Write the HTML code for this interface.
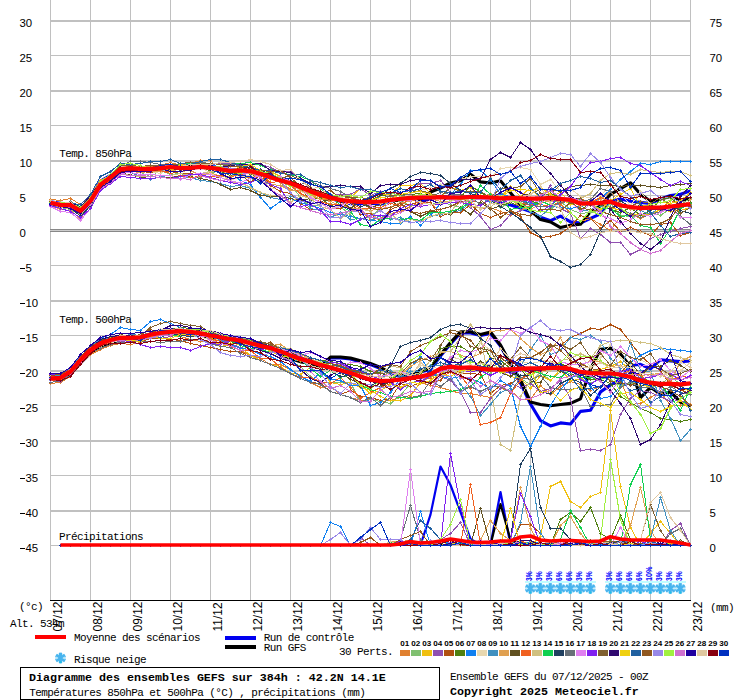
<!DOCTYPE html>
<html><head><meta charset="utf-8"><title>GEFS</title>
<style>
html,body{margin:0;padding:0;background:#fff;}
body{width:740px;height:700px;overflow:hidden;}
svg{display:block;}
.s{font-family:"Liberation Sans",sans-serif;font-size:11.4px;fill:#000;}
.d{font-family:"Liberation Sans",sans-serif;font-size:12px;fill:#000;}
.m{font-family:"Liberation Mono",monospace;font-size:11px;letter-spacing:-0.6px;fill:#000;}
.b{font-family:"Liberation Mono",monospace;font-weight:bold;font-size:11.67px;letter-spacing:0px;fill:#000;}
.t{font-family:"Liberation Sans",sans-serif;font-weight:bold;font-size:7.5px;fill:#000;}
.p{font-family:"Liberation Sans",sans-serif;font-weight:bold;font-size:8.6px;fill:#00f;}
.l{fill:none;stroke-linejoin:round;}
</style></head><body>
<svg width="740" height="700" viewBox="0 0 740 700">
<rect x="0" y="0" width="740" height="700" fill="#fff"/>
<g shape-rendering="crispEdges">
<rect x="50" y="0" width="1" height="600" fill="#c0c0c0"/>
<rect x="90" y="0" width="1" height="600" fill="#c0c0c0"/>
<rect x="130" y="0" width="1" height="600" fill="#c0c0c0"/>
<rect x="170" y="0" width="1" height="600" fill="#c0c0c0"/>
<rect x="210" y="0" width="1" height="600" fill="#c0c0c0"/>
<rect x="250" y="0" width="1" height="600" fill="#c0c0c0"/>
<rect x="290" y="0" width="1" height="600" fill="#c0c0c0"/>
<rect x="330" y="0" width="1" height="600" fill="#c0c0c0"/>
<rect x="370" y="0" width="1" height="600" fill="#c0c0c0"/>
<rect x="410" y="0" width="1" height="600" fill="#c0c0c0"/>
<rect x="450" y="0" width="1" height="600" fill="#c0c0c0"/>
<rect x="490" y="0" width="1" height="600" fill="#c0c0c0"/>
<rect x="530" y="0" width="1" height="600" fill="#c0c0c0"/>
<rect x="570" y="0" width="1" height="600" fill="#c0c0c0"/>
<rect x="610" y="0" width="1" height="600" fill="#c0c0c0"/>
<rect x="650" y="0" width="1" height="600" fill="#c0c0c0"/>
<rect x="690" y="0" width="1" height="600" fill="#c0c0c0"/>
<rect x="50" y="20" width="641" height="2" fill="#c0c0c0"/>
<rect x="50" y="55" width="641" height="1" fill="#c0c0c0"/>
<rect x="50" y="90" width="641" height="2" fill="#c0c0c0"/>
<rect x="50" y="125" width="641" height="1" fill="#c0c0c0"/>
<rect x="50" y="160" width="641" height="2" fill="#c0c0c0"/>
<rect x="50" y="195" width="641" height="1" fill="#c0c0c0"/>
<rect x="50" y="229" width="641" height="1" fill="#888"/>
<rect x="50" y="230" width="641" height="1" fill="#ccc"/>
<rect x="50" y="231" width="641" height="1" fill="#888"/>
<rect x="50" y="265" width="641" height="1" fill="#c0c0c0"/>
<rect x="50" y="300" width="641" height="2" fill="#c0c0c0"/>
<rect x="50" y="335" width="641" height="1" fill="#c0c0c0"/>
<rect x="50" y="370" width="641" height="2" fill="#c0c0c0"/>
<rect x="50" y="405" width="641" height="1" fill="#c0c0c0"/>
<rect x="50" y="440" width="641" height="2" fill="#c0c0c0"/>
<rect x="50" y="475" width="641" height="1" fill="#c0c0c0"/>
<rect x="50" y="510" width="641" height="2" fill="#c0c0c0"/>
<rect x="50" y="545" width="641" height="1" fill="#c0c0c0"/>
</g>
<text class="s" x="19.5" y="27">30</text>
<text class="s" x="709.5" y="27">75</text>
<text class="s" x="19.5" y="62">25</text>
<text class="s" x="709.5" y="62">70</text>
<text class="s" x="19.5" y="97">20</text>
<text class="s" x="709.5" y="97">65</text>
<text class="s" x="19.5" y="132">15</text>
<text class="s" x="709.5" y="132">60</text>
<text class="s" x="19.5" y="167">10</text>
<text class="s" x="709.5" y="167">55</text>
<text class="s" x="19.5" y="202">5</text>
<text class="s" x="709.5" y="202">50</text>
<text class="s" x="19.5" y="237">0</text>
<text class="s" x="709.5" y="237">45</text>
<rect x="20" y="268" width="5" height="1" fill="#000" shape-rendering="crispEdges"/>
<text class="s" x="25.5" y="272">5</text>
<text class="s" x="709.5" y="272">40</text>
<rect x="20" y="303" width="5" height="1" fill="#000" shape-rendering="crispEdges"/>
<text class="s" x="25.5" y="307">10</text>
<text class="s" x="709.5" y="307">35</text>
<rect x="20" y="338" width="5" height="1" fill="#000" shape-rendering="crispEdges"/>
<text class="s" x="25.5" y="342">15</text>
<text class="s" x="709.5" y="342">30</text>
<rect x="20" y="373" width="5" height="1" fill="#000" shape-rendering="crispEdges"/>
<text class="s" x="25.5" y="377">20</text>
<text class="s" x="709.5" y="377">25</text>
<rect x="20" y="408" width="5" height="1" fill="#000" shape-rendering="crispEdges"/>
<text class="s" x="25.5" y="412">25</text>
<text class="s" x="709.5" y="412">20</text>
<rect x="20" y="443" width="5" height="1" fill="#000" shape-rendering="crispEdges"/>
<text class="s" x="25.5" y="447">30</text>
<text class="s" x="709.5" y="447">15</text>
<rect x="20" y="478" width="5" height="1" fill="#000" shape-rendering="crispEdges"/>
<text class="s" x="25.5" y="482">35</text>
<text class="s" x="709.5" y="482">10</text>
<rect x="20" y="513" width="5" height="1" fill="#000" shape-rendering="crispEdges"/>
<text class="s" x="25.5" y="517">40</text>
<text class="s" x="709.5" y="517">5</text>
<rect x="20" y="548" width="5" height="1" fill="#000" shape-rendering="crispEdges"/>
<text class="s" x="25.5" y="552">45</text>
<text class="s" x="709.5" y="552">0</text>
<polyline class="l" points="50.5,201.8 60.5,203.2 70.5,204.4 80.5,208.3 90.5,198.7 100.5,181.1 110.5,175.4 120.5,167.8 130.5,168.1 140.5,168.5 150.5,169.2 160.5,167.9 170.5,166.2 180.5,167.6 190.5,166.4 200.5,165.4 210.5,167.2 220.5,168.8 230.5,170.4 240.5,171.6 250.5,172.1 260.5,174.2 270.5,177.7 280.5,180.4 290.5,182.8 300.5,186.7 310.5,192.6 320.5,195.8 330.5,198.5 340.5,201.3 350.5,203.7 360.5,203.8 370.5,203.2 380.5,204.3 390.5,201.0 400.5,199.4 410.5,198.9 420.5,200.3 430.5,198.8 440.5,196.3 450.5,197.3 460.5,197.1 470.5,196.2 480.5,196.8 490.5,199.0 500.5,203.0 510.5,205.0 520.5,208.0 530.5,211.6 540.5,217.3 550.5,220.7 560.5,216.1 570.5,221.9 580.5,223.0 590.5,218.4 600.5,213.9 610.5,201.2 620.5,198.9 630.5,201.2 640.5,202.4 650.5,203.5 660.5,198.9 670.5,195.5 680.5,194.3 690.5,190.9" stroke="#0000f0" stroke-width="3.1"/>
<polyline class="l" points="50.5,203.1 60.5,203.8 70.5,203.7 80.5,209.7 90.5,201.1 100.5,184.8 110.5,176.1 120.5,168.5 130.5,166.6 140.5,168.7 150.5,168.8 160.5,169.2 170.5,167.8 180.5,167.9 190.5,166.5 200.5,165.5 210.5,167.1 220.5,169.6 230.5,171.6 240.5,170.2 250.5,171.4 260.5,172.9 270.5,176.9 280.5,179.6 290.5,183.7 300.5,188.5 310.5,192.6 320.5,195.1 330.5,198.2 340.5,200.8 350.5,201.3 360.5,201.5 370.5,202.9 380.5,201.8 390.5,200.5 400.5,200.4 410.5,198.0 420.5,199.2 430.5,192.0 440.5,188.0 450.5,183.0 460.5,180.8 470.5,174.3 480.5,181.9 490.5,183.0 500.5,180.8 510.5,192.7 520.5,205.0 530.5,210.4 540.5,219.6 550.5,221.9 560.5,227.6 570.5,225.3 580.5,224.2 590.5,211.6 600.5,205.8 610.5,194.3 620.5,188.6 630.5,182.8 640.5,194.3 650.5,201.2 660.5,198.9 670.5,196.6 680.5,200.1 690.5,198.9" stroke="#000" stroke-width="3.1"/>
<polyline class="l" points="50.5,378.2 60.5,378.0 70.5,371.6 80.5,359.8 90.5,349.1 100.5,342.3 110.5,340.2 120.5,338.3 130.5,339.0 140.5,338.5 150.5,335.8 160.5,334.1 170.5,331.5 180.5,331.4 190.5,332.6 200.5,334.3 210.5,334.9 220.5,335.4 230.5,337.0 240.5,338.4 250.5,341.7 260.5,344.7 270.5,347.5 280.5,350.4 290.5,354.9 300.5,358.8 310.5,361.0 320.5,365.8 330.5,358.0 340.5,358.0 350.5,359.0 360.5,362.0 370.5,364.5 380.5,368.5 390.5,374.0 400.5,376.5 410.5,375.5 420.5,372.0 430.5,369.5 440.5,356.0 450.5,344.0 460.5,333.0 470.5,333.0 480.5,335.5 490.5,333.5 500.5,346.0 510.5,364.0 520.5,383.0 530.5,404.0 540.5,420.6 550.5,425.9 560.5,422.9 570.5,424.0 580.5,411.4 590.5,410.3 600.5,391.9 610.5,385.0 620.5,379.3 630.5,365.5 640.5,364.3 650.5,368.9 660.5,359.7 670.5,360.9 680.5,361.6 690.5,360.9" stroke="#0000f0" stroke-width="3.1"/>
<polyline class="l" points="50.5,378.7 60.5,380.1 70.5,374.3 80.5,363.0 90.5,353.0 100.5,345.9 110.5,342.7 120.5,339.9 130.5,339.0 140.5,337.5 150.5,333.9 160.5,332.7 170.5,332.2 180.5,332.7 190.5,333.7 200.5,335.2 210.5,337.5 220.5,339.0 230.5,339.1 240.5,341.4 250.5,343.6 260.5,346.5 270.5,348.5 280.5,354.2 290.5,358.6 300.5,361.9 310.5,363.2 320.5,367.0 330.5,357.0 340.5,357.0 350.5,358.1 360.5,360.8 370.5,363.5 380.5,367.4 390.5,373.1 400.5,375.4 410.5,374.3 420.5,371.0 430.5,368.5 440.5,354.7 450.5,342.6 460.5,331.7 470.5,331.7 480.5,334.5 490.5,332.0 500.5,345.0 510.5,363.6 520.5,380.0 530.5,402.0 540.5,404.5 550.5,405.7 560.5,404.5 570.5,403.4 580.5,398.8 590.5,368.9 600.5,349.4 610.5,348.2 620.5,354.0 630.5,366.6 640.5,397.6 650.5,387.3 660.5,394.2 670.5,391.9 680.5,402.2 690.5,405.7" stroke="#000" stroke-width="3.1"/>
<polyline class="l" points="60.5,545.0 70.5,545.0 80.5,545.0 90.5,545.0 100.5,545.0 110.5,545.0 120.5,545.0 130.5,545.0 140.5,545.0 150.5,545.0 160.5,545.0 170.5,545.0 180.5,545.0 190.5,545.0 200.5,545.0 210.5,545.0 220.5,545.0 230.5,545.0 240.5,545.0 250.5,545.0 260.5,545.0 270.5,545.0 280.5,545.0 290.5,545.0 300.5,545.0 310.5,545.0 320.5,545.0 330.5,545.0 340.5,545.0 350.5,545.0 360.5,545.0 370.5,545.0 380.5,545.0 390.5,545.0 400.5,545.0 410.5,545.0 420.5,545.0 430.5,514.6 440.5,466.5 450.5,485.0 460.5,512.0 470.5,539.0 480.5,545.0 490.5,545.0 500.5,492.0 510.5,545.0 520.5,545.0 530.5,545.0 540.5,545.0 550.5,545.0 560.5,545.0 570.5,545.0 580.5,545.0 590.5,545.0 600.5,545.0 610.5,545.0 620.5,545.0 630.5,545.0 640.5,545.0 650.5,545.0 660.5,545.0 670.5,545.0 680.5,545.0 690.5,545.0" stroke="#0000f0" stroke-width="2.2"/>
<polyline class="l" points="60.5,545.0 70.5,545.0 80.5,545.0 90.5,545.0 100.5,545.0 110.5,545.0 120.5,545.0 130.5,545.0 140.5,545.0 150.5,545.0 160.5,545.0 170.5,545.0 180.5,545.0 190.5,545.0 200.5,545.0 210.5,545.0 220.5,545.0 230.5,545.0 240.5,545.0 250.5,545.0 260.5,545.0 270.5,545.0 280.5,545.0 290.5,545.0 300.5,545.0 310.5,545.0 320.5,545.0 330.5,545.0 340.5,545.0 350.5,545.0 360.5,545.0 370.5,545.0 380.5,545.0 390.5,545.0 400.5,545.0 410.5,545.0 420.5,545.0 430.5,545.0 440.5,545.0 450.5,545.0 460.5,545.0 470.5,545.0 480.5,545.0 490.5,545.0 500.5,504.0 510.5,539.7 520.5,545.0 530.5,545.0 540.5,545.0 550.5,545.0 560.5,545.0 570.5,545.0 580.5,545.0 590.5,545.0 600.5,545.0 610.5,545.0 620.5,545.0 630.5,545.0 640.5,545.0 650.5,545.0 660.5,545.0 670.5,545.0 680.5,545.0 690.5,545.0" stroke="#000" stroke-width="2.2"/>
<g id="t850" shape-rendering="crispEdges">
<polyline class="l" points="50.5,199.5 60.5,200.5 70.5,198.5 80.5,204.5 90.5,194.5 100.5,180.5 110.5,175.5 120.5,168.5 130.5,165.5 140.5,166.5 150.5,166.5 160.5,165.5 170.5,162.5 180.5,165.5 190.5,163.5 200.5,160.5 210.5,160.5 220.5,170.5 230.5,170.5 240.5,168.5 250.5,173.5 260.5,172.5 270.5,173.5 280.5,182.5 290.5,189.5 300.5,187.5 310.5,196.5 320.5,198.5 330.5,200.5 340.5,200.5 350.5,210.5 360.5,210.5 370.5,219.5 380.5,218.5 390.5,213.5 400.5,211.5 410.5,206.5 420.5,202.5 430.5,202.5 440.5,212.5 450.5,211.5 460.5,201.5 470.5,205.5 480.5,208.5 490.5,207.5 500.5,211.5 510.5,215.5 520.5,210.5 530.5,205.5 540.5,197.5 550.5,197.5 560.5,204.5 570.5,212.5 580.5,221.5 590.5,218.5 600.5,224.5 610.5,230.5 620.5,216.5 630.5,214.5 640.5,218.5 650.5,213.5 660.5,212.5 670.5,206.5 680.5,205.5 690.5,204.5" stroke="#e08030" stroke-width="1"/><path d="M49 199h3v1h-3zM50 198h1v3h-1zM59 200h3v1h-3zM60 199h1v3h-1zM69 198h3v1h-3zM70 197h1v3h-1zM79 204h3v1h-3zM80 203h1v3h-1zM89 194h3v1h-3zM90 193h1v3h-1zM99 180h3v1h-3zM100 179h1v3h-1zM109 175h3v1h-3zM110 174h1v3h-1zM119 168h3v1h-3zM120 167h1v3h-1zM129 165h3v1h-3zM130 164h1v3h-1zM139 166h3v1h-3zM140 165h1v3h-1zM149 166h3v1h-3zM150 165h1v3h-1zM159 165h3v1h-3zM160 164h1v3h-1zM169 162h3v1h-3zM170 161h1v3h-1zM179 165h3v1h-3zM180 164h1v3h-1zM189 163h3v1h-3zM190 162h1v3h-1zM199 160h3v1h-3zM200 159h1v3h-1zM209 160h3v1h-3zM210 159h1v3h-1zM219 170h3v1h-3zM220 169h1v3h-1zM229 170h3v1h-3zM230 169h1v3h-1zM239 168h3v1h-3zM240 167h1v3h-1zM249 173h3v1h-3zM250 172h1v3h-1zM259 172h3v1h-3zM260 171h1v3h-1zM269 173h3v1h-3zM270 172h1v3h-1zM279 182h3v1h-3zM280 181h1v3h-1zM289 189h3v1h-3zM290 188h1v3h-1zM299 187h3v1h-3zM300 186h1v3h-1zM309 196h3v1h-3zM310 195h1v3h-1zM319 198h3v1h-3zM320 197h1v3h-1zM329 200h3v1h-3zM330 199h1v3h-1zM339 200h3v1h-3zM340 199h1v3h-1zM349 210h3v1h-3zM350 209h1v3h-1zM359 210h3v1h-3zM360 209h1v3h-1zM369 219h3v1h-3zM370 218h1v3h-1zM379 218h3v1h-3zM380 217h1v3h-1zM389 213h3v1h-3zM390 212h1v3h-1zM399 211h3v1h-3zM400 210h1v3h-1zM409 206h3v1h-3zM410 205h1v3h-1zM419 202h3v1h-3zM420 201h1v3h-1zM429 202h3v1h-3zM430 201h1v3h-1zM439 212h3v1h-3zM440 211h1v3h-1zM449 211h3v1h-3zM450 210h1v3h-1zM459 201h3v1h-3zM460 200h1v3h-1zM469 205h3v1h-3zM470 204h1v3h-1zM479 208h3v1h-3zM480 207h1v3h-1zM489 207h3v1h-3zM490 206h1v3h-1zM499 211h3v1h-3zM500 210h1v3h-1zM509 215h3v1h-3zM510 214h1v3h-1zM519 210h3v1h-3zM520 209h1v3h-1zM529 205h3v1h-3zM530 204h1v3h-1zM539 197h3v1h-3zM540 196h1v3h-1zM549 197h3v1h-3zM550 196h1v3h-1zM559 204h3v1h-3zM560 203h1v3h-1zM569 212h3v1h-3zM570 211h1v3h-1zM579 221h3v1h-3zM580 220h1v3h-1zM589 218h3v1h-3zM590 217h1v3h-1zM599 224h3v1h-3zM600 223h1v3h-1zM609 230h3v1h-3zM610 229h1v3h-1zM619 216h3v1h-3zM620 215h1v3h-1zM629 214h3v1h-3zM630 213h1v3h-1zM639 218h3v1h-3zM640 217h1v3h-1zM649 213h3v1h-3zM650 212h1v3h-1zM659 212h3v1h-3zM660 211h1v3h-1zM669 206h3v1h-3zM670 205h1v3h-1zM679 205h3v1h-3zM680 204h1v3h-1zM689 204h3v1h-3zM690 203h1v3h-1z" fill="#e08030" stroke="none"/>
<polyline class="l" points="50.5,204.5 60.5,207.5 70.5,209.5 80.5,215.5 90.5,206.5 100.5,188.5 110.5,181.5 120.5,174.5 130.5,170.5 140.5,172.5 150.5,176.5 160.5,170.5 170.5,174.5 180.5,173.5 190.5,177.5 200.5,177.5 210.5,172.5 220.5,171.5 230.5,172.5 240.5,176.5 250.5,178.5 260.5,181.5 270.5,184.5 280.5,185.5 290.5,184.5 300.5,197.5 310.5,206.5 320.5,204.5 330.5,203.5 340.5,206.5 350.5,215.5 360.5,219.5 370.5,216.5 380.5,208.5 390.5,199.5 400.5,201.5 410.5,205.5 420.5,206.5 430.5,204.5 440.5,202.5 450.5,204.5 460.5,207.5 470.5,197.5 480.5,199.5 490.5,198.5 500.5,207.5 510.5,202.5 520.5,196.5 530.5,202.5 540.5,203.5 550.5,209.5 560.5,201.5 570.5,209.5 580.5,213.5 590.5,212.5 600.5,210.5 610.5,203.5 620.5,215.5 630.5,216.5 640.5,215.5 650.5,212.5 660.5,215.5 670.5,208.5 680.5,204.5 690.5,198.5" stroke="#80c070" stroke-width="1"/><path d="M49 204h3v1h-3zM50 203h1v3h-1zM59 207h3v1h-3zM60 206h1v3h-1zM69 209h3v1h-3zM70 208h1v3h-1zM79 215h3v1h-3zM80 214h1v3h-1zM89 206h3v1h-3zM90 205h1v3h-1zM99 188h3v1h-3zM100 187h1v3h-1zM109 181h3v1h-3zM110 180h1v3h-1zM119 174h3v1h-3zM120 173h1v3h-1zM129 170h3v1h-3zM130 169h1v3h-1zM139 172h3v1h-3zM140 171h1v3h-1zM149 176h3v1h-3zM150 175h1v3h-1zM159 170h3v1h-3zM160 169h1v3h-1zM169 174h3v1h-3zM170 173h1v3h-1zM179 173h3v1h-3zM180 172h1v3h-1zM189 177h3v1h-3zM190 176h1v3h-1zM199 177h3v1h-3zM200 176h1v3h-1zM209 172h3v1h-3zM210 171h1v3h-1zM219 171h3v1h-3zM220 170h1v3h-1zM229 172h3v1h-3zM230 171h1v3h-1zM239 176h3v1h-3zM240 175h1v3h-1zM249 178h3v1h-3zM250 177h1v3h-1zM259 181h3v1h-3zM260 180h1v3h-1zM269 184h3v1h-3zM270 183h1v3h-1zM279 185h3v1h-3zM280 184h1v3h-1zM289 184h3v1h-3zM290 183h1v3h-1zM299 197h3v1h-3zM300 196h1v3h-1zM309 206h3v1h-3zM310 205h1v3h-1zM319 204h3v1h-3zM320 203h1v3h-1zM329 203h3v1h-3zM330 202h1v3h-1zM339 206h3v1h-3zM340 205h1v3h-1zM349 215h3v1h-3zM350 214h1v3h-1zM359 219h3v1h-3zM360 218h1v3h-1zM369 216h3v1h-3zM370 215h1v3h-1zM379 208h3v1h-3zM380 207h1v3h-1zM389 199h3v1h-3zM390 198h1v3h-1zM399 201h3v1h-3zM400 200h1v3h-1zM409 205h3v1h-3zM410 204h1v3h-1zM419 206h3v1h-3zM420 205h1v3h-1zM429 204h3v1h-3zM430 203h1v3h-1zM439 202h3v1h-3zM440 201h1v3h-1zM449 204h3v1h-3zM450 203h1v3h-1zM459 207h3v1h-3zM460 206h1v3h-1zM469 197h3v1h-3zM470 196h1v3h-1zM479 199h3v1h-3zM480 198h1v3h-1zM489 198h3v1h-3zM490 197h1v3h-1zM499 207h3v1h-3zM500 206h1v3h-1zM509 202h3v1h-3zM510 201h1v3h-1zM519 196h3v1h-3zM520 195h1v3h-1zM529 202h3v1h-3zM530 201h1v3h-1zM539 203h3v1h-3zM540 202h1v3h-1zM549 209h3v1h-3zM550 208h1v3h-1zM559 201h3v1h-3zM560 200h1v3h-1zM569 209h3v1h-3zM570 208h1v3h-1zM579 213h3v1h-3zM580 212h1v3h-1zM589 212h3v1h-3zM590 211h1v3h-1zM599 210h3v1h-3zM600 209h1v3h-1zM609 203h3v1h-3zM610 202h1v3h-1zM619 215h3v1h-3zM620 214h1v3h-1zM629 216h3v1h-3zM630 215h1v3h-1zM639 215h3v1h-3zM640 214h1v3h-1zM649 212h3v1h-3zM650 211h1v3h-1zM659 215h3v1h-3zM660 214h1v3h-1zM669 208h3v1h-3zM670 207h1v3h-1zM679 204h3v1h-3zM680 203h1v3h-1zM689 198h3v1h-3zM690 197h1v3h-1z" fill="#80c070" stroke="none"/>
<polyline class="l" points="50.5,204.5 60.5,205.5 70.5,207.5 80.5,213.5 90.5,203.5 100.5,187.5 110.5,180.5 120.5,172.5 130.5,171.5 140.5,169.5 150.5,172.5 160.5,167.5 170.5,167.5 180.5,164.5 190.5,166.5 200.5,168.5 210.5,167.5 220.5,172.5 230.5,171.5 240.5,169.5 250.5,170.5 260.5,170.5 270.5,171.5 280.5,176.5 290.5,182.5 300.5,190.5 310.5,193.5 320.5,197.5 330.5,199.5 340.5,201.5 350.5,197.5 360.5,188.5 370.5,195.5 380.5,194.5 390.5,194.5 400.5,185.5 410.5,185.5 420.5,183.5 430.5,193.5 440.5,197.5 450.5,187.5 460.5,190.5 470.5,187.5 480.5,198.5 490.5,195.5 500.5,197.5 510.5,186.5 520.5,196.5 530.5,187.5 540.5,198.5 550.5,196.5 560.5,192.5 570.5,202.5 580.5,203.5 590.5,200.5 600.5,202.5 610.5,207.5 620.5,210.5 630.5,213.5 640.5,215.5 650.5,214.5 660.5,209.5 670.5,211.5 680.5,210.5 690.5,207.5" stroke="#f0c010" stroke-width="1"/><path d="M49 204h3v1h-3zM50 203h1v3h-1zM59 205h3v1h-3zM60 204h1v3h-1zM69 207h3v1h-3zM70 206h1v3h-1zM79 213h3v1h-3zM80 212h1v3h-1zM89 203h3v1h-3zM90 202h1v3h-1zM99 187h3v1h-3zM100 186h1v3h-1zM109 180h3v1h-3zM110 179h1v3h-1zM119 172h3v1h-3zM120 171h1v3h-1zM129 171h3v1h-3zM130 170h1v3h-1zM139 169h3v1h-3zM140 168h1v3h-1zM149 172h3v1h-3zM150 171h1v3h-1zM159 167h3v1h-3zM160 166h1v3h-1zM169 167h3v1h-3zM170 166h1v3h-1zM179 164h3v1h-3zM180 163h1v3h-1zM189 166h3v1h-3zM190 165h1v3h-1zM199 168h3v1h-3zM200 167h1v3h-1zM209 167h3v1h-3zM210 166h1v3h-1zM219 172h3v1h-3zM220 171h1v3h-1zM229 171h3v1h-3zM230 170h1v3h-1zM239 169h3v1h-3zM240 168h1v3h-1zM249 170h3v1h-3zM250 169h1v3h-1zM259 170h3v1h-3zM260 169h1v3h-1zM269 171h3v1h-3zM270 170h1v3h-1zM279 176h3v1h-3zM280 175h1v3h-1zM289 182h3v1h-3zM290 181h1v3h-1zM299 190h3v1h-3zM300 189h1v3h-1zM309 193h3v1h-3zM310 192h1v3h-1zM319 197h3v1h-3zM320 196h1v3h-1zM329 199h3v1h-3zM330 198h1v3h-1zM339 201h3v1h-3zM340 200h1v3h-1zM349 197h3v1h-3zM350 196h1v3h-1zM359 188h3v1h-3zM360 187h1v3h-1zM369 195h3v1h-3zM370 194h1v3h-1zM379 194h3v1h-3zM380 193h1v3h-1zM389 194h3v1h-3zM390 193h1v3h-1zM399 185h3v1h-3zM400 184h1v3h-1zM409 185h3v1h-3zM410 184h1v3h-1zM419 183h3v1h-3zM420 182h1v3h-1zM429 193h3v1h-3zM430 192h1v3h-1zM439 197h3v1h-3zM440 196h1v3h-1zM449 187h3v1h-3zM450 186h1v3h-1zM459 190h3v1h-3zM460 189h1v3h-1zM469 187h3v1h-3zM470 186h1v3h-1zM479 198h3v1h-3zM480 197h1v3h-1zM489 195h3v1h-3zM490 194h1v3h-1zM499 197h3v1h-3zM500 196h1v3h-1zM509 186h3v1h-3zM510 185h1v3h-1zM519 196h3v1h-3zM520 195h1v3h-1zM529 187h3v1h-3zM530 186h1v3h-1zM539 198h3v1h-3zM540 197h1v3h-1zM549 196h3v1h-3zM550 195h1v3h-1zM559 192h3v1h-3zM560 191h1v3h-1zM569 202h3v1h-3zM570 201h1v3h-1zM579 203h3v1h-3zM580 202h1v3h-1zM589 200h3v1h-3zM590 199h1v3h-1zM599 202h3v1h-3zM600 201h1v3h-1zM609 207h3v1h-3zM610 206h1v3h-1zM619 210h3v1h-3zM620 209h1v3h-1zM629 213h3v1h-3zM630 212h1v3h-1zM639 215h3v1h-3zM640 214h1v3h-1zM649 214h3v1h-3zM650 213h1v3h-1zM659 209h3v1h-3zM660 208h1v3h-1zM669 211h3v1h-3zM670 210h1v3h-1zM679 210h3v1h-3zM680 209h1v3h-1zM689 207h3v1h-3zM690 206h1v3h-1z" fill="#f0c010" stroke="none"/>
<polyline class="l" points="50.5,203.5 60.5,204.5 70.5,203.5 80.5,209.5 90.5,197.5 100.5,182.5 110.5,177.5 120.5,173.5 130.5,170.5 140.5,172.5 150.5,171.5 160.5,168.5 170.5,166.5 180.5,167.5 190.5,167.5 200.5,161.5 210.5,164.5 220.5,163.5 230.5,163.5 240.5,163.5 250.5,164.5 260.5,164.5 270.5,167.5 280.5,172.5 290.5,171.5 300.5,178.5 310.5,190.5 320.5,191.5 330.5,195.5 340.5,194.5 350.5,194.5 360.5,188.5 370.5,195.5 380.5,191.5 390.5,193.5 400.5,192.5 410.5,190.5 420.5,183.5 430.5,183.5 440.5,180.5 450.5,192.5 460.5,201.5 470.5,207.5 480.5,216.5 490.5,229.5 500.5,225.5 510.5,214.5 520.5,210.5 530.5,200.5 540.5,199.5 550.5,185.5 560.5,208.5 570.5,213.5 580.5,238.5 590.5,228.5 600.5,234.5 610.5,242.5 620.5,242.5 630.5,254.5 640.5,249.5 650.5,238.5 660.5,234.5 670.5,231.5 680.5,228.5 690.5,226.5" stroke="#9050b0" stroke-width="1"/><path d="M49 203h3v1h-3zM50 202h1v3h-1zM59 204h3v1h-3zM60 203h1v3h-1zM69 203h3v1h-3zM70 202h1v3h-1zM79 209h3v1h-3zM80 208h1v3h-1zM89 197h3v1h-3zM90 196h1v3h-1zM99 182h3v1h-3zM100 181h1v3h-1zM109 177h3v1h-3zM110 176h1v3h-1zM119 173h3v1h-3zM120 172h1v3h-1zM129 170h3v1h-3zM130 169h1v3h-1zM139 172h3v1h-3zM140 171h1v3h-1zM149 171h3v1h-3zM150 170h1v3h-1zM159 168h3v1h-3zM160 167h1v3h-1zM169 166h3v1h-3zM170 165h1v3h-1zM179 167h3v1h-3zM180 166h1v3h-1zM189 167h3v1h-3zM190 166h1v3h-1zM199 161h3v1h-3zM200 160h1v3h-1zM209 164h3v1h-3zM210 163h1v3h-1zM219 163h3v1h-3zM220 162h1v3h-1zM229 163h3v1h-3zM230 162h1v3h-1zM239 163h3v1h-3zM240 162h1v3h-1zM249 164h3v1h-3zM250 163h1v3h-1zM259 164h3v1h-3zM260 163h1v3h-1zM269 167h3v1h-3zM270 166h1v3h-1zM279 172h3v1h-3zM280 171h1v3h-1zM289 171h3v1h-3zM290 170h1v3h-1zM299 178h3v1h-3zM300 177h1v3h-1zM309 190h3v1h-3zM310 189h1v3h-1zM319 191h3v1h-3zM320 190h1v3h-1zM329 195h3v1h-3zM330 194h1v3h-1zM339 194h3v1h-3zM340 193h1v3h-1zM349 194h3v1h-3zM350 193h1v3h-1zM359 188h3v1h-3zM360 187h1v3h-1zM369 195h3v1h-3zM370 194h1v3h-1zM379 191h3v1h-3zM380 190h1v3h-1zM389 193h3v1h-3zM390 192h1v3h-1zM399 192h3v1h-3zM400 191h1v3h-1zM409 190h3v1h-3zM410 189h1v3h-1zM419 183h3v1h-3zM420 182h1v3h-1zM429 183h3v1h-3zM430 182h1v3h-1zM439 180h3v1h-3zM440 179h1v3h-1zM449 192h3v1h-3zM450 191h1v3h-1zM459 201h3v1h-3zM460 200h1v3h-1zM469 207h3v1h-3zM470 206h1v3h-1zM479 216h3v1h-3zM480 215h1v3h-1zM489 229h3v1h-3zM490 228h1v3h-1zM499 225h3v1h-3zM500 224h1v3h-1zM509 214h3v1h-3zM510 213h1v3h-1zM519 210h3v1h-3zM520 209h1v3h-1zM529 200h3v1h-3zM530 199h1v3h-1zM539 199h3v1h-3zM540 198h1v3h-1zM549 185h3v1h-3zM550 184h1v3h-1zM559 208h3v1h-3zM560 207h1v3h-1zM569 213h3v1h-3zM570 212h1v3h-1zM579 238h3v1h-3zM580 237h1v3h-1zM589 228h3v1h-3zM590 227h1v3h-1zM599 234h3v1h-3zM600 233h1v3h-1zM609 242h3v1h-3zM610 241h1v3h-1zM619 242h3v1h-3zM620 241h1v3h-1zM629 254h3v1h-3zM630 253h1v3h-1zM639 249h3v1h-3zM640 248h1v3h-1zM649 238h3v1h-3zM650 237h1v3h-1zM659 234h3v1h-3zM660 233h1v3h-1zM669 231h3v1h-3zM670 230h1v3h-1zM679 228h3v1h-3zM680 227h1v3h-1zM689 226h3v1h-3zM690 225h1v3h-1z" fill="#9050b0" stroke="none"/>
<polyline class="l" points="50.5,202.5 60.5,205.5 70.5,205.5 80.5,209.5 90.5,198.5 100.5,186.5 110.5,178.5 120.5,170.5 130.5,169.5 140.5,171.5 150.5,172.5 160.5,171.5 170.5,171.5 180.5,173.5 190.5,173.5 200.5,175.5 210.5,176.5 220.5,177.5 230.5,171.5 240.5,174.5 250.5,182.5 260.5,174.5 270.5,185.5 280.5,191.5 290.5,193.5 300.5,203.5 310.5,209.5 320.5,209.5 330.5,208.5 340.5,208.5 350.5,201.5 360.5,214.5 370.5,213.5 380.5,221.5 390.5,209.5 400.5,205.5 410.5,204.5 420.5,201.5 430.5,202.5 440.5,216.5 450.5,212.5 460.5,212.5 470.5,204.5 480.5,213.5 490.5,217.5 500.5,213.5 510.5,211.5 520.5,216.5 530.5,232.5 540.5,237.5 550.5,236.5 560.5,233.5 570.5,226.5 580.5,215.5 590.5,218.5 600.5,228.5 610.5,220.5 620.5,231.5 630.5,227.5 640.5,231.5 650.5,235.5 660.5,224.5 670.5,222.5 680.5,235.5 690.5,232.5" stroke="#b05010" stroke-width="1"/><path d="M49 202h3v1h-3zM50 201h1v3h-1zM59 205h3v1h-3zM60 204h1v3h-1zM69 205h3v1h-3zM70 204h1v3h-1zM79 209h3v1h-3zM80 208h1v3h-1zM89 198h3v1h-3zM90 197h1v3h-1zM99 186h3v1h-3zM100 185h1v3h-1zM109 178h3v1h-3zM110 177h1v3h-1zM119 170h3v1h-3zM120 169h1v3h-1zM129 169h3v1h-3zM130 168h1v3h-1zM139 171h3v1h-3zM140 170h1v3h-1zM149 172h3v1h-3zM150 171h1v3h-1zM159 171h3v1h-3zM160 170h1v3h-1zM169 171h3v1h-3zM170 170h1v3h-1zM179 173h3v1h-3zM180 172h1v3h-1zM189 173h3v1h-3zM190 172h1v3h-1zM199 175h3v1h-3zM200 174h1v3h-1zM209 176h3v1h-3zM210 175h1v3h-1zM219 177h3v1h-3zM220 176h1v3h-1zM229 171h3v1h-3zM230 170h1v3h-1zM239 174h3v1h-3zM240 173h1v3h-1zM249 182h3v1h-3zM250 181h1v3h-1zM259 174h3v1h-3zM260 173h1v3h-1zM269 185h3v1h-3zM270 184h1v3h-1zM279 191h3v1h-3zM280 190h1v3h-1zM289 193h3v1h-3zM290 192h1v3h-1zM299 203h3v1h-3zM300 202h1v3h-1zM309 209h3v1h-3zM310 208h1v3h-1zM319 209h3v1h-3zM320 208h1v3h-1zM329 208h3v1h-3zM330 207h1v3h-1zM339 208h3v1h-3zM340 207h1v3h-1zM349 201h3v1h-3zM350 200h1v3h-1zM359 214h3v1h-3zM360 213h1v3h-1zM369 213h3v1h-3zM370 212h1v3h-1zM379 221h3v1h-3zM380 220h1v3h-1zM389 209h3v1h-3zM390 208h1v3h-1zM399 205h3v1h-3zM400 204h1v3h-1zM409 204h3v1h-3zM410 203h1v3h-1zM419 201h3v1h-3zM420 200h1v3h-1zM429 202h3v1h-3zM430 201h1v3h-1zM439 216h3v1h-3zM440 215h1v3h-1zM449 212h3v1h-3zM450 211h1v3h-1zM459 212h3v1h-3zM460 211h1v3h-1zM469 204h3v1h-3zM470 203h1v3h-1zM479 213h3v1h-3zM480 212h1v3h-1zM489 217h3v1h-3zM490 216h1v3h-1zM499 213h3v1h-3zM500 212h1v3h-1zM509 211h3v1h-3zM510 210h1v3h-1zM519 216h3v1h-3zM520 215h1v3h-1zM529 232h3v1h-3zM530 231h1v3h-1zM539 237h3v1h-3zM540 236h1v3h-1zM549 236h3v1h-3zM550 235h1v3h-1zM559 233h3v1h-3zM560 232h1v3h-1zM569 226h3v1h-3zM570 225h1v3h-1zM579 215h3v1h-3zM580 214h1v3h-1zM589 218h3v1h-3zM590 217h1v3h-1zM599 228h3v1h-3zM600 227h1v3h-1zM609 220h3v1h-3zM610 219h1v3h-1zM619 231h3v1h-3zM620 230h1v3h-1zM629 227h3v1h-3zM630 226h1v3h-1zM639 231h3v1h-3zM640 230h1v3h-1zM649 235h3v1h-3zM650 234h1v3h-1zM659 224h3v1h-3zM660 223h1v3h-1zM669 222h3v1h-3zM670 221h1v3h-1zM679 235h3v1h-3zM680 234h1v3h-1zM689 232h3v1h-3zM690 231h1v3h-1z" fill="#b05010" stroke="none"/>
<polyline class="l" points="50.5,200.5 60.5,203.5 70.5,203.5 80.5,208.5 90.5,196.5 100.5,181.5 110.5,175.5 120.5,167.5 130.5,167.5 140.5,169.5 150.5,171.5 160.5,169.5 170.5,167.5 180.5,170.5 190.5,167.5 200.5,165.5 210.5,171.5 220.5,171.5 230.5,175.5 240.5,171.5 250.5,174.5 260.5,176.5 270.5,175.5 280.5,180.5 290.5,177.5 300.5,188.5 310.5,200.5 320.5,197.5 330.5,206.5 340.5,200.5 350.5,200.5 360.5,202.5 370.5,200.5 380.5,195.5 390.5,196.5 400.5,194.5 410.5,194.5 420.5,193.5 430.5,197.5 440.5,196.5 450.5,196.5 460.5,197.5 470.5,185.5 480.5,192.5 490.5,197.5 500.5,205.5 510.5,202.5 520.5,206.5 530.5,200.5 540.5,204.5 550.5,193.5 560.5,197.5 570.5,201.5 580.5,209.5 590.5,203.5 600.5,204.5 610.5,209.5 620.5,212.5 630.5,207.5 640.5,215.5 650.5,210.5 660.5,199.5 670.5,197.5 680.5,206.5 690.5,202.5" stroke="#508010" stroke-width="1"/><path d="M49 200h3v1h-3zM50 199h1v3h-1zM59 203h3v1h-3zM60 202h1v3h-1zM69 203h3v1h-3zM70 202h1v3h-1zM79 208h3v1h-3zM80 207h1v3h-1zM89 196h3v1h-3zM90 195h1v3h-1zM99 181h3v1h-3zM100 180h1v3h-1zM109 175h3v1h-3zM110 174h1v3h-1zM119 167h3v1h-3zM120 166h1v3h-1zM129 167h3v1h-3zM130 166h1v3h-1zM139 169h3v1h-3zM140 168h1v3h-1zM149 171h3v1h-3zM150 170h1v3h-1zM159 169h3v1h-3zM160 168h1v3h-1zM169 167h3v1h-3zM170 166h1v3h-1zM179 170h3v1h-3zM180 169h1v3h-1zM189 167h3v1h-3zM190 166h1v3h-1zM199 165h3v1h-3zM200 164h1v3h-1zM209 171h3v1h-3zM210 170h1v3h-1zM219 171h3v1h-3zM220 170h1v3h-1zM229 175h3v1h-3zM230 174h1v3h-1zM239 171h3v1h-3zM240 170h1v3h-1zM249 174h3v1h-3zM250 173h1v3h-1zM259 176h3v1h-3zM260 175h1v3h-1zM269 175h3v1h-3zM270 174h1v3h-1zM279 180h3v1h-3zM280 179h1v3h-1zM289 177h3v1h-3zM290 176h1v3h-1zM299 188h3v1h-3zM300 187h1v3h-1zM309 200h3v1h-3zM310 199h1v3h-1zM319 197h3v1h-3zM320 196h1v3h-1zM329 206h3v1h-3zM330 205h1v3h-1zM339 200h3v1h-3zM340 199h1v3h-1zM349 200h3v1h-3zM350 199h1v3h-1zM359 202h3v1h-3zM360 201h1v3h-1zM369 200h3v1h-3zM370 199h1v3h-1zM379 195h3v1h-3zM380 194h1v3h-1zM389 196h3v1h-3zM390 195h1v3h-1zM399 194h3v1h-3zM400 193h1v3h-1zM409 194h3v1h-3zM410 193h1v3h-1zM419 193h3v1h-3zM420 192h1v3h-1zM429 197h3v1h-3zM430 196h1v3h-1zM439 196h3v1h-3zM440 195h1v3h-1zM449 196h3v1h-3zM450 195h1v3h-1zM459 197h3v1h-3zM460 196h1v3h-1zM469 185h3v1h-3zM470 184h1v3h-1zM479 192h3v1h-3zM480 191h1v3h-1zM489 197h3v1h-3zM490 196h1v3h-1zM499 205h3v1h-3zM500 204h1v3h-1zM509 202h3v1h-3zM510 201h1v3h-1zM519 206h3v1h-3zM520 205h1v3h-1zM529 200h3v1h-3zM530 199h1v3h-1zM539 204h3v1h-3zM540 203h1v3h-1zM549 193h3v1h-3zM550 192h1v3h-1zM559 197h3v1h-3zM560 196h1v3h-1zM569 201h3v1h-3zM570 200h1v3h-1zM579 209h3v1h-3zM580 208h1v3h-1zM589 203h3v1h-3zM590 202h1v3h-1zM599 204h3v1h-3zM600 203h1v3h-1zM609 209h3v1h-3zM610 208h1v3h-1zM619 212h3v1h-3zM620 211h1v3h-1zM629 207h3v1h-3zM630 206h1v3h-1zM639 215h3v1h-3zM640 214h1v3h-1zM649 210h3v1h-3zM650 209h1v3h-1zM659 199h3v1h-3zM660 198h1v3h-1zM669 197h3v1h-3zM670 196h1v3h-1zM679 206h3v1h-3zM680 205h1v3h-1zM689 202h3v1h-3zM690 201h1v3h-1z" fill="#508010" stroke="none"/>
<polyline class="l" points="50.5,202.5 60.5,204.5 70.5,203.5 80.5,209.5 90.5,197.5 100.5,182.5 110.5,175.5 120.5,168.5 130.5,168.5 140.5,168.5 150.5,169.5 160.5,169.5 170.5,165.5 180.5,166.5 190.5,169.5 200.5,164.5 210.5,165.5 220.5,166.5 230.5,172.5 240.5,180.5 250.5,184.5 260.5,197.5 270.5,208.5 280.5,201.5 290.5,198.5 300.5,202.5 310.5,205.5 320.5,208.5 330.5,212.5 340.5,214.5 350.5,216.5 360.5,218.5 370.5,220.5 380.5,221.5 390.5,223.5 400.5,223.5 410.5,216.5 420.5,225.5 430.5,215.5 440.5,203.5 450.5,194.5 460.5,184.5 470.5,170.5 480.5,170.5 490.5,179.5 500.5,194.5 510.5,196.5 520.5,199.5 530.5,203.5 540.5,204.5 550.5,206.5 560.5,207.5 570.5,208.5 580.5,206.5 590.5,204.5 600.5,198.5 610.5,189.5 620.5,179.5 630.5,171.5 640.5,163.5 650.5,164.5 660.5,161.5 670.5,161.5 680.5,161.5 690.5,161.5" stroke="#1080f0" stroke-width="1"/><path d="M49 202h3v1h-3zM50 201h1v3h-1zM59 204h3v1h-3zM60 203h1v3h-1zM69 203h3v1h-3zM70 202h1v3h-1zM79 209h3v1h-3zM80 208h1v3h-1zM89 197h3v1h-3zM90 196h1v3h-1zM99 182h3v1h-3zM100 181h1v3h-1zM109 175h3v1h-3zM110 174h1v3h-1zM119 168h3v1h-3zM120 167h1v3h-1zM129 168h3v1h-3zM130 167h1v3h-1zM139 168h3v1h-3zM140 167h1v3h-1zM149 169h3v1h-3zM150 168h1v3h-1zM159 169h3v1h-3zM160 168h1v3h-1zM169 165h3v1h-3zM170 164h1v3h-1zM179 166h3v1h-3zM180 165h1v3h-1zM189 169h3v1h-3zM190 168h1v3h-1zM199 164h3v1h-3zM200 163h1v3h-1zM209 165h3v1h-3zM210 164h1v3h-1zM219 166h3v1h-3zM220 165h1v3h-1zM229 172h3v1h-3zM230 171h1v3h-1zM239 180h3v1h-3zM240 179h1v3h-1zM249 184h3v1h-3zM250 183h1v3h-1zM259 197h3v1h-3zM260 196h1v3h-1zM269 208h3v1h-3zM270 207h1v3h-1zM279 201h3v1h-3zM280 200h1v3h-1zM289 198h3v1h-3zM290 197h1v3h-1zM299 202h3v1h-3zM300 201h1v3h-1zM309 205h3v1h-3zM310 204h1v3h-1zM319 208h3v1h-3zM320 207h1v3h-1zM329 212h3v1h-3zM330 211h1v3h-1zM339 214h3v1h-3zM340 213h1v3h-1zM349 216h3v1h-3zM350 215h1v3h-1zM359 218h3v1h-3zM360 217h1v3h-1zM369 220h3v1h-3zM370 219h1v3h-1zM379 221h3v1h-3zM380 220h1v3h-1zM389 223h3v1h-3zM390 222h1v3h-1zM399 223h3v1h-3zM400 222h1v3h-1zM409 216h3v1h-3zM410 215h1v3h-1zM419 225h3v1h-3zM420 224h1v3h-1zM429 215h3v1h-3zM430 214h1v3h-1zM439 203h3v1h-3zM440 202h1v3h-1zM449 194h3v1h-3zM450 193h1v3h-1zM459 184h3v1h-3zM460 183h1v3h-1zM469 170h3v1h-3zM470 169h1v3h-1zM479 170h3v1h-3zM480 169h1v3h-1zM489 179h3v1h-3zM490 178h1v3h-1zM499 194h3v1h-3zM500 193h1v3h-1zM509 196h3v1h-3zM510 195h1v3h-1zM519 199h3v1h-3zM520 198h1v3h-1zM529 203h3v1h-3zM530 202h1v3h-1zM539 204h3v1h-3zM540 203h1v3h-1zM549 206h3v1h-3zM550 205h1v3h-1zM559 207h3v1h-3zM560 206h1v3h-1zM569 208h3v1h-3zM570 207h1v3h-1zM579 206h3v1h-3zM580 205h1v3h-1zM589 204h3v1h-3zM590 203h1v3h-1zM599 198h3v1h-3zM600 197h1v3h-1zM609 189h3v1h-3zM610 188h1v3h-1zM619 179h3v1h-3zM620 178h1v3h-1zM629 171h3v1h-3zM630 170h1v3h-1zM639 163h3v1h-3zM640 162h1v3h-1zM649 164h3v1h-3zM650 163h1v3h-1zM659 161h3v1h-3zM660 160h1v3h-1zM669 161h3v1h-3zM670 160h1v3h-1zM679 161h3v1h-3zM680 160h1v3h-1zM689 161h3v1h-3zM690 160h1v3h-1z" fill="#1080f0" stroke="none"/>
<polyline class="l" points="50.5,200.5 60.5,203.5 70.5,204.5 80.5,206.5 90.5,201.5 100.5,183.5 110.5,177.5 120.5,166.5 130.5,167.5 140.5,167.5 150.5,171.5 160.5,173.5 170.5,167.5 180.5,166.5 190.5,167.5 200.5,166.5 210.5,173.5 220.5,177.5 230.5,180.5 240.5,176.5 250.5,175.5 260.5,180.5 270.5,188.5 280.5,187.5 290.5,183.5 300.5,191.5 310.5,195.5 320.5,203.5 330.5,208.5 340.5,205.5 350.5,203.5 360.5,201.5 370.5,201.5 380.5,199.5 390.5,199.5 400.5,198.5 410.5,193.5 420.5,190.5 430.5,187.5 440.5,184.5 450.5,188.5 460.5,179.5 470.5,176.5 480.5,176.5 490.5,177.5 500.5,168.5 510.5,167.5 520.5,167.5 530.5,169.5 540.5,184.5 550.5,179.5 560.5,191.5 570.5,188.5 580.5,196.5 590.5,197.5 600.5,196.5 610.5,183.5 620.5,193.5 630.5,205.5 640.5,191.5 650.5,204.5 660.5,207.5 670.5,205.5 680.5,205.5 690.5,203.5" stroke="#e8d8b0" stroke-width="1"/><path d="M49 200h3v1h-3zM50 199h1v3h-1zM59 203h3v1h-3zM60 202h1v3h-1zM69 204h3v1h-3zM70 203h1v3h-1zM79 206h3v1h-3zM80 205h1v3h-1zM89 201h3v1h-3zM90 200h1v3h-1zM99 183h3v1h-3zM100 182h1v3h-1zM109 177h3v1h-3zM110 176h1v3h-1zM119 166h3v1h-3zM120 165h1v3h-1zM129 167h3v1h-3zM130 166h1v3h-1zM139 167h3v1h-3zM140 166h1v3h-1zM149 171h3v1h-3zM150 170h1v3h-1zM159 173h3v1h-3zM160 172h1v3h-1zM169 167h3v1h-3zM170 166h1v3h-1zM179 166h3v1h-3zM180 165h1v3h-1zM189 167h3v1h-3zM190 166h1v3h-1zM199 166h3v1h-3zM200 165h1v3h-1zM209 173h3v1h-3zM210 172h1v3h-1zM219 177h3v1h-3zM220 176h1v3h-1zM229 180h3v1h-3zM230 179h1v3h-1zM239 176h3v1h-3zM240 175h1v3h-1zM249 175h3v1h-3zM250 174h1v3h-1zM259 180h3v1h-3zM260 179h1v3h-1zM269 188h3v1h-3zM270 187h1v3h-1zM279 187h3v1h-3zM280 186h1v3h-1zM289 183h3v1h-3zM290 182h1v3h-1zM299 191h3v1h-3zM300 190h1v3h-1zM309 195h3v1h-3zM310 194h1v3h-1zM319 203h3v1h-3zM320 202h1v3h-1zM329 208h3v1h-3zM330 207h1v3h-1zM339 205h3v1h-3zM340 204h1v3h-1zM349 203h3v1h-3zM350 202h1v3h-1zM359 201h3v1h-3zM360 200h1v3h-1zM369 201h3v1h-3zM370 200h1v3h-1zM379 199h3v1h-3zM380 198h1v3h-1zM389 199h3v1h-3zM390 198h1v3h-1zM399 198h3v1h-3zM400 197h1v3h-1zM409 193h3v1h-3zM410 192h1v3h-1zM419 190h3v1h-3zM420 189h1v3h-1zM429 187h3v1h-3zM430 186h1v3h-1zM439 184h3v1h-3zM440 183h1v3h-1zM449 188h3v1h-3zM450 187h1v3h-1zM459 179h3v1h-3zM460 178h1v3h-1zM469 176h3v1h-3zM470 175h1v3h-1zM479 176h3v1h-3zM480 175h1v3h-1zM489 177h3v1h-3zM490 176h1v3h-1zM499 168h3v1h-3zM500 167h1v3h-1zM509 167h3v1h-3zM510 166h1v3h-1zM519 167h3v1h-3zM520 166h1v3h-1zM529 169h3v1h-3zM530 168h1v3h-1zM539 184h3v1h-3zM540 183h1v3h-1zM549 179h3v1h-3zM550 178h1v3h-1zM559 191h3v1h-3zM560 190h1v3h-1zM569 188h3v1h-3zM570 187h1v3h-1zM579 196h3v1h-3zM580 195h1v3h-1zM589 197h3v1h-3zM590 196h1v3h-1zM599 196h3v1h-3zM600 195h1v3h-1zM609 183h3v1h-3zM610 182h1v3h-1zM619 193h3v1h-3zM620 192h1v3h-1zM629 205h3v1h-3zM630 204h1v3h-1zM639 191h3v1h-3zM640 190h1v3h-1zM649 204h3v1h-3zM650 203h1v3h-1zM659 207h3v1h-3zM660 206h1v3h-1zM669 205h3v1h-3zM670 204h1v3h-1zM679 205h3v1h-3zM680 204h1v3h-1zM689 203h3v1h-3zM690 202h1v3h-1z" fill="#e8d8b0" stroke="none"/>
<polyline class="l" points="50.5,203.5 60.5,206.5 70.5,208.5 80.5,210.5 90.5,203.5 100.5,186.5 110.5,182.5 120.5,173.5 130.5,172.5 140.5,176.5 150.5,179.5 160.5,176.5 170.5,175.5 180.5,178.5 190.5,177.5 200.5,180.5 210.5,181.5 220.5,183.5 230.5,186.5 240.5,185.5 250.5,188.5 260.5,192.5 270.5,197.5 280.5,199.5 290.5,196.5 300.5,198.5 310.5,208.5 320.5,210.5 330.5,217.5 340.5,212.5 350.5,219.5 360.5,218.5 370.5,220.5 380.5,215.5 390.5,219.5 400.5,217.5 410.5,222.5 420.5,221.5 430.5,216.5 440.5,214.5 450.5,212.5 460.5,210.5 470.5,202.5 480.5,197.5 490.5,202.5 500.5,192.5 510.5,198.5 520.5,207.5 530.5,211.5 540.5,216.5 550.5,207.5 560.5,202.5 570.5,201.5 580.5,211.5 590.5,209.5 600.5,206.5 610.5,204.5 620.5,205.5 630.5,206.5 640.5,210.5 650.5,214.5 660.5,206.5 670.5,206.5 680.5,206.5 690.5,205.5" stroke="#4090c0" stroke-width="1"/><path d="M49 203h3v1h-3zM50 202h1v3h-1zM59 206h3v1h-3zM60 205h1v3h-1zM69 208h3v1h-3zM70 207h1v3h-1zM79 210h3v1h-3zM80 209h1v3h-1zM89 203h3v1h-3zM90 202h1v3h-1zM99 186h3v1h-3zM100 185h1v3h-1zM109 182h3v1h-3zM110 181h1v3h-1zM119 173h3v1h-3zM120 172h1v3h-1zM129 172h3v1h-3zM130 171h1v3h-1zM139 176h3v1h-3zM140 175h1v3h-1zM149 179h3v1h-3zM150 178h1v3h-1zM159 176h3v1h-3zM160 175h1v3h-1zM169 175h3v1h-3zM170 174h1v3h-1zM179 178h3v1h-3zM180 177h1v3h-1zM189 177h3v1h-3zM190 176h1v3h-1zM199 180h3v1h-3zM200 179h1v3h-1zM209 181h3v1h-3zM210 180h1v3h-1zM219 183h3v1h-3zM220 182h1v3h-1zM229 186h3v1h-3zM230 185h1v3h-1zM239 185h3v1h-3zM240 184h1v3h-1zM249 188h3v1h-3zM250 187h1v3h-1zM259 192h3v1h-3zM260 191h1v3h-1zM269 197h3v1h-3zM270 196h1v3h-1zM279 199h3v1h-3zM280 198h1v3h-1zM289 196h3v1h-3zM290 195h1v3h-1zM299 198h3v1h-3zM300 197h1v3h-1zM309 208h3v1h-3zM310 207h1v3h-1zM319 210h3v1h-3zM320 209h1v3h-1zM329 217h3v1h-3zM330 216h1v3h-1zM339 212h3v1h-3zM340 211h1v3h-1zM349 219h3v1h-3zM350 218h1v3h-1zM359 218h3v1h-3zM360 217h1v3h-1zM369 220h3v1h-3zM370 219h1v3h-1zM379 215h3v1h-3zM380 214h1v3h-1zM389 219h3v1h-3zM390 218h1v3h-1zM399 217h3v1h-3zM400 216h1v3h-1zM409 222h3v1h-3zM410 221h1v3h-1zM419 221h3v1h-3zM420 220h1v3h-1zM429 216h3v1h-3zM430 215h1v3h-1zM439 214h3v1h-3zM440 213h1v3h-1zM449 212h3v1h-3zM450 211h1v3h-1zM459 210h3v1h-3zM460 209h1v3h-1zM469 202h3v1h-3zM470 201h1v3h-1zM479 197h3v1h-3zM480 196h1v3h-1zM489 202h3v1h-3zM490 201h1v3h-1zM499 192h3v1h-3zM500 191h1v3h-1zM509 198h3v1h-3zM510 197h1v3h-1zM519 207h3v1h-3zM520 206h1v3h-1zM529 211h3v1h-3zM530 210h1v3h-1zM539 216h3v1h-3zM540 215h1v3h-1zM549 207h3v1h-3zM550 206h1v3h-1zM559 202h3v1h-3zM560 201h1v3h-1zM569 201h3v1h-3zM570 200h1v3h-1zM579 211h3v1h-3zM580 210h1v3h-1zM589 209h3v1h-3zM590 208h1v3h-1zM599 206h3v1h-3zM600 205h1v3h-1zM609 204h3v1h-3zM610 203h1v3h-1zM619 205h3v1h-3zM620 204h1v3h-1zM629 206h3v1h-3zM630 205h1v3h-1zM639 210h3v1h-3zM640 209h1v3h-1zM649 214h3v1h-3zM650 213h1v3h-1zM659 206h3v1h-3zM660 205h1v3h-1zM669 206h3v1h-3zM670 205h1v3h-1zM679 206h3v1h-3zM680 205h1v3h-1zM689 205h3v1h-3zM690 204h1v3h-1z" fill="#4090c0" stroke="none"/>
<polyline class="l" points="50.5,205.5 60.5,209.5 70.5,210.5 80.5,218.5 90.5,205.5 100.5,189.5 110.5,182.5 120.5,174.5 130.5,171.5 140.5,172.5 150.5,171.5 160.5,171.5 170.5,170.5 180.5,171.5 190.5,170.5 200.5,175.5 210.5,172.5 220.5,176.5 230.5,176.5 240.5,172.5 250.5,173.5 260.5,177.5 270.5,184.5 280.5,185.5 290.5,190.5 300.5,190.5 310.5,194.5 320.5,199.5 330.5,201.5 340.5,205.5 350.5,208.5 360.5,208.5 370.5,210.5 380.5,208.5 390.5,207.5 400.5,202.5 410.5,201.5 420.5,197.5 430.5,198.5 440.5,201.5 450.5,201.5 460.5,197.5 470.5,196.5 480.5,197.5 490.5,193.5 500.5,196.5 510.5,198.5 520.5,207.5 530.5,209.5 540.5,203.5 550.5,200.5 560.5,201.5 570.5,200.5 580.5,206.5 590.5,203.5 600.5,199.5 610.5,191.5 620.5,203.5 630.5,209.5 640.5,208.5 650.5,206.5 660.5,208.5 670.5,206.5 680.5,208.5 690.5,199.5" stroke="#e0a050" stroke-width="1"/><path d="M49 205h3v1h-3zM50 204h1v3h-1zM59 209h3v1h-3zM60 208h1v3h-1zM69 210h3v1h-3zM70 209h1v3h-1zM79 218h3v1h-3zM80 217h1v3h-1zM89 205h3v1h-3zM90 204h1v3h-1zM99 189h3v1h-3zM100 188h1v3h-1zM109 182h3v1h-3zM110 181h1v3h-1zM119 174h3v1h-3zM120 173h1v3h-1zM129 171h3v1h-3zM130 170h1v3h-1zM139 172h3v1h-3zM140 171h1v3h-1zM149 171h3v1h-3zM150 170h1v3h-1zM159 171h3v1h-3zM160 170h1v3h-1zM169 170h3v1h-3zM170 169h1v3h-1zM179 171h3v1h-3zM180 170h1v3h-1zM189 170h3v1h-3zM190 169h1v3h-1zM199 175h3v1h-3zM200 174h1v3h-1zM209 172h3v1h-3zM210 171h1v3h-1zM219 176h3v1h-3zM220 175h1v3h-1zM229 176h3v1h-3zM230 175h1v3h-1zM239 172h3v1h-3zM240 171h1v3h-1zM249 173h3v1h-3zM250 172h1v3h-1zM259 177h3v1h-3zM260 176h1v3h-1zM269 184h3v1h-3zM270 183h1v3h-1zM279 185h3v1h-3zM280 184h1v3h-1zM289 190h3v1h-3zM290 189h1v3h-1zM299 190h3v1h-3zM300 189h1v3h-1zM309 194h3v1h-3zM310 193h1v3h-1zM319 199h3v1h-3zM320 198h1v3h-1zM329 201h3v1h-3zM330 200h1v3h-1zM339 205h3v1h-3zM340 204h1v3h-1zM349 208h3v1h-3zM350 207h1v3h-1zM359 208h3v1h-3zM360 207h1v3h-1zM369 210h3v1h-3zM370 209h1v3h-1zM379 208h3v1h-3zM380 207h1v3h-1zM389 207h3v1h-3zM390 206h1v3h-1zM399 202h3v1h-3zM400 201h1v3h-1zM409 201h3v1h-3zM410 200h1v3h-1zM419 197h3v1h-3zM420 196h1v3h-1zM429 198h3v1h-3zM430 197h1v3h-1zM439 201h3v1h-3zM440 200h1v3h-1zM449 201h3v1h-3zM450 200h1v3h-1zM459 197h3v1h-3zM460 196h1v3h-1zM469 196h3v1h-3zM470 195h1v3h-1zM479 197h3v1h-3zM480 196h1v3h-1zM489 193h3v1h-3zM490 192h1v3h-1zM499 196h3v1h-3zM500 195h1v3h-1zM509 198h3v1h-3zM510 197h1v3h-1zM519 207h3v1h-3zM520 206h1v3h-1zM529 209h3v1h-3zM530 208h1v3h-1zM539 203h3v1h-3zM540 202h1v3h-1zM549 200h3v1h-3zM550 199h1v3h-1zM559 201h3v1h-3zM560 200h1v3h-1zM569 200h3v1h-3zM570 199h1v3h-1zM579 206h3v1h-3zM580 205h1v3h-1zM589 203h3v1h-3zM590 202h1v3h-1zM599 199h3v1h-3zM600 198h1v3h-1zM609 191h3v1h-3zM610 190h1v3h-1zM619 203h3v1h-3zM620 202h1v3h-1zM629 209h3v1h-3zM630 208h1v3h-1zM639 208h3v1h-3zM640 207h1v3h-1zM649 206h3v1h-3zM650 205h1v3h-1zM659 208h3v1h-3zM660 207h1v3h-1zM669 206h3v1h-3zM670 205h1v3h-1zM679 208h3v1h-3zM680 207h1v3h-1zM689 199h3v1h-3zM690 198h1v3h-1z" fill="#e0a050" stroke="none"/>
<polyline class="l" points="50.5,204.5 60.5,206.5 70.5,208.5 80.5,212.5 90.5,204.5 100.5,187.5 110.5,179.5 120.5,173.5 130.5,174.5 140.5,177.5 150.5,178.5 160.5,177.5 170.5,177.5 180.5,175.5 190.5,176.5 200.5,178.5 210.5,180.5 220.5,184.5 230.5,189.5 240.5,187.5 250.5,190.5 260.5,195.5 270.5,196.5 280.5,196.5 290.5,198.5 300.5,200.5 310.5,198.5 320.5,201.5 330.5,199.5 340.5,200.5 350.5,208.5 360.5,200.5 370.5,207.5 380.5,204.5 390.5,199.5 400.5,208.5 410.5,211.5 420.5,216.5 430.5,211.5 440.5,212.5 450.5,214.5 460.5,207.5 470.5,214.5 480.5,202.5 490.5,209.5 500.5,205.5 510.5,198.5 520.5,196.5 530.5,193.5 540.5,189.5 550.5,189.5 560.5,191.5 570.5,186.5 580.5,185.5 590.5,184.5 600.5,185.5 610.5,185.5 620.5,186.5 630.5,185.5 640.5,185.5 650.5,186.5 660.5,187.5 670.5,185.5 680.5,184.5 690.5,183.5" stroke="#605020" stroke-width="1"/><path d="M49 204h3v1h-3zM50 203h1v3h-1zM59 206h3v1h-3zM60 205h1v3h-1zM69 208h3v1h-3zM70 207h1v3h-1zM79 212h3v1h-3zM80 211h1v3h-1zM89 204h3v1h-3zM90 203h1v3h-1zM99 187h3v1h-3zM100 186h1v3h-1zM109 179h3v1h-3zM110 178h1v3h-1zM119 173h3v1h-3zM120 172h1v3h-1zM129 174h3v1h-3zM130 173h1v3h-1zM139 177h3v1h-3zM140 176h1v3h-1zM149 178h3v1h-3zM150 177h1v3h-1zM159 177h3v1h-3zM160 176h1v3h-1zM169 177h3v1h-3zM170 176h1v3h-1zM179 175h3v1h-3zM180 174h1v3h-1zM189 176h3v1h-3zM190 175h1v3h-1zM199 178h3v1h-3zM200 177h1v3h-1zM209 180h3v1h-3zM210 179h1v3h-1zM219 184h3v1h-3zM220 183h1v3h-1zM229 189h3v1h-3zM230 188h1v3h-1zM239 187h3v1h-3zM240 186h1v3h-1zM249 190h3v1h-3zM250 189h1v3h-1zM259 195h3v1h-3zM260 194h1v3h-1zM269 196h3v1h-3zM270 195h1v3h-1zM279 196h3v1h-3zM280 195h1v3h-1zM289 198h3v1h-3zM290 197h1v3h-1zM299 200h3v1h-3zM300 199h1v3h-1zM309 198h3v1h-3zM310 197h1v3h-1zM319 201h3v1h-3zM320 200h1v3h-1zM329 199h3v1h-3zM330 198h1v3h-1zM339 200h3v1h-3zM340 199h1v3h-1zM349 208h3v1h-3zM350 207h1v3h-1zM359 200h3v1h-3zM360 199h1v3h-1zM369 207h3v1h-3zM370 206h1v3h-1zM379 204h3v1h-3zM380 203h1v3h-1zM389 199h3v1h-3zM390 198h1v3h-1zM399 208h3v1h-3zM400 207h1v3h-1zM409 211h3v1h-3zM410 210h1v3h-1zM419 216h3v1h-3zM420 215h1v3h-1zM429 211h3v1h-3zM430 210h1v3h-1zM439 212h3v1h-3zM440 211h1v3h-1zM449 214h3v1h-3zM450 213h1v3h-1zM459 207h3v1h-3zM460 206h1v3h-1zM469 214h3v1h-3zM470 213h1v3h-1zM479 202h3v1h-3zM480 201h1v3h-1zM489 209h3v1h-3zM490 208h1v3h-1zM499 205h3v1h-3zM500 204h1v3h-1zM509 198h3v1h-3zM510 197h1v3h-1zM519 196h3v1h-3zM520 195h1v3h-1zM529 193h3v1h-3zM530 192h1v3h-1zM539 189h3v1h-3zM540 188h1v3h-1zM549 189h3v1h-3zM550 188h1v3h-1zM559 191h3v1h-3zM560 190h1v3h-1zM569 186h3v1h-3zM570 185h1v3h-1zM579 185h3v1h-3zM580 184h1v3h-1zM589 184h3v1h-3zM590 183h1v3h-1zM599 185h3v1h-3zM600 184h1v3h-1zM609 185h3v1h-3zM610 184h1v3h-1zM619 186h3v1h-3zM620 185h1v3h-1zM629 185h3v1h-3zM630 184h1v3h-1zM639 185h3v1h-3zM640 184h1v3h-1zM649 186h3v1h-3zM650 185h1v3h-1zM659 187h3v1h-3zM660 186h1v3h-1zM669 185h3v1h-3zM670 184h1v3h-1zM679 184h3v1h-3zM680 183h1v3h-1zM689 183h3v1h-3zM690 182h1v3h-1z" fill="#605020" stroke="none"/>
<polyline class="l" points="50.5,203.5 60.5,205.5 70.5,205.5 80.5,211.5 90.5,203.5 100.5,186.5 110.5,180.5 120.5,168.5 130.5,169.5 140.5,168.5 150.5,168.5 160.5,170.5 170.5,173.5 180.5,175.5 190.5,177.5 200.5,176.5 210.5,176.5 220.5,175.5 230.5,177.5 240.5,173.5 250.5,178.5 260.5,174.5 270.5,182.5 280.5,181.5 290.5,185.5 300.5,193.5 310.5,198.5 320.5,201.5 330.5,204.5 340.5,204.5 350.5,202.5 360.5,208.5 370.5,208.5 380.5,207.5 390.5,203.5 400.5,205.5 410.5,198.5 420.5,204.5 430.5,199.5 440.5,196.5 450.5,200.5 460.5,196.5 470.5,203.5 480.5,197.5 490.5,198.5 500.5,198.5 510.5,199.5 520.5,202.5 530.5,205.5 540.5,206.5 550.5,204.5 560.5,203.5 570.5,199.5 580.5,198.5 590.5,202.5 600.5,197.5 610.5,201.5 620.5,206.5 630.5,207.5 640.5,209.5 650.5,207.5 660.5,209.5 670.5,200.5 680.5,204.5 690.5,203.5" stroke="#f06020" stroke-width="1"/><path d="M49 203h3v1h-3zM50 202h1v3h-1zM59 205h3v1h-3zM60 204h1v3h-1zM69 205h3v1h-3zM70 204h1v3h-1zM79 211h3v1h-3zM80 210h1v3h-1zM89 203h3v1h-3zM90 202h1v3h-1zM99 186h3v1h-3zM100 185h1v3h-1zM109 180h3v1h-3zM110 179h1v3h-1zM119 168h3v1h-3zM120 167h1v3h-1zM129 169h3v1h-3zM130 168h1v3h-1zM139 168h3v1h-3zM140 167h1v3h-1zM149 168h3v1h-3zM150 167h1v3h-1zM159 170h3v1h-3zM160 169h1v3h-1zM169 173h3v1h-3zM170 172h1v3h-1zM179 175h3v1h-3zM180 174h1v3h-1zM189 177h3v1h-3zM190 176h1v3h-1zM199 176h3v1h-3zM200 175h1v3h-1zM209 176h3v1h-3zM210 175h1v3h-1zM219 175h3v1h-3zM220 174h1v3h-1zM229 177h3v1h-3zM230 176h1v3h-1zM239 173h3v1h-3zM240 172h1v3h-1zM249 178h3v1h-3zM250 177h1v3h-1zM259 174h3v1h-3zM260 173h1v3h-1zM269 182h3v1h-3zM270 181h1v3h-1zM279 181h3v1h-3zM280 180h1v3h-1zM289 185h3v1h-3zM290 184h1v3h-1zM299 193h3v1h-3zM300 192h1v3h-1zM309 198h3v1h-3zM310 197h1v3h-1zM319 201h3v1h-3zM320 200h1v3h-1zM329 204h3v1h-3zM330 203h1v3h-1zM339 204h3v1h-3zM340 203h1v3h-1zM349 202h3v1h-3zM350 201h1v3h-1zM359 208h3v1h-3zM360 207h1v3h-1zM369 208h3v1h-3zM370 207h1v3h-1zM379 207h3v1h-3zM380 206h1v3h-1zM389 203h3v1h-3zM390 202h1v3h-1zM399 205h3v1h-3zM400 204h1v3h-1zM409 198h3v1h-3zM410 197h1v3h-1zM419 204h3v1h-3zM420 203h1v3h-1zM429 199h3v1h-3zM430 198h1v3h-1zM439 196h3v1h-3zM440 195h1v3h-1zM449 200h3v1h-3zM450 199h1v3h-1zM459 196h3v1h-3zM460 195h1v3h-1zM469 203h3v1h-3zM470 202h1v3h-1zM479 197h3v1h-3zM480 196h1v3h-1zM489 198h3v1h-3zM490 197h1v3h-1zM499 198h3v1h-3zM500 197h1v3h-1zM509 199h3v1h-3zM510 198h1v3h-1zM519 202h3v1h-3zM520 201h1v3h-1zM529 205h3v1h-3zM530 204h1v3h-1zM539 206h3v1h-3zM540 205h1v3h-1zM549 204h3v1h-3zM550 203h1v3h-1zM559 203h3v1h-3zM560 202h1v3h-1zM569 199h3v1h-3zM570 198h1v3h-1zM579 198h3v1h-3zM580 197h1v3h-1zM589 202h3v1h-3zM590 201h1v3h-1zM599 197h3v1h-3zM600 196h1v3h-1zM609 201h3v1h-3zM610 200h1v3h-1zM619 206h3v1h-3zM620 205h1v3h-1zM629 207h3v1h-3zM630 206h1v3h-1zM639 209h3v1h-3zM640 208h1v3h-1zM649 207h3v1h-3zM650 206h1v3h-1zM659 209h3v1h-3zM660 208h1v3h-1zM669 200h3v1h-3zM670 199h1v3h-1zM679 204h3v1h-3zM680 203h1v3h-1zM689 203h3v1h-3zM690 202h1v3h-1z" fill="#f06020" stroke="none"/>
<polyline class="l" points="50.5,203.5 60.5,207.5 70.5,208.5 80.5,214.5 90.5,205.5 100.5,189.5 110.5,181.5 120.5,173.5 130.5,175.5 140.5,176.5 150.5,176.5 160.5,175.5 170.5,175.5 180.5,173.5 190.5,175.5 200.5,173.5 210.5,171.5 220.5,171.5 230.5,182.5 240.5,182.5 250.5,187.5 260.5,192.5 270.5,195.5 280.5,195.5 290.5,202.5 300.5,195.5 310.5,198.5 320.5,206.5 330.5,209.5 340.5,218.5 350.5,212.5 360.5,208.5 370.5,211.5 380.5,222.5 390.5,213.5 400.5,222.5 410.5,219.5 420.5,221.5 430.5,216.5 440.5,213.5 450.5,213.5 460.5,196.5 470.5,206.5 480.5,207.5 490.5,207.5 500.5,198.5 510.5,199.5 520.5,202.5 530.5,198.5 540.5,198.5 550.5,201.5 560.5,199.5 570.5,202.5 580.5,198.5 590.5,193.5 600.5,180.5 610.5,173.5 620.5,172.5 630.5,174.5 640.5,169.5 650.5,171.5 660.5,172.5 670.5,171.5 680.5,171.5 690.5,175.5" stroke="#d0c080" stroke-width="1"/><path d="M49 203h3v1h-3zM50 202h1v3h-1zM59 207h3v1h-3zM60 206h1v3h-1zM69 208h3v1h-3zM70 207h1v3h-1zM79 214h3v1h-3zM80 213h1v3h-1zM89 205h3v1h-3zM90 204h1v3h-1zM99 189h3v1h-3zM100 188h1v3h-1zM109 181h3v1h-3zM110 180h1v3h-1zM119 173h3v1h-3zM120 172h1v3h-1zM129 175h3v1h-3zM130 174h1v3h-1zM139 176h3v1h-3zM140 175h1v3h-1zM149 176h3v1h-3zM150 175h1v3h-1zM159 175h3v1h-3zM160 174h1v3h-1zM169 175h3v1h-3zM170 174h1v3h-1zM179 173h3v1h-3zM180 172h1v3h-1zM189 175h3v1h-3zM190 174h1v3h-1zM199 173h3v1h-3zM200 172h1v3h-1zM209 171h3v1h-3zM210 170h1v3h-1zM219 171h3v1h-3zM220 170h1v3h-1zM229 182h3v1h-3zM230 181h1v3h-1zM239 182h3v1h-3zM240 181h1v3h-1zM249 187h3v1h-3zM250 186h1v3h-1zM259 192h3v1h-3zM260 191h1v3h-1zM269 195h3v1h-3zM270 194h1v3h-1zM279 195h3v1h-3zM280 194h1v3h-1zM289 202h3v1h-3zM290 201h1v3h-1zM299 195h3v1h-3zM300 194h1v3h-1zM309 198h3v1h-3zM310 197h1v3h-1zM319 206h3v1h-3zM320 205h1v3h-1zM329 209h3v1h-3zM330 208h1v3h-1zM339 218h3v1h-3zM340 217h1v3h-1zM349 212h3v1h-3zM350 211h1v3h-1zM359 208h3v1h-3zM360 207h1v3h-1zM369 211h3v1h-3zM370 210h1v3h-1zM379 222h3v1h-3zM380 221h1v3h-1zM389 213h3v1h-3zM390 212h1v3h-1zM399 222h3v1h-3zM400 221h1v3h-1zM409 219h3v1h-3zM410 218h1v3h-1zM419 221h3v1h-3zM420 220h1v3h-1zM429 216h3v1h-3zM430 215h1v3h-1zM439 213h3v1h-3zM440 212h1v3h-1zM449 213h3v1h-3zM450 212h1v3h-1zM459 196h3v1h-3zM460 195h1v3h-1zM469 206h3v1h-3zM470 205h1v3h-1zM479 207h3v1h-3zM480 206h1v3h-1zM489 207h3v1h-3zM490 206h1v3h-1zM499 198h3v1h-3zM500 197h1v3h-1zM509 199h3v1h-3zM510 198h1v3h-1zM519 202h3v1h-3zM520 201h1v3h-1zM529 198h3v1h-3zM530 197h1v3h-1zM539 198h3v1h-3zM540 197h1v3h-1zM549 201h3v1h-3zM550 200h1v3h-1zM559 199h3v1h-3zM560 198h1v3h-1zM569 202h3v1h-3zM570 201h1v3h-1zM579 198h3v1h-3zM580 197h1v3h-1zM589 193h3v1h-3zM590 192h1v3h-1zM599 180h3v1h-3zM600 179h1v3h-1zM609 173h3v1h-3zM610 172h1v3h-1zM619 172h3v1h-3zM620 171h1v3h-1zM629 174h3v1h-3zM630 173h1v3h-1zM639 169h3v1h-3zM640 168h1v3h-1zM649 171h3v1h-3zM650 170h1v3h-1zM659 172h3v1h-3zM660 171h1v3h-1zM669 171h3v1h-3zM670 170h1v3h-1zM679 171h3v1h-3zM680 170h1v3h-1zM689 175h3v1h-3zM690 174h1v3h-1z" fill="#d0c080" stroke="none"/>
<polyline class="l" points="50.5,201.5 60.5,202.5 70.5,203.5 80.5,206.5 90.5,198.5 100.5,183.5 110.5,176.5 120.5,169.5 130.5,167.5 140.5,169.5 150.5,171.5 160.5,168.5 170.5,166.5 180.5,163.5 190.5,163.5 200.5,163.5 210.5,165.5 220.5,167.5 230.5,164.5 240.5,163.5 250.5,162.5 260.5,165.5 270.5,169.5 280.5,171.5 290.5,175.5 300.5,176.5 310.5,180.5 320.5,188.5 330.5,195.5 340.5,205.5 350.5,211.5 360.5,224.5 370.5,226.5 380.5,219.5 390.5,218.5 400.5,219.5 410.5,218.5 420.5,220.5 430.5,212.5 440.5,212.5 450.5,211.5 460.5,208.5 470.5,201.5 480.5,185.5 490.5,194.5 500.5,197.5 510.5,209.5 520.5,207.5 530.5,207.5 540.5,200.5 550.5,205.5 560.5,197.5 570.5,203.5 580.5,198.5 590.5,204.5 600.5,208.5 610.5,208.5 620.5,216.5 630.5,215.5 640.5,225.5 650.5,227.5 660.5,243.5 670.5,228.5 680.5,208.5 690.5,203.5" stroke="#10d050" stroke-width="1"/><path d="M49 201h3v1h-3zM50 200h1v3h-1zM59 202h3v1h-3zM60 201h1v3h-1zM69 203h3v1h-3zM70 202h1v3h-1zM79 206h3v1h-3zM80 205h1v3h-1zM89 198h3v1h-3zM90 197h1v3h-1zM99 183h3v1h-3zM100 182h1v3h-1zM109 176h3v1h-3zM110 175h1v3h-1zM119 169h3v1h-3zM120 168h1v3h-1zM129 167h3v1h-3zM130 166h1v3h-1zM139 169h3v1h-3zM140 168h1v3h-1zM149 171h3v1h-3zM150 170h1v3h-1zM159 168h3v1h-3zM160 167h1v3h-1zM169 166h3v1h-3zM170 165h1v3h-1zM179 163h3v1h-3zM180 162h1v3h-1zM189 163h3v1h-3zM190 162h1v3h-1zM199 163h3v1h-3zM200 162h1v3h-1zM209 165h3v1h-3zM210 164h1v3h-1zM219 167h3v1h-3zM220 166h1v3h-1zM229 164h3v1h-3zM230 163h1v3h-1zM239 163h3v1h-3zM240 162h1v3h-1zM249 162h3v1h-3zM250 161h1v3h-1zM259 165h3v1h-3zM260 164h1v3h-1zM269 169h3v1h-3zM270 168h1v3h-1zM279 171h3v1h-3zM280 170h1v3h-1zM289 175h3v1h-3zM290 174h1v3h-1zM299 176h3v1h-3zM300 175h1v3h-1zM309 180h3v1h-3zM310 179h1v3h-1zM319 188h3v1h-3zM320 187h1v3h-1zM329 195h3v1h-3zM330 194h1v3h-1zM339 205h3v1h-3zM340 204h1v3h-1zM349 211h3v1h-3zM350 210h1v3h-1zM359 224h3v1h-3zM360 223h1v3h-1zM369 226h3v1h-3zM370 225h1v3h-1zM379 219h3v1h-3zM380 218h1v3h-1zM389 218h3v1h-3zM390 217h1v3h-1zM399 219h3v1h-3zM400 218h1v3h-1zM409 218h3v1h-3zM410 217h1v3h-1zM419 220h3v1h-3zM420 219h1v3h-1zM429 212h3v1h-3zM430 211h1v3h-1zM439 212h3v1h-3zM440 211h1v3h-1zM449 211h3v1h-3zM450 210h1v3h-1zM459 208h3v1h-3zM460 207h1v3h-1zM469 201h3v1h-3zM470 200h1v3h-1zM479 185h3v1h-3zM480 184h1v3h-1zM489 194h3v1h-3zM490 193h1v3h-1zM499 197h3v1h-3zM500 196h1v3h-1zM509 209h3v1h-3zM510 208h1v3h-1zM519 207h3v1h-3zM520 206h1v3h-1zM529 207h3v1h-3zM530 206h1v3h-1zM539 200h3v1h-3zM540 199h1v3h-1zM549 205h3v1h-3zM550 204h1v3h-1zM559 197h3v1h-3zM560 196h1v3h-1zM569 203h3v1h-3zM570 202h1v3h-1zM579 198h3v1h-3zM580 197h1v3h-1zM589 204h3v1h-3zM590 203h1v3h-1zM599 208h3v1h-3zM600 207h1v3h-1zM609 208h3v1h-3zM610 207h1v3h-1zM619 216h3v1h-3zM620 215h1v3h-1zM629 215h3v1h-3zM630 214h1v3h-1zM639 225h3v1h-3zM640 224h1v3h-1zM649 227h3v1h-3zM650 226h1v3h-1zM659 243h3v1h-3zM660 242h1v3h-1zM669 228h3v1h-3zM670 227h1v3h-1zM679 208h3v1h-3zM680 207h1v3h-1zM689 203h3v1h-3zM690 202h1v3h-1z" fill="#10d050" stroke="none"/>
<polyline class="l" points="50.5,202.5 60.5,203.5 70.5,207.5 80.5,216.5 90.5,205.5 100.5,186.5 110.5,179.5 120.5,172.5 130.5,171.5 140.5,169.5 150.5,168.5 160.5,168.5 170.5,169.5 180.5,169.5 190.5,167.5 200.5,166.5 210.5,169.5 220.5,167.5 230.5,173.5 240.5,166.5 250.5,168.5 260.5,169.5 270.5,175.5 280.5,177.5 290.5,180.5 300.5,186.5 310.5,192.5 320.5,192.5 330.5,195.5 340.5,201.5 350.5,202.5 360.5,206.5 370.5,204.5 380.5,195.5 390.5,188.5 400.5,183.5 410.5,176.5 420.5,172.5 430.5,173.5 440.5,175.5 450.5,183.5 460.5,190.5 470.5,193.5 480.5,196.5 490.5,200.5 500.5,206.5 510.5,212.5 520.5,219.5 530.5,227.5 540.5,236.5 550.5,256.5 560.5,261.5 570.5,267.5 580.5,264.5 590.5,254.5 600.5,231.5 610.5,209.5 620.5,200.5 630.5,207.5 640.5,205.5 650.5,205.5 660.5,207.5 670.5,205.5 680.5,210.5 690.5,213.5" stroke="#204060" stroke-width="1"/><path d="M49 202h3v1h-3zM50 201h1v3h-1zM59 203h3v1h-3zM60 202h1v3h-1zM69 207h3v1h-3zM70 206h1v3h-1zM79 216h3v1h-3zM80 215h1v3h-1zM89 205h3v1h-3zM90 204h1v3h-1zM99 186h3v1h-3zM100 185h1v3h-1zM109 179h3v1h-3zM110 178h1v3h-1zM119 172h3v1h-3zM120 171h1v3h-1zM129 171h3v1h-3zM130 170h1v3h-1zM139 169h3v1h-3zM140 168h1v3h-1zM149 168h3v1h-3zM150 167h1v3h-1zM159 168h3v1h-3zM160 167h1v3h-1zM169 169h3v1h-3zM170 168h1v3h-1zM179 169h3v1h-3zM180 168h1v3h-1zM189 167h3v1h-3zM190 166h1v3h-1zM199 166h3v1h-3zM200 165h1v3h-1zM209 169h3v1h-3zM210 168h1v3h-1zM219 167h3v1h-3zM220 166h1v3h-1zM229 173h3v1h-3zM230 172h1v3h-1zM239 166h3v1h-3zM240 165h1v3h-1zM249 168h3v1h-3zM250 167h1v3h-1zM259 169h3v1h-3zM260 168h1v3h-1zM269 175h3v1h-3zM270 174h1v3h-1zM279 177h3v1h-3zM280 176h1v3h-1zM289 180h3v1h-3zM290 179h1v3h-1zM299 186h3v1h-3zM300 185h1v3h-1zM309 192h3v1h-3zM310 191h1v3h-1zM319 192h3v1h-3zM320 191h1v3h-1zM329 195h3v1h-3zM330 194h1v3h-1zM339 201h3v1h-3zM340 200h1v3h-1zM349 202h3v1h-3zM350 201h1v3h-1zM359 206h3v1h-3zM360 205h1v3h-1zM369 204h3v1h-3zM370 203h1v3h-1zM379 195h3v1h-3zM380 194h1v3h-1zM389 188h3v1h-3zM390 187h1v3h-1zM399 183h3v1h-3zM400 182h1v3h-1zM409 176h3v1h-3zM410 175h1v3h-1zM419 172h3v1h-3zM420 171h1v3h-1zM429 173h3v1h-3zM430 172h1v3h-1zM439 175h3v1h-3zM440 174h1v3h-1zM449 183h3v1h-3zM450 182h1v3h-1zM459 190h3v1h-3zM460 189h1v3h-1zM469 193h3v1h-3zM470 192h1v3h-1zM479 196h3v1h-3zM480 195h1v3h-1zM489 200h3v1h-3zM490 199h1v3h-1zM499 206h3v1h-3zM500 205h1v3h-1zM509 212h3v1h-3zM510 211h1v3h-1zM519 219h3v1h-3zM520 218h1v3h-1zM529 227h3v1h-3zM530 226h1v3h-1zM539 236h3v1h-3zM540 235h1v3h-1zM549 256h3v1h-3zM550 255h1v3h-1zM559 261h3v1h-3zM560 260h1v3h-1zM569 267h3v1h-3zM570 266h1v3h-1zM579 264h3v1h-3zM580 263h1v3h-1zM589 254h3v1h-3zM590 253h1v3h-1zM599 231h3v1h-3zM600 230h1v3h-1zM609 209h3v1h-3zM610 208h1v3h-1zM619 200h3v1h-3zM620 199h1v3h-1zM629 207h3v1h-3zM630 206h1v3h-1zM639 205h3v1h-3zM640 204h1v3h-1zM649 205h3v1h-3zM650 204h1v3h-1zM659 207h3v1h-3zM660 206h1v3h-1zM669 205h3v1h-3zM670 204h1v3h-1zM679 210h3v1h-3zM680 209h1v3h-1zM689 213h3v1h-3zM690 212h1v3h-1z" fill="#204060" stroke="none"/>
<polyline class="l" points="50.5,201.5 60.5,205.5 70.5,201.5 80.5,207.5 90.5,194.5 100.5,182.5 110.5,174.5 120.5,165.5 130.5,161.5 140.5,161.5 150.5,162.5 160.5,164.5 170.5,164.5 180.5,166.5 190.5,166.5 200.5,162.5 210.5,163.5 220.5,164.5 230.5,164.5 240.5,165.5 250.5,165.5 260.5,172.5 270.5,172.5 280.5,180.5 290.5,183.5 300.5,184.5 310.5,181.5 320.5,185.5 330.5,188.5 340.5,191.5 350.5,197.5 360.5,200.5 370.5,196.5 380.5,197.5 390.5,196.5 400.5,195.5 410.5,194.5 420.5,197.5 430.5,196.5 440.5,192.5 450.5,194.5 460.5,194.5 470.5,197.5 480.5,204.5 490.5,199.5 500.5,201.5 510.5,198.5 520.5,200.5 530.5,205.5 540.5,206.5 550.5,206.5 560.5,202.5 570.5,200.5 580.5,201.5 590.5,199.5 600.5,188.5 610.5,191.5 620.5,209.5 630.5,213.5 640.5,217.5 650.5,214.5 660.5,211.5 670.5,206.5 680.5,216.5 690.5,224.5" stroke="#687078" stroke-width="1"/><path d="M49 201h3v1h-3zM50 200h1v3h-1zM59 205h3v1h-3zM60 204h1v3h-1zM69 201h3v1h-3zM70 200h1v3h-1zM79 207h3v1h-3zM80 206h1v3h-1zM89 194h3v1h-3zM90 193h1v3h-1zM99 182h3v1h-3zM100 181h1v3h-1zM109 174h3v1h-3zM110 173h1v3h-1zM119 165h3v1h-3zM120 164h1v3h-1zM129 161h3v1h-3zM130 160h1v3h-1zM139 161h3v1h-3zM140 160h1v3h-1zM149 162h3v1h-3zM150 161h1v3h-1zM159 164h3v1h-3zM160 163h1v3h-1zM169 164h3v1h-3zM170 163h1v3h-1zM179 166h3v1h-3zM180 165h1v3h-1zM189 166h3v1h-3zM190 165h1v3h-1zM199 162h3v1h-3zM200 161h1v3h-1zM209 163h3v1h-3zM210 162h1v3h-1zM219 164h3v1h-3zM220 163h1v3h-1zM229 164h3v1h-3zM230 163h1v3h-1zM239 165h3v1h-3zM240 164h1v3h-1zM249 165h3v1h-3zM250 164h1v3h-1zM259 172h3v1h-3zM260 171h1v3h-1zM269 172h3v1h-3zM270 171h1v3h-1zM279 180h3v1h-3zM280 179h1v3h-1zM289 183h3v1h-3zM290 182h1v3h-1zM299 184h3v1h-3zM300 183h1v3h-1zM309 181h3v1h-3zM310 180h1v3h-1zM319 185h3v1h-3zM320 184h1v3h-1zM329 188h3v1h-3zM330 187h1v3h-1zM339 191h3v1h-3zM340 190h1v3h-1zM349 197h3v1h-3zM350 196h1v3h-1zM359 200h3v1h-3zM360 199h1v3h-1zM369 196h3v1h-3zM370 195h1v3h-1zM379 197h3v1h-3zM380 196h1v3h-1zM389 196h3v1h-3zM390 195h1v3h-1zM399 195h3v1h-3zM400 194h1v3h-1zM409 194h3v1h-3zM410 193h1v3h-1zM419 197h3v1h-3zM420 196h1v3h-1zM429 196h3v1h-3zM430 195h1v3h-1zM439 192h3v1h-3zM440 191h1v3h-1zM449 194h3v1h-3zM450 193h1v3h-1zM459 194h3v1h-3zM460 193h1v3h-1zM469 197h3v1h-3zM470 196h1v3h-1zM479 204h3v1h-3zM480 203h1v3h-1zM489 199h3v1h-3zM490 198h1v3h-1zM499 201h3v1h-3zM500 200h1v3h-1zM509 198h3v1h-3zM510 197h1v3h-1zM519 200h3v1h-3zM520 199h1v3h-1zM529 205h3v1h-3zM530 204h1v3h-1zM539 206h3v1h-3zM540 205h1v3h-1zM549 206h3v1h-3zM550 205h1v3h-1zM559 202h3v1h-3zM560 201h1v3h-1zM569 200h3v1h-3zM570 199h1v3h-1zM579 201h3v1h-3zM580 200h1v3h-1zM589 199h3v1h-3zM590 198h1v3h-1zM599 188h3v1h-3zM600 187h1v3h-1zM609 191h3v1h-3zM610 190h1v3h-1zM619 209h3v1h-3zM620 208h1v3h-1zM629 213h3v1h-3zM630 212h1v3h-1zM639 217h3v1h-3zM640 216h1v3h-1zM649 214h3v1h-3zM650 213h1v3h-1zM659 211h3v1h-3zM660 210h1v3h-1zM669 206h3v1h-3zM670 205h1v3h-1zM679 216h3v1h-3zM680 215h1v3h-1zM689 224h3v1h-3zM690 223h1v3h-1z" fill="#687078" stroke="none"/>
<polyline class="l" points="50.5,206.5 60.5,211.5 70.5,212.5 80.5,220.5 90.5,208.5 100.5,189.5 110.5,181.5 120.5,173.5 130.5,172.5 140.5,174.5 150.5,174.5 160.5,175.5 170.5,175.5 180.5,179.5 190.5,174.5 200.5,173.5 210.5,174.5 220.5,177.5 230.5,181.5 240.5,182.5 250.5,178.5 260.5,175.5 270.5,178.5 280.5,176.5 290.5,181.5 300.5,187.5 310.5,197.5 320.5,202.5 330.5,209.5 340.5,206.5 350.5,199.5 360.5,200.5 370.5,205.5 380.5,211.5 390.5,201.5 400.5,200.5 410.5,200.5 420.5,196.5 430.5,194.5 440.5,196.5 450.5,199.5 460.5,200.5 470.5,196.5 480.5,197.5 490.5,199.5 500.5,198.5 510.5,200.5 520.5,200.5 530.5,199.5 540.5,202.5 550.5,198.5 560.5,200.5 570.5,201.5 580.5,211.5 590.5,204.5 600.5,215.5 610.5,218.5 620.5,223.5 630.5,219.5 640.5,213.5 650.5,216.5 660.5,212.5 670.5,207.5 680.5,217.5 690.5,217.5" stroke="#e080f0" stroke-width="1"/><path d="M49 206h3v1h-3zM50 205h1v3h-1zM59 211h3v1h-3zM60 210h1v3h-1zM69 212h3v1h-3zM70 211h1v3h-1zM79 220h3v1h-3zM80 219h1v3h-1zM89 208h3v1h-3zM90 207h1v3h-1zM99 189h3v1h-3zM100 188h1v3h-1zM109 181h3v1h-3zM110 180h1v3h-1zM119 173h3v1h-3zM120 172h1v3h-1zM129 172h3v1h-3zM130 171h1v3h-1zM139 174h3v1h-3zM140 173h1v3h-1zM149 174h3v1h-3zM150 173h1v3h-1zM159 175h3v1h-3zM160 174h1v3h-1zM169 175h3v1h-3zM170 174h1v3h-1zM179 179h3v1h-3zM180 178h1v3h-1zM189 174h3v1h-3zM190 173h1v3h-1zM199 173h3v1h-3zM200 172h1v3h-1zM209 174h3v1h-3zM210 173h1v3h-1zM219 177h3v1h-3zM220 176h1v3h-1zM229 181h3v1h-3zM230 180h1v3h-1zM239 182h3v1h-3zM240 181h1v3h-1zM249 178h3v1h-3zM250 177h1v3h-1zM259 175h3v1h-3zM260 174h1v3h-1zM269 178h3v1h-3zM270 177h1v3h-1zM279 176h3v1h-3zM280 175h1v3h-1zM289 181h3v1h-3zM290 180h1v3h-1zM299 187h3v1h-3zM300 186h1v3h-1zM309 197h3v1h-3zM310 196h1v3h-1zM319 202h3v1h-3zM320 201h1v3h-1zM329 209h3v1h-3zM330 208h1v3h-1zM339 206h3v1h-3zM340 205h1v3h-1zM349 199h3v1h-3zM350 198h1v3h-1zM359 200h3v1h-3zM360 199h1v3h-1zM369 205h3v1h-3zM370 204h1v3h-1zM379 211h3v1h-3zM380 210h1v3h-1zM389 201h3v1h-3zM390 200h1v3h-1zM399 200h3v1h-3zM400 199h1v3h-1zM409 200h3v1h-3zM410 199h1v3h-1zM419 196h3v1h-3zM420 195h1v3h-1zM429 194h3v1h-3zM430 193h1v3h-1zM439 196h3v1h-3zM440 195h1v3h-1zM449 199h3v1h-3zM450 198h1v3h-1zM459 200h3v1h-3zM460 199h1v3h-1zM469 196h3v1h-3zM470 195h1v3h-1zM479 197h3v1h-3zM480 196h1v3h-1zM489 199h3v1h-3zM490 198h1v3h-1zM499 198h3v1h-3zM500 197h1v3h-1zM509 200h3v1h-3zM510 199h1v3h-1zM519 200h3v1h-3zM520 199h1v3h-1zM529 199h3v1h-3zM530 198h1v3h-1zM539 202h3v1h-3zM540 201h1v3h-1zM549 198h3v1h-3zM550 197h1v3h-1zM559 200h3v1h-3zM560 199h1v3h-1zM569 201h3v1h-3zM570 200h1v3h-1zM579 211h3v1h-3zM580 210h1v3h-1zM589 204h3v1h-3zM590 203h1v3h-1zM599 215h3v1h-3zM600 214h1v3h-1zM609 218h3v1h-3zM610 217h1v3h-1zM619 223h3v1h-3zM620 222h1v3h-1zM629 219h3v1h-3zM630 218h1v3h-1zM639 213h3v1h-3zM640 212h1v3h-1zM649 216h3v1h-3zM650 215h1v3h-1zM659 212h3v1h-3zM660 211h1v3h-1zM669 207h3v1h-3zM670 206h1v3h-1zM679 217h3v1h-3zM680 216h1v3h-1zM689 217h3v1h-3zM690 216h1v3h-1z" fill="#e080f0" stroke="none"/>
<polyline class="l" points="50.5,205.5 60.5,208.5 70.5,211.5 80.5,217.5 90.5,208.5 100.5,190.5 110.5,183.5 120.5,176.5 130.5,177.5 140.5,178.5 150.5,178.5 160.5,177.5 170.5,178.5 180.5,176.5 190.5,174.5 200.5,174.5 210.5,177.5 220.5,180.5 230.5,182.5 240.5,184.5 250.5,182.5 260.5,178.5 270.5,184.5 280.5,188.5 290.5,205.5 300.5,206.5 310.5,204.5 320.5,210.5 330.5,221.5 340.5,221.5 350.5,224.5 360.5,219.5 370.5,215.5 380.5,215.5 390.5,216.5 400.5,208.5 410.5,204.5 420.5,206.5 430.5,204.5 440.5,204.5 450.5,202.5 460.5,202.5 470.5,204.5 480.5,205.5 490.5,199.5 500.5,203.5 510.5,199.5 520.5,199.5 530.5,201.5 540.5,211.5 550.5,205.5 560.5,194.5 570.5,186.5 580.5,172.5 590.5,162.5 600.5,161.5 610.5,158.5 620.5,157.5 630.5,163.5 640.5,165.5 650.5,172.5 660.5,179.5 670.5,185.5 680.5,181.5 690.5,185.5" stroke="#8020f0" stroke-width="1"/><path d="M49 205h3v1h-3zM50 204h1v3h-1zM59 208h3v1h-3zM60 207h1v3h-1zM69 211h3v1h-3zM70 210h1v3h-1zM79 217h3v1h-3zM80 216h1v3h-1zM89 208h3v1h-3zM90 207h1v3h-1zM99 190h3v1h-3zM100 189h1v3h-1zM109 183h3v1h-3zM110 182h1v3h-1zM119 176h3v1h-3zM120 175h1v3h-1zM129 177h3v1h-3zM130 176h1v3h-1zM139 178h3v1h-3zM140 177h1v3h-1zM149 178h3v1h-3zM150 177h1v3h-1zM159 177h3v1h-3zM160 176h1v3h-1zM169 178h3v1h-3zM170 177h1v3h-1zM179 176h3v1h-3zM180 175h1v3h-1zM189 174h3v1h-3zM190 173h1v3h-1zM199 174h3v1h-3zM200 173h1v3h-1zM209 177h3v1h-3zM210 176h1v3h-1zM219 180h3v1h-3zM220 179h1v3h-1zM229 182h3v1h-3zM230 181h1v3h-1zM239 184h3v1h-3zM240 183h1v3h-1zM249 182h3v1h-3zM250 181h1v3h-1zM259 178h3v1h-3zM260 177h1v3h-1zM269 184h3v1h-3zM270 183h1v3h-1zM279 188h3v1h-3zM280 187h1v3h-1zM289 205h3v1h-3zM290 204h1v3h-1zM299 206h3v1h-3zM300 205h1v3h-1zM309 204h3v1h-3zM310 203h1v3h-1zM319 210h3v1h-3zM320 209h1v3h-1zM329 221h3v1h-3zM330 220h1v3h-1zM339 221h3v1h-3zM340 220h1v3h-1zM349 224h3v1h-3zM350 223h1v3h-1zM359 219h3v1h-3zM360 218h1v3h-1zM369 215h3v1h-3zM370 214h1v3h-1zM379 215h3v1h-3zM380 214h1v3h-1zM389 216h3v1h-3zM390 215h1v3h-1zM399 208h3v1h-3zM400 207h1v3h-1zM409 204h3v1h-3zM410 203h1v3h-1zM419 206h3v1h-3zM420 205h1v3h-1zM429 204h3v1h-3zM430 203h1v3h-1zM439 204h3v1h-3zM440 203h1v3h-1zM449 202h3v1h-3zM450 201h1v3h-1zM459 202h3v1h-3zM460 201h1v3h-1zM469 204h3v1h-3zM470 203h1v3h-1zM479 205h3v1h-3zM480 204h1v3h-1zM489 199h3v1h-3zM490 198h1v3h-1zM499 203h3v1h-3zM500 202h1v3h-1zM509 199h3v1h-3zM510 198h1v3h-1zM519 199h3v1h-3zM520 198h1v3h-1zM529 201h3v1h-3zM530 200h1v3h-1zM539 211h3v1h-3zM540 210h1v3h-1zM549 205h3v1h-3zM550 204h1v3h-1zM559 194h3v1h-3zM560 193h1v3h-1zM569 186h3v1h-3zM570 185h1v3h-1zM579 172h3v1h-3zM580 171h1v3h-1zM589 162h3v1h-3zM590 161h1v3h-1zM599 161h3v1h-3zM600 160h1v3h-1zM609 158h3v1h-3zM610 157h1v3h-1zM619 157h3v1h-3zM620 156h1v3h-1zM629 163h3v1h-3zM630 162h1v3h-1zM639 165h3v1h-3zM640 164h1v3h-1zM649 172h3v1h-3zM650 171h1v3h-1zM659 179h3v1h-3zM660 178h1v3h-1zM669 185h3v1h-3zM670 184h1v3h-1zM679 181h3v1h-3zM680 180h1v3h-1zM689 185h3v1h-3zM690 184h1v3h-1z" fill="#8020f0" stroke="none"/>
<polyline class="l" points="50.5,202.5 60.5,203.5 70.5,204.5 80.5,212.5 90.5,200.5 100.5,183.5 110.5,174.5 120.5,165.5 130.5,165.5 140.5,166.5 150.5,165.5 160.5,165.5 170.5,165.5 180.5,163.5 190.5,162.5 200.5,163.5 210.5,163.5 220.5,164.5 230.5,166.5 240.5,166.5 250.5,170.5 260.5,173.5 270.5,174.5 280.5,178.5 290.5,175.5 300.5,179.5 310.5,187.5 320.5,193.5 330.5,198.5 340.5,195.5 350.5,197.5 360.5,197.5 370.5,199.5 380.5,202.5 390.5,195.5 400.5,194.5 410.5,192.5 420.5,190.5 430.5,193.5 440.5,196.5 450.5,187.5 460.5,191.5 470.5,191.5 480.5,191.5 490.5,197.5 500.5,188.5 510.5,188.5 520.5,186.5 530.5,178.5 540.5,193.5 550.5,194.5 560.5,184.5 570.5,199.5 580.5,198.5 590.5,205.5 600.5,204.5 610.5,207.5 620.5,206.5 630.5,206.5 640.5,201.5 650.5,203.5 660.5,197.5 670.5,205.5 680.5,213.5 690.5,207.5" stroke="#806030" stroke-width="1"/><path d="M49 202h3v1h-3zM50 201h1v3h-1zM59 203h3v1h-3zM60 202h1v3h-1zM69 204h3v1h-3zM70 203h1v3h-1zM79 212h3v1h-3zM80 211h1v3h-1zM89 200h3v1h-3zM90 199h1v3h-1zM99 183h3v1h-3zM100 182h1v3h-1zM109 174h3v1h-3zM110 173h1v3h-1zM119 165h3v1h-3zM120 164h1v3h-1zM129 165h3v1h-3zM130 164h1v3h-1zM139 166h3v1h-3zM140 165h1v3h-1zM149 165h3v1h-3zM150 164h1v3h-1zM159 165h3v1h-3zM160 164h1v3h-1zM169 165h3v1h-3zM170 164h1v3h-1zM179 163h3v1h-3zM180 162h1v3h-1zM189 162h3v1h-3zM190 161h1v3h-1zM199 163h3v1h-3zM200 162h1v3h-1zM209 163h3v1h-3zM210 162h1v3h-1zM219 164h3v1h-3zM220 163h1v3h-1zM229 166h3v1h-3zM230 165h1v3h-1zM239 166h3v1h-3zM240 165h1v3h-1zM249 170h3v1h-3zM250 169h1v3h-1zM259 173h3v1h-3zM260 172h1v3h-1zM269 174h3v1h-3zM270 173h1v3h-1zM279 178h3v1h-3zM280 177h1v3h-1zM289 175h3v1h-3zM290 174h1v3h-1zM299 179h3v1h-3zM300 178h1v3h-1zM309 187h3v1h-3zM310 186h1v3h-1zM319 193h3v1h-3zM320 192h1v3h-1zM329 198h3v1h-3zM330 197h1v3h-1zM339 195h3v1h-3zM340 194h1v3h-1zM349 197h3v1h-3zM350 196h1v3h-1zM359 197h3v1h-3zM360 196h1v3h-1zM369 199h3v1h-3zM370 198h1v3h-1zM379 202h3v1h-3zM380 201h1v3h-1zM389 195h3v1h-3zM390 194h1v3h-1zM399 194h3v1h-3zM400 193h1v3h-1zM409 192h3v1h-3zM410 191h1v3h-1zM419 190h3v1h-3zM420 189h1v3h-1zM429 193h3v1h-3zM430 192h1v3h-1zM439 196h3v1h-3zM440 195h1v3h-1zM449 187h3v1h-3zM450 186h1v3h-1zM459 191h3v1h-3zM460 190h1v3h-1zM469 191h3v1h-3zM470 190h1v3h-1zM479 191h3v1h-3zM480 190h1v3h-1zM489 197h3v1h-3zM490 196h1v3h-1zM499 188h3v1h-3zM500 187h1v3h-1zM509 188h3v1h-3zM510 187h1v3h-1zM519 186h3v1h-3zM520 185h1v3h-1zM529 178h3v1h-3zM530 177h1v3h-1zM539 193h3v1h-3zM540 192h1v3h-1zM549 194h3v1h-3zM550 193h1v3h-1zM559 184h3v1h-3zM560 183h1v3h-1zM569 199h3v1h-3zM570 198h1v3h-1zM579 198h3v1h-3zM580 197h1v3h-1zM589 205h3v1h-3zM590 204h1v3h-1zM599 204h3v1h-3zM600 203h1v3h-1zM609 207h3v1h-3zM610 206h1v3h-1zM619 206h3v1h-3zM620 205h1v3h-1zM629 206h3v1h-3zM630 205h1v3h-1zM639 201h3v1h-3zM640 200h1v3h-1zM649 203h3v1h-3zM650 202h1v3h-1zM659 197h3v1h-3zM660 196h1v3h-1zM669 205h3v1h-3zM670 204h1v3h-1zM679 213h3v1h-3zM680 212h1v3h-1zM689 207h3v1h-3zM690 206h1v3h-1z" fill="#806030" stroke="none"/>
<polyline class="l" points="50.5,201.5 60.5,204.5 70.5,202.5 80.5,207.5 90.5,195.5 100.5,182.5 110.5,175.5 120.5,167.5 130.5,167.5 140.5,167.5 150.5,169.5 160.5,166.5 170.5,167.5 180.5,168.5 190.5,170.5 200.5,165.5 210.5,165.5 220.5,167.5 230.5,165.5 240.5,164.5 250.5,164.5 260.5,163.5 270.5,170.5 280.5,171.5 290.5,172.5 300.5,178.5 310.5,183.5 320.5,187.5 330.5,186.5 340.5,185.5 350.5,186.5 360.5,186.5 370.5,193.5 380.5,185.5 390.5,184.5 400.5,184.5 410.5,180.5 420.5,179.5 430.5,180.5 440.5,187.5 450.5,186.5 460.5,179.5 470.5,179.5 480.5,178.5 490.5,159.5 500.5,152.5 510.5,157.5 520.5,142.5 530.5,149.5 540.5,163.5 550.5,173.5 560.5,185.5 570.5,196.5 580.5,200.5 590.5,204.5 600.5,203.5 610.5,209.5 620.5,221.5 630.5,233.5 640.5,243.5 650.5,249.5 660.5,241.5 670.5,217.5 680.5,196.5 690.5,185.5" stroke="#300870" stroke-width="1"/><path d="M49 201h3v1h-3zM50 200h1v3h-1zM59 204h3v1h-3zM60 203h1v3h-1zM69 202h3v1h-3zM70 201h1v3h-1zM79 207h3v1h-3zM80 206h1v3h-1zM89 195h3v1h-3zM90 194h1v3h-1zM99 182h3v1h-3zM100 181h1v3h-1zM109 175h3v1h-3zM110 174h1v3h-1zM119 167h3v1h-3zM120 166h1v3h-1zM129 167h3v1h-3zM130 166h1v3h-1zM139 167h3v1h-3zM140 166h1v3h-1zM149 169h3v1h-3zM150 168h1v3h-1zM159 166h3v1h-3zM160 165h1v3h-1zM169 167h3v1h-3zM170 166h1v3h-1zM179 168h3v1h-3zM180 167h1v3h-1zM189 170h3v1h-3zM190 169h1v3h-1zM199 165h3v1h-3zM200 164h1v3h-1zM209 165h3v1h-3zM210 164h1v3h-1zM219 167h3v1h-3zM220 166h1v3h-1zM229 165h3v1h-3zM230 164h1v3h-1zM239 164h3v1h-3zM240 163h1v3h-1zM249 164h3v1h-3zM250 163h1v3h-1zM259 163h3v1h-3zM260 162h1v3h-1zM269 170h3v1h-3zM270 169h1v3h-1zM279 171h3v1h-3zM280 170h1v3h-1zM289 172h3v1h-3zM290 171h1v3h-1zM299 178h3v1h-3zM300 177h1v3h-1zM309 183h3v1h-3zM310 182h1v3h-1zM319 187h3v1h-3zM320 186h1v3h-1zM329 186h3v1h-3zM330 185h1v3h-1zM339 185h3v1h-3zM340 184h1v3h-1zM349 186h3v1h-3zM350 185h1v3h-1zM359 186h3v1h-3zM360 185h1v3h-1zM369 193h3v1h-3zM370 192h1v3h-1zM379 185h3v1h-3zM380 184h1v3h-1zM389 184h3v1h-3zM390 183h1v3h-1zM399 184h3v1h-3zM400 183h1v3h-1zM409 180h3v1h-3zM410 179h1v3h-1zM419 179h3v1h-3zM420 178h1v3h-1zM429 180h3v1h-3zM430 179h1v3h-1zM439 187h3v1h-3zM440 186h1v3h-1zM449 186h3v1h-3zM450 185h1v3h-1zM459 179h3v1h-3zM460 178h1v3h-1zM469 179h3v1h-3zM470 178h1v3h-1zM479 178h3v1h-3zM480 177h1v3h-1zM489 159h3v1h-3zM490 158h1v3h-1zM499 152h3v1h-3zM500 151h1v3h-1zM509 157h3v1h-3zM510 156h1v3h-1zM519 142h3v1h-3zM520 141h1v3h-1zM529 149h3v1h-3zM530 148h1v3h-1zM539 163h3v1h-3zM540 162h1v3h-1zM549 173h3v1h-3zM550 172h1v3h-1zM559 185h3v1h-3zM560 184h1v3h-1zM569 196h3v1h-3zM570 195h1v3h-1zM579 200h3v1h-3zM580 199h1v3h-1zM589 204h3v1h-3zM590 203h1v3h-1zM599 203h3v1h-3zM600 202h1v3h-1zM609 209h3v1h-3zM610 208h1v3h-1zM619 221h3v1h-3zM620 220h1v3h-1zM629 233h3v1h-3zM630 232h1v3h-1zM639 243h3v1h-3zM640 242h1v3h-1zM649 249h3v1h-3zM650 248h1v3h-1zM659 241h3v1h-3zM660 240h1v3h-1zM669 217h3v1h-3zM670 216h1v3h-1zM679 196h3v1h-3zM680 195h1v3h-1zM689 185h3v1h-3zM690 184h1v3h-1z" fill="#300870" stroke="none"/>
<polyline class="l" points="50.5,201.5 60.5,205.5 70.5,205.5 80.5,213.5 90.5,202.5 100.5,183.5 110.5,178.5 120.5,170.5 130.5,168.5 140.5,165.5 150.5,168.5 160.5,168.5 170.5,170.5 180.5,165.5 190.5,164.5 200.5,164.5 210.5,166.5 220.5,166.5 230.5,170.5 240.5,166.5 250.5,164.5 260.5,170.5 270.5,179.5 280.5,179.5 290.5,182.5 300.5,186.5 310.5,191.5 320.5,191.5 330.5,196.5 340.5,201.5 350.5,200.5 360.5,200.5 370.5,200.5 380.5,197.5 390.5,198.5 400.5,194.5 410.5,192.5 420.5,191.5 430.5,194.5 440.5,197.5 450.5,196.5 460.5,199.5 470.5,196.5 480.5,195.5 490.5,200.5 500.5,197.5 510.5,190.5 520.5,189.5 530.5,190.5 540.5,187.5 550.5,194.5 560.5,198.5 570.5,204.5 580.5,203.5 590.5,203.5 600.5,209.5 610.5,200.5 620.5,194.5 630.5,188.5 640.5,206.5 650.5,204.5 660.5,202.5 670.5,203.5 680.5,200.5 690.5,192.5" stroke="#f0d010" stroke-width="1"/><path d="M49 201h3v1h-3zM50 200h1v3h-1zM59 205h3v1h-3zM60 204h1v3h-1zM69 205h3v1h-3zM70 204h1v3h-1zM79 213h3v1h-3zM80 212h1v3h-1zM89 202h3v1h-3zM90 201h1v3h-1zM99 183h3v1h-3zM100 182h1v3h-1zM109 178h3v1h-3zM110 177h1v3h-1zM119 170h3v1h-3zM120 169h1v3h-1zM129 168h3v1h-3zM130 167h1v3h-1zM139 165h3v1h-3zM140 164h1v3h-1zM149 168h3v1h-3zM150 167h1v3h-1zM159 168h3v1h-3zM160 167h1v3h-1zM169 170h3v1h-3zM170 169h1v3h-1zM179 165h3v1h-3zM180 164h1v3h-1zM189 164h3v1h-3zM190 163h1v3h-1zM199 164h3v1h-3zM200 163h1v3h-1zM209 166h3v1h-3zM210 165h1v3h-1zM219 166h3v1h-3zM220 165h1v3h-1zM229 170h3v1h-3zM230 169h1v3h-1zM239 166h3v1h-3zM240 165h1v3h-1zM249 164h3v1h-3zM250 163h1v3h-1zM259 170h3v1h-3zM260 169h1v3h-1zM269 179h3v1h-3zM270 178h1v3h-1zM279 179h3v1h-3zM280 178h1v3h-1zM289 182h3v1h-3zM290 181h1v3h-1zM299 186h3v1h-3zM300 185h1v3h-1zM309 191h3v1h-3zM310 190h1v3h-1zM319 191h3v1h-3zM320 190h1v3h-1zM329 196h3v1h-3zM330 195h1v3h-1zM339 201h3v1h-3zM340 200h1v3h-1zM349 200h3v1h-3zM350 199h1v3h-1zM359 200h3v1h-3zM360 199h1v3h-1zM369 200h3v1h-3zM370 199h1v3h-1zM379 197h3v1h-3zM380 196h1v3h-1zM389 198h3v1h-3zM390 197h1v3h-1zM399 194h3v1h-3zM400 193h1v3h-1zM409 192h3v1h-3zM410 191h1v3h-1zM419 191h3v1h-3zM420 190h1v3h-1zM429 194h3v1h-3zM430 193h1v3h-1zM439 197h3v1h-3zM440 196h1v3h-1zM449 196h3v1h-3zM450 195h1v3h-1zM459 199h3v1h-3zM460 198h1v3h-1zM469 196h3v1h-3zM470 195h1v3h-1zM479 195h3v1h-3zM480 194h1v3h-1zM489 200h3v1h-3zM490 199h1v3h-1zM499 197h3v1h-3zM500 196h1v3h-1zM509 190h3v1h-3zM510 189h1v3h-1zM519 189h3v1h-3zM520 188h1v3h-1zM529 190h3v1h-3zM530 189h1v3h-1zM539 187h3v1h-3zM540 186h1v3h-1zM549 194h3v1h-3zM550 193h1v3h-1zM559 198h3v1h-3zM560 197h1v3h-1zM569 204h3v1h-3zM570 203h1v3h-1zM579 203h3v1h-3zM580 202h1v3h-1zM589 203h3v1h-3zM590 202h1v3h-1zM599 209h3v1h-3zM600 208h1v3h-1zM609 200h3v1h-3zM610 199h1v3h-1zM619 194h3v1h-3zM620 193h1v3h-1zM629 188h3v1h-3zM630 187h1v3h-1zM639 206h3v1h-3zM640 205h1v3h-1zM649 204h3v1h-3zM650 203h1v3h-1zM659 202h3v1h-3zM660 201h1v3h-1zM669 203h3v1h-3zM670 202h1v3h-1zM679 200h3v1h-3zM680 199h1v3h-1zM689 192h3v1h-3zM690 191h1v3h-1z" fill="#f0d010" stroke="none"/>
<polyline class="l" points="50.5,201.5 60.5,204.5 70.5,203.5 80.5,204.5 90.5,194.5 100.5,176.5 110.5,171.5 120.5,163.5 130.5,164.5 140.5,163.5 150.5,161.5 160.5,161.5 170.5,159.5 180.5,163.5 190.5,164.5 200.5,161.5 210.5,159.5 220.5,159.5 230.5,162.5 240.5,165.5 250.5,167.5 260.5,170.5 270.5,170.5 280.5,173.5 290.5,174.5 300.5,174.5 310.5,180.5 320.5,182.5 330.5,185.5 340.5,187.5 350.5,186.5 360.5,189.5 370.5,189.5 380.5,192.5 390.5,193.5 400.5,188.5 410.5,191.5 420.5,188.5 430.5,184.5 440.5,191.5 450.5,192.5 460.5,191.5 470.5,192.5 480.5,192.5 490.5,178.5 500.5,189.5 510.5,180.5 520.5,175.5 530.5,188.5 540.5,196.5 550.5,190.5 560.5,183.5 570.5,180.5 580.5,176.5 590.5,178.5 600.5,182.5 610.5,180.5 620.5,188.5 630.5,196.5 640.5,204.5 650.5,212.5 660.5,225.5 670.5,236.5 680.5,233.5 690.5,232.5" stroke="#2060a0" stroke-width="1"/><path d="M49 201h3v1h-3zM50 200h1v3h-1zM59 204h3v1h-3zM60 203h1v3h-1zM69 203h3v1h-3zM70 202h1v3h-1zM79 204h3v1h-3zM80 203h1v3h-1zM89 194h3v1h-3zM90 193h1v3h-1zM99 176h3v1h-3zM100 175h1v3h-1zM109 171h3v1h-3zM110 170h1v3h-1zM119 163h3v1h-3zM120 162h1v3h-1zM129 164h3v1h-3zM130 163h1v3h-1zM139 163h3v1h-3zM140 162h1v3h-1zM149 161h3v1h-3zM150 160h1v3h-1zM159 161h3v1h-3zM160 160h1v3h-1zM169 159h3v1h-3zM170 158h1v3h-1zM179 163h3v1h-3zM180 162h1v3h-1zM189 164h3v1h-3zM190 163h1v3h-1zM199 161h3v1h-3zM200 160h1v3h-1zM209 159h3v1h-3zM210 158h1v3h-1zM219 159h3v1h-3zM220 158h1v3h-1zM229 162h3v1h-3zM230 161h1v3h-1zM239 165h3v1h-3zM240 164h1v3h-1zM249 167h3v1h-3zM250 166h1v3h-1zM259 170h3v1h-3zM260 169h1v3h-1zM269 170h3v1h-3zM270 169h1v3h-1zM279 173h3v1h-3zM280 172h1v3h-1zM289 174h3v1h-3zM290 173h1v3h-1zM299 174h3v1h-3zM300 173h1v3h-1zM309 180h3v1h-3zM310 179h1v3h-1zM319 182h3v1h-3zM320 181h1v3h-1zM329 185h3v1h-3zM330 184h1v3h-1zM339 187h3v1h-3zM340 186h1v3h-1zM349 186h3v1h-3zM350 185h1v3h-1zM359 189h3v1h-3zM360 188h1v3h-1zM369 189h3v1h-3zM370 188h1v3h-1zM379 192h3v1h-3zM380 191h1v3h-1zM389 193h3v1h-3zM390 192h1v3h-1zM399 188h3v1h-3zM400 187h1v3h-1zM409 191h3v1h-3zM410 190h1v3h-1zM419 188h3v1h-3zM420 187h1v3h-1zM429 184h3v1h-3zM430 183h1v3h-1zM439 191h3v1h-3zM440 190h1v3h-1zM449 192h3v1h-3zM450 191h1v3h-1zM459 191h3v1h-3zM460 190h1v3h-1zM469 192h3v1h-3zM470 191h1v3h-1zM479 192h3v1h-3zM480 191h1v3h-1zM489 178h3v1h-3zM490 177h1v3h-1zM499 189h3v1h-3zM500 188h1v3h-1zM509 180h3v1h-3zM510 179h1v3h-1zM519 175h3v1h-3zM520 174h1v3h-1zM529 188h3v1h-3zM530 187h1v3h-1zM539 196h3v1h-3zM540 195h1v3h-1zM549 190h3v1h-3zM550 189h1v3h-1zM559 183h3v1h-3zM560 182h1v3h-1zM569 180h3v1h-3zM570 179h1v3h-1zM579 176h3v1h-3zM580 175h1v3h-1zM589 178h3v1h-3zM590 177h1v3h-1zM599 182h3v1h-3zM600 181h1v3h-1zM609 180h3v1h-3zM610 179h1v3h-1zM619 188h3v1h-3zM620 187h1v3h-1zM629 196h3v1h-3zM630 195h1v3h-1zM639 204h3v1h-3zM640 203h1v3h-1zM649 212h3v1h-3zM650 211h1v3h-1zM659 225h3v1h-3zM660 224h1v3h-1zM669 236h3v1h-3zM670 235h1v3h-1zM679 233h3v1h-3zM680 232h1v3h-1zM689 232h3v1h-3zM690 231h1v3h-1z" fill="#2060a0" stroke="none"/>
<polyline class="l" points="50.5,201.5 60.5,203.5 70.5,206.5 80.5,212.5 90.5,204.5 100.5,186.5 110.5,175.5 120.5,168.5 130.5,168.5 140.5,167.5 150.5,167.5 160.5,165.5 170.5,167.5 180.5,167.5 190.5,164.5 200.5,165.5 210.5,169.5 220.5,170.5 230.5,166.5 240.5,166.5 250.5,171.5 260.5,170.5 270.5,171.5 280.5,170.5 290.5,177.5 300.5,186.5 310.5,189.5 320.5,192.5 330.5,190.5 340.5,198.5 350.5,197.5 360.5,202.5 370.5,208.5 380.5,209.5 390.5,207.5 400.5,203.5 410.5,211.5 420.5,213.5 430.5,210.5 440.5,209.5 450.5,206.5 460.5,201.5 470.5,200.5 480.5,199.5 490.5,208.5 500.5,217.5 510.5,210.5 520.5,214.5 530.5,215.5 540.5,209.5 550.5,209.5 560.5,210.5 570.5,202.5 580.5,208.5 590.5,209.5 600.5,211.5 610.5,214.5 620.5,217.5 630.5,221.5 640.5,224.5 650.5,224.5 660.5,223.5 670.5,218.5 680.5,205.5 690.5,206.5" stroke="#905820" stroke-width="1"/><path d="M49 201h3v1h-3zM50 200h1v3h-1zM59 203h3v1h-3zM60 202h1v3h-1zM69 206h3v1h-3zM70 205h1v3h-1zM79 212h3v1h-3zM80 211h1v3h-1zM89 204h3v1h-3zM90 203h1v3h-1zM99 186h3v1h-3zM100 185h1v3h-1zM109 175h3v1h-3zM110 174h1v3h-1zM119 168h3v1h-3zM120 167h1v3h-1zM129 168h3v1h-3zM130 167h1v3h-1zM139 167h3v1h-3zM140 166h1v3h-1zM149 167h3v1h-3zM150 166h1v3h-1zM159 165h3v1h-3zM160 164h1v3h-1zM169 167h3v1h-3zM170 166h1v3h-1zM179 167h3v1h-3zM180 166h1v3h-1zM189 164h3v1h-3zM190 163h1v3h-1zM199 165h3v1h-3zM200 164h1v3h-1zM209 169h3v1h-3zM210 168h1v3h-1zM219 170h3v1h-3zM220 169h1v3h-1zM229 166h3v1h-3zM230 165h1v3h-1zM239 166h3v1h-3zM240 165h1v3h-1zM249 171h3v1h-3zM250 170h1v3h-1zM259 170h3v1h-3zM260 169h1v3h-1zM269 171h3v1h-3zM270 170h1v3h-1zM279 170h3v1h-3zM280 169h1v3h-1zM289 177h3v1h-3zM290 176h1v3h-1zM299 186h3v1h-3zM300 185h1v3h-1zM309 189h3v1h-3zM310 188h1v3h-1zM319 192h3v1h-3zM320 191h1v3h-1zM329 190h3v1h-3zM330 189h1v3h-1zM339 198h3v1h-3zM340 197h1v3h-1zM349 197h3v1h-3zM350 196h1v3h-1zM359 202h3v1h-3zM360 201h1v3h-1zM369 208h3v1h-3zM370 207h1v3h-1zM379 209h3v1h-3zM380 208h1v3h-1zM389 207h3v1h-3zM390 206h1v3h-1zM399 203h3v1h-3zM400 202h1v3h-1zM409 211h3v1h-3zM410 210h1v3h-1zM419 213h3v1h-3zM420 212h1v3h-1zM429 210h3v1h-3zM430 209h1v3h-1zM439 209h3v1h-3zM440 208h1v3h-1zM449 206h3v1h-3zM450 205h1v3h-1zM459 201h3v1h-3zM460 200h1v3h-1zM469 200h3v1h-3zM470 199h1v3h-1zM479 199h3v1h-3zM480 198h1v3h-1zM489 208h3v1h-3zM490 207h1v3h-1zM499 217h3v1h-3zM500 216h1v3h-1zM509 210h3v1h-3zM510 209h1v3h-1zM519 214h3v1h-3zM520 213h1v3h-1zM529 215h3v1h-3zM530 214h1v3h-1zM539 209h3v1h-3zM540 208h1v3h-1zM549 209h3v1h-3zM550 208h1v3h-1zM559 210h3v1h-3zM560 209h1v3h-1zM569 202h3v1h-3zM570 201h1v3h-1zM579 208h3v1h-3zM580 207h1v3h-1zM589 209h3v1h-3zM590 208h1v3h-1zM599 211h3v1h-3zM600 210h1v3h-1zM609 214h3v1h-3zM610 213h1v3h-1zM619 217h3v1h-3zM620 216h1v3h-1zM629 221h3v1h-3zM630 220h1v3h-1zM639 224h3v1h-3zM640 223h1v3h-1zM649 224h3v1h-3zM650 223h1v3h-1zM659 223h3v1h-3zM660 222h1v3h-1zM669 218h3v1h-3zM670 217h1v3h-1zM679 205h3v1h-3zM680 204h1v3h-1zM689 206h3v1h-3zM690 205h1v3h-1z" fill="#905820" stroke="none"/>
<polyline class="l" points="50.5,203.5 60.5,204.5 70.5,205.5 80.5,213.5 90.5,201.5 100.5,185.5 110.5,175.5 120.5,170.5 130.5,170.5 140.5,169.5 150.5,169.5 160.5,166.5 170.5,164.5 180.5,166.5 190.5,166.5 200.5,164.5 210.5,168.5 220.5,166.5 230.5,168.5 240.5,169.5 250.5,169.5 260.5,172.5 270.5,178.5 280.5,181.5 290.5,192.5 300.5,201.5 310.5,201.5 320.5,205.5 330.5,217.5 340.5,217.5 350.5,210.5 360.5,212.5 370.5,216.5 380.5,210.5 390.5,217.5 400.5,220.5 410.5,222.5 420.5,221.5 430.5,221.5 440.5,220.5 450.5,222.5 460.5,223.5 470.5,223.5 480.5,213.5 490.5,203.5 500.5,178.5 510.5,170.5 520.5,166.5 530.5,163.5 540.5,161.5 550.5,157.5 560.5,153.5 570.5,154.5 580.5,166.5 590.5,153.5 600.5,162.5 610.5,177.5 620.5,189.5 630.5,196.5 640.5,193.5 650.5,190.5 660.5,198.5 670.5,196.5 680.5,202.5 690.5,208.5" stroke="#9888e8" stroke-width="1"/><path d="M49 203h3v1h-3zM50 202h1v3h-1zM59 204h3v1h-3zM60 203h1v3h-1zM69 205h3v1h-3zM70 204h1v3h-1zM79 213h3v1h-3zM80 212h1v3h-1zM89 201h3v1h-3zM90 200h1v3h-1zM99 185h3v1h-3zM100 184h1v3h-1zM109 175h3v1h-3zM110 174h1v3h-1zM119 170h3v1h-3zM120 169h1v3h-1zM129 170h3v1h-3zM130 169h1v3h-1zM139 169h3v1h-3zM140 168h1v3h-1zM149 169h3v1h-3zM150 168h1v3h-1zM159 166h3v1h-3zM160 165h1v3h-1zM169 164h3v1h-3zM170 163h1v3h-1zM179 166h3v1h-3zM180 165h1v3h-1zM189 166h3v1h-3zM190 165h1v3h-1zM199 164h3v1h-3zM200 163h1v3h-1zM209 168h3v1h-3zM210 167h1v3h-1zM219 166h3v1h-3zM220 165h1v3h-1zM229 168h3v1h-3zM230 167h1v3h-1zM239 169h3v1h-3zM240 168h1v3h-1zM249 169h3v1h-3zM250 168h1v3h-1zM259 172h3v1h-3zM260 171h1v3h-1zM269 178h3v1h-3zM270 177h1v3h-1zM279 181h3v1h-3zM280 180h1v3h-1zM289 192h3v1h-3zM290 191h1v3h-1zM299 201h3v1h-3zM300 200h1v3h-1zM309 201h3v1h-3zM310 200h1v3h-1zM319 205h3v1h-3zM320 204h1v3h-1zM329 217h3v1h-3zM330 216h1v3h-1zM339 217h3v1h-3zM340 216h1v3h-1zM349 210h3v1h-3zM350 209h1v3h-1zM359 212h3v1h-3zM360 211h1v3h-1zM369 216h3v1h-3zM370 215h1v3h-1zM379 210h3v1h-3zM380 209h1v3h-1zM389 217h3v1h-3zM390 216h1v3h-1zM399 220h3v1h-3zM400 219h1v3h-1zM409 222h3v1h-3zM410 221h1v3h-1zM419 221h3v1h-3zM420 220h1v3h-1zM429 221h3v1h-3zM430 220h1v3h-1zM439 220h3v1h-3zM440 219h1v3h-1zM449 222h3v1h-3zM450 221h1v3h-1zM459 223h3v1h-3zM460 222h1v3h-1zM469 223h3v1h-3zM470 222h1v3h-1zM479 213h3v1h-3zM480 212h1v3h-1zM489 203h3v1h-3zM490 202h1v3h-1zM499 178h3v1h-3zM500 177h1v3h-1zM509 170h3v1h-3zM510 169h1v3h-1zM519 166h3v1h-3zM520 165h1v3h-1zM529 163h3v1h-3zM530 162h1v3h-1zM539 161h3v1h-3zM540 160h1v3h-1zM549 157h3v1h-3zM550 156h1v3h-1zM559 153h3v1h-3zM560 152h1v3h-1zM569 154h3v1h-3zM570 153h1v3h-1zM579 166h3v1h-3zM580 165h1v3h-1zM589 153h3v1h-3zM590 152h1v3h-1zM599 162h3v1h-3zM600 161h1v3h-1zM609 177h3v1h-3zM610 176h1v3h-1zM619 189h3v1h-3zM620 188h1v3h-1zM629 196h3v1h-3zM630 195h1v3h-1zM639 193h3v1h-3zM640 192h1v3h-1zM649 190h3v1h-3zM650 189h1v3h-1zM659 198h3v1h-3zM660 197h1v3h-1zM669 196h3v1h-3zM670 195h1v3h-1zM679 202h3v1h-3zM680 201h1v3h-1zM689 208h3v1h-3zM690 207h1v3h-1z" fill="#9888e8" stroke="none"/>
<polyline class="l" points="50.5,202.5 60.5,202.5 70.5,203.5 80.5,207.5 90.5,197.5 100.5,181.5 110.5,174.5 120.5,164.5 130.5,163.5 140.5,165.5 150.5,169.5 160.5,168.5 170.5,165.5 180.5,169.5 190.5,168.5 200.5,164.5 210.5,166.5 220.5,166.5 230.5,171.5 240.5,173.5 250.5,169.5 260.5,171.5 270.5,173.5 280.5,178.5 290.5,186.5 300.5,186.5 310.5,194.5 320.5,193.5 330.5,194.5 340.5,196.5 350.5,195.5 360.5,197.5 370.5,191.5 380.5,192.5 390.5,192.5 400.5,196.5 410.5,196.5 420.5,194.5 430.5,195.5 440.5,196.5 450.5,200.5 460.5,199.5 470.5,200.5 480.5,198.5 490.5,198.5 500.5,196.5 510.5,200.5 520.5,203.5 530.5,210.5 540.5,211.5 550.5,212.5 560.5,222.5 570.5,212.5 580.5,221.5 590.5,210.5 600.5,215.5 610.5,203.5 620.5,207.5 630.5,216.5 640.5,207.5 650.5,204.5 660.5,202.5 670.5,200.5 680.5,189.5 690.5,188.5" stroke="#a0f040" stroke-width="1"/><path d="M49 202h3v1h-3zM50 201h1v3h-1zM59 202h3v1h-3zM60 201h1v3h-1zM69 203h3v1h-3zM70 202h1v3h-1zM79 207h3v1h-3zM80 206h1v3h-1zM89 197h3v1h-3zM90 196h1v3h-1zM99 181h3v1h-3zM100 180h1v3h-1zM109 174h3v1h-3zM110 173h1v3h-1zM119 164h3v1h-3zM120 163h1v3h-1zM129 163h3v1h-3zM130 162h1v3h-1zM139 165h3v1h-3zM140 164h1v3h-1zM149 169h3v1h-3zM150 168h1v3h-1zM159 168h3v1h-3zM160 167h1v3h-1zM169 165h3v1h-3zM170 164h1v3h-1zM179 169h3v1h-3zM180 168h1v3h-1zM189 168h3v1h-3zM190 167h1v3h-1zM199 164h3v1h-3zM200 163h1v3h-1zM209 166h3v1h-3zM210 165h1v3h-1zM219 166h3v1h-3zM220 165h1v3h-1zM229 171h3v1h-3zM230 170h1v3h-1zM239 173h3v1h-3zM240 172h1v3h-1zM249 169h3v1h-3zM250 168h1v3h-1zM259 171h3v1h-3zM260 170h1v3h-1zM269 173h3v1h-3zM270 172h1v3h-1zM279 178h3v1h-3zM280 177h1v3h-1zM289 186h3v1h-3zM290 185h1v3h-1zM299 186h3v1h-3zM300 185h1v3h-1zM309 194h3v1h-3zM310 193h1v3h-1zM319 193h3v1h-3zM320 192h1v3h-1zM329 194h3v1h-3zM330 193h1v3h-1zM339 196h3v1h-3zM340 195h1v3h-1zM349 195h3v1h-3zM350 194h1v3h-1zM359 197h3v1h-3zM360 196h1v3h-1zM369 191h3v1h-3zM370 190h1v3h-1zM379 192h3v1h-3zM380 191h1v3h-1zM389 192h3v1h-3zM390 191h1v3h-1zM399 196h3v1h-3zM400 195h1v3h-1zM409 196h3v1h-3zM410 195h1v3h-1zM419 194h3v1h-3zM420 193h1v3h-1zM429 195h3v1h-3zM430 194h1v3h-1zM439 196h3v1h-3zM440 195h1v3h-1zM449 200h3v1h-3zM450 199h1v3h-1zM459 199h3v1h-3zM460 198h1v3h-1zM469 200h3v1h-3zM470 199h1v3h-1zM479 198h3v1h-3zM480 197h1v3h-1zM489 198h3v1h-3zM490 197h1v3h-1zM499 196h3v1h-3zM500 195h1v3h-1zM509 200h3v1h-3zM510 199h1v3h-1zM519 203h3v1h-3zM520 202h1v3h-1zM529 210h3v1h-3zM530 209h1v3h-1zM539 211h3v1h-3zM540 210h1v3h-1zM549 212h3v1h-3zM550 211h1v3h-1zM559 222h3v1h-3zM560 221h1v3h-1zM569 212h3v1h-3zM570 211h1v3h-1zM579 221h3v1h-3zM580 220h1v3h-1zM589 210h3v1h-3zM590 209h1v3h-1zM599 215h3v1h-3zM600 214h1v3h-1zM609 203h3v1h-3zM610 202h1v3h-1zM619 207h3v1h-3zM620 206h1v3h-1zM629 216h3v1h-3zM630 215h1v3h-1zM639 207h3v1h-3zM640 206h1v3h-1zM649 204h3v1h-3zM650 203h1v3h-1zM659 202h3v1h-3zM660 201h1v3h-1zM669 200h3v1h-3zM670 199h1v3h-1zM679 189h3v1h-3zM680 188h1v3h-1zM689 188h3v1h-3zM690 187h1v3h-1z" fill="#a0f040" stroke="none"/>
<polyline class="l" points="50.5,203.5 60.5,205.5 70.5,207.5 80.5,213.5 90.5,204.5 100.5,188.5 110.5,182.5 120.5,174.5 130.5,175.5 140.5,175.5 150.5,176.5 160.5,177.5 170.5,178.5 180.5,178.5 190.5,179.5 200.5,175.5 210.5,178.5 220.5,180.5 230.5,179.5 240.5,176.5 250.5,171.5 260.5,177.5 270.5,189.5 280.5,195.5 290.5,203.5 300.5,207.5 310.5,210.5 320.5,213.5 330.5,214.5 340.5,213.5 350.5,210.5 360.5,209.5 370.5,217.5 380.5,218.5 390.5,216.5 400.5,212.5 410.5,208.5 420.5,205.5 430.5,199.5 440.5,198.5 450.5,199.5 460.5,202.5 470.5,200.5 480.5,199.5 490.5,199.5 500.5,199.5 510.5,200.5 520.5,197.5 530.5,198.5 540.5,195.5 550.5,190.5 560.5,197.5 570.5,197.5 580.5,200.5 590.5,203.5 600.5,211.5 610.5,226.5 620.5,233.5 630.5,242.5 640.5,249.5 650.5,253.5 660.5,250.5 670.5,241.5 680.5,233.5 690.5,230.5" stroke="#d070d0" stroke-width="1"/><path d="M49 203h3v1h-3zM50 202h1v3h-1zM59 205h3v1h-3zM60 204h1v3h-1zM69 207h3v1h-3zM70 206h1v3h-1zM79 213h3v1h-3zM80 212h1v3h-1zM89 204h3v1h-3zM90 203h1v3h-1zM99 188h3v1h-3zM100 187h1v3h-1zM109 182h3v1h-3zM110 181h1v3h-1zM119 174h3v1h-3zM120 173h1v3h-1zM129 175h3v1h-3zM130 174h1v3h-1zM139 175h3v1h-3zM140 174h1v3h-1zM149 176h3v1h-3zM150 175h1v3h-1zM159 177h3v1h-3zM160 176h1v3h-1zM169 178h3v1h-3zM170 177h1v3h-1zM179 178h3v1h-3zM180 177h1v3h-1zM189 179h3v1h-3zM190 178h1v3h-1zM199 175h3v1h-3zM200 174h1v3h-1zM209 178h3v1h-3zM210 177h1v3h-1zM219 180h3v1h-3zM220 179h1v3h-1zM229 179h3v1h-3zM230 178h1v3h-1zM239 176h3v1h-3zM240 175h1v3h-1zM249 171h3v1h-3zM250 170h1v3h-1zM259 177h3v1h-3zM260 176h1v3h-1zM269 189h3v1h-3zM270 188h1v3h-1zM279 195h3v1h-3zM280 194h1v3h-1zM289 203h3v1h-3zM290 202h1v3h-1zM299 207h3v1h-3zM300 206h1v3h-1zM309 210h3v1h-3zM310 209h1v3h-1zM319 213h3v1h-3zM320 212h1v3h-1zM329 214h3v1h-3zM330 213h1v3h-1zM339 213h3v1h-3zM340 212h1v3h-1zM349 210h3v1h-3zM350 209h1v3h-1zM359 209h3v1h-3zM360 208h1v3h-1zM369 217h3v1h-3zM370 216h1v3h-1zM379 218h3v1h-3zM380 217h1v3h-1zM389 216h3v1h-3zM390 215h1v3h-1zM399 212h3v1h-3zM400 211h1v3h-1zM409 208h3v1h-3zM410 207h1v3h-1zM419 205h3v1h-3zM420 204h1v3h-1zM429 199h3v1h-3zM430 198h1v3h-1zM439 198h3v1h-3zM440 197h1v3h-1zM449 199h3v1h-3zM450 198h1v3h-1zM459 202h3v1h-3zM460 201h1v3h-1zM469 200h3v1h-3zM470 199h1v3h-1zM479 199h3v1h-3zM480 198h1v3h-1zM489 199h3v1h-3zM490 198h1v3h-1zM499 199h3v1h-3zM500 198h1v3h-1zM509 200h3v1h-3zM510 199h1v3h-1zM519 197h3v1h-3zM520 196h1v3h-1zM529 198h3v1h-3zM530 197h1v3h-1zM539 195h3v1h-3zM540 194h1v3h-1zM549 190h3v1h-3zM550 189h1v3h-1zM559 197h3v1h-3zM560 196h1v3h-1zM569 197h3v1h-3zM570 196h1v3h-1zM579 200h3v1h-3zM580 199h1v3h-1zM589 203h3v1h-3zM590 202h1v3h-1zM599 211h3v1h-3zM600 210h1v3h-1zM609 226h3v1h-3zM610 225h1v3h-1zM619 233h3v1h-3zM620 232h1v3h-1zM629 242h3v1h-3zM630 241h1v3h-1zM639 249h3v1h-3zM640 248h1v3h-1zM649 253h3v1h-3zM650 252h1v3h-1zM659 250h3v1h-3zM660 249h1v3h-1zM669 241h3v1h-3zM670 240h1v3h-1zM679 233h3v1h-3zM680 232h1v3h-1zM689 230h3v1h-3zM690 229h1v3h-1z" fill="#d070d0" stroke="none"/>
<polyline class="l" points="50.5,204.5 60.5,206.5 70.5,208.5 80.5,213.5 90.5,202.5 100.5,187.5 110.5,181.5 120.5,172.5 130.5,171.5 140.5,171.5 150.5,171.5 160.5,168.5 170.5,171.5 180.5,171.5 190.5,169.5 200.5,168.5 210.5,165.5 220.5,173.5 230.5,178.5 240.5,177.5 250.5,176.5 260.5,180.5 270.5,189.5 280.5,198.5 290.5,206.5 300.5,198.5 310.5,203.5 320.5,202.5 330.5,206.5 340.5,205.5 350.5,209.5 360.5,210.5 370.5,226.5 380.5,222.5 390.5,211.5 400.5,209.5 410.5,210.5 420.5,202.5 430.5,199.5 440.5,204.5 450.5,193.5 460.5,192.5 470.5,185.5 480.5,197.5 490.5,198.5 500.5,192.5 510.5,187.5 520.5,192.5 530.5,198.5 540.5,198.5 550.5,199.5 560.5,200.5 570.5,198.5 580.5,204.5 590.5,201.5 600.5,193.5 610.5,201.5 620.5,210.5 630.5,216.5 640.5,206.5 650.5,209.5 660.5,209.5 670.5,210.5 680.5,202.5 690.5,193.5" stroke="#2000a0" stroke-width="1"/><path d="M49 204h3v1h-3zM50 203h1v3h-1zM59 206h3v1h-3zM60 205h1v3h-1zM69 208h3v1h-3zM70 207h1v3h-1zM79 213h3v1h-3zM80 212h1v3h-1zM89 202h3v1h-3zM90 201h1v3h-1zM99 187h3v1h-3zM100 186h1v3h-1zM109 181h3v1h-3zM110 180h1v3h-1zM119 172h3v1h-3zM120 171h1v3h-1zM129 171h3v1h-3zM130 170h1v3h-1zM139 171h3v1h-3zM140 170h1v3h-1zM149 171h3v1h-3zM150 170h1v3h-1zM159 168h3v1h-3zM160 167h1v3h-1zM169 171h3v1h-3zM170 170h1v3h-1zM179 171h3v1h-3zM180 170h1v3h-1zM189 169h3v1h-3zM190 168h1v3h-1zM199 168h3v1h-3zM200 167h1v3h-1zM209 165h3v1h-3zM210 164h1v3h-1zM219 173h3v1h-3zM220 172h1v3h-1zM229 178h3v1h-3zM230 177h1v3h-1zM239 177h3v1h-3zM240 176h1v3h-1zM249 176h3v1h-3zM250 175h1v3h-1zM259 180h3v1h-3zM260 179h1v3h-1zM269 189h3v1h-3zM270 188h1v3h-1zM279 198h3v1h-3zM280 197h1v3h-1zM289 206h3v1h-3zM290 205h1v3h-1zM299 198h3v1h-3zM300 197h1v3h-1zM309 203h3v1h-3zM310 202h1v3h-1zM319 202h3v1h-3zM320 201h1v3h-1zM329 206h3v1h-3zM330 205h1v3h-1zM339 205h3v1h-3zM340 204h1v3h-1zM349 209h3v1h-3zM350 208h1v3h-1zM359 210h3v1h-3zM360 209h1v3h-1zM369 226h3v1h-3zM370 225h1v3h-1zM379 222h3v1h-3zM380 221h1v3h-1zM389 211h3v1h-3zM390 210h1v3h-1zM399 209h3v1h-3zM400 208h1v3h-1zM409 210h3v1h-3zM410 209h1v3h-1zM419 202h3v1h-3zM420 201h1v3h-1zM429 199h3v1h-3zM430 198h1v3h-1zM439 204h3v1h-3zM440 203h1v3h-1zM449 193h3v1h-3zM450 192h1v3h-1zM459 192h3v1h-3zM460 191h1v3h-1zM469 185h3v1h-3zM470 184h1v3h-1zM479 197h3v1h-3zM480 196h1v3h-1zM489 198h3v1h-3zM490 197h1v3h-1zM499 192h3v1h-3zM500 191h1v3h-1zM509 187h3v1h-3zM510 186h1v3h-1zM519 192h3v1h-3zM520 191h1v3h-1zM529 198h3v1h-3zM530 197h1v3h-1zM539 198h3v1h-3zM540 197h1v3h-1zM549 199h3v1h-3zM550 198h1v3h-1zM559 200h3v1h-3zM560 199h1v3h-1zM569 198h3v1h-3zM570 197h1v3h-1zM579 204h3v1h-3zM580 203h1v3h-1zM589 201h3v1h-3zM590 200h1v3h-1zM599 193h3v1h-3zM600 192h1v3h-1zM609 201h3v1h-3zM610 200h1v3h-1zM619 210h3v1h-3zM620 209h1v3h-1zM629 216h3v1h-3zM630 215h1v3h-1zM639 206h3v1h-3zM640 205h1v3h-1zM649 209h3v1h-3zM650 208h1v3h-1zM659 209h3v1h-3zM660 208h1v3h-1zM669 210h3v1h-3zM670 209h1v3h-1zM679 202h3v1h-3zM680 201h1v3h-1zM689 193h3v1h-3zM690 192h1v3h-1z" fill="#2000a0" stroke="none"/>
<polyline class="l" points="50.5,200.5 60.5,203.5 70.5,202.5 80.5,210.5 90.5,200.5 100.5,185.5 110.5,178.5 120.5,169.5 130.5,166.5 140.5,167.5 150.5,169.5 160.5,166.5 170.5,165.5 180.5,166.5 190.5,164.5 200.5,164.5 210.5,164.5 220.5,162.5 230.5,162.5 240.5,161.5 250.5,159.5 260.5,161.5 270.5,164.5 280.5,170.5 290.5,169.5 300.5,179.5 310.5,188.5 320.5,187.5 330.5,198.5 340.5,197.5 350.5,199.5 360.5,202.5 370.5,203.5 380.5,203.5 390.5,201.5 400.5,197.5 410.5,196.5 420.5,202.5 430.5,204.5 440.5,203.5 450.5,201.5 460.5,197.5 470.5,200.5 480.5,209.5 490.5,203.5 500.5,204.5 510.5,201.5 520.5,196.5 530.5,194.5 540.5,186.5 550.5,203.5 560.5,208.5 570.5,232.5 580.5,238.5 590.5,236.5 600.5,232.5 610.5,231.5 620.5,230.5 630.5,231.5 640.5,232.5 650.5,233.5 660.5,238.5 670.5,241.5 680.5,243.5 690.5,243.5" stroke="#e0c8a0" stroke-width="1"/><path d="M49 200h3v1h-3zM50 199h1v3h-1zM59 203h3v1h-3zM60 202h1v3h-1zM69 202h3v1h-3zM70 201h1v3h-1zM79 210h3v1h-3zM80 209h1v3h-1zM89 200h3v1h-3zM90 199h1v3h-1zM99 185h3v1h-3zM100 184h1v3h-1zM109 178h3v1h-3zM110 177h1v3h-1zM119 169h3v1h-3zM120 168h1v3h-1zM129 166h3v1h-3zM130 165h1v3h-1zM139 167h3v1h-3zM140 166h1v3h-1zM149 169h3v1h-3zM150 168h1v3h-1zM159 166h3v1h-3zM160 165h1v3h-1zM169 165h3v1h-3zM170 164h1v3h-1zM179 166h3v1h-3zM180 165h1v3h-1zM189 164h3v1h-3zM190 163h1v3h-1zM199 164h3v1h-3zM200 163h1v3h-1zM209 164h3v1h-3zM210 163h1v3h-1zM219 162h3v1h-3zM220 161h1v3h-1zM229 162h3v1h-3zM230 161h1v3h-1zM239 161h3v1h-3zM240 160h1v3h-1zM249 159h3v1h-3zM250 158h1v3h-1zM259 161h3v1h-3zM260 160h1v3h-1zM269 164h3v1h-3zM270 163h1v3h-1zM279 170h3v1h-3zM280 169h1v3h-1zM289 169h3v1h-3zM290 168h1v3h-1zM299 179h3v1h-3zM300 178h1v3h-1zM309 188h3v1h-3zM310 187h1v3h-1zM319 187h3v1h-3zM320 186h1v3h-1zM329 198h3v1h-3zM330 197h1v3h-1zM339 197h3v1h-3zM340 196h1v3h-1zM349 199h3v1h-3zM350 198h1v3h-1zM359 202h3v1h-3zM360 201h1v3h-1zM369 203h3v1h-3zM370 202h1v3h-1zM379 203h3v1h-3zM380 202h1v3h-1zM389 201h3v1h-3zM390 200h1v3h-1zM399 197h3v1h-3zM400 196h1v3h-1zM409 196h3v1h-3zM410 195h1v3h-1zM419 202h3v1h-3zM420 201h1v3h-1zM429 204h3v1h-3zM430 203h1v3h-1zM439 203h3v1h-3zM440 202h1v3h-1zM449 201h3v1h-3zM450 200h1v3h-1zM459 197h3v1h-3zM460 196h1v3h-1zM469 200h3v1h-3zM470 199h1v3h-1zM479 209h3v1h-3zM480 208h1v3h-1zM489 203h3v1h-3zM490 202h1v3h-1zM499 204h3v1h-3zM500 203h1v3h-1zM509 201h3v1h-3zM510 200h1v3h-1zM519 196h3v1h-3zM520 195h1v3h-1zM529 194h3v1h-3zM530 193h1v3h-1zM539 186h3v1h-3zM540 185h1v3h-1zM549 203h3v1h-3zM550 202h1v3h-1zM559 208h3v1h-3zM560 207h1v3h-1zM569 232h3v1h-3zM570 231h1v3h-1zM579 238h3v1h-3zM580 237h1v3h-1zM589 236h3v1h-3zM590 235h1v3h-1zM599 232h3v1h-3zM600 231h1v3h-1zM609 231h3v1h-3zM610 230h1v3h-1zM619 230h3v1h-3zM620 229h1v3h-1zM629 231h3v1h-3zM630 230h1v3h-1zM639 232h3v1h-3zM640 231h1v3h-1zM649 233h3v1h-3zM650 232h1v3h-1zM659 238h3v1h-3zM660 237h1v3h-1zM669 241h3v1h-3zM670 240h1v3h-1zM679 243h3v1h-3zM680 242h1v3h-1zM689 243h3v1h-3zM690 242h1v3h-1z" fill="#e0c8a0" stroke="none"/>
<polyline class="l" points="50.5,203.5 60.5,205.5 70.5,203.5 80.5,210.5 90.5,200.5 100.5,186.5 110.5,176.5 120.5,171.5 130.5,170.5 140.5,169.5 150.5,169.5 160.5,167.5 170.5,166.5 180.5,167.5 190.5,167.5 200.5,165.5 210.5,167.5 220.5,170.5 230.5,172.5 240.5,170.5 250.5,166.5 260.5,174.5 270.5,173.5 280.5,180.5 290.5,181.5 300.5,184.5 310.5,188.5 320.5,191.5 330.5,195.5 340.5,201.5 350.5,201.5 360.5,200.5 370.5,198.5 380.5,193.5 390.5,192.5 400.5,193.5 410.5,187.5 420.5,186.5 430.5,189.5 440.5,186.5 450.5,187.5 460.5,185.5 470.5,181.5 480.5,178.5 490.5,175.5 500.5,174.5 510.5,171.5 520.5,162.5 530.5,160.5 540.5,154.5 550.5,158.5 560.5,159.5 570.5,159.5 580.5,172.5 590.5,171.5 600.5,172.5 610.5,184.5 620.5,196.5 630.5,198.5 640.5,196.5 650.5,199.5 660.5,197.5 670.5,196.5 680.5,198.5 690.5,197.5" stroke="#880010" stroke-width="1"/><path d="M49 203h3v1h-3zM50 202h1v3h-1zM59 205h3v1h-3zM60 204h1v3h-1zM69 203h3v1h-3zM70 202h1v3h-1zM79 210h3v1h-3zM80 209h1v3h-1zM89 200h3v1h-3zM90 199h1v3h-1zM99 186h3v1h-3zM100 185h1v3h-1zM109 176h3v1h-3zM110 175h1v3h-1zM119 171h3v1h-3zM120 170h1v3h-1zM129 170h3v1h-3zM130 169h1v3h-1zM139 169h3v1h-3zM140 168h1v3h-1zM149 169h3v1h-3zM150 168h1v3h-1zM159 167h3v1h-3zM160 166h1v3h-1zM169 166h3v1h-3zM170 165h1v3h-1zM179 167h3v1h-3zM180 166h1v3h-1zM189 167h3v1h-3zM190 166h1v3h-1zM199 165h3v1h-3zM200 164h1v3h-1zM209 167h3v1h-3zM210 166h1v3h-1zM219 170h3v1h-3zM220 169h1v3h-1zM229 172h3v1h-3zM230 171h1v3h-1zM239 170h3v1h-3zM240 169h1v3h-1zM249 166h3v1h-3zM250 165h1v3h-1zM259 174h3v1h-3zM260 173h1v3h-1zM269 173h3v1h-3zM270 172h1v3h-1zM279 180h3v1h-3zM280 179h1v3h-1zM289 181h3v1h-3zM290 180h1v3h-1zM299 184h3v1h-3zM300 183h1v3h-1zM309 188h3v1h-3zM310 187h1v3h-1zM319 191h3v1h-3zM320 190h1v3h-1zM329 195h3v1h-3zM330 194h1v3h-1zM339 201h3v1h-3zM340 200h1v3h-1zM349 201h3v1h-3zM350 200h1v3h-1zM359 200h3v1h-3zM360 199h1v3h-1zM369 198h3v1h-3zM370 197h1v3h-1zM379 193h3v1h-3zM380 192h1v3h-1zM389 192h3v1h-3zM390 191h1v3h-1zM399 193h3v1h-3zM400 192h1v3h-1zM409 187h3v1h-3zM410 186h1v3h-1zM419 186h3v1h-3zM420 185h1v3h-1zM429 189h3v1h-3zM430 188h1v3h-1zM439 186h3v1h-3zM440 185h1v3h-1zM449 187h3v1h-3zM450 186h1v3h-1zM459 185h3v1h-3zM460 184h1v3h-1zM469 181h3v1h-3zM470 180h1v3h-1zM479 178h3v1h-3zM480 177h1v3h-1zM489 175h3v1h-3zM490 174h1v3h-1zM499 174h3v1h-3zM500 173h1v3h-1zM509 171h3v1h-3zM510 170h1v3h-1zM519 162h3v1h-3zM520 161h1v3h-1zM529 160h3v1h-3zM530 159h1v3h-1zM539 154h3v1h-3zM540 153h1v3h-1zM549 158h3v1h-3zM550 157h1v3h-1zM559 159h3v1h-3zM560 158h1v3h-1zM569 159h3v1h-3zM570 158h1v3h-1zM579 172h3v1h-3zM580 171h1v3h-1zM589 171h3v1h-3zM590 170h1v3h-1zM599 172h3v1h-3zM600 171h1v3h-1zM609 184h3v1h-3zM610 183h1v3h-1zM619 196h3v1h-3zM620 195h1v3h-1zM629 198h3v1h-3zM630 197h1v3h-1zM639 196h3v1h-3zM640 195h1v3h-1zM649 199h3v1h-3zM650 198h1v3h-1zM659 197h3v1h-3zM660 196h1v3h-1zM669 196h3v1h-3zM670 195h1v3h-1zM679 198h3v1h-3zM680 197h1v3h-1zM689 197h3v1h-3zM690 196h1v3h-1z" fill="#880010" stroke="none"/>
<polyline class="l" points="50.5,203.5 60.5,204.5 70.5,204.5 80.5,209.5 90.5,201.5 100.5,184.5 110.5,175.5 120.5,168.5 130.5,166.5 140.5,168.5 150.5,168.5 160.5,165.5 170.5,164.5 180.5,166.5 190.5,168.5 200.5,166.5 210.5,169.5 220.5,173.5 230.5,173.5 240.5,175.5 250.5,176.5 260.5,183.5 270.5,174.5 280.5,179.5 290.5,178.5 300.5,179.5 310.5,184.5 320.5,186.5 330.5,194.5 340.5,200.5 350.5,201.5 360.5,201.5 370.5,197.5 380.5,192.5 390.5,188.5 400.5,192.5 410.5,189.5 420.5,180.5 430.5,180.5 440.5,186.5 450.5,185.5 460.5,177.5 470.5,171.5 480.5,169.5 490.5,168.5 500.5,174.5 510.5,171.5 520.5,183.5 530.5,176.5 540.5,189.5 550.5,189.5 560.5,190.5 570.5,190.5 580.5,187.5 590.5,174.5 600.5,168.5 610.5,167.5 620.5,170.5 630.5,187.5 640.5,173.5 650.5,173.5 660.5,173.5 670.5,172.5 680.5,171.5 690.5,181.5" stroke="#0030c0" stroke-width="1"/><path d="M49 203h3v1h-3zM50 202h1v3h-1zM59 204h3v1h-3zM60 203h1v3h-1zM69 204h3v1h-3zM70 203h1v3h-1zM79 209h3v1h-3zM80 208h1v3h-1zM89 201h3v1h-3zM90 200h1v3h-1zM99 184h3v1h-3zM100 183h1v3h-1zM109 175h3v1h-3zM110 174h1v3h-1zM119 168h3v1h-3zM120 167h1v3h-1zM129 166h3v1h-3zM130 165h1v3h-1zM139 168h3v1h-3zM140 167h1v3h-1zM149 168h3v1h-3zM150 167h1v3h-1zM159 165h3v1h-3zM160 164h1v3h-1zM169 164h3v1h-3zM170 163h1v3h-1zM179 166h3v1h-3zM180 165h1v3h-1zM189 168h3v1h-3zM190 167h1v3h-1zM199 166h3v1h-3zM200 165h1v3h-1zM209 169h3v1h-3zM210 168h1v3h-1zM219 173h3v1h-3zM220 172h1v3h-1zM229 173h3v1h-3zM230 172h1v3h-1zM239 175h3v1h-3zM240 174h1v3h-1zM249 176h3v1h-3zM250 175h1v3h-1zM259 183h3v1h-3zM260 182h1v3h-1zM269 174h3v1h-3zM270 173h1v3h-1zM279 179h3v1h-3zM280 178h1v3h-1zM289 178h3v1h-3zM290 177h1v3h-1zM299 179h3v1h-3zM300 178h1v3h-1zM309 184h3v1h-3zM310 183h1v3h-1zM319 186h3v1h-3zM320 185h1v3h-1zM329 194h3v1h-3zM330 193h1v3h-1zM339 200h3v1h-3zM340 199h1v3h-1zM349 201h3v1h-3zM350 200h1v3h-1zM359 201h3v1h-3zM360 200h1v3h-1zM369 197h3v1h-3zM370 196h1v3h-1zM379 192h3v1h-3zM380 191h1v3h-1zM389 188h3v1h-3zM390 187h1v3h-1zM399 192h3v1h-3zM400 191h1v3h-1zM409 189h3v1h-3zM410 188h1v3h-1zM419 180h3v1h-3zM420 179h1v3h-1zM429 180h3v1h-3zM430 179h1v3h-1zM439 186h3v1h-3zM440 185h1v3h-1zM449 185h3v1h-3zM450 184h1v3h-1zM459 177h3v1h-3zM460 176h1v3h-1zM469 171h3v1h-3zM470 170h1v3h-1zM479 169h3v1h-3zM480 168h1v3h-1zM489 168h3v1h-3zM490 167h1v3h-1zM499 174h3v1h-3zM500 173h1v3h-1zM509 171h3v1h-3zM510 170h1v3h-1zM519 183h3v1h-3zM520 182h1v3h-1zM529 176h3v1h-3zM530 175h1v3h-1zM539 189h3v1h-3zM540 188h1v3h-1zM549 189h3v1h-3zM550 188h1v3h-1zM559 190h3v1h-3zM560 189h1v3h-1zM569 190h3v1h-3zM570 189h1v3h-1zM579 187h3v1h-3zM580 186h1v3h-1zM589 174h3v1h-3zM590 173h1v3h-1zM599 168h3v1h-3zM600 167h1v3h-1zM609 167h3v1h-3zM610 166h1v3h-1zM619 170h3v1h-3zM620 169h1v3h-1zM629 187h3v1h-3zM630 186h1v3h-1zM639 173h3v1h-3zM640 172h1v3h-1zM649 173h3v1h-3zM650 172h1v3h-1zM659 173h3v1h-3zM660 172h1v3h-1zM669 172h3v1h-3zM670 171h1v3h-1zM679 171h3v1h-3zM680 170h1v3h-1zM689 181h3v1h-3zM690 180h1v3h-1z" fill="#0030c0" stroke="none"/>
</g>
<g id="t500" shape-rendering="crispEdges">
<polyline class="l" points="50.5,383.5 60.5,382.5 70.5,376.5 80.5,364.5 90.5,354.5 100.5,349.5 110.5,345.5 120.5,343.5 130.5,344.5 140.5,342.5 150.5,337.5 160.5,334.5 170.5,335.5 180.5,336.5 190.5,339.5 200.5,341.5 210.5,339.5 220.5,343.5 230.5,345.5 240.5,350.5 250.5,355.5 260.5,358.5 270.5,364.5 280.5,364.5 290.5,369.5 300.5,375.5 310.5,382.5 320.5,387.5 330.5,386.5 340.5,394.5 350.5,397.5 360.5,400.5 370.5,399.5 380.5,401.5 390.5,400.5 400.5,397.5 410.5,395.5 420.5,382.5 430.5,385.5 440.5,387.5 450.5,390.5 460.5,393.5 470.5,393.5 480.5,395.5 490.5,397.5 500.5,388.5 510.5,390.5 520.5,399.5 530.5,399.5 540.5,385.5 550.5,394.5 560.5,386.5 570.5,381.5 580.5,384.5 590.5,390.5 600.5,386.5 610.5,376.5 620.5,380.5 630.5,404.5 640.5,403.5 650.5,397.5 660.5,391.5 670.5,405.5 680.5,405.5 690.5,404.5" stroke="#e08030" stroke-width="1"/><path d="M49 383h3v1h-3zM50 382h1v3h-1zM59 382h3v1h-3zM60 381h1v3h-1zM69 376h3v1h-3zM70 375h1v3h-1zM79 364h3v1h-3zM80 363h1v3h-1zM89 354h3v1h-3zM90 353h1v3h-1zM99 349h3v1h-3zM100 348h1v3h-1zM109 345h3v1h-3zM110 344h1v3h-1zM119 343h3v1h-3zM120 342h1v3h-1zM129 344h3v1h-3zM130 343h1v3h-1zM139 342h3v1h-3zM140 341h1v3h-1zM149 337h3v1h-3zM150 336h1v3h-1zM159 334h3v1h-3zM160 333h1v3h-1zM169 335h3v1h-3zM170 334h1v3h-1zM179 336h3v1h-3zM180 335h1v3h-1zM189 339h3v1h-3zM190 338h1v3h-1zM199 341h3v1h-3zM200 340h1v3h-1zM209 339h3v1h-3zM210 338h1v3h-1zM219 343h3v1h-3zM220 342h1v3h-1zM229 345h3v1h-3zM230 344h1v3h-1zM239 350h3v1h-3zM240 349h1v3h-1zM249 355h3v1h-3zM250 354h1v3h-1zM259 358h3v1h-3zM260 357h1v3h-1zM269 364h3v1h-3zM270 363h1v3h-1zM279 364h3v1h-3zM280 363h1v3h-1zM289 369h3v1h-3zM290 368h1v3h-1zM299 375h3v1h-3zM300 374h1v3h-1zM309 382h3v1h-3zM310 381h1v3h-1zM319 387h3v1h-3zM320 386h1v3h-1zM329 386h3v1h-3zM330 385h1v3h-1zM339 394h3v1h-3zM340 393h1v3h-1zM349 397h3v1h-3zM350 396h1v3h-1zM359 400h3v1h-3zM360 399h1v3h-1zM369 399h3v1h-3zM370 398h1v3h-1zM379 401h3v1h-3zM380 400h1v3h-1zM389 400h3v1h-3zM390 399h1v3h-1zM399 397h3v1h-3zM400 396h1v3h-1zM409 395h3v1h-3zM410 394h1v3h-1zM419 382h3v1h-3zM420 381h1v3h-1zM429 385h3v1h-3zM430 384h1v3h-1zM439 387h3v1h-3zM440 386h1v3h-1zM449 390h3v1h-3zM450 389h1v3h-1zM459 393h3v1h-3zM460 392h1v3h-1zM469 393h3v1h-3zM470 392h1v3h-1zM479 395h3v1h-3zM480 394h1v3h-1zM489 397h3v1h-3zM490 396h1v3h-1zM499 388h3v1h-3zM500 387h1v3h-1zM509 390h3v1h-3zM510 389h1v3h-1zM519 399h3v1h-3zM520 398h1v3h-1zM529 399h3v1h-3zM530 398h1v3h-1zM539 385h3v1h-3zM540 384h1v3h-1zM549 394h3v1h-3zM550 393h1v3h-1zM559 386h3v1h-3zM560 385h1v3h-1zM569 381h3v1h-3zM570 380h1v3h-1zM579 384h3v1h-3zM580 383h1v3h-1zM589 390h3v1h-3zM590 389h1v3h-1zM599 386h3v1h-3zM600 385h1v3h-1zM609 376h3v1h-3zM610 375h1v3h-1zM619 380h3v1h-3zM620 379h1v3h-1zM629 404h3v1h-3zM630 403h1v3h-1zM639 403h3v1h-3zM640 402h1v3h-1zM649 397h3v1h-3zM650 396h1v3h-1zM659 391h3v1h-3zM660 390h1v3h-1zM669 405h3v1h-3zM670 404h1v3h-1zM679 405h3v1h-3zM680 404h1v3h-1zM689 404h3v1h-3zM690 403h1v3h-1z" fill="#e08030" stroke="none"/>
<polyline class="l" points="50.5,379.5 60.5,378.5 70.5,370.5 80.5,358.5 90.5,347.5 100.5,342.5 110.5,341.5 120.5,338.5 130.5,337.5 140.5,336.5 150.5,335.5 160.5,335.5 170.5,333.5 180.5,331.5 190.5,329.5 200.5,331.5 210.5,334.5 220.5,338.5 230.5,338.5 240.5,338.5 250.5,339.5 260.5,342.5 270.5,344.5 280.5,350.5 290.5,360.5 300.5,366.5 310.5,376.5 320.5,383.5 330.5,382.5 340.5,382.5 350.5,382.5 360.5,402.5 370.5,399.5 380.5,401.5 390.5,403.5 400.5,395.5 410.5,383.5 420.5,379.5 430.5,376.5 440.5,373.5 450.5,371.5 460.5,373.5 470.5,367.5 480.5,369.5 490.5,373.5 500.5,364.5 510.5,372.5 520.5,378.5 530.5,384.5 540.5,372.5 550.5,380.5 560.5,371.5 570.5,373.5 580.5,378.5 590.5,383.5 600.5,378.5 610.5,379.5 620.5,385.5 630.5,383.5 640.5,381.5 650.5,387.5 660.5,384.5 670.5,376.5 680.5,384.5 690.5,384.5" stroke="#80c070" stroke-width="1"/><path d="M49 379h3v1h-3zM50 378h1v3h-1zM59 378h3v1h-3zM60 377h1v3h-1zM69 370h3v1h-3zM70 369h1v3h-1zM79 358h3v1h-3zM80 357h1v3h-1zM89 347h3v1h-3zM90 346h1v3h-1zM99 342h3v1h-3zM100 341h1v3h-1zM109 341h3v1h-3zM110 340h1v3h-1zM119 338h3v1h-3zM120 337h1v3h-1zM129 337h3v1h-3zM130 336h1v3h-1zM139 336h3v1h-3zM140 335h1v3h-1zM149 335h3v1h-3zM150 334h1v3h-1zM159 335h3v1h-3zM160 334h1v3h-1zM169 333h3v1h-3zM170 332h1v3h-1zM179 331h3v1h-3zM180 330h1v3h-1zM189 329h3v1h-3zM190 328h1v3h-1zM199 331h3v1h-3zM200 330h1v3h-1zM209 334h3v1h-3zM210 333h1v3h-1zM219 338h3v1h-3zM220 337h1v3h-1zM229 338h3v1h-3zM230 337h1v3h-1zM239 338h3v1h-3zM240 337h1v3h-1zM249 339h3v1h-3zM250 338h1v3h-1zM259 342h3v1h-3zM260 341h1v3h-1zM269 344h3v1h-3zM270 343h1v3h-1zM279 350h3v1h-3zM280 349h1v3h-1zM289 360h3v1h-3zM290 359h1v3h-1zM299 366h3v1h-3zM300 365h1v3h-1zM309 376h3v1h-3zM310 375h1v3h-1zM319 383h3v1h-3zM320 382h1v3h-1zM329 382h3v1h-3zM330 381h1v3h-1zM339 382h3v1h-3zM340 381h1v3h-1zM349 382h3v1h-3zM350 381h1v3h-1zM359 402h3v1h-3zM360 401h1v3h-1zM369 399h3v1h-3zM370 398h1v3h-1zM379 401h3v1h-3zM380 400h1v3h-1zM389 403h3v1h-3zM390 402h1v3h-1zM399 395h3v1h-3zM400 394h1v3h-1zM409 383h3v1h-3zM410 382h1v3h-1zM419 379h3v1h-3zM420 378h1v3h-1zM429 376h3v1h-3zM430 375h1v3h-1zM439 373h3v1h-3zM440 372h1v3h-1zM449 371h3v1h-3zM450 370h1v3h-1zM459 373h3v1h-3zM460 372h1v3h-1zM469 367h3v1h-3zM470 366h1v3h-1zM479 369h3v1h-3zM480 368h1v3h-1zM489 373h3v1h-3zM490 372h1v3h-1zM499 364h3v1h-3zM500 363h1v3h-1zM509 372h3v1h-3zM510 371h1v3h-1zM519 378h3v1h-3zM520 377h1v3h-1zM529 384h3v1h-3zM530 383h1v3h-1zM539 372h3v1h-3zM540 371h1v3h-1zM549 380h3v1h-3zM550 379h1v3h-1zM559 371h3v1h-3zM560 370h1v3h-1zM569 373h3v1h-3zM570 372h1v3h-1zM579 378h3v1h-3zM580 377h1v3h-1zM589 383h3v1h-3zM590 382h1v3h-1zM599 378h3v1h-3zM600 377h1v3h-1zM609 379h3v1h-3zM610 378h1v3h-1zM619 385h3v1h-3zM620 384h1v3h-1zM629 383h3v1h-3zM630 382h1v3h-1zM639 381h3v1h-3zM640 380h1v3h-1zM649 387h3v1h-3zM650 386h1v3h-1zM659 384h3v1h-3zM660 383h1v3h-1zM669 376h3v1h-3zM670 375h1v3h-1zM679 384h3v1h-3zM680 383h1v3h-1zM689 384h3v1h-3zM690 383h1v3h-1z" fill="#80c070" stroke="none"/>
<polyline class="l" points="50.5,379.5 60.5,376.5 70.5,372.5 80.5,360.5 90.5,350.5 100.5,346.5 110.5,341.5 120.5,339.5 130.5,339.5 140.5,339.5 150.5,334.5 160.5,331.5 170.5,331.5 180.5,333.5 190.5,334.5 200.5,334.5 210.5,336.5 220.5,346.5 230.5,344.5 240.5,347.5 250.5,355.5 260.5,360.5 270.5,364.5 280.5,366.5 290.5,373.5 300.5,374.5 310.5,367.5 320.5,368.5 330.5,382.5 340.5,384.5 350.5,382.5 360.5,387.5 370.5,390.5 380.5,396.5 390.5,400.5 400.5,400.5 410.5,396.5 420.5,381.5 430.5,377.5 440.5,373.5 450.5,366.5 460.5,370.5 470.5,369.5 480.5,368.5 490.5,369.5 500.5,370.5 510.5,376.5 520.5,378.5 530.5,388.5 540.5,375.5 550.5,380.5 560.5,369.5 570.5,380.5 580.5,379.5 590.5,371.5 600.5,369.5 610.5,366.5 620.5,361.5 630.5,370.5 640.5,385.5 650.5,386.5 660.5,382.5 670.5,385.5 680.5,385.5 690.5,392.5" stroke="#f0c010" stroke-width="1"/><path d="M49 379h3v1h-3zM50 378h1v3h-1zM59 376h3v1h-3zM60 375h1v3h-1zM69 372h3v1h-3zM70 371h1v3h-1zM79 360h3v1h-3zM80 359h1v3h-1zM89 350h3v1h-3zM90 349h1v3h-1zM99 346h3v1h-3zM100 345h1v3h-1zM109 341h3v1h-3zM110 340h1v3h-1zM119 339h3v1h-3zM120 338h1v3h-1zM129 339h3v1h-3zM130 338h1v3h-1zM139 339h3v1h-3zM140 338h1v3h-1zM149 334h3v1h-3zM150 333h1v3h-1zM159 331h3v1h-3zM160 330h1v3h-1zM169 331h3v1h-3zM170 330h1v3h-1zM179 333h3v1h-3zM180 332h1v3h-1zM189 334h3v1h-3zM190 333h1v3h-1zM199 334h3v1h-3zM200 333h1v3h-1zM209 336h3v1h-3zM210 335h1v3h-1zM219 346h3v1h-3zM220 345h1v3h-1zM229 344h3v1h-3zM230 343h1v3h-1zM239 347h3v1h-3zM240 346h1v3h-1zM249 355h3v1h-3zM250 354h1v3h-1zM259 360h3v1h-3zM260 359h1v3h-1zM269 364h3v1h-3zM270 363h1v3h-1zM279 366h3v1h-3zM280 365h1v3h-1zM289 373h3v1h-3zM290 372h1v3h-1zM299 374h3v1h-3zM300 373h1v3h-1zM309 367h3v1h-3zM310 366h1v3h-1zM319 368h3v1h-3zM320 367h1v3h-1zM329 382h3v1h-3zM330 381h1v3h-1zM339 384h3v1h-3zM340 383h1v3h-1zM349 382h3v1h-3zM350 381h1v3h-1zM359 387h3v1h-3zM360 386h1v3h-1zM369 390h3v1h-3zM370 389h1v3h-1zM379 396h3v1h-3zM380 395h1v3h-1zM389 400h3v1h-3zM390 399h1v3h-1zM399 400h3v1h-3zM400 399h1v3h-1zM409 396h3v1h-3zM410 395h1v3h-1zM419 381h3v1h-3zM420 380h1v3h-1zM429 377h3v1h-3zM430 376h1v3h-1zM439 373h3v1h-3zM440 372h1v3h-1zM449 366h3v1h-3zM450 365h1v3h-1zM459 370h3v1h-3zM460 369h1v3h-1zM469 369h3v1h-3zM470 368h1v3h-1zM479 368h3v1h-3zM480 367h1v3h-1zM489 369h3v1h-3zM490 368h1v3h-1zM499 370h3v1h-3zM500 369h1v3h-1zM509 376h3v1h-3zM510 375h1v3h-1zM519 378h3v1h-3zM520 377h1v3h-1zM529 388h3v1h-3zM530 387h1v3h-1zM539 375h3v1h-3zM540 374h1v3h-1zM549 380h3v1h-3zM550 379h1v3h-1zM559 369h3v1h-3zM560 368h1v3h-1zM569 380h3v1h-3zM570 379h1v3h-1zM579 379h3v1h-3zM580 378h1v3h-1zM589 371h3v1h-3zM590 370h1v3h-1zM599 369h3v1h-3zM600 368h1v3h-1zM609 366h3v1h-3zM610 365h1v3h-1zM619 361h3v1h-3zM620 360h1v3h-1zM629 370h3v1h-3zM630 369h1v3h-1zM639 385h3v1h-3zM640 384h1v3h-1zM649 386h3v1h-3zM650 385h1v3h-1zM659 382h3v1h-3zM660 381h1v3h-1zM669 385h3v1h-3zM670 384h1v3h-1zM679 385h3v1h-3zM680 384h1v3h-1zM689 392h3v1h-3zM690 391h1v3h-1z" fill="#f0c010" stroke="none"/>
<polyline class="l" points="50.5,379.5 60.5,381.5 70.5,372.5 80.5,361.5 90.5,352.5 100.5,344.5 110.5,341.5 120.5,341.5 130.5,340.5 140.5,339.5 150.5,337.5 160.5,338.5 170.5,336.5 180.5,334.5 190.5,335.5 200.5,334.5 210.5,333.5 220.5,339.5 230.5,343.5 240.5,347.5 250.5,345.5 260.5,344.5 270.5,343.5 280.5,348.5 290.5,351.5 300.5,356.5 310.5,361.5 320.5,365.5 330.5,366.5 340.5,370.5 350.5,369.5 360.5,376.5 370.5,378.5 380.5,382.5 390.5,382.5 400.5,387.5 410.5,382.5 420.5,383.5 430.5,375.5 440.5,376.5 450.5,380.5 460.5,391.5 470.5,412.5 480.5,412.5 490.5,398.5 500.5,388.5 510.5,383.5 520.5,387.5 530.5,383.5 540.5,391.5 550.5,388.5 560.5,380.5 570.5,398.5 580.5,450.5 590.5,449.5 600.5,450.5 610.5,444.5 620.5,414.5 630.5,398.5 640.5,390.5 650.5,392.5 660.5,396.5 670.5,401.5 680.5,400.5 690.5,405.5" stroke="#9050b0" stroke-width="1"/><path d="M49 379h3v1h-3zM50 378h1v3h-1zM59 381h3v1h-3zM60 380h1v3h-1zM69 372h3v1h-3zM70 371h1v3h-1zM79 361h3v1h-3zM80 360h1v3h-1zM89 352h3v1h-3zM90 351h1v3h-1zM99 344h3v1h-3zM100 343h1v3h-1zM109 341h3v1h-3zM110 340h1v3h-1zM119 341h3v1h-3zM120 340h1v3h-1zM129 340h3v1h-3zM130 339h1v3h-1zM139 339h3v1h-3zM140 338h1v3h-1zM149 337h3v1h-3zM150 336h1v3h-1zM159 338h3v1h-3zM160 337h1v3h-1zM169 336h3v1h-3zM170 335h1v3h-1zM179 334h3v1h-3zM180 333h1v3h-1zM189 335h3v1h-3zM190 334h1v3h-1zM199 334h3v1h-3zM200 333h1v3h-1zM209 333h3v1h-3zM210 332h1v3h-1zM219 339h3v1h-3zM220 338h1v3h-1zM229 343h3v1h-3zM230 342h1v3h-1zM239 347h3v1h-3zM240 346h1v3h-1zM249 345h3v1h-3zM250 344h1v3h-1zM259 344h3v1h-3zM260 343h1v3h-1zM269 343h3v1h-3zM270 342h1v3h-1zM279 348h3v1h-3zM280 347h1v3h-1zM289 351h3v1h-3zM290 350h1v3h-1zM299 356h3v1h-3zM300 355h1v3h-1zM309 361h3v1h-3zM310 360h1v3h-1zM319 365h3v1h-3zM320 364h1v3h-1zM329 366h3v1h-3zM330 365h1v3h-1zM339 370h3v1h-3zM340 369h1v3h-1zM349 369h3v1h-3zM350 368h1v3h-1zM359 376h3v1h-3zM360 375h1v3h-1zM369 378h3v1h-3zM370 377h1v3h-1zM379 382h3v1h-3zM380 381h1v3h-1zM389 382h3v1h-3zM390 381h1v3h-1zM399 387h3v1h-3zM400 386h1v3h-1zM409 382h3v1h-3zM410 381h1v3h-1zM419 383h3v1h-3zM420 382h1v3h-1zM429 375h3v1h-3zM430 374h1v3h-1zM439 376h3v1h-3zM440 375h1v3h-1zM449 380h3v1h-3zM450 379h1v3h-1zM459 391h3v1h-3zM460 390h1v3h-1zM469 412h3v1h-3zM470 411h1v3h-1zM479 412h3v1h-3zM480 411h1v3h-1zM489 398h3v1h-3zM490 397h1v3h-1zM499 388h3v1h-3zM500 387h1v3h-1zM509 383h3v1h-3zM510 382h1v3h-1zM519 387h3v1h-3zM520 386h1v3h-1zM529 383h3v1h-3zM530 382h1v3h-1zM539 391h3v1h-3zM540 390h1v3h-1zM549 388h3v1h-3zM550 387h1v3h-1zM559 380h3v1h-3zM560 379h1v3h-1zM569 398h3v1h-3zM570 397h1v3h-1zM579 450h3v1h-3zM580 449h1v3h-1zM589 449h3v1h-3zM590 448h1v3h-1zM599 450h3v1h-3zM600 449h1v3h-1zM609 444h3v1h-3zM610 443h1v3h-1zM619 414h3v1h-3zM620 413h1v3h-1zM629 398h3v1h-3zM630 397h1v3h-1zM639 390h3v1h-3zM640 389h1v3h-1zM649 392h3v1h-3zM650 391h1v3h-1zM659 396h3v1h-3zM660 395h1v3h-1zM669 401h3v1h-3zM670 400h1v3h-1zM679 400h3v1h-3zM680 399h1v3h-1zM689 405h3v1h-3zM690 404h1v3h-1z" fill="#9050b0" stroke="none"/>
<polyline class="l" points="50.5,380.5 60.5,379.5 70.5,371.5 80.5,361.5 90.5,350.5 100.5,345.5 110.5,342.5 120.5,338.5 130.5,341.5 140.5,341.5 150.5,338.5 160.5,338.5 170.5,339.5 180.5,340.5 190.5,343.5 200.5,345.5 210.5,347.5 220.5,349.5 230.5,351.5 240.5,351.5 250.5,357.5 260.5,360.5 270.5,364.5 280.5,368.5 290.5,373.5 300.5,378.5 310.5,382.5 320.5,383.5 330.5,391.5 340.5,394.5 350.5,390.5 360.5,396.5 370.5,397.5 380.5,400.5 390.5,398.5 400.5,383.5 410.5,386.5 420.5,382.5 430.5,382.5 440.5,380.5 450.5,367.5 460.5,373.5 470.5,373.5 480.5,374.5 490.5,393.5 500.5,385.5 510.5,383.5 520.5,377.5 530.5,375.5 540.5,368.5 550.5,366.5 560.5,345.5 570.5,337.5 580.5,333.5 590.5,328.5 600.5,329.5 610.5,324.5 620.5,329.5 630.5,342.5 640.5,355.5 650.5,364.5 660.5,370.5 670.5,385.5 680.5,389.5 690.5,394.5" stroke="#b05010" stroke-width="1"/><path d="M49 380h3v1h-3zM50 379h1v3h-1zM59 379h3v1h-3zM60 378h1v3h-1zM69 371h3v1h-3zM70 370h1v3h-1zM79 361h3v1h-3zM80 360h1v3h-1zM89 350h3v1h-3zM90 349h1v3h-1zM99 345h3v1h-3zM100 344h1v3h-1zM109 342h3v1h-3zM110 341h1v3h-1zM119 338h3v1h-3zM120 337h1v3h-1zM129 341h3v1h-3zM130 340h1v3h-1zM139 341h3v1h-3zM140 340h1v3h-1zM149 338h3v1h-3zM150 337h1v3h-1zM159 338h3v1h-3zM160 337h1v3h-1zM169 339h3v1h-3zM170 338h1v3h-1zM179 340h3v1h-3zM180 339h1v3h-1zM189 343h3v1h-3zM190 342h1v3h-1zM199 345h3v1h-3zM200 344h1v3h-1zM209 347h3v1h-3zM210 346h1v3h-1zM219 349h3v1h-3zM220 348h1v3h-1zM229 351h3v1h-3zM230 350h1v3h-1zM239 351h3v1h-3zM240 350h1v3h-1zM249 357h3v1h-3zM250 356h1v3h-1zM259 360h3v1h-3zM260 359h1v3h-1zM269 364h3v1h-3zM270 363h1v3h-1zM279 368h3v1h-3zM280 367h1v3h-1zM289 373h3v1h-3zM290 372h1v3h-1zM299 378h3v1h-3zM300 377h1v3h-1zM309 382h3v1h-3zM310 381h1v3h-1zM319 383h3v1h-3zM320 382h1v3h-1zM329 391h3v1h-3zM330 390h1v3h-1zM339 394h3v1h-3zM340 393h1v3h-1zM349 390h3v1h-3zM350 389h1v3h-1zM359 396h3v1h-3zM360 395h1v3h-1zM369 397h3v1h-3zM370 396h1v3h-1zM379 400h3v1h-3zM380 399h1v3h-1zM389 398h3v1h-3zM390 397h1v3h-1zM399 383h3v1h-3zM400 382h1v3h-1zM409 386h3v1h-3zM410 385h1v3h-1zM419 382h3v1h-3zM420 381h1v3h-1zM429 382h3v1h-3zM430 381h1v3h-1zM439 380h3v1h-3zM440 379h1v3h-1zM449 367h3v1h-3zM450 366h1v3h-1zM459 373h3v1h-3zM460 372h1v3h-1zM469 373h3v1h-3zM470 372h1v3h-1zM479 374h3v1h-3zM480 373h1v3h-1zM489 393h3v1h-3zM490 392h1v3h-1zM499 385h3v1h-3zM500 384h1v3h-1zM509 383h3v1h-3zM510 382h1v3h-1zM519 377h3v1h-3zM520 376h1v3h-1zM529 375h3v1h-3zM530 374h1v3h-1zM539 368h3v1h-3zM540 367h1v3h-1zM549 366h3v1h-3zM550 365h1v3h-1zM559 345h3v1h-3zM560 344h1v3h-1zM569 337h3v1h-3zM570 336h1v3h-1zM579 333h3v1h-3zM580 332h1v3h-1zM589 328h3v1h-3zM590 327h1v3h-1zM599 329h3v1h-3zM600 328h1v3h-1zM609 324h3v1h-3zM610 323h1v3h-1zM619 329h3v1h-3zM620 328h1v3h-1zM629 342h3v1h-3zM630 341h1v3h-1zM639 355h3v1h-3zM640 354h1v3h-1zM649 364h3v1h-3zM650 363h1v3h-1zM659 370h3v1h-3zM660 369h1v3h-1zM669 385h3v1h-3zM670 384h1v3h-1zM679 389h3v1h-3zM680 388h1v3h-1zM689 394h3v1h-3zM690 393h1v3h-1z" fill="#b05010" stroke="none"/>
<polyline class="l" points="50.5,380.5 60.5,377.5 70.5,369.5 80.5,357.5 90.5,346.5 100.5,340.5 110.5,337.5 120.5,334.5 130.5,336.5 140.5,336.5 150.5,332.5 160.5,329.5 170.5,329.5 180.5,327.5 190.5,328.5 200.5,331.5 210.5,336.5 220.5,336.5 230.5,341.5 240.5,344.5 250.5,345.5 260.5,345.5 270.5,348.5 280.5,350.5 290.5,355.5 300.5,359.5 310.5,360.5 320.5,360.5 330.5,361.5 340.5,363.5 350.5,364.5 360.5,366.5 370.5,371.5 380.5,372.5 390.5,377.5 400.5,378.5 410.5,377.5 420.5,373.5 430.5,366.5 440.5,348.5 450.5,346.5 460.5,346.5 470.5,352.5 480.5,341.5 490.5,357.5 500.5,360.5 510.5,368.5 520.5,368.5 530.5,369.5 540.5,366.5 550.5,369.5 560.5,363.5 570.5,368.5 580.5,374.5 590.5,379.5 600.5,379.5 610.5,383.5 620.5,396.5 630.5,402.5 640.5,408.5 650.5,412.5 660.5,418.5 670.5,419.5 680.5,421.5 690.5,419.5" stroke="#508010" stroke-width="1"/><path d="M49 380h3v1h-3zM50 379h1v3h-1zM59 377h3v1h-3zM60 376h1v3h-1zM69 369h3v1h-3zM70 368h1v3h-1zM79 357h3v1h-3zM80 356h1v3h-1zM89 346h3v1h-3zM90 345h1v3h-1zM99 340h3v1h-3zM100 339h1v3h-1zM109 337h3v1h-3zM110 336h1v3h-1zM119 334h3v1h-3zM120 333h1v3h-1zM129 336h3v1h-3zM130 335h1v3h-1zM139 336h3v1h-3zM140 335h1v3h-1zM149 332h3v1h-3zM150 331h1v3h-1zM159 329h3v1h-3zM160 328h1v3h-1zM169 329h3v1h-3zM170 328h1v3h-1zM179 327h3v1h-3zM180 326h1v3h-1zM189 328h3v1h-3zM190 327h1v3h-1zM199 331h3v1h-3zM200 330h1v3h-1zM209 336h3v1h-3zM210 335h1v3h-1zM219 336h3v1h-3zM220 335h1v3h-1zM229 341h3v1h-3zM230 340h1v3h-1zM239 344h3v1h-3zM240 343h1v3h-1zM249 345h3v1h-3zM250 344h1v3h-1zM259 345h3v1h-3zM260 344h1v3h-1zM269 348h3v1h-3zM270 347h1v3h-1zM279 350h3v1h-3zM280 349h1v3h-1zM289 355h3v1h-3zM290 354h1v3h-1zM299 359h3v1h-3zM300 358h1v3h-1zM309 360h3v1h-3zM310 359h1v3h-1zM319 360h3v1h-3zM320 359h1v3h-1zM329 361h3v1h-3zM330 360h1v3h-1zM339 363h3v1h-3zM340 362h1v3h-1zM349 364h3v1h-3zM350 363h1v3h-1zM359 366h3v1h-3zM360 365h1v3h-1zM369 371h3v1h-3zM370 370h1v3h-1zM379 372h3v1h-3zM380 371h1v3h-1zM389 377h3v1h-3zM390 376h1v3h-1zM399 378h3v1h-3zM400 377h1v3h-1zM409 377h3v1h-3zM410 376h1v3h-1zM419 373h3v1h-3zM420 372h1v3h-1zM429 366h3v1h-3zM430 365h1v3h-1zM439 348h3v1h-3zM440 347h1v3h-1zM449 346h3v1h-3zM450 345h1v3h-1zM459 346h3v1h-3zM460 345h1v3h-1zM469 352h3v1h-3zM470 351h1v3h-1zM479 341h3v1h-3zM480 340h1v3h-1zM489 357h3v1h-3zM490 356h1v3h-1zM499 360h3v1h-3zM500 359h1v3h-1zM509 368h3v1h-3zM510 367h1v3h-1zM519 368h3v1h-3zM520 367h1v3h-1zM529 369h3v1h-3zM530 368h1v3h-1zM539 366h3v1h-3zM540 365h1v3h-1zM549 369h3v1h-3zM550 368h1v3h-1zM559 363h3v1h-3zM560 362h1v3h-1zM569 368h3v1h-3zM570 367h1v3h-1zM579 374h3v1h-3zM580 373h1v3h-1zM589 379h3v1h-3zM590 378h1v3h-1zM599 379h3v1h-3zM600 378h1v3h-1zM609 383h3v1h-3zM610 382h1v3h-1zM619 396h3v1h-3zM620 395h1v3h-1zM629 402h3v1h-3zM630 401h1v3h-1zM639 408h3v1h-3zM640 407h1v3h-1zM649 412h3v1h-3zM650 411h1v3h-1zM659 418h3v1h-3zM660 417h1v3h-1zM669 419h3v1h-3zM670 418h1v3h-1zM679 421h3v1h-3zM680 420h1v3h-1zM689 419h3v1h-3zM690 418h1v3h-1z" fill="#508010" stroke="none"/>
<polyline class="l" points="50.5,378.5 60.5,377.5 70.5,371.5 80.5,359.5 90.5,346.5 100.5,338.5 110.5,334.5 120.5,327.5 130.5,329.5 140.5,330.5 150.5,321.5 160.5,319.5 170.5,323.5 180.5,327.5 190.5,331.5 200.5,333.5 210.5,336.5 220.5,340.5 230.5,344.5 240.5,348.5 250.5,349.5 260.5,354.5 270.5,356.5 280.5,361.5 290.5,369.5 300.5,376.5 310.5,381.5 320.5,372.5 330.5,379.5 340.5,380.5 350.5,385.5 360.5,385.5 370.5,405.5 380.5,402.5 390.5,392.5 400.5,378.5 410.5,367.5 420.5,356.5 430.5,373.5 440.5,376.5 450.5,378.5 460.5,376.5 470.5,378.5 480.5,382.5 490.5,389.5 500.5,380.5 510.5,386.5 520.5,426.5 530.5,446.5 540.5,426.5 550.5,405.5 560.5,389.5 570.5,378.5 580.5,372.5 590.5,386.5 600.5,398.5 610.5,396.5 620.5,386.5 630.5,362.5 640.5,355.5 650.5,350.5 660.5,348.5 670.5,349.5 680.5,350.5 690.5,351.5" stroke="#1080f0" stroke-width="1"/><path d="M49 378h3v1h-3zM50 377h1v3h-1zM59 377h3v1h-3zM60 376h1v3h-1zM69 371h3v1h-3zM70 370h1v3h-1zM79 359h3v1h-3zM80 358h1v3h-1zM89 346h3v1h-3zM90 345h1v3h-1zM99 338h3v1h-3zM100 337h1v3h-1zM109 334h3v1h-3zM110 333h1v3h-1zM119 327h3v1h-3zM120 326h1v3h-1zM129 329h3v1h-3zM130 328h1v3h-1zM139 330h3v1h-3zM140 329h1v3h-1zM149 321h3v1h-3zM150 320h1v3h-1zM159 319h3v1h-3zM160 318h1v3h-1zM169 323h3v1h-3zM170 322h1v3h-1zM179 327h3v1h-3zM180 326h1v3h-1zM189 331h3v1h-3zM190 330h1v3h-1zM199 333h3v1h-3zM200 332h1v3h-1zM209 336h3v1h-3zM210 335h1v3h-1zM219 340h3v1h-3zM220 339h1v3h-1zM229 344h3v1h-3zM230 343h1v3h-1zM239 348h3v1h-3zM240 347h1v3h-1zM249 349h3v1h-3zM250 348h1v3h-1zM259 354h3v1h-3zM260 353h1v3h-1zM269 356h3v1h-3zM270 355h1v3h-1zM279 361h3v1h-3zM280 360h1v3h-1zM289 369h3v1h-3zM290 368h1v3h-1zM299 376h3v1h-3zM300 375h1v3h-1zM309 381h3v1h-3zM310 380h1v3h-1zM319 372h3v1h-3zM320 371h1v3h-1zM329 379h3v1h-3zM330 378h1v3h-1zM339 380h3v1h-3zM340 379h1v3h-1zM349 385h3v1h-3zM350 384h1v3h-1zM359 385h3v1h-3zM360 384h1v3h-1zM369 405h3v1h-3zM370 404h1v3h-1zM379 402h3v1h-3zM380 401h1v3h-1zM389 392h3v1h-3zM390 391h1v3h-1zM399 378h3v1h-3zM400 377h1v3h-1zM409 367h3v1h-3zM410 366h1v3h-1zM419 356h3v1h-3zM420 355h1v3h-1zM429 373h3v1h-3zM430 372h1v3h-1zM439 376h3v1h-3zM440 375h1v3h-1zM449 378h3v1h-3zM450 377h1v3h-1zM459 376h3v1h-3zM460 375h1v3h-1zM469 378h3v1h-3zM470 377h1v3h-1zM479 382h3v1h-3zM480 381h1v3h-1zM489 389h3v1h-3zM490 388h1v3h-1zM499 380h3v1h-3zM500 379h1v3h-1zM509 386h3v1h-3zM510 385h1v3h-1zM519 426h3v1h-3zM520 425h1v3h-1zM529 446h3v1h-3zM530 445h1v3h-1zM539 426h3v1h-3zM540 425h1v3h-1zM549 405h3v1h-3zM550 404h1v3h-1zM559 389h3v1h-3zM560 388h1v3h-1zM569 378h3v1h-3zM570 377h1v3h-1zM579 372h3v1h-3zM580 371h1v3h-1zM589 386h3v1h-3zM590 385h1v3h-1zM599 398h3v1h-3zM600 397h1v3h-1zM609 396h3v1h-3zM610 395h1v3h-1zM619 386h3v1h-3zM620 385h1v3h-1zM629 362h3v1h-3zM630 361h1v3h-1zM639 355h3v1h-3zM640 354h1v3h-1zM649 350h3v1h-3zM650 349h1v3h-1zM659 348h3v1h-3zM660 347h1v3h-1zM669 349h3v1h-3zM670 348h1v3h-1zM679 350h3v1h-3zM680 349h1v3h-1zM689 351h3v1h-3zM690 350h1v3h-1z" fill="#1080f0" stroke="none"/>
<polyline class="l" points="50.5,379.5 60.5,378.5 70.5,373.5 80.5,361.5 90.5,349.5 100.5,345.5 110.5,343.5 120.5,339.5 130.5,339.5 140.5,337.5 150.5,333.5 160.5,332.5 170.5,330.5 180.5,333.5 190.5,334.5 200.5,336.5 210.5,340.5 220.5,338.5 230.5,340.5 240.5,341.5 250.5,341.5 260.5,342.5 270.5,343.5 280.5,349.5 290.5,356.5 300.5,359.5 310.5,359.5 320.5,361.5 330.5,367.5 340.5,368.5 350.5,369.5 360.5,374.5 370.5,379.5 380.5,378.5 390.5,370.5 400.5,371.5 410.5,373.5 420.5,365.5 430.5,367.5 440.5,368.5 450.5,356.5 460.5,359.5 470.5,364.5 480.5,342.5 490.5,350.5 500.5,365.5 510.5,369.5 520.5,361.5 530.5,363.5 540.5,361.5 550.5,361.5 560.5,366.5 570.5,365.5 580.5,356.5 590.5,366.5 600.5,357.5 610.5,344.5 620.5,357.5 630.5,365.5 640.5,359.5 650.5,365.5 660.5,369.5 670.5,378.5 680.5,370.5 690.5,362.5" stroke="#e8d8b0" stroke-width="1"/><path d="M49 379h3v1h-3zM50 378h1v3h-1zM59 378h3v1h-3zM60 377h1v3h-1zM69 373h3v1h-3zM70 372h1v3h-1zM79 361h3v1h-3zM80 360h1v3h-1zM89 349h3v1h-3zM90 348h1v3h-1zM99 345h3v1h-3zM100 344h1v3h-1zM109 343h3v1h-3zM110 342h1v3h-1zM119 339h3v1h-3zM120 338h1v3h-1zM129 339h3v1h-3zM130 338h1v3h-1zM139 337h3v1h-3zM140 336h1v3h-1zM149 333h3v1h-3zM150 332h1v3h-1zM159 332h3v1h-3zM160 331h1v3h-1zM169 330h3v1h-3zM170 329h1v3h-1zM179 333h3v1h-3zM180 332h1v3h-1zM189 334h3v1h-3zM190 333h1v3h-1zM199 336h3v1h-3zM200 335h1v3h-1zM209 340h3v1h-3zM210 339h1v3h-1zM219 338h3v1h-3zM220 337h1v3h-1zM229 340h3v1h-3zM230 339h1v3h-1zM239 341h3v1h-3zM240 340h1v3h-1zM249 341h3v1h-3zM250 340h1v3h-1zM259 342h3v1h-3zM260 341h1v3h-1zM269 343h3v1h-3zM270 342h1v3h-1zM279 349h3v1h-3zM280 348h1v3h-1zM289 356h3v1h-3zM290 355h1v3h-1zM299 359h3v1h-3zM300 358h1v3h-1zM309 359h3v1h-3zM310 358h1v3h-1zM319 361h3v1h-3zM320 360h1v3h-1zM329 367h3v1h-3zM330 366h1v3h-1zM339 368h3v1h-3zM340 367h1v3h-1zM349 369h3v1h-3zM350 368h1v3h-1zM359 374h3v1h-3zM360 373h1v3h-1zM369 379h3v1h-3zM370 378h1v3h-1zM379 378h3v1h-3zM380 377h1v3h-1zM389 370h3v1h-3zM390 369h1v3h-1zM399 371h3v1h-3zM400 370h1v3h-1zM409 373h3v1h-3zM410 372h1v3h-1zM419 365h3v1h-3zM420 364h1v3h-1zM429 367h3v1h-3zM430 366h1v3h-1zM439 368h3v1h-3zM440 367h1v3h-1zM449 356h3v1h-3zM450 355h1v3h-1zM459 359h3v1h-3zM460 358h1v3h-1zM469 364h3v1h-3zM470 363h1v3h-1zM479 342h3v1h-3zM480 341h1v3h-1zM489 350h3v1h-3zM490 349h1v3h-1zM499 365h3v1h-3zM500 364h1v3h-1zM509 369h3v1h-3zM510 368h1v3h-1zM519 361h3v1h-3zM520 360h1v3h-1zM529 363h3v1h-3zM530 362h1v3h-1zM539 361h3v1h-3zM540 360h1v3h-1zM549 361h3v1h-3zM550 360h1v3h-1zM559 366h3v1h-3zM560 365h1v3h-1zM569 365h3v1h-3zM570 364h1v3h-1zM579 356h3v1h-3zM580 355h1v3h-1zM589 366h3v1h-3zM590 365h1v3h-1zM599 357h3v1h-3zM600 356h1v3h-1zM609 344h3v1h-3zM610 343h1v3h-1zM619 357h3v1h-3zM620 356h1v3h-1zM629 365h3v1h-3zM630 364h1v3h-1zM639 359h3v1h-3zM640 358h1v3h-1zM649 365h3v1h-3zM650 364h1v3h-1zM659 369h3v1h-3zM660 368h1v3h-1zM669 378h3v1h-3zM670 377h1v3h-1zM679 370h3v1h-3zM680 369h1v3h-1zM689 362h3v1h-3zM690 361h1v3h-1z" fill="#e8d8b0" stroke="none"/>
<polyline class="l" points="50.5,376.5 60.5,375.5 70.5,368.5 80.5,356.5 90.5,347.5 100.5,338.5 110.5,338.5 120.5,336.5 130.5,334.5 140.5,335.5 150.5,332.5 160.5,333.5 170.5,329.5 180.5,328.5 190.5,331.5 200.5,333.5 210.5,335.5 220.5,338.5 230.5,336.5 240.5,339.5 250.5,342.5 260.5,347.5 270.5,350.5 280.5,356.5 290.5,361.5 300.5,360.5 310.5,362.5 320.5,363.5 330.5,368.5 340.5,371.5 350.5,373.5 360.5,375.5 370.5,378.5 380.5,379.5 390.5,370.5 400.5,376.5 410.5,371.5 420.5,371.5 430.5,365.5 440.5,365.5 450.5,368.5 460.5,384.5 470.5,396.5 480.5,415.5 490.5,404.5 500.5,392.5 510.5,388.5 520.5,366.5 530.5,349.5 540.5,335.5 550.5,354.5 560.5,350.5 570.5,337.5 580.5,339.5 590.5,335.5 600.5,341.5 610.5,358.5 620.5,368.5 630.5,343.5 640.5,370.5 650.5,371.5 660.5,400.5 670.5,418.5 680.5,440.5 690.5,429.5" stroke="#4090c0" stroke-width="1"/><path d="M49 376h3v1h-3zM50 375h1v3h-1zM59 375h3v1h-3zM60 374h1v3h-1zM69 368h3v1h-3zM70 367h1v3h-1zM79 356h3v1h-3zM80 355h1v3h-1zM89 347h3v1h-3zM90 346h1v3h-1zM99 338h3v1h-3zM100 337h1v3h-1zM109 338h3v1h-3zM110 337h1v3h-1zM119 336h3v1h-3zM120 335h1v3h-1zM129 334h3v1h-3zM130 333h1v3h-1zM139 335h3v1h-3zM140 334h1v3h-1zM149 332h3v1h-3zM150 331h1v3h-1zM159 333h3v1h-3zM160 332h1v3h-1zM169 329h3v1h-3zM170 328h1v3h-1zM179 328h3v1h-3zM180 327h1v3h-1zM189 331h3v1h-3zM190 330h1v3h-1zM199 333h3v1h-3zM200 332h1v3h-1zM209 335h3v1h-3zM210 334h1v3h-1zM219 338h3v1h-3zM220 337h1v3h-1zM229 336h3v1h-3zM230 335h1v3h-1zM239 339h3v1h-3zM240 338h1v3h-1zM249 342h3v1h-3zM250 341h1v3h-1zM259 347h3v1h-3zM260 346h1v3h-1zM269 350h3v1h-3zM270 349h1v3h-1zM279 356h3v1h-3zM280 355h1v3h-1zM289 361h3v1h-3zM290 360h1v3h-1zM299 360h3v1h-3zM300 359h1v3h-1zM309 362h3v1h-3zM310 361h1v3h-1zM319 363h3v1h-3zM320 362h1v3h-1zM329 368h3v1h-3zM330 367h1v3h-1zM339 371h3v1h-3zM340 370h1v3h-1zM349 373h3v1h-3zM350 372h1v3h-1zM359 375h3v1h-3zM360 374h1v3h-1zM369 378h3v1h-3zM370 377h1v3h-1zM379 379h3v1h-3zM380 378h1v3h-1zM389 370h3v1h-3zM390 369h1v3h-1zM399 376h3v1h-3zM400 375h1v3h-1zM409 371h3v1h-3zM410 370h1v3h-1zM419 371h3v1h-3zM420 370h1v3h-1zM429 365h3v1h-3zM430 364h1v3h-1zM439 365h3v1h-3zM440 364h1v3h-1zM449 368h3v1h-3zM450 367h1v3h-1zM459 384h3v1h-3zM460 383h1v3h-1zM469 396h3v1h-3zM470 395h1v3h-1zM479 415h3v1h-3zM480 414h1v3h-1zM489 404h3v1h-3zM490 403h1v3h-1zM499 392h3v1h-3zM500 391h1v3h-1zM509 388h3v1h-3zM510 387h1v3h-1zM519 366h3v1h-3zM520 365h1v3h-1zM529 349h3v1h-3zM530 348h1v3h-1zM539 335h3v1h-3zM540 334h1v3h-1zM549 354h3v1h-3zM550 353h1v3h-1zM559 350h3v1h-3zM560 349h1v3h-1zM569 337h3v1h-3zM570 336h1v3h-1zM579 339h3v1h-3zM580 338h1v3h-1zM589 335h3v1h-3zM590 334h1v3h-1zM599 341h3v1h-3zM600 340h1v3h-1zM609 358h3v1h-3zM610 357h1v3h-1zM619 368h3v1h-3zM620 367h1v3h-1zM629 343h3v1h-3zM630 342h1v3h-1zM639 370h3v1h-3zM640 369h1v3h-1zM649 371h3v1h-3zM650 370h1v3h-1zM659 400h3v1h-3zM660 399h1v3h-1zM669 418h3v1h-3zM670 417h1v3h-1zM679 440h3v1h-3zM680 439h1v3h-1zM689 429h3v1h-3zM690 428h1v3h-1z" fill="#4090c0" stroke="none"/>
<polyline class="l" points="50.5,378.5 60.5,379.5 70.5,373.5 80.5,361.5 90.5,352.5 100.5,346.5 110.5,342.5 120.5,338.5 130.5,339.5 140.5,339.5 150.5,337.5 160.5,335.5 170.5,333.5 180.5,333.5 190.5,333.5 200.5,331.5 210.5,331.5 220.5,335.5 230.5,337.5 240.5,340.5 250.5,343.5 260.5,344.5 270.5,345.5 280.5,344.5 290.5,350.5 300.5,354.5 310.5,358.5 320.5,363.5 330.5,368.5 340.5,369.5 350.5,372.5 360.5,372.5 370.5,376.5 380.5,376.5 390.5,372.5 400.5,374.5 410.5,366.5 420.5,360.5 430.5,356.5 440.5,352.5 450.5,351.5 460.5,355.5 470.5,357.5 480.5,353.5 490.5,331.5 500.5,330.5 510.5,329.5 520.5,338.5 530.5,347.5 540.5,354.5 550.5,350.5 560.5,337.5 570.5,360.5 580.5,366.5 590.5,360.5 600.5,361.5 610.5,366.5 620.5,365.5 630.5,374.5 640.5,375.5 650.5,374.5 660.5,373.5 670.5,381.5 680.5,361.5 690.5,356.5" stroke="#e0a050" stroke-width="1"/><path d="M49 378h3v1h-3zM50 377h1v3h-1zM59 379h3v1h-3zM60 378h1v3h-1zM69 373h3v1h-3zM70 372h1v3h-1zM79 361h3v1h-3zM80 360h1v3h-1zM89 352h3v1h-3zM90 351h1v3h-1zM99 346h3v1h-3zM100 345h1v3h-1zM109 342h3v1h-3zM110 341h1v3h-1zM119 338h3v1h-3zM120 337h1v3h-1zM129 339h3v1h-3zM130 338h1v3h-1zM139 339h3v1h-3zM140 338h1v3h-1zM149 337h3v1h-3zM150 336h1v3h-1zM159 335h3v1h-3zM160 334h1v3h-1zM169 333h3v1h-3zM170 332h1v3h-1zM179 333h3v1h-3zM180 332h1v3h-1zM189 333h3v1h-3zM190 332h1v3h-1zM199 331h3v1h-3zM200 330h1v3h-1zM209 331h3v1h-3zM210 330h1v3h-1zM219 335h3v1h-3zM220 334h1v3h-1zM229 337h3v1h-3zM230 336h1v3h-1zM239 340h3v1h-3zM240 339h1v3h-1zM249 343h3v1h-3zM250 342h1v3h-1zM259 344h3v1h-3zM260 343h1v3h-1zM269 345h3v1h-3zM270 344h1v3h-1zM279 344h3v1h-3zM280 343h1v3h-1zM289 350h3v1h-3zM290 349h1v3h-1zM299 354h3v1h-3zM300 353h1v3h-1zM309 358h3v1h-3zM310 357h1v3h-1zM319 363h3v1h-3zM320 362h1v3h-1zM329 368h3v1h-3zM330 367h1v3h-1zM339 369h3v1h-3zM340 368h1v3h-1zM349 372h3v1h-3zM350 371h1v3h-1zM359 372h3v1h-3zM360 371h1v3h-1zM369 376h3v1h-3zM370 375h1v3h-1zM379 376h3v1h-3zM380 375h1v3h-1zM389 372h3v1h-3zM390 371h1v3h-1zM399 374h3v1h-3zM400 373h1v3h-1zM409 366h3v1h-3zM410 365h1v3h-1zM419 360h3v1h-3zM420 359h1v3h-1zM429 356h3v1h-3zM430 355h1v3h-1zM439 352h3v1h-3zM440 351h1v3h-1zM449 351h3v1h-3zM450 350h1v3h-1zM459 355h3v1h-3zM460 354h1v3h-1zM469 357h3v1h-3zM470 356h1v3h-1zM479 353h3v1h-3zM480 352h1v3h-1zM489 331h3v1h-3zM490 330h1v3h-1zM499 330h3v1h-3zM500 329h1v3h-1zM509 329h3v1h-3zM510 328h1v3h-1zM519 338h3v1h-3zM520 337h1v3h-1zM529 347h3v1h-3zM530 346h1v3h-1zM539 354h3v1h-3zM540 353h1v3h-1zM549 350h3v1h-3zM550 349h1v3h-1zM559 337h3v1h-3zM560 336h1v3h-1zM569 360h3v1h-3zM570 359h1v3h-1zM579 366h3v1h-3zM580 365h1v3h-1zM589 360h3v1h-3zM590 359h1v3h-1zM599 361h3v1h-3zM600 360h1v3h-1zM609 366h3v1h-3zM610 365h1v3h-1zM619 365h3v1h-3zM620 364h1v3h-1zM629 374h3v1h-3zM630 373h1v3h-1zM639 375h3v1h-3zM640 374h1v3h-1zM649 374h3v1h-3zM650 373h1v3h-1zM659 373h3v1h-3zM660 372h1v3h-1zM669 381h3v1h-3zM670 380h1v3h-1zM679 361h3v1h-3zM680 360h1v3h-1zM689 356h3v1h-3zM690 355h1v3h-1z" fill="#e0a050" stroke="none"/>
<polyline class="l" points="50.5,377.5 60.5,377.5 70.5,370.5 80.5,357.5 90.5,346.5 100.5,340.5 110.5,338.5 120.5,334.5 130.5,336.5 140.5,335.5 150.5,333.5 160.5,333.5 170.5,332.5 180.5,332.5 190.5,329.5 200.5,330.5 210.5,334.5 220.5,336.5 230.5,338.5 240.5,340.5 250.5,341.5 260.5,342.5 270.5,344.5 280.5,353.5 290.5,351.5 300.5,358.5 310.5,360.5 320.5,362.5 330.5,367.5 340.5,372.5 350.5,379.5 360.5,383.5 370.5,384.5 380.5,386.5 390.5,381.5 400.5,377.5 410.5,378.5 420.5,377.5 430.5,372.5 440.5,367.5 450.5,358.5 460.5,365.5 470.5,368.5 480.5,361.5 490.5,366.5 500.5,372.5 510.5,376.5 520.5,368.5 530.5,381.5 540.5,382.5 550.5,367.5 560.5,371.5 570.5,375.5 580.5,371.5 590.5,371.5 600.5,371.5 610.5,374.5 620.5,373.5 630.5,361.5 640.5,375.5 650.5,366.5 660.5,366.5 670.5,360.5 680.5,365.5 690.5,371.5" stroke="#605020" stroke-width="1"/><path d="M49 377h3v1h-3zM50 376h1v3h-1zM59 377h3v1h-3zM60 376h1v3h-1zM69 370h3v1h-3zM70 369h1v3h-1zM79 357h3v1h-3zM80 356h1v3h-1zM89 346h3v1h-3zM90 345h1v3h-1zM99 340h3v1h-3zM100 339h1v3h-1zM109 338h3v1h-3zM110 337h1v3h-1zM119 334h3v1h-3zM120 333h1v3h-1zM129 336h3v1h-3zM130 335h1v3h-1zM139 335h3v1h-3zM140 334h1v3h-1zM149 333h3v1h-3zM150 332h1v3h-1zM159 333h3v1h-3zM160 332h1v3h-1zM169 332h3v1h-3zM170 331h1v3h-1zM179 332h3v1h-3zM180 331h1v3h-1zM189 329h3v1h-3zM190 328h1v3h-1zM199 330h3v1h-3zM200 329h1v3h-1zM209 334h3v1h-3zM210 333h1v3h-1zM219 336h3v1h-3zM220 335h1v3h-1zM229 338h3v1h-3zM230 337h1v3h-1zM239 340h3v1h-3zM240 339h1v3h-1zM249 341h3v1h-3zM250 340h1v3h-1zM259 342h3v1h-3zM260 341h1v3h-1zM269 344h3v1h-3zM270 343h1v3h-1zM279 353h3v1h-3zM280 352h1v3h-1zM289 351h3v1h-3zM290 350h1v3h-1zM299 358h3v1h-3zM300 357h1v3h-1zM309 360h3v1h-3zM310 359h1v3h-1zM319 362h3v1h-3zM320 361h1v3h-1zM329 367h3v1h-3zM330 366h1v3h-1zM339 372h3v1h-3zM340 371h1v3h-1zM349 379h3v1h-3zM350 378h1v3h-1zM359 383h3v1h-3zM360 382h1v3h-1zM369 384h3v1h-3zM370 383h1v3h-1zM379 386h3v1h-3zM380 385h1v3h-1zM389 381h3v1h-3zM390 380h1v3h-1zM399 377h3v1h-3zM400 376h1v3h-1zM409 378h3v1h-3zM410 377h1v3h-1zM419 377h3v1h-3zM420 376h1v3h-1zM429 372h3v1h-3zM430 371h1v3h-1zM439 367h3v1h-3zM440 366h1v3h-1zM449 358h3v1h-3zM450 357h1v3h-1zM459 365h3v1h-3zM460 364h1v3h-1zM469 368h3v1h-3zM470 367h1v3h-1zM479 361h3v1h-3zM480 360h1v3h-1zM489 366h3v1h-3zM490 365h1v3h-1zM499 372h3v1h-3zM500 371h1v3h-1zM509 376h3v1h-3zM510 375h1v3h-1zM519 368h3v1h-3zM520 367h1v3h-1zM529 381h3v1h-3zM530 380h1v3h-1zM539 382h3v1h-3zM540 381h1v3h-1zM549 367h3v1h-3zM550 366h1v3h-1zM559 371h3v1h-3zM560 370h1v3h-1zM569 375h3v1h-3zM570 374h1v3h-1zM579 371h3v1h-3zM580 370h1v3h-1zM589 371h3v1h-3zM590 370h1v3h-1zM599 371h3v1h-3zM600 370h1v3h-1zM609 374h3v1h-3zM610 373h1v3h-1zM619 373h3v1h-3zM620 372h1v3h-1zM629 361h3v1h-3zM630 360h1v3h-1zM639 375h3v1h-3zM640 374h1v3h-1zM649 366h3v1h-3zM650 365h1v3h-1zM659 366h3v1h-3zM660 365h1v3h-1zM669 360h3v1h-3zM670 359h1v3h-1zM679 365h3v1h-3zM680 364h1v3h-1zM689 371h3v1h-3zM690 370h1v3h-1z" fill="#605020" stroke="none"/>
<polyline class="l" points="50.5,380.5 60.5,379.5 70.5,373.5 80.5,360.5 90.5,350.5 100.5,342.5 110.5,339.5 120.5,337.5 130.5,338.5 140.5,338.5 150.5,334.5 160.5,334.5 170.5,334.5 180.5,334.5 190.5,335.5 200.5,332.5 210.5,338.5 220.5,341.5 230.5,346.5 240.5,350.5 250.5,350.5 260.5,358.5 270.5,358.5 280.5,367.5 290.5,373.5 300.5,377.5 310.5,377.5 320.5,381.5 330.5,383.5 340.5,377.5 350.5,387.5 360.5,398.5 370.5,392.5 380.5,387.5 390.5,383.5 400.5,379.5 410.5,379.5 420.5,376.5 430.5,378.5 440.5,376.5 450.5,372.5 460.5,375.5 470.5,388.5 480.5,424.5 490.5,422.5 500.5,417.5 510.5,393.5 520.5,380.5 530.5,372.5 540.5,371.5 550.5,368.5 560.5,365.5 570.5,367.5 580.5,372.5 590.5,373.5 600.5,377.5 610.5,372.5 620.5,374.5 630.5,370.5 640.5,375.5 650.5,382.5 660.5,387.5 670.5,380.5 680.5,376.5 690.5,377.5" stroke="#f06020" stroke-width="1"/><path d="M49 380h3v1h-3zM50 379h1v3h-1zM59 379h3v1h-3zM60 378h1v3h-1zM69 373h3v1h-3zM70 372h1v3h-1zM79 360h3v1h-3zM80 359h1v3h-1zM89 350h3v1h-3zM90 349h1v3h-1zM99 342h3v1h-3zM100 341h1v3h-1zM109 339h3v1h-3zM110 338h1v3h-1zM119 337h3v1h-3zM120 336h1v3h-1zM129 338h3v1h-3zM130 337h1v3h-1zM139 338h3v1h-3zM140 337h1v3h-1zM149 334h3v1h-3zM150 333h1v3h-1zM159 334h3v1h-3zM160 333h1v3h-1zM169 334h3v1h-3zM170 333h1v3h-1zM179 334h3v1h-3zM180 333h1v3h-1zM189 335h3v1h-3zM190 334h1v3h-1zM199 332h3v1h-3zM200 331h1v3h-1zM209 338h3v1h-3zM210 337h1v3h-1zM219 341h3v1h-3zM220 340h1v3h-1zM229 346h3v1h-3zM230 345h1v3h-1zM239 350h3v1h-3zM240 349h1v3h-1zM249 350h3v1h-3zM250 349h1v3h-1zM259 358h3v1h-3zM260 357h1v3h-1zM269 358h3v1h-3zM270 357h1v3h-1zM279 367h3v1h-3zM280 366h1v3h-1zM289 373h3v1h-3zM290 372h1v3h-1zM299 377h3v1h-3zM300 376h1v3h-1zM309 377h3v1h-3zM310 376h1v3h-1zM319 381h3v1h-3zM320 380h1v3h-1zM329 383h3v1h-3zM330 382h1v3h-1zM339 377h3v1h-3zM340 376h1v3h-1zM349 387h3v1h-3zM350 386h1v3h-1zM359 398h3v1h-3zM360 397h1v3h-1zM369 392h3v1h-3zM370 391h1v3h-1zM379 387h3v1h-3zM380 386h1v3h-1zM389 383h3v1h-3zM390 382h1v3h-1zM399 379h3v1h-3zM400 378h1v3h-1zM409 379h3v1h-3zM410 378h1v3h-1zM419 376h3v1h-3zM420 375h1v3h-1zM429 378h3v1h-3zM430 377h1v3h-1zM439 376h3v1h-3zM440 375h1v3h-1zM449 372h3v1h-3zM450 371h1v3h-1zM459 375h3v1h-3zM460 374h1v3h-1zM469 388h3v1h-3zM470 387h1v3h-1zM479 424h3v1h-3zM480 423h1v3h-1zM489 422h3v1h-3zM490 421h1v3h-1zM499 417h3v1h-3zM500 416h1v3h-1zM509 393h3v1h-3zM510 392h1v3h-1zM519 380h3v1h-3zM520 379h1v3h-1zM529 372h3v1h-3zM530 371h1v3h-1zM539 371h3v1h-3zM540 370h1v3h-1zM549 368h3v1h-3zM550 367h1v3h-1zM559 365h3v1h-3zM560 364h1v3h-1zM569 367h3v1h-3zM570 366h1v3h-1zM579 372h3v1h-3zM580 371h1v3h-1zM589 373h3v1h-3zM590 372h1v3h-1zM599 377h3v1h-3zM600 376h1v3h-1zM609 372h3v1h-3zM610 371h1v3h-1zM619 374h3v1h-3zM620 373h1v3h-1zM629 370h3v1h-3zM630 369h1v3h-1zM639 375h3v1h-3zM640 374h1v3h-1zM649 382h3v1h-3zM650 381h1v3h-1zM659 387h3v1h-3zM660 386h1v3h-1zM669 380h3v1h-3zM670 379h1v3h-1zM679 376h3v1h-3zM680 375h1v3h-1zM689 377h3v1h-3zM690 376h1v3h-1z" fill="#f06020" stroke="none"/>
<polyline class="l" points="50.5,379.5 60.5,378.5 70.5,370.5 80.5,360.5 90.5,349.5 100.5,342.5 110.5,340.5 120.5,337.5 130.5,337.5 140.5,337.5 150.5,334.5 160.5,335.5 170.5,333.5 180.5,331.5 190.5,335.5 200.5,336.5 210.5,334.5 220.5,334.5 230.5,335.5 240.5,339.5 250.5,341.5 260.5,343.5 270.5,343.5 280.5,347.5 290.5,348.5 300.5,356.5 310.5,358.5 320.5,363.5 330.5,366.5 340.5,364.5 350.5,368.5 360.5,373.5 370.5,373.5 380.5,373.5 390.5,366.5 400.5,367.5 410.5,375.5 420.5,372.5 430.5,360.5 440.5,351.5 450.5,351.5 460.5,337.5 470.5,324.5 480.5,337.5 490.5,386.5 500.5,444.5 510.5,450.5 520.5,396.5 530.5,380.5 540.5,372.5 550.5,370.5 560.5,360.5 570.5,358.5 580.5,353.5 590.5,358.5 600.5,345.5 610.5,341.5 620.5,340.5 630.5,340.5 640.5,342.5 650.5,343.5 660.5,347.5 670.5,354.5 680.5,357.5 690.5,360.5" stroke="#d0c080" stroke-width="1"/><path d="M49 379h3v1h-3zM50 378h1v3h-1zM59 378h3v1h-3zM60 377h1v3h-1zM69 370h3v1h-3zM70 369h1v3h-1zM79 360h3v1h-3zM80 359h1v3h-1zM89 349h3v1h-3zM90 348h1v3h-1zM99 342h3v1h-3zM100 341h1v3h-1zM109 340h3v1h-3zM110 339h1v3h-1zM119 337h3v1h-3zM120 336h1v3h-1zM129 337h3v1h-3zM130 336h1v3h-1zM139 337h3v1h-3zM140 336h1v3h-1zM149 334h3v1h-3zM150 333h1v3h-1zM159 335h3v1h-3zM160 334h1v3h-1zM169 333h3v1h-3zM170 332h1v3h-1zM179 331h3v1h-3zM180 330h1v3h-1zM189 335h3v1h-3zM190 334h1v3h-1zM199 336h3v1h-3zM200 335h1v3h-1zM209 334h3v1h-3zM210 333h1v3h-1zM219 334h3v1h-3zM220 333h1v3h-1zM229 335h3v1h-3zM230 334h1v3h-1zM239 339h3v1h-3zM240 338h1v3h-1zM249 341h3v1h-3zM250 340h1v3h-1zM259 343h3v1h-3zM260 342h1v3h-1zM269 343h3v1h-3zM270 342h1v3h-1zM279 347h3v1h-3zM280 346h1v3h-1zM289 348h3v1h-3zM290 347h1v3h-1zM299 356h3v1h-3zM300 355h1v3h-1zM309 358h3v1h-3zM310 357h1v3h-1zM319 363h3v1h-3zM320 362h1v3h-1zM329 366h3v1h-3zM330 365h1v3h-1zM339 364h3v1h-3zM340 363h1v3h-1zM349 368h3v1h-3zM350 367h1v3h-1zM359 373h3v1h-3zM360 372h1v3h-1zM369 373h3v1h-3zM370 372h1v3h-1zM379 373h3v1h-3zM380 372h1v3h-1zM389 366h3v1h-3zM390 365h1v3h-1zM399 367h3v1h-3zM400 366h1v3h-1zM409 375h3v1h-3zM410 374h1v3h-1zM419 372h3v1h-3zM420 371h1v3h-1zM429 360h3v1h-3zM430 359h1v3h-1zM439 351h3v1h-3zM440 350h1v3h-1zM449 351h3v1h-3zM450 350h1v3h-1zM459 337h3v1h-3zM460 336h1v3h-1zM469 324h3v1h-3zM470 323h1v3h-1zM479 337h3v1h-3zM480 336h1v3h-1zM489 386h3v1h-3zM490 385h1v3h-1zM499 444h3v1h-3zM500 443h1v3h-1zM509 450h3v1h-3zM510 449h1v3h-1zM519 396h3v1h-3zM520 395h1v3h-1zM529 380h3v1h-3zM530 379h1v3h-1zM539 372h3v1h-3zM540 371h1v3h-1zM549 370h3v1h-3zM550 369h1v3h-1zM559 360h3v1h-3zM560 359h1v3h-1zM569 358h3v1h-3zM570 357h1v3h-1zM579 353h3v1h-3zM580 352h1v3h-1zM589 358h3v1h-3zM590 357h1v3h-1zM599 345h3v1h-3zM600 344h1v3h-1zM609 341h3v1h-3zM610 340h1v3h-1zM619 340h3v1h-3zM620 339h1v3h-1zM629 340h3v1h-3zM630 339h1v3h-1zM639 342h3v1h-3zM640 341h1v3h-1zM649 343h3v1h-3zM650 342h1v3h-1zM659 347h3v1h-3zM660 346h1v3h-1zM669 354h3v1h-3zM670 353h1v3h-1zM679 357h3v1h-3zM680 356h1v3h-1zM689 360h3v1h-3zM690 359h1v3h-1z" fill="#d0c080" stroke="none"/>
<polyline class="l" points="50.5,378.5 60.5,378.5 70.5,371.5 80.5,361.5 90.5,351.5 100.5,342.5 110.5,341.5 120.5,338.5 130.5,337.5 140.5,337.5 150.5,333.5 160.5,334.5 170.5,334.5 180.5,336.5 190.5,333.5 200.5,336.5 210.5,336.5 220.5,336.5 230.5,340.5 240.5,345.5 250.5,348.5 260.5,349.5 270.5,352.5 280.5,353.5 290.5,357.5 300.5,359.5 310.5,368.5 320.5,376.5 330.5,370.5 340.5,377.5 350.5,374.5 360.5,385.5 370.5,389.5 380.5,392.5 390.5,396.5 400.5,397.5 410.5,398.5 420.5,396.5 430.5,393.5 440.5,392.5 450.5,391.5 460.5,389.5 470.5,386.5 480.5,377.5 490.5,370.5 500.5,367.5 510.5,371.5 520.5,370.5 530.5,370.5 540.5,373.5 550.5,376.5 560.5,377.5 570.5,369.5 580.5,377.5 590.5,377.5 600.5,379.5 610.5,375.5 620.5,378.5 630.5,376.5 640.5,377.5 650.5,381.5 660.5,385.5 670.5,396.5 680.5,410.5 690.5,387.5" stroke="#10d050" stroke-width="1"/><path d="M49 378h3v1h-3zM50 377h1v3h-1zM59 378h3v1h-3zM60 377h1v3h-1zM69 371h3v1h-3zM70 370h1v3h-1zM79 361h3v1h-3zM80 360h1v3h-1zM89 351h3v1h-3zM90 350h1v3h-1zM99 342h3v1h-3zM100 341h1v3h-1zM109 341h3v1h-3zM110 340h1v3h-1zM119 338h3v1h-3zM120 337h1v3h-1zM129 337h3v1h-3zM130 336h1v3h-1zM139 337h3v1h-3zM140 336h1v3h-1zM149 333h3v1h-3zM150 332h1v3h-1zM159 334h3v1h-3zM160 333h1v3h-1zM169 334h3v1h-3zM170 333h1v3h-1zM179 336h3v1h-3zM180 335h1v3h-1zM189 333h3v1h-3zM190 332h1v3h-1zM199 336h3v1h-3zM200 335h1v3h-1zM209 336h3v1h-3zM210 335h1v3h-1zM219 336h3v1h-3zM220 335h1v3h-1zM229 340h3v1h-3zM230 339h1v3h-1zM239 345h3v1h-3zM240 344h1v3h-1zM249 348h3v1h-3zM250 347h1v3h-1zM259 349h3v1h-3zM260 348h1v3h-1zM269 352h3v1h-3zM270 351h1v3h-1zM279 353h3v1h-3zM280 352h1v3h-1zM289 357h3v1h-3zM290 356h1v3h-1zM299 359h3v1h-3zM300 358h1v3h-1zM309 368h3v1h-3zM310 367h1v3h-1zM319 376h3v1h-3zM320 375h1v3h-1zM329 370h3v1h-3zM330 369h1v3h-1zM339 377h3v1h-3zM340 376h1v3h-1zM349 374h3v1h-3zM350 373h1v3h-1zM359 385h3v1h-3zM360 384h1v3h-1zM369 389h3v1h-3zM370 388h1v3h-1zM379 392h3v1h-3zM380 391h1v3h-1zM389 396h3v1h-3zM390 395h1v3h-1zM399 397h3v1h-3zM400 396h1v3h-1zM409 398h3v1h-3zM410 397h1v3h-1zM419 396h3v1h-3zM420 395h1v3h-1zM429 393h3v1h-3zM430 392h1v3h-1zM439 392h3v1h-3zM440 391h1v3h-1zM449 391h3v1h-3zM450 390h1v3h-1zM459 389h3v1h-3zM460 388h1v3h-1zM469 386h3v1h-3zM470 385h1v3h-1zM479 377h3v1h-3zM480 376h1v3h-1zM489 370h3v1h-3zM490 369h1v3h-1zM499 367h3v1h-3zM500 366h1v3h-1zM509 371h3v1h-3zM510 370h1v3h-1zM519 370h3v1h-3zM520 369h1v3h-1zM529 370h3v1h-3zM530 369h1v3h-1zM539 373h3v1h-3zM540 372h1v3h-1zM549 376h3v1h-3zM550 375h1v3h-1zM559 377h3v1h-3zM560 376h1v3h-1zM569 369h3v1h-3zM570 368h1v3h-1zM579 377h3v1h-3zM580 376h1v3h-1zM589 377h3v1h-3zM590 376h1v3h-1zM599 379h3v1h-3zM600 378h1v3h-1zM609 375h3v1h-3zM610 374h1v3h-1zM619 378h3v1h-3zM620 377h1v3h-1zM629 376h3v1h-3zM630 375h1v3h-1zM639 377h3v1h-3zM640 376h1v3h-1zM649 381h3v1h-3zM650 380h1v3h-1zM659 385h3v1h-3zM660 384h1v3h-1zM669 396h3v1h-3zM670 395h1v3h-1zM679 410h3v1h-3zM680 409h1v3h-1zM689 387h3v1h-3zM690 386h1v3h-1z" fill="#10d050" stroke="none"/>
<polyline class="l" points="50.5,377.5 60.5,377.5 70.5,371.5 80.5,359.5 90.5,348.5 100.5,343.5 110.5,341.5 120.5,337.5 130.5,338.5 140.5,337.5 150.5,333.5 160.5,330.5 170.5,333.5 180.5,335.5 190.5,336.5 200.5,336.5 210.5,334.5 220.5,338.5 230.5,340.5 240.5,341.5 250.5,341.5 260.5,342.5 270.5,346.5 280.5,353.5 290.5,354.5 300.5,360.5 310.5,358.5 320.5,368.5 330.5,370.5 340.5,376.5 350.5,375.5 360.5,386.5 370.5,386.5 380.5,379.5 390.5,365.5 400.5,346.5 410.5,342.5 420.5,340.5 430.5,337.5 440.5,329.5 450.5,325.5 460.5,324.5 470.5,328.5 480.5,338.5 490.5,345.5 500.5,363.5 510.5,373.5 520.5,375.5 530.5,375.5 540.5,392.5 550.5,393.5 560.5,383.5 570.5,378.5 580.5,382.5 590.5,395.5 600.5,386.5 610.5,384.5 620.5,383.5 630.5,384.5 640.5,386.5 650.5,382.5 660.5,382.5 670.5,383.5 680.5,386.5 690.5,390.5" stroke="#204060" stroke-width="1"/><path d="M49 377h3v1h-3zM50 376h1v3h-1zM59 377h3v1h-3zM60 376h1v3h-1zM69 371h3v1h-3zM70 370h1v3h-1zM79 359h3v1h-3zM80 358h1v3h-1zM89 348h3v1h-3zM90 347h1v3h-1zM99 343h3v1h-3zM100 342h1v3h-1zM109 341h3v1h-3zM110 340h1v3h-1zM119 337h3v1h-3zM120 336h1v3h-1zM129 338h3v1h-3zM130 337h1v3h-1zM139 337h3v1h-3zM140 336h1v3h-1zM149 333h3v1h-3zM150 332h1v3h-1zM159 330h3v1h-3zM160 329h1v3h-1zM169 333h3v1h-3zM170 332h1v3h-1zM179 335h3v1h-3zM180 334h1v3h-1zM189 336h3v1h-3zM190 335h1v3h-1zM199 336h3v1h-3zM200 335h1v3h-1zM209 334h3v1h-3zM210 333h1v3h-1zM219 338h3v1h-3zM220 337h1v3h-1zM229 340h3v1h-3zM230 339h1v3h-1zM239 341h3v1h-3zM240 340h1v3h-1zM249 341h3v1h-3zM250 340h1v3h-1zM259 342h3v1h-3zM260 341h1v3h-1zM269 346h3v1h-3zM270 345h1v3h-1zM279 353h3v1h-3zM280 352h1v3h-1zM289 354h3v1h-3zM290 353h1v3h-1zM299 360h3v1h-3zM300 359h1v3h-1zM309 358h3v1h-3zM310 357h1v3h-1zM319 368h3v1h-3zM320 367h1v3h-1zM329 370h3v1h-3zM330 369h1v3h-1zM339 376h3v1h-3zM340 375h1v3h-1zM349 375h3v1h-3zM350 374h1v3h-1zM359 386h3v1h-3zM360 385h1v3h-1zM369 386h3v1h-3zM370 385h1v3h-1zM379 379h3v1h-3zM380 378h1v3h-1zM389 365h3v1h-3zM390 364h1v3h-1zM399 346h3v1h-3zM400 345h1v3h-1zM409 342h3v1h-3zM410 341h1v3h-1zM419 340h3v1h-3zM420 339h1v3h-1zM429 337h3v1h-3zM430 336h1v3h-1zM439 329h3v1h-3zM440 328h1v3h-1zM449 325h3v1h-3zM450 324h1v3h-1zM459 324h3v1h-3zM460 323h1v3h-1zM469 328h3v1h-3zM470 327h1v3h-1zM479 338h3v1h-3zM480 337h1v3h-1zM489 345h3v1h-3zM490 344h1v3h-1zM499 363h3v1h-3zM500 362h1v3h-1zM509 373h3v1h-3zM510 372h1v3h-1zM519 375h3v1h-3zM520 374h1v3h-1zM529 375h3v1h-3zM530 374h1v3h-1zM539 392h3v1h-3zM540 391h1v3h-1zM549 393h3v1h-3zM550 392h1v3h-1zM559 383h3v1h-3zM560 382h1v3h-1zM569 378h3v1h-3zM570 377h1v3h-1zM579 382h3v1h-3zM580 381h1v3h-1zM589 395h3v1h-3zM590 394h1v3h-1zM599 386h3v1h-3zM600 385h1v3h-1zM609 384h3v1h-3zM610 383h1v3h-1zM619 383h3v1h-3zM620 382h1v3h-1zM629 384h3v1h-3zM630 383h1v3h-1zM639 386h3v1h-3zM640 385h1v3h-1zM649 382h3v1h-3zM650 381h1v3h-1zM659 382h3v1h-3zM660 381h1v3h-1zM669 383h3v1h-3zM670 382h1v3h-1zM679 386h3v1h-3zM680 385h1v3h-1zM689 390h3v1h-3zM690 389h1v3h-1z" fill="#204060" stroke="none"/>
<polyline class="l" points="50.5,382.5 60.5,380.5 70.5,375.5 80.5,362.5 90.5,352.5 100.5,348.5 110.5,344.5 120.5,342.5 130.5,342.5 140.5,341.5 150.5,341.5 160.5,342.5 170.5,341.5 180.5,341.5 190.5,339.5 200.5,339.5 210.5,343.5 220.5,346.5 230.5,347.5 240.5,353.5 250.5,357.5 260.5,360.5 270.5,364.5 280.5,368.5 290.5,373.5 300.5,378.5 310.5,382.5 320.5,384.5 330.5,391.5 340.5,394.5 350.5,397.5 360.5,402.5 370.5,397.5 380.5,405.5 390.5,397.5 400.5,395.5 410.5,397.5 420.5,395.5 430.5,380.5 440.5,386.5 450.5,378.5 460.5,391.5 470.5,386.5 480.5,391.5 490.5,386.5 500.5,386.5 510.5,392.5 520.5,377.5 530.5,379.5 540.5,375.5 550.5,387.5 560.5,389.5 570.5,389.5 580.5,387.5 590.5,406.5 600.5,405.5 610.5,404.5 620.5,387.5 630.5,381.5 640.5,387.5 650.5,387.5 660.5,392.5 670.5,386.5 680.5,392.5 690.5,394.5" stroke="#687078" stroke-width="1"/><path d="M49 382h3v1h-3zM50 381h1v3h-1zM59 380h3v1h-3zM60 379h1v3h-1zM69 375h3v1h-3zM70 374h1v3h-1zM79 362h3v1h-3zM80 361h1v3h-1zM89 352h3v1h-3zM90 351h1v3h-1zM99 348h3v1h-3zM100 347h1v3h-1zM109 344h3v1h-3zM110 343h1v3h-1zM119 342h3v1h-3zM120 341h1v3h-1zM129 342h3v1h-3zM130 341h1v3h-1zM139 341h3v1h-3zM140 340h1v3h-1zM149 341h3v1h-3zM150 340h1v3h-1zM159 342h3v1h-3zM160 341h1v3h-1zM169 341h3v1h-3zM170 340h1v3h-1zM179 341h3v1h-3zM180 340h1v3h-1zM189 339h3v1h-3zM190 338h1v3h-1zM199 339h3v1h-3zM200 338h1v3h-1zM209 343h3v1h-3zM210 342h1v3h-1zM219 346h3v1h-3zM220 345h1v3h-1zM229 347h3v1h-3zM230 346h1v3h-1zM239 353h3v1h-3zM240 352h1v3h-1zM249 357h3v1h-3zM250 356h1v3h-1zM259 360h3v1h-3zM260 359h1v3h-1zM269 364h3v1h-3zM270 363h1v3h-1zM279 368h3v1h-3zM280 367h1v3h-1zM289 373h3v1h-3zM290 372h1v3h-1zM299 378h3v1h-3zM300 377h1v3h-1zM309 382h3v1h-3zM310 381h1v3h-1zM319 384h3v1h-3zM320 383h1v3h-1zM329 391h3v1h-3zM330 390h1v3h-1zM339 394h3v1h-3zM340 393h1v3h-1zM349 397h3v1h-3zM350 396h1v3h-1zM359 402h3v1h-3zM360 401h1v3h-1zM369 397h3v1h-3zM370 396h1v3h-1zM379 405h3v1h-3zM380 404h1v3h-1zM389 397h3v1h-3zM390 396h1v3h-1zM399 395h3v1h-3zM400 394h1v3h-1zM409 397h3v1h-3zM410 396h1v3h-1zM419 395h3v1h-3zM420 394h1v3h-1zM429 380h3v1h-3zM430 379h1v3h-1zM439 386h3v1h-3zM440 385h1v3h-1zM449 378h3v1h-3zM450 377h1v3h-1zM459 391h3v1h-3zM460 390h1v3h-1zM469 386h3v1h-3zM470 385h1v3h-1zM479 391h3v1h-3zM480 390h1v3h-1zM489 386h3v1h-3zM490 385h1v3h-1zM499 386h3v1h-3zM500 385h1v3h-1zM509 392h3v1h-3zM510 391h1v3h-1zM519 377h3v1h-3zM520 376h1v3h-1zM529 379h3v1h-3zM530 378h1v3h-1zM539 375h3v1h-3zM540 374h1v3h-1zM549 387h3v1h-3zM550 386h1v3h-1zM559 389h3v1h-3zM560 388h1v3h-1zM569 389h3v1h-3zM570 388h1v3h-1zM579 387h3v1h-3zM580 386h1v3h-1zM589 406h3v1h-3zM590 405h1v3h-1zM599 405h3v1h-3zM600 404h1v3h-1zM609 404h3v1h-3zM610 403h1v3h-1zM619 387h3v1h-3zM620 386h1v3h-1zM629 381h3v1h-3zM630 380h1v3h-1zM639 387h3v1h-3zM640 386h1v3h-1zM649 387h3v1h-3zM650 386h1v3h-1zM659 392h3v1h-3zM660 391h1v3h-1zM669 386h3v1h-3zM670 385h1v3h-1zM679 392h3v1h-3zM680 391h1v3h-1zM689 394h3v1h-3zM690 393h1v3h-1z" fill="#687078" stroke="none"/>
<polyline class="l" points="50.5,378.5 60.5,377.5 70.5,370.5 80.5,362.5 90.5,353.5 100.5,344.5 110.5,340.5 120.5,338.5 130.5,337.5 140.5,337.5 150.5,333.5 160.5,333.5 170.5,330.5 180.5,331.5 190.5,332.5 200.5,336.5 210.5,335.5 220.5,336.5 230.5,335.5 240.5,338.5 250.5,340.5 260.5,346.5 270.5,348.5 280.5,348.5 290.5,351.5 300.5,355.5 310.5,352.5 320.5,356.5 330.5,362.5 340.5,366.5 350.5,362.5 360.5,362.5 370.5,368.5 380.5,376.5 390.5,374.5 400.5,371.5 410.5,376.5 420.5,379.5 430.5,374.5 440.5,370.5 450.5,357.5 460.5,350.5 470.5,352.5 480.5,348.5 490.5,338.5 500.5,340.5 510.5,329.5 520.5,333.5 530.5,327.5 540.5,340.5 550.5,345.5 560.5,361.5 570.5,364.5 580.5,364.5 590.5,361.5 600.5,350.5 610.5,355.5 620.5,346.5 630.5,357.5 640.5,366.5 650.5,364.5 660.5,359.5 670.5,370.5 680.5,377.5 690.5,370.5" stroke="#e080f0" stroke-width="1"/><path d="M49 378h3v1h-3zM50 377h1v3h-1zM59 377h3v1h-3zM60 376h1v3h-1zM69 370h3v1h-3zM70 369h1v3h-1zM79 362h3v1h-3zM80 361h1v3h-1zM89 353h3v1h-3zM90 352h1v3h-1zM99 344h3v1h-3zM100 343h1v3h-1zM109 340h3v1h-3zM110 339h1v3h-1zM119 338h3v1h-3zM120 337h1v3h-1zM129 337h3v1h-3zM130 336h1v3h-1zM139 337h3v1h-3zM140 336h1v3h-1zM149 333h3v1h-3zM150 332h1v3h-1zM159 333h3v1h-3zM160 332h1v3h-1zM169 330h3v1h-3zM170 329h1v3h-1zM179 331h3v1h-3zM180 330h1v3h-1zM189 332h3v1h-3zM190 331h1v3h-1zM199 336h3v1h-3zM200 335h1v3h-1zM209 335h3v1h-3zM210 334h1v3h-1zM219 336h3v1h-3zM220 335h1v3h-1zM229 335h3v1h-3zM230 334h1v3h-1zM239 338h3v1h-3zM240 337h1v3h-1zM249 340h3v1h-3zM250 339h1v3h-1zM259 346h3v1h-3zM260 345h1v3h-1zM269 348h3v1h-3zM270 347h1v3h-1zM279 348h3v1h-3zM280 347h1v3h-1zM289 351h3v1h-3zM290 350h1v3h-1zM299 355h3v1h-3zM300 354h1v3h-1zM309 352h3v1h-3zM310 351h1v3h-1zM319 356h3v1h-3zM320 355h1v3h-1zM329 362h3v1h-3zM330 361h1v3h-1zM339 366h3v1h-3zM340 365h1v3h-1zM349 362h3v1h-3zM350 361h1v3h-1zM359 362h3v1h-3zM360 361h1v3h-1zM369 368h3v1h-3zM370 367h1v3h-1zM379 376h3v1h-3zM380 375h1v3h-1zM389 374h3v1h-3zM390 373h1v3h-1zM399 371h3v1h-3zM400 370h1v3h-1zM409 376h3v1h-3zM410 375h1v3h-1zM419 379h3v1h-3zM420 378h1v3h-1zM429 374h3v1h-3zM430 373h1v3h-1zM439 370h3v1h-3zM440 369h1v3h-1zM449 357h3v1h-3zM450 356h1v3h-1zM459 350h3v1h-3zM460 349h1v3h-1zM469 352h3v1h-3zM470 351h1v3h-1zM479 348h3v1h-3zM480 347h1v3h-1zM489 338h3v1h-3zM490 337h1v3h-1zM499 340h3v1h-3zM500 339h1v3h-1zM509 329h3v1h-3zM510 328h1v3h-1zM519 333h3v1h-3zM520 332h1v3h-1zM529 327h3v1h-3zM530 326h1v3h-1zM539 340h3v1h-3zM540 339h1v3h-1zM549 345h3v1h-3zM550 344h1v3h-1zM559 361h3v1h-3zM560 360h1v3h-1zM569 364h3v1h-3zM570 363h1v3h-1zM579 364h3v1h-3zM580 363h1v3h-1zM589 361h3v1h-3zM590 360h1v3h-1zM599 350h3v1h-3zM600 349h1v3h-1zM609 355h3v1h-3zM610 354h1v3h-1zM619 346h3v1h-3zM620 345h1v3h-1zM629 357h3v1h-3zM630 356h1v3h-1zM639 366h3v1h-3zM640 365h1v3h-1zM649 364h3v1h-3zM650 363h1v3h-1zM659 359h3v1h-3zM660 358h1v3h-1zM669 370h3v1h-3zM670 369h1v3h-1zM679 377h3v1h-3zM680 376h1v3h-1zM689 370h3v1h-3zM690 369h1v3h-1z" fill="#e080f0" stroke="none"/>
<polyline class="l" points="50.5,374.5 60.5,374.5 70.5,367.5 80.5,359.5 90.5,350.5 100.5,343.5 110.5,340.5 120.5,340.5 130.5,341.5 140.5,344.5 150.5,347.5 160.5,346.5 170.5,347.5 180.5,347.5 190.5,350.5 200.5,346.5 210.5,343.5 220.5,344.5 230.5,340.5 240.5,338.5 250.5,342.5 260.5,350.5 270.5,345.5 280.5,351.5 290.5,355.5 300.5,356.5 310.5,360.5 320.5,364.5 330.5,362.5 340.5,363.5 350.5,368.5 360.5,371.5 370.5,375.5 380.5,379.5 390.5,382.5 400.5,389.5 410.5,382.5 420.5,381.5 430.5,375.5 440.5,371.5 450.5,367.5 460.5,370.5 470.5,371.5 480.5,370.5 490.5,375.5 500.5,370.5 510.5,373.5 520.5,370.5 530.5,372.5 540.5,368.5 550.5,367.5 560.5,369.5 570.5,369.5 580.5,379.5 590.5,384.5 600.5,377.5 610.5,375.5 620.5,371.5 630.5,369.5 640.5,378.5 650.5,377.5 660.5,374.5 670.5,373.5 680.5,380.5 690.5,375.5" stroke="#8020f0" stroke-width="1"/><path d="M49 374h3v1h-3zM50 373h1v3h-1zM59 374h3v1h-3zM60 373h1v3h-1zM69 367h3v1h-3zM70 366h1v3h-1zM79 359h3v1h-3zM80 358h1v3h-1zM89 350h3v1h-3zM90 349h1v3h-1zM99 343h3v1h-3zM100 342h1v3h-1zM109 340h3v1h-3zM110 339h1v3h-1zM119 340h3v1h-3zM120 339h1v3h-1zM129 341h3v1h-3zM130 340h1v3h-1zM139 344h3v1h-3zM140 343h1v3h-1zM149 347h3v1h-3zM150 346h1v3h-1zM159 346h3v1h-3zM160 345h1v3h-1zM169 347h3v1h-3zM170 346h1v3h-1zM179 347h3v1h-3zM180 346h1v3h-1zM189 350h3v1h-3zM190 349h1v3h-1zM199 346h3v1h-3zM200 345h1v3h-1zM209 343h3v1h-3zM210 342h1v3h-1zM219 344h3v1h-3zM220 343h1v3h-1zM229 340h3v1h-3zM230 339h1v3h-1zM239 338h3v1h-3zM240 337h1v3h-1zM249 342h3v1h-3zM250 341h1v3h-1zM259 350h3v1h-3zM260 349h1v3h-1zM269 345h3v1h-3zM270 344h1v3h-1zM279 351h3v1h-3zM280 350h1v3h-1zM289 355h3v1h-3zM290 354h1v3h-1zM299 356h3v1h-3zM300 355h1v3h-1zM309 360h3v1h-3zM310 359h1v3h-1zM319 364h3v1h-3zM320 363h1v3h-1zM329 362h3v1h-3zM330 361h1v3h-1zM339 363h3v1h-3zM340 362h1v3h-1zM349 368h3v1h-3zM350 367h1v3h-1zM359 371h3v1h-3zM360 370h1v3h-1zM369 375h3v1h-3zM370 374h1v3h-1zM379 379h3v1h-3zM380 378h1v3h-1zM389 382h3v1h-3zM390 381h1v3h-1zM399 389h3v1h-3zM400 388h1v3h-1zM409 382h3v1h-3zM410 381h1v3h-1zM419 381h3v1h-3zM420 380h1v3h-1zM429 375h3v1h-3zM430 374h1v3h-1zM439 371h3v1h-3zM440 370h1v3h-1zM449 367h3v1h-3zM450 366h1v3h-1zM459 370h3v1h-3zM460 369h1v3h-1zM469 371h3v1h-3zM470 370h1v3h-1zM479 370h3v1h-3zM480 369h1v3h-1zM489 375h3v1h-3zM490 374h1v3h-1zM499 370h3v1h-3zM500 369h1v3h-1zM509 373h3v1h-3zM510 372h1v3h-1zM519 370h3v1h-3zM520 369h1v3h-1zM529 372h3v1h-3zM530 371h1v3h-1zM539 368h3v1h-3zM540 367h1v3h-1zM549 367h3v1h-3zM550 366h1v3h-1zM559 369h3v1h-3zM560 368h1v3h-1zM569 369h3v1h-3zM570 368h1v3h-1zM579 379h3v1h-3zM580 378h1v3h-1zM589 384h3v1h-3zM590 383h1v3h-1zM599 377h3v1h-3zM600 376h1v3h-1zM609 375h3v1h-3zM610 374h1v3h-1zM619 371h3v1h-3zM620 370h1v3h-1zM629 369h3v1h-3zM630 368h1v3h-1zM639 378h3v1h-3zM640 377h1v3h-1zM649 377h3v1h-3zM650 376h1v3h-1zM659 374h3v1h-3zM660 373h1v3h-1zM669 373h3v1h-3zM670 372h1v3h-1zM679 380h3v1h-3zM680 379h1v3h-1zM689 375h3v1h-3zM690 374h1v3h-1z" fill="#8020f0" stroke="none"/>
<polyline class="l" points="50.5,378.5 60.5,378.5 70.5,371.5 80.5,359.5 90.5,347.5 100.5,342.5 110.5,339.5 120.5,336.5 130.5,337.5 140.5,335.5 150.5,327.5 160.5,323.5 170.5,321.5 180.5,323.5 190.5,325.5 200.5,326.5 210.5,332.5 220.5,335.5 230.5,337.5 240.5,338.5 250.5,340.5 260.5,341.5 270.5,344.5 280.5,350.5 290.5,354.5 300.5,357.5 310.5,366.5 320.5,367.5 330.5,365.5 340.5,366.5 350.5,370.5 360.5,373.5 370.5,373.5 380.5,373.5 390.5,372.5 400.5,373.5 410.5,363.5 420.5,358.5 430.5,360.5 440.5,345.5 450.5,330.5 460.5,331.5 470.5,346.5 480.5,348.5 490.5,350.5 500.5,367.5 510.5,359.5 520.5,347.5 530.5,357.5 540.5,360.5 550.5,346.5 560.5,344.5 570.5,349.5 580.5,342.5 590.5,357.5 600.5,353.5 610.5,365.5 620.5,351.5 630.5,357.5 640.5,359.5 650.5,353.5 660.5,368.5 670.5,375.5 680.5,373.5 690.5,369.5" stroke="#806030" stroke-width="1"/><path d="M49 378h3v1h-3zM50 377h1v3h-1zM59 378h3v1h-3zM60 377h1v3h-1zM69 371h3v1h-3zM70 370h1v3h-1zM79 359h3v1h-3zM80 358h1v3h-1zM89 347h3v1h-3zM90 346h1v3h-1zM99 342h3v1h-3zM100 341h1v3h-1zM109 339h3v1h-3zM110 338h1v3h-1zM119 336h3v1h-3zM120 335h1v3h-1zM129 337h3v1h-3zM130 336h1v3h-1zM139 335h3v1h-3zM140 334h1v3h-1zM149 327h3v1h-3zM150 326h1v3h-1zM159 323h3v1h-3zM160 322h1v3h-1zM169 321h3v1h-3zM170 320h1v3h-1zM179 323h3v1h-3zM180 322h1v3h-1zM189 325h3v1h-3zM190 324h1v3h-1zM199 326h3v1h-3zM200 325h1v3h-1zM209 332h3v1h-3zM210 331h1v3h-1zM219 335h3v1h-3zM220 334h1v3h-1zM229 337h3v1h-3zM230 336h1v3h-1zM239 338h3v1h-3zM240 337h1v3h-1zM249 340h3v1h-3zM250 339h1v3h-1zM259 341h3v1h-3zM260 340h1v3h-1zM269 344h3v1h-3zM270 343h1v3h-1zM279 350h3v1h-3zM280 349h1v3h-1zM289 354h3v1h-3zM290 353h1v3h-1zM299 357h3v1h-3zM300 356h1v3h-1zM309 366h3v1h-3zM310 365h1v3h-1zM319 367h3v1h-3zM320 366h1v3h-1zM329 365h3v1h-3zM330 364h1v3h-1zM339 366h3v1h-3zM340 365h1v3h-1zM349 370h3v1h-3zM350 369h1v3h-1zM359 373h3v1h-3zM360 372h1v3h-1zM369 373h3v1h-3zM370 372h1v3h-1zM379 373h3v1h-3zM380 372h1v3h-1zM389 372h3v1h-3zM390 371h1v3h-1zM399 373h3v1h-3zM400 372h1v3h-1zM409 363h3v1h-3zM410 362h1v3h-1zM419 358h3v1h-3zM420 357h1v3h-1zM429 360h3v1h-3zM430 359h1v3h-1zM439 345h3v1h-3zM440 344h1v3h-1zM449 330h3v1h-3zM450 329h1v3h-1zM459 331h3v1h-3zM460 330h1v3h-1zM469 346h3v1h-3zM470 345h1v3h-1zM479 348h3v1h-3zM480 347h1v3h-1zM489 350h3v1h-3zM490 349h1v3h-1zM499 367h3v1h-3zM500 366h1v3h-1zM509 359h3v1h-3zM510 358h1v3h-1zM519 347h3v1h-3zM520 346h1v3h-1zM529 357h3v1h-3zM530 356h1v3h-1zM539 360h3v1h-3zM540 359h1v3h-1zM549 346h3v1h-3zM550 345h1v3h-1zM559 344h3v1h-3zM560 343h1v3h-1zM569 349h3v1h-3zM570 348h1v3h-1zM579 342h3v1h-3zM580 341h1v3h-1zM589 357h3v1h-3zM590 356h1v3h-1zM599 353h3v1h-3zM600 352h1v3h-1zM609 365h3v1h-3zM610 364h1v3h-1zM619 351h3v1h-3zM620 350h1v3h-1zM629 357h3v1h-3zM630 356h1v3h-1zM639 359h3v1h-3zM640 358h1v3h-1zM649 353h3v1h-3zM650 352h1v3h-1zM659 368h3v1h-3zM660 367h1v3h-1zM669 375h3v1h-3zM670 374h1v3h-1zM679 373h3v1h-3zM680 372h1v3h-1zM689 369h3v1h-3zM690 368h1v3h-1z" fill="#806030" stroke="none"/>
<polyline class="l" points="50.5,378.5 60.5,378.5 70.5,370.5 80.5,357.5 90.5,348.5 100.5,339.5 110.5,336.5 120.5,335.5 130.5,335.5 140.5,335.5 150.5,333.5 160.5,330.5 170.5,325.5 180.5,325.5 190.5,327.5 200.5,330.5 210.5,330.5 220.5,333.5 230.5,339.5 240.5,344.5 250.5,346.5 260.5,350.5 270.5,353.5 280.5,358.5 290.5,361.5 300.5,369.5 310.5,378.5 320.5,382.5 330.5,375.5 340.5,369.5 350.5,372.5 360.5,378.5 370.5,381.5 380.5,383.5 390.5,382.5 400.5,380.5 410.5,379.5 420.5,376.5 430.5,374.5 440.5,368.5 450.5,364.5 460.5,336.5 470.5,328.5 480.5,327.5 490.5,328.5 500.5,328.5 510.5,328.5 520.5,327.5 530.5,332.5 540.5,334.5 550.5,337.5 560.5,345.5 570.5,355.5 580.5,366.5 590.5,374.5 600.5,380.5 610.5,390.5 620.5,403.5 630.5,418.5 640.5,444.5 650.5,439.5 660.5,424.5 670.5,401.5 680.5,394.5 690.5,390.5" stroke="#300870" stroke-width="1"/><path d="M49 378h3v1h-3zM50 377h1v3h-1zM59 378h3v1h-3zM60 377h1v3h-1zM69 370h3v1h-3zM70 369h1v3h-1zM79 357h3v1h-3zM80 356h1v3h-1zM89 348h3v1h-3zM90 347h1v3h-1zM99 339h3v1h-3zM100 338h1v3h-1zM109 336h3v1h-3zM110 335h1v3h-1zM119 335h3v1h-3zM120 334h1v3h-1zM129 335h3v1h-3zM130 334h1v3h-1zM139 335h3v1h-3zM140 334h1v3h-1zM149 333h3v1h-3zM150 332h1v3h-1zM159 330h3v1h-3zM160 329h1v3h-1zM169 325h3v1h-3zM170 324h1v3h-1zM179 325h3v1h-3zM180 324h1v3h-1zM189 327h3v1h-3zM190 326h1v3h-1zM199 330h3v1h-3zM200 329h1v3h-1zM209 330h3v1h-3zM210 329h1v3h-1zM219 333h3v1h-3zM220 332h1v3h-1zM229 339h3v1h-3zM230 338h1v3h-1zM239 344h3v1h-3zM240 343h1v3h-1zM249 346h3v1h-3zM250 345h1v3h-1zM259 350h3v1h-3zM260 349h1v3h-1zM269 353h3v1h-3zM270 352h1v3h-1zM279 358h3v1h-3zM280 357h1v3h-1zM289 361h3v1h-3zM290 360h1v3h-1zM299 369h3v1h-3zM300 368h1v3h-1zM309 378h3v1h-3zM310 377h1v3h-1zM319 382h3v1h-3zM320 381h1v3h-1zM329 375h3v1h-3zM330 374h1v3h-1zM339 369h3v1h-3zM340 368h1v3h-1zM349 372h3v1h-3zM350 371h1v3h-1zM359 378h3v1h-3zM360 377h1v3h-1zM369 381h3v1h-3zM370 380h1v3h-1zM379 383h3v1h-3zM380 382h1v3h-1zM389 382h3v1h-3zM390 381h1v3h-1zM399 380h3v1h-3zM400 379h1v3h-1zM409 379h3v1h-3zM410 378h1v3h-1zM419 376h3v1h-3zM420 375h1v3h-1zM429 374h3v1h-3zM430 373h1v3h-1zM439 368h3v1h-3zM440 367h1v3h-1zM449 364h3v1h-3zM450 363h1v3h-1zM459 336h3v1h-3zM460 335h1v3h-1zM469 328h3v1h-3zM470 327h1v3h-1zM479 327h3v1h-3zM480 326h1v3h-1zM489 328h3v1h-3zM490 327h1v3h-1zM499 328h3v1h-3zM500 327h1v3h-1zM509 328h3v1h-3zM510 327h1v3h-1zM519 327h3v1h-3zM520 326h1v3h-1zM529 332h3v1h-3zM530 331h1v3h-1zM539 334h3v1h-3zM540 333h1v3h-1zM549 337h3v1h-3zM550 336h1v3h-1zM559 345h3v1h-3zM560 344h1v3h-1zM569 355h3v1h-3zM570 354h1v3h-1zM579 366h3v1h-3zM580 365h1v3h-1zM589 374h3v1h-3zM590 373h1v3h-1zM599 380h3v1h-3zM600 379h1v3h-1zM609 390h3v1h-3zM610 389h1v3h-1zM619 403h3v1h-3zM620 402h1v3h-1zM629 418h3v1h-3zM630 417h1v3h-1zM639 444h3v1h-3zM640 443h1v3h-1zM649 439h3v1h-3zM650 438h1v3h-1zM659 424h3v1h-3zM660 423h1v3h-1zM669 401h3v1h-3zM670 400h1v3h-1zM679 394h3v1h-3zM680 393h1v3h-1zM689 390h3v1h-3zM690 389h1v3h-1z" fill="#300870" stroke="none"/>
<polyline class="l" points="50.5,378.5 60.5,379.5 70.5,372.5 80.5,360.5 90.5,349.5 100.5,344.5 110.5,341.5 120.5,339.5 130.5,340.5 140.5,341.5 150.5,336.5 160.5,338.5 170.5,338.5 180.5,334.5 190.5,334.5 200.5,338.5 210.5,342.5 220.5,343.5 230.5,343.5 240.5,344.5 250.5,346.5 260.5,345.5 270.5,351.5 280.5,355.5 290.5,357.5 300.5,361.5 310.5,361.5 320.5,365.5 330.5,366.5 340.5,369.5 350.5,374.5 360.5,385.5 370.5,393.5 380.5,390.5 390.5,384.5 400.5,387.5 410.5,382.5 420.5,383.5 430.5,380.5 440.5,373.5 450.5,376.5 460.5,370.5 470.5,370.5 480.5,369.5 490.5,357.5 500.5,372.5 510.5,370.5 520.5,366.5 530.5,368.5 540.5,392.5 550.5,390.5 560.5,400.5 570.5,390.5 580.5,386.5 590.5,399.5 600.5,403.5 610.5,407.5 620.5,393.5 630.5,392.5 640.5,399.5 650.5,407.5 660.5,411.5 670.5,406.5 680.5,400.5 690.5,409.5" stroke="#f0d010" stroke-width="1"/><path d="M49 378h3v1h-3zM50 377h1v3h-1zM59 379h3v1h-3zM60 378h1v3h-1zM69 372h3v1h-3zM70 371h1v3h-1zM79 360h3v1h-3zM80 359h1v3h-1zM89 349h3v1h-3zM90 348h1v3h-1zM99 344h3v1h-3zM100 343h1v3h-1zM109 341h3v1h-3zM110 340h1v3h-1zM119 339h3v1h-3zM120 338h1v3h-1zM129 340h3v1h-3zM130 339h1v3h-1zM139 341h3v1h-3zM140 340h1v3h-1zM149 336h3v1h-3zM150 335h1v3h-1zM159 338h3v1h-3zM160 337h1v3h-1zM169 338h3v1h-3zM170 337h1v3h-1zM179 334h3v1h-3zM180 333h1v3h-1zM189 334h3v1h-3zM190 333h1v3h-1zM199 338h3v1h-3zM200 337h1v3h-1zM209 342h3v1h-3zM210 341h1v3h-1zM219 343h3v1h-3zM220 342h1v3h-1zM229 343h3v1h-3zM230 342h1v3h-1zM239 344h3v1h-3zM240 343h1v3h-1zM249 346h3v1h-3zM250 345h1v3h-1zM259 345h3v1h-3zM260 344h1v3h-1zM269 351h3v1h-3zM270 350h1v3h-1zM279 355h3v1h-3zM280 354h1v3h-1zM289 357h3v1h-3zM290 356h1v3h-1zM299 361h3v1h-3zM300 360h1v3h-1zM309 361h3v1h-3zM310 360h1v3h-1zM319 365h3v1h-3zM320 364h1v3h-1zM329 366h3v1h-3zM330 365h1v3h-1zM339 369h3v1h-3zM340 368h1v3h-1zM349 374h3v1h-3zM350 373h1v3h-1zM359 385h3v1h-3zM360 384h1v3h-1zM369 393h3v1h-3zM370 392h1v3h-1zM379 390h3v1h-3zM380 389h1v3h-1zM389 384h3v1h-3zM390 383h1v3h-1zM399 387h3v1h-3zM400 386h1v3h-1zM409 382h3v1h-3zM410 381h1v3h-1zM419 383h3v1h-3zM420 382h1v3h-1zM429 380h3v1h-3zM430 379h1v3h-1zM439 373h3v1h-3zM440 372h1v3h-1zM449 376h3v1h-3zM450 375h1v3h-1zM459 370h3v1h-3zM460 369h1v3h-1zM469 370h3v1h-3zM470 369h1v3h-1zM479 369h3v1h-3zM480 368h1v3h-1zM489 357h3v1h-3zM490 356h1v3h-1zM499 372h3v1h-3zM500 371h1v3h-1zM509 370h3v1h-3zM510 369h1v3h-1zM519 366h3v1h-3zM520 365h1v3h-1zM529 368h3v1h-3zM530 367h1v3h-1zM539 392h3v1h-3zM540 391h1v3h-1zM549 390h3v1h-3zM550 389h1v3h-1zM559 400h3v1h-3zM560 399h1v3h-1zM569 390h3v1h-3zM570 389h1v3h-1zM579 386h3v1h-3zM580 385h1v3h-1zM589 399h3v1h-3zM590 398h1v3h-1zM599 403h3v1h-3zM600 402h1v3h-1zM609 407h3v1h-3zM610 406h1v3h-1zM619 393h3v1h-3zM620 392h1v3h-1zM629 392h3v1h-3zM630 391h1v3h-1zM639 399h3v1h-3zM640 398h1v3h-1zM649 407h3v1h-3zM650 406h1v3h-1zM659 411h3v1h-3zM660 410h1v3h-1zM669 406h3v1h-3zM670 405h1v3h-1zM679 400h3v1h-3zM680 399h1v3h-1zM689 409h3v1h-3zM690 408h1v3h-1z" fill="#f0d010" stroke="none"/>
<polyline class="l" points="50.5,375.5 60.5,377.5 70.5,370.5 80.5,358.5 90.5,349.5 100.5,342.5 110.5,338.5 120.5,336.5 130.5,338.5 140.5,337.5 150.5,335.5 160.5,337.5 170.5,333.5 180.5,329.5 190.5,330.5 200.5,334.5 210.5,334.5 220.5,335.5 230.5,336.5 240.5,341.5 250.5,342.5 260.5,345.5 270.5,347.5 280.5,347.5 290.5,350.5 300.5,353.5 310.5,357.5 320.5,360.5 330.5,363.5 340.5,366.5 350.5,371.5 360.5,370.5 370.5,374.5 380.5,369.5 390.5,373.5 400.5,377.5 410.5,374.5 420.5,368.5 430.5,366.5 440.5,362.5 450.5,365.5 460.5,364.5 470.5,359.5 480.5,366.5 490.5,367.5 500.5,361.5 510.5,359.5 520.5,366.5 530.5,362.5 540.5,367.5 550.5,368.5 560.5,369.5 570.5,376.5 580.5,389.5 590.5,388.5 600.5,386.5 610.5,375.5 620.5,380.5 630.5,390.5 640.5,388.5 650.5,402.5 660.5,396.5 670.5,389.5 680.5,392.5 690.5,410.5" stroke="#2060a0" stroke-width="1"/><path d="M49 375h3v1h-3zM50 374h1v3h-1zM59 377h3v1h-3zM60 376h1v3h-1zM69 370h3v1h-3zM70 369h1v3h-1zM79 358h3v1h-3zM80 357h1v3h-1zM89 349h3v1h-3zM90 348h1v3h-1zM99 342h3v1h-3zM100 341h1v3h-1zM109 338h3v1h-3zM110 337h1v3h-1zM119 336h3v1h-3zM120 335h1v3h-1zM129 338h3v1h-3zM130 337h1v3h-1zM139 337h3v1h-3zM140 336h1v3h-1zM149 335h3v1h-3zM150 334h1v3h-1zM159 337h3v1h-3zM160 336h1v3h-1zM169 333h3v1h-3zM170 332h1v3h-1zM179 329h3v1h-3zM180 328h1v3h-1zM189 330h3v1h-3zM190 329h1v3h-1zM199 334h3v1h-3zM200 333h1v3h-1zM209 334h3v1h-3zM210 333h1v3h-1zM219 335h3v1h-3zM220 334h1v3h-1zM229 336h3v1h-3zM230 335h1v3h-1zM239 341h3v1h-3zM240 340h1v3h-1zM249 342h3v1h-3zM250 341h1v3h-1zM259 345h3v1h-3zM260 344h1v3h-1zM269 347h3v1h-3zM270 346h1v3h-1zM279 347h3v1h-3zM280 346h1v3h-1zM289 350h3v1h-3zM290 349h1v3h-1zM299 353h3v1h-3zM300 352h1v3h-1zM309 357h3v1h-3zM310 356h1v3h-1zM319 360h3v1h-3zM320 359h1v3h-1zM329 363h3v1h-3zM330 362h1v3h-1zM339 366h3v1h-3zM340 365h1v3h-1zM349 371h3v1h-3zM350 370h1v3h-1zM359 370h3v1h-3zM360 369h1v3h-1zM369 374h3v1h-3zM370 373h1v3h-1zM379 369h3v1h-3zM380 368h1v3h-1zM389 373h3v1h-3zM390 372h1v3h-1zM399 377h3v1h-3zM400 376h1v3h-1zM409 374h3v1h-3zM410 373h1v3h-1zM419 368h3v1h-3zM420 367h1v3h-1zM429 366h3v1h-3zM430 365h1v3h-1zM439 362h3v1h-3zM440 361h1v3h-1zM449 365h3v1h-3zM450 364h1v3h-1zM459 364h3v1h-3zM460 363h1v3h-1zM469 359h3v1h-3zM470 358h1v3h-1zM479 366h3v1h-3zM480 365h1v3h-1zM489 367h3v1h-3zM490 366h1v3h-1zM499 361h3v1h-3zM500 360h1v3h-1zM509 359h3v1h-3zM510 358h1v3h-1zM519 366h3v1h-3zM520 365h1v3h-1zM529 362h3v1h-3zM530 361h1v3h-1zM539 367h3v1h-3zM540 366h1v3h-1zM549 368h3v1h-3zM550 367h1v3h-1zM559 369h3v1h-3zM560 368h1v3h-1zM569 376h3v1h-3zM570 375h1v3h-1zM579 389h3v1h-3zM580 388h1v3h-1zM589 388h3v1h-3zM590 387h1v3h-1zM599 386h3v1h-3zM600 385h1v3h-1zM609 375h3v1h-3zM610 374h1v3h-1zM619 380h3v1h-3zM620 379h1v3h-1zM629 390h3v1h-3zM630 389h1v3h-1zM639 388h3v1h-3zM640 387h1v3h-1zM649 402h3v1h-3zM650 401h1v3h-1zM659 396h3v1h-3zM660 395h1v3h-1zM669 389h3v1h-3zM670 388h1v3h-1zM679 392h3v1h-3zM680 391h1v3h-1zM689 410h3v1h-3zM690 409h1v3h-1z" fill="#2060a0" stroke="none"/>
<polyline class="l" points="50.5,375.5 60.5,374.5 70.5,369.5 80.5,357.5 90.5,345.5 100.5,342.5 110.5,341.5 120.5,338.5 130.5,336.5 140.5,334.5 150.5,329.5 160.5,333.5 170.5,330.5 180.5,329.5 190.5,331.5 200.5,334.5 210.5,332.5 220.5,336.5 230.5,338.5 240.5,340.5 250.5,341.5 260.5,344.5 270.5,342.5 280.5,349.5 290.5,354.5 300.5,361.5 310.5,362.5 320.5,363.5 330.5,363.5 340.5,365.5 350.5,369.5 360.5,372.5 370.5,376.5 380.5,367.5 390.5,364.5 400.5,366.5 410.5,351.5 420.5,345.5 430.5,341.5 440.5,336.5 450.5,332.5 460.5,335.5 470.5,340.5 480.5,352.5 490.5,350.5 500.5,357.5 510.5,365.5 520.5,357.5 530.5,357.5 540.5,352.5 550.5,344.5 560.5,350.5 570.5,360.5 580.5,363.5 590.5,368.5 600.5,370.5 610.5,381.5 620.5,382.5 630.5,385.5 640.5,380.5 650.5,384.5 660.5,386.5 670.5,390.5 680.5,396.5 690.5,405.5" stroke="#905820" stroke-width="1"/><path d="M49 375h3v1h-3zM50 374h1v3h-1zM59 374h3v1h-3zM60 373h1v3h-1zM69 369h3v1h-3zM70 368h1v3h-1zM79 357h3v1h-3zM80 356h1v3h-1zM89 345h3v1h-3zM90 344h1v3h-1zM99 342h3v1h-3zM100 341h1v3h-1zM109 341h3v1h-3zM110 340h1v3h-1zM119 338h3v1h-3zM120 337h1v3h-1zM129 336h3v1h-3zM130 335h1v3h-1zM139 334h3v1h-3zM140 333h1v3h-1zM149 329h3v1h-3zM150 328h1v3h-1zM159 333h3v1h-3zM160 332h1v3h-1zM169 330h3v1h-3zM170 329h1v3h-1zM179 329h3v1h-3zM180 328h1v3h-1zM189 331h3v1h-3zM190 330h1v3h-1zM199 334h3v1h-3zM200 333h1v3h-1zM209 332h3v1h-3zM210 331h1v3h-1zM219 336h3v1h-3zM220 335h1v3h-1zM229 338h3v1h-3zM230 337h1v3h-1zM239 340h3v1h-3zM240 339h1v3h-1zM249 341h3v1h-3zM250 340h1v3h-1zM259 344h3v1h-3zM260 343h1v3h-1zM269 342h3v1h-3zM270 341h1v3h-1zM279 349h3v1h-3zM280 348h1v3h-1zM289 354h3v1h-3zM290 353h1v3h-1zM299 361h3v1h-3zM300 360h1v3h-1zM309 362h3v1h-3zM310 361h1v3h-1zM319 363h3v1h-3zM320 362h1v3h-1zM329 363h3v1h-3zM330 362h1v3h-1zM339 365h3v1h-3zM340 364h1v3h-1zM349 369h3v1h-3zM350 368h1v3h-1zM359 372h3v1h-3zM360 371h1v3h-1zM369 376h3v1h-3zM370 375h1v3h-1zM379 367h3v1h-3zM380 366h1v3h-1zM389 364h3v1h-3zM390 363h1v3h-1zM399 366h3v1h-3zM400 365h1v3h-1zM409 351h3v1h-3zM410 350h1v3h-1zM419 345h3v1h-3zM420 344h1v3h-1zM429 341h3v1h-3zM430 340h1v3h-1zM439 336h3v1h-3zM440 335h1v3h-1zM449 332h3v1h-3zM450 331h1v3h-1zM459 335h3v1h-3zM460 334h1v3h-1zM469 340h3v1h-3zM470 339h1v3h-1zM479 352h3v1h-3zM480 351h1v3h-1zM489 350h3v1h-3zM490 349h1v3h-1zM499 357h3v1h-3zM500 356h1v3h-1zM509 365h3v1h-3zM510 364h1v3h-1zM519 357h3v1h-3zM520 356h1v3h-1zM529 357h3v1h-3zM530 356h1v3h-1zM539 352h3v1h-3zM540 351h1v3h-1zM549 344h3v1h-3zM550 343h1v3h-1zM559 350h3v1h-3zM560 349h1v3h-1zM569 360h3v1h-3zM570 359h1v3h-1zM579 363h3v1h-3zM580 362h1v3h-1zM589 368h3v1h-3zM590 367h1v3h-1zM599 370h3v1h-3zM600 369h1v3h-1zM609 381h3v1h-3zM610 380h1v3h-1zM619 382h3v1h-3zM620 381h1v3h-1zM629 385h3v1h-3zM630 384h1v3h-1zM639 380h3v1h-3zM640 379h1v3h-1zM649 384h3v1h-3zM650 383h1v3h-1zM659 386h3v1h-3zM660 385h1v3h-1zM669 390h3v1h-3zM670 389h1v3h-1zM679 396h3v1h-3zM680 395h1v3h-1zM689 405h3v1h-3zM690 404h1v3h-1z" fill="#905820" stroke="none"/>
<polyline class="l" points="50.5,380.5 60.5,377.5 70.5,370.5 80.5,358.5 90.5,349.5 100.5,343.5 110.5,340.5 120.5,338.5 130.5,338.5 140.5,339.5 150.5,338.5 160.5,335.5 170.5,333.5 180.5,330.5 190.5,332.5 200.5,339.5 210.5,344.5 220.5,352.5 230.5,355.5 240.5,356.5 250.5,355.5 260.5,356.5 270.5,352.5 280.5,353.5 290.5,354.5 300.5,359.5 310.5,367.5 320.5,373.5 330.5,386.5 340.5,393.5 350.5,383.5 360.5,384.5 370.5,384.5 380.5,387.5 390.5,386.5 400.5,382.5 410.5,383.5 420.5,392.5 430.5,394.5 440.5,375.5 450.5,376.5 460.5,393.5 470.5,380.5 480.5,394.5 490.5,387.5 500.5,377.5 510.5,367.5 520.5,335.5 530.5,327.5 540.5,320.5 550.5,329.5 560.5,330.5 570.5,329.5 580.5,334.5 590.5,337.5 600.5,340.5 610.5,341.5 620.5,372.5 630.5,394.5 640.5,408.5 650.5,405.5 660.5,387.5 670.5,400.5 680.5,414.5 690.5,416.5" stroke="#9888e8" stroke-width="1"/><path d="M49 380h3v1h-3zM50 379h1v3h-1zM59 377h3v1h-3zM60 376h1v3h-1zM69 370h3v1h-3zM70 369h1v3h-1zM79 358h3v1h-3zM80 357h1v3h-1zM89 349h3v1h-3zM90 348h1v3h-1zM99 343h3v1h-3zM100 342h1v3h-1zM109 340h3v1h-3zM110 339h1v3h-1zM119 338h3v1h-3zM120 337h1v3h-1zM129 338h3v1h-3zM130 337h1v3h-1zM139 339h3v1h-3zM140 338h1v3h-1zM149 338h3v1h-3zM150 337h1v3h-1zM159 335h3v1h-3zM160 334h1v3h-1zM169 333h3v1h-3zM170 332h1v3h-1zM179 330h3v1h-3zM180 329h1v3h-1zM189 332h3v1h-3zM190 331h1v3h-1zM199 339h3v1h-3zM200 338h1v3h-1zM209 344h3v1h-3zM210 343h1v3h-1zM219 352h3v1h-3zM220 351h1v3h-1zM229 355h3v1h-3zM230 354h1v3h-1zM239 356h3v1h-3zM240 355h1v3h-1zM249 355h3v1h-3zM250 354h1v3h-1zM259 356h3v1h-3zM260 355h1v3h-1zM269 352h3v1h-3zM270 351h1v3h-1zM279 353h3v1h-3zM280 352h1v3h-1zM289 354h3v1h-3zM290 353h1v3h-1zM299 359h3v1h-3zM300 358h1v3h-1zM309 367h3v1h-3zM310 366h1v3h-1zM319 373h3v1h-3zM320 372h1v3h-1zM329 386h3v1h-3zM330 385h1v3h-1zM339 393h3v1h-3zM340 392h1v3h-1zM349 383h3v1h-3zM350 382h1v3h-1zM359 384h3v1h-3zM360 383h1v3h-1zM369 384h3v1h-3zM370 383h1v3h-1zM379 387h3v1h-3zM380 386h1v3h-1zM389 386h3v1h-3zM390 385h1v3h-1zM399 382h3v1h-3zM400 381h1v3h-1zM409 383h3v1h-3zM410 382h1v3h-1zM419 392h3v1h-3zM420 391h1v3h-1zM429 394h3v1h-3zM430 393h1v3h-1zM439 375h3v1h-3zM440 374h1v3h-1zM449 376h3v1h-3zM450 375h1v3h-1zM459 393h3v1h-3zM460 392h1v3h-1zM469 380h3v1h-3zM470 379h1v3h-1zM479 394h3v1h-3zM480 393h1v3h-1zM489 387h3v1h-3zM490 386h1v3h-1zM499 377h3v1h-3zM500 376h1v3h-1zM509 367h3v1h-3zM510 366h1v3h-1zM519 335h3v1h-3zM520 334h1v3h-1zM529 327h3v1h-3zM530 326h1v3h-1zM539 320h3v1h-3zM540 319h1v3h-1zM549 329h3v1h-3zM550 328h1v3h-1zM559 330h3v1h-3zM560 329h1v3h-1zM569 329h3v1h-3zM570 328h1v3h-1zM579 334h3v1h-3zM580 333h1v3h-1zM589 337h3v1h-3zM590 336h1v3h-1zM599 340h3v1h-3zM600 339h1v3h-1zM609 341h3v1h-3zM610 340h1v3h-1zM619 372h3v1h-3zM620 371h1v3h-1zM629 394h3v1h-3zM630 393h1v3h-1zM639 408h3v1h-3zM640 407h1v3h-1zM649 405h3v1h-3zM650 404h1v3h-1zM659 387h3v1h-3zM660 386h1v3h-1zM669 400h3v1h-3zM670 399h1v3h-1zM679 414h3v1h-3zM680 413h1v3h-1zM689 416h3v1h-3zM690 415h1v3h-1z" fill="#9888e8" stroke="none"/>
<polyline class="l" points="50.5,379.5 60.5,377.5 70.5,372.5 80.5,360.5 90.5,348.5 100.5,343.5 110.5,338.5 120.5,336.5 130.5,336.5 140.5,335.5 150.5,334.5 160.5,334.5 170.5,332.5 180.5,329.5 190.5,329.5 200.5,329.5 210.5,332.5 220.5,333.5 230.5,337.5 240.5,340.5 250.5,341.5 260.5,347.5 270.5,349.5 280.5,351.5 290.5,354.5 300.5,360.5 310.5,362.5 320.5,362.5 330.5,365.5 340.5,369.5 350.5,373.5 360.5,384.5 370.5,388.5 380.5,380.5 390.5,379.5 400.5,370.5 410.5,360.5 420.5,354.5 430.5,341.5 440.5,334.5 450.5,341.5 460.5,356.5 470.5,362.5 480.5,363.5 490.5,367.5 500.5,372.5 510.5,369.5 520.5,369.5 530.5,375.5 540.5,369.5 550.5,368.5 560.5,362.5 570.5,352.5 580.5,356.5 590.5,356.5 600.5,360.5 610.5,369.5 620.5,392.5 630.5,401.5 640.5,414.5 650.5,433.5 660.5,428.5 670.5,408.5 680.5,398.5 690.5,392.5" stroke="#a0f040" stroke-width="1"/><path d="M49 379h3v1h-3zM50 378h1v3h-1zM59 377h3v1h-3zM60 376h1v3h-1zM69 372h3v1h-3zM70 371h1v3h-1zM79 360h3v1h-3zM80 359h1v3h-1zM89 348h3v1h-3zM90 347h1v3h-1zM99 343h3v1h-3zM100 342h1v3h-1zM109 338h3v1h-3zM110 337h1v3h-1zM119 336h3v1h-3zM120 335h1v3h-1zM129 336h3v1h-3zM130 335h1v3h-1zM139 335h3v1h-3zM140 334h1v3h-1zM149 334h3v1h-3zM150 333h1v3h-1zM159 334h3v1h-3zM160 333h1v3h-1zM169 332h3v1h-3zM170 331h1v3h-1zM179 329h3v1h-3zM180 328h1v3h-1zM189 329h3v1h-3zM190 328h1v3h-1zM199 329h3v1h-3zM200 328h1v3h-1zM209 332h3v1h-3zM210 331h1v3h-1zM219 333h3v1h-3zM220 332h1v3h-1zM229 337h3v1h-3zM230 336h1v3h-1zM239 340h3v1h-3zM240 339h1v3h-1zM249 341h3v1h-3zM250 340h1v3h-1zM259 347h3v1h-3zM260 346h1v3h-1zM269 349h3v1h-3zM270 348h1v3h-1zM279 351h3v1h-3zM280 350h1v3h-1zM289 354h3v1h-3zM290 353h1v3h-1zM299 360h3v1h-3zM300 359h1v3h-1zM309 362h3v1h-3zM310 361h1v3h-1zM319 362h3v1h-3zM320 361h1v3h-1zM329 365h3v1h-3zM330 364h1v3h-1zM339 369h3v1h-3zM340 368h1v3h-1zM349 373h3v1h-3zM350 372h1v3h-1zM359 384h3v1h-3zM360 383h1v3h-1zM369 388h3v1h-3zM370 387h1v3h-1zM379 380h3v1h-3zM380 379h1v3h-1zM389 379h3v1h-3zM390 378h1v3h-1zM399 370h3v1h-3zM400 369h1v3h-1zM409 360h3v1h-3zM410 359h1v3h-1zM419 354h3v1h-3zM420 353h1v3h-1zM429 341h3v1h-3zM430 340h1v3h-1zM439 334h3v1h-3zM440 333h1v3h-1zM449 341h3v1h-3zM450 340h1v3h-1zM459 356h3v1h-3zM460 355h1v3h-1zM469 362h3v1h-3zM470 361h1v3h-1zM479 363h3v1h-3zM480 362h1v3h-1zM489 367h3v1h-3zM490 366h1v3h-1zM499 372h3v1h-3zM500 371h1v3h-1zM509 369h3v1h-3zM510 368h1v3h-1zM519 369h3v1h-3zM520 368h1v3h-1zM529 375h3v1h-3zM530 374h1v3h-1zM539 369h3v1h-3zM540 368h1v3h-1zM549 368h3v1h-3zM550 367h1v3h-1zM559 362h3v1h-3zM560 361h1v3h-1zM569 352h3v1h-3zM570 351h1v3h-1zM579 356h3v1h-3zM580 355h1v3h-1zM589 356h3v1h-3zM590 355h1v3h-1zM599 360h3v1h-3zM600 359h1v3h-1zM609 369h3v1h-3zM610 368h1v3h-1zM619 392h3v1h-3zM620 391h1v3h-1zM629 401h3v1h-3zM630 400h1v3h-1zM639 414h3v1h-3zM640 413h1v3h-1zM649 433h3v1h-3zM650 432h1v3h-1zM659 428h3v1h-3zM660 427h1v3h-1zM669 408h3v1h-3zM670 407h1v3h-1zM679 398h3v1h-3zM680 397h1v3h-1zM689 392h3v1h-3zM690 391h1v3h-1z" fill="#a0f040" stroke="none"/>
<polyline class="l" points="50.5,378.5 60.5,377.5 70.5,373.5 80.5,361.5 90.5,350.5 100.5,344.5 110.5,341.5 120.5,340.5 130.5,339.5 140.5,340.5 150.5,337.5 160.5,335.5 170.5,335.5 180.5,330.5 190.5,331.5 200.5,332.5 210.5,340.5 220.5,343.5 230.5,345.5 240.5,350.5 250.5,349.5 260.5,348.5 270.5,348.5 280.5,356.5 290.5,360.5 300.5,369.5 310.5,371.5 320.5,381.5 330.5,388.5 340.5,385.5 350.5,391.5 360.5,401.5 370.5,401.5 380.5,389.5 390.5,397.5 400.5,395.5 410.5,391.5 420.5,392.5 430.5,391.5 440.5,371.5 450.5,369.5 460.5,378.5 470.5,377.5 480.5,386.5 490.5,380.5 500.5,385.5 510.5,391.5 520.5,399.5 530.5,398.5 540.5,394.5 550.5,390.5 560.5,378.5 570.5,376.5 580.5,374.5 590.5,375.5 600.5,381.5 610.5,392.5 620.5,377.5 630.5,376.5 640.5,372.5 650.5,376.5 660.5,373.5 670.5,379.5 680.5,379.5 690.5,377.5" stroke="#d070d0" stroke-width="1"/><path d="M49 378h3v1h-3zM50 377h1v3h-1zM59 377h3v1h-3zM60 376h1v3h-1zM69 373h3v1h-3zM70 372h1v3h-1zM79 361h3v1h-3zM80 360h1v3h-1zM89 350h3v1h-3zM90 349h1v3h-1zM99 344h3v1h-3zM100 343h1v3h-1zM109 341h3v1h-3zM110 340h1v3h-1zM119 340h3v1h-3zM120 339h1v3h-1zM129 339h3v1h-3zM130 338h1v3h-1zM139 340h3v1h-3zM140 339h1v3h-1zM149 337h3v1h-3zM150 336h1v3h-1zM159 335h3v1h-3zM160 334h1v3h-1zM169 335h3v1h-3zM170 334h1v3h-1zM179 330h3v1h-3zM180 329h1v3h-1zM189 331h3v1h-3zM190 330h1v3h-1zM199 332h3v1h-3zM200 331h1v3h-1zM209 340h3v1h-3zM210 339h1v3h-1zM219 343h3v1h-3zM220 342h1v3h-1zM229 345h3v1h-3zM230 344h1v3h-1zM239 350h3v1h-3zM240 349h1v3h-1zM249 349h3v1h-3zM250 348h1v3h-1zM259 348h3v1h-3zM260 347h1v3h-1zM269 348h3v1h-3zM270 347h1v3h-1zM279 356h3v1h-3zM280 355h1v3h-1zM289 360h3v1h-3zM290 359h1v3h-1zM299 369h3v1h-3zM300 368h1v3h-1zM309 371h3v1h-3zM310 370h1v3h-1zM319 381h3v1h-3zM320 380h1v3h-1zM329 388h3v1h-3zM330 387h1v3h-1zM339 385h3v1h-3zM340 384h1v3h-1zM349 391h3v1h-3zM350 390h1v3h-1zM359 401h3v1h-3zM360 400h1v3h-1zM369 401h3v1h-3zM370 400h1v3h-1zM379 389h3v1h-3zM380 388h1v3h-1zM389 397h3v1h-3zM390 396h1v3h-1zM399 395h3v1h-3zM400 394h1v3h-1zM409 391h3v1h-3zM410 390h1v3h-1zM419 392h3v1h-3zM420 391h1v3h-1zM429 391h3v1h-3zM430 390h1v3h-1zM439 371h3v1h-3zM440 370h1v3h-1zM449 369h3v1h-3zM450 368h1v3h-1zM459 378h3v1h-3zM460 377h1v3h-1zM469 377h3v1h-3zM470 376h1v3h-1zM479 386h3v1h-3zM480 385h1v3h-1zM489 380h3v1h-3zM490 379h1v3h-1zM499 385h3v1h-3zM500 384h1v3h-1zM509 391h3v1h-3zM510 390h1v3h-1zM519 399h3v1h-3zM520 398h1v3h-1zM529 398h3v1h-3zM530 397h1v3h-1zM539 394h3v1h-3zM540 393h1v3h-1zM549 390h3v1h-3zM550 389h1v3h-1zM559 378h3v1h-3zM560 377h1v3h-1zM569 376h3v1h-3zM570 375h1v3h-1zM579 374h3v1h-3zM580 373h1v3h-1zM589 375h3v1h-3zM590 374h1v3h-1zM599 381h3v1h-3zM600 380h1v3h-1zM609 392h3v1h-3zM610 391h1v3h-1zM619 377h3v1h-3zM620 376h1v3h-1zM629 376h3v1h-3zM630 375h1v3h-1zM639 372h3v1h-3zM640 371h1v3h-1zM649 376h3v1h-3zM650 375h1v3h-1zM659 373h3v1h-3zM660 372h1v3h-1zM669 379h3v1h-3zM670 378h1v3h-1zM679 379h3v1h-3zM680 378h1v3h-1zM689 377h3v1h-3zM690 376h1v3h-1z" fill="#d070d0" stroke="none"/>
<polyline class="l" points="50.5,373.5 60.5,373.5 70.5,367.5 80.5,354.5 90.5,345.5 100.5,337.5 110.5,334.5 120.5,333.5 130.5,333.5 140.5,332.5 150.5,331.5 160.5,329.5 170.5,328.5 180.5,330.5 190.5,328.5 200.5,328.5 210.5,331.5 220.5,333.5 230.5,335.5 240.5,337.5 250.5,338.5 260.5,343.5 270.5,347.5 280.5,355.5 290.5,349.5 300.5,352.5 310.5,351.5 320.5,356.5 330.5,360.5 340.5,361.5 350.5,367.5 360.5,369.5 370.5,364.5 380.5,366.5 390.5,363.5 400.5,362.5 410.5,354.5 420.5,350.5 430.5,358.5 440.5,357.5 450.5,362.5 460.5,362.5 470.5,353.5 480.5,371.5 490.5,364.5 500.5,348.5 510.5,359.5 520.5,364.5 530.5,370.5 540.5,370.5 550.5,362.5 560.5,369.5 570.5,371.5 580.5,375.5 590.5,372.5 600.5,377.5 610.5,377.5 620.5,378.5 630.5,372.5 640.5,373.5 650.5,365.5 660.5,369.5 670.5,352.5 680.5,380.5 690.5,383.5" stroke="#2000a0" stroke-width="1"/><path d="M49 373h3v1h-3zM50 372h1v3h-1zM59 373h3v1h-3zM60 372h1v3h-1zM69 367h3v1h-3zM70 366h1v3h-1zM79 354h3v1h-3zM80 353h1v3h-1zM89 345h3v1h-3zM90 344h1v3h-1zM99 337h3v1h-3zM100 336h1v3h-1zM109 334h3v1h-3zM110 333h1v3h-1zM119 333h3v1h-3zM120 332h1v3h-1zM129 333h3v1h-3zM130 332h1v3h-1zM139 332h3v1h-3zM140 331h1v3h-1zM149 331h3v1h-3zM150 330h1v3h-1zM159 329h3v1h-3zM160 328h1v3h-1zM169 328h3v1h-3zM170 327h1v3h-1zM179 330h3v1h-3zM180 329h1v3h-1zM189 328h3v1h-3zM190 327h1v3h-1zM199 328h3v1h-3zM200 327h1v3h-1zM209 331h3v1h-3zM210 330h1v3h-1zM219 333h3v1h-3zM220 332h1v3h-1zM229 335h3v1h-3zM230 334h1v3h-1zM239 337h3v1h-3zM240 336h1v3h-1zM249 338h3v1h-3zM250 337h1v3h-1zM259 343h3v1h-3zM260 342h1v3h-1zM269 347h3v1h-3zM270 346h1v3h-1zM279 355h3v1h-3zM280 354h1v3h-1zM289 349h3v1h-3zM290 348h1v3h-1zM299 352h3v1h-3zM300 351h1v3h-1zM309 351h3v1h-3zM310 350h1v3h-1zM319 356h3v1h-3zM320 355h1v3h-1zM329 360h3v1h-3zM330 359h1v3h-1zM339 361h3v1h-3zM340 360h1v3h-1zM349 367h3v1h-3zM350 366h1v3h-1zM359 369h3v1h-3zM360 368h1v3h-1zM369 364h3v1h-3zM370 363h1v3h-1zM379 366h3v1h-3zM380 365h1v3h-1zM389 363h3v1h-3zM390 362h1v3h-1zM399 362h3v1h-3zM400 361h1v3h-1zM409 354h3v1h-3zM410 353h1v3h-1zM419 350h3v1h-3zM420 349h1v3h-1zM429 358h3v1h-3zM430 357h1v3h-1zM439 357h3v1h-3zM440 356h1v3h-1zM449 362h3v1h-3zM450 361h1v3h-1zM459 362h3v1h-3zM460 361h1v3h-1zM469 353h3v1h-3zM470 352h1v3h-1zM479 371h3v1h-3zM480 370h1v3h-1zM489 364h3v1h-3zM490 363h1v3h-1zM499 348h3v1h-3zM500 347h1v3h-1zM509 359h3v1h-3zM510 358h1v3h-1zM519 364h3v1h-3zM520 363h1v3h-1zM529 370h3v1h-3zM530 369h1v3h-1zM539 370h3v1h-3zM540 369h1v3h-1zM549 362h3v1h-3zM550 361h1v3h-1zM559 369h3v1h-3zM560 368h1v3h-1zM569 371h3v1h-3zM570 370h1v3h-1zM579 375h3v1h-3zM580 374h1v3h-1zM589 372h3v1h-3zM590 371h1v3h-1zM599 377h3v1h-3zM600 376h1v3h-1zM609 377h3v1h-3zM610 376h1v3h-1zM619 378h3v1h-3zM620 377h1v3h-1zM629 372h3v1h-3zM630 371h1v3h-1zM639 373h3v1h-3zM640 372h1v3h-1zM649 365h3v1h-3zM650 364h1v3h-1zM659 369h3v1h-3zM660 368h1v3h-1zM669 352h3v1h-3zM670 351h1v3h-1zM679 380h3v1h-3zM680 379h1v3h-1zM689 383h3v1h-3zM690 382h1v3h-1z" fill="#2000a0" stroke="none"/>
<polyline class="l" points="50.5,376.5 60.5,376.5 70.5,369.5 80.5,358.5 90.5,349.5 100.5,342.5 110.5,339.5 120.5,335.5 130.5,336.5 140.5,335.5 150.5,335.5 160.5,329.5 170.5,329.5 180.5,328.5 190.5,330.5 200.5,331.5 210.5,330.5 220.5,334.5 230.5,340.5 240.5,341.5 250.5,346.5 260.5,346.5 270.5,347.5 280.5,348.5 290.5,356.5 300.5,359.5 310.5,365.5 320.5,368.5 330.5,371.5 340.5,373.5 350.5,372.5 360.5,374.5 370.5,375.5 380.5,377.5 390.5,376.5 400.5,372.5 410.5,376.5 420.5,362.5 430.5,370.5 440.5,368.5 450.5,367.5 460.5,374.5 470.5,367.5 480.5,363.5 490.5,364.5 500.5,348.5 510.5,359.5 520.5,353.5 530.5,356.5 540.5,360.5 550.5,361.5 560.5,366.5 570.5,369.5 580.5,367.5 590.5,367.5 600.5,362.5 610.5,368.5 620.5,366.5 630.5,367.5 640.5,373.5 650.5,372.5 660.5,376.5 670.5,371.5 680.5,361.5 690.5,367.5" stroke="#e0c8a0" stroke-width="1"/><path d="M49 376h3v1h-3zM50 375h1v3h-1zM59 376h3v1h-3zM60 375h1v3h-1zM69 369h3v1h-3zM70 368h1v3h-1zM79 358h3v1h-3zM80 357h1v3h-1zM89 349h3v1h-3zM90 348h1v3h-1zM99 342h3v1h-3zM100 341h1v3h-1zM109 339h3v1h-3zM110 338h1v3h-1zM119 335h3v1h-3zM120 334h1v3h-1zM129 336h3v1h-3zM130 335h1v3h-1zM139 335h3v1h-3zM140 334h1v3h-1zM149 335h3v1h-3zM150 334h1v3h-1zM159 329h3v1h-3zM160 328h1v3h-1zM169 329h3v1h-3zM170 328h1v3h-1zM179 328h3v1h-3zM180 327h1v3h-1zM189 330h3v1h-3zM190 329h1v3h-1zM199 331h3v1h-3zM200 330h1v3h-1zM209 330h3v1h-3zM210 329h1v3h-1zM219 334h3v1h-3zM220 333h1v3h-1zM229 340h3v1h-3zM230 339h1v3h-1zM239 341h3v1h-3zM240 340h1v3h-1zM249 346h3v1h-3zM250 345h1v3h-1zM259 346h3v1h-3zM260 345h1v3h-1zM269 347h3v1h-3zM270 346h1v3h-1zM279 348h3v1h-3zM280 347h1v3h-1zM289 356h3v1h-3zM290 355h1v3h-1zM299 359h3v1h-3zM300 358h1v3h-1zM309 365h3v1h-3zM310 364h1v3h-1zM319 368h3v1h-3zM320 367h1v3h-1zM329 371h3v1h-3zM330 370h1v3h-1zM339 373h3v1h-3zM340 372h1v3h-1zM349 372h3v1h-3zM350 371h1v3h-1zM359 374h3v1h-3zM360 373h1v3h-1zM369 375h3v1h-3zM370 374h1v3h-1zM379 377h3v1h-3zM380 376h1v3h-1zM389 376h3v1h-3zM390 375h1v3h-1zM399 372h3v1h-3zM400 371h1v3h-1zM409 376h3v1h-3zM410 375h1v3h-1zM419 362h3v1h-3zM420 361h1v3h-1zM429 370h3v1h-3zM430 369h1v3h-1zM439 368h3v1h-3zM440 367h1v3h-1zM449 367h3v1h-3zM450 366h1v3h-1zM459 374h3v1h-3zM460 373h1v3h-1zM469 367h3v1h-3zM470 366h1v3h-1zM479 363h3v1h-3zM480 362h1v3h-1zM489 364h3v1h-3zM490 363h1v3h-1zM499 348h3v1h-3zM500 347h1v3h-1zM509 359h3v1h-3zM510 358h1v3h-1zM519 353h3v1h-3zM520 352h1v3h-1zM529 356h3v1h-3zM530 355h1v3h-1zM539 360h3v1h-3zM540 359h1v3h-1zM549 361h3v1h-3zM550 360h1v3h-1zM559 366h3v1h-3zM560 365h1v3h-1zM569 369h3v1h-3zM570 368h1v3h-1zM579 367h3v1h-3zM580 366h1v3h-1zM589 367h3v1h-3zM590 366h1v3h-1zM599 362h3v1h-3zM600 361h1v3h-1zM609 368h3v1h-3zM610 367h1v3h-1zM619 366h3v1h-3zM620 365h1v3h-1zM629 367h3v1h-3zM630 366h1v3h-1zM639 373h3v1h-3zM640 372h1v3h-1zM649 372h3v1h-3zM650 371h1v3h-1zM659 376h3v1h-3zM660 375h1v3h-1zM669 371h3v1h-3zM670 370h1v3h-1zM679 361h3v1h-3zM680 360h1v3h-1zM689 367h3v1h-3zM690 366h1v3h-1z" fill="#e0c8a0" stroke="none"/>
<polyline class="l" points="50.5,379.5 60.5,380.5 70.5,376.5 80.5,364.5 90.5,353.5 100.5,345.5 110.5,343.5 120.5,343.5 130.5,342.5 140.5,343.5 150.5,341.5 160.5,340.5 170.5,340.5 180.5,338.5 190.5,340.5 200.5,338.5 210.5,342.5 220.5,342.5 230.5,344.5 240.5,342.5 250.5,350.5 260.5,352.5 270.5,359.5 280.5,360.5 290.5,364.5 300.5,366.5 310.5,366.5 320.5,369.5 330.5,368.5 340.5,370.5 350.5,376.5 360.5,382.5 370.5,387.5 380.5,383.5 390.5,389.5 400.5,383.5 410.5,379.5 420.5,380.5 430.5,383.5 440.5,374.5 450.5,371.5 460.5,375.5 470.5,380.5 480.5,371.5 490.5,368.5 500.5,355.5 510.5,360.5 520.5,368.5 530.5,372.5 540.5,367.5 550.5,356.5 560.5,367.5 570.5,363.5 580.5,358.5 590.5,357.5 600.5,370.5 610.5,369.5 620.5,375.5 630.5,377.5 640.5,381.5 650.5,384.5 660.5,386.5 670.5,384.5 680.5,389.5 690.5,388.5" stroke="#880010" stroke-width="1"/><path d="M49 379h3v1h-3zM50 378h1v3h-1zM59 380h3v1h-3zM60 379h1v3h-1zM69 376h3v1h-3zM70 375h1v3h-1zM79 364h3v1h-3zM80 363h1v3h-1zM89 353h3v1h-3zM90 352h1v3h-1zM99 345h3v1h-3zM100 344h1v3h-1zM109 343h3v1h-3zM110 342h1v3h-1zM119 343h3v1h-3zM120 342h1v3h-1zM129 342h3v1h-3zM130 341h1v3h-1zM139 343h3v1h-3zM140 342h1v3h-1zM149 341h3v1h-3zM150 340h1v3h-1zM159 340h3v1h-3zM160 339h1v3h-1zM169 340h3v1h-3zM170 339h1v3h-1zM179 338h3v1h-3zM180 337h1v3h-1zM189 340h3v1h-3zM190 339h1v3h-1zM199 338h3v1h-3zM200 337h1v3h-1zM209 342h3v1h-3zM210 341h1v3h-1zM219 342h3v1h-3zM220 341h1v3h-1zM229 344h3v1h-3zM230 343h1v3h-1zM239 342h3v1h-3zM240 341h1v3h-1zM249 350h3v1h-3zM250 349h1v3h-1zM259 352h3v1h-3zM260 351h1v3h-1zM269 359h3v1h-3zM270 358h1v3h-1zM279 360h3v1h-3zM280 359h1v3h-1zM289 364h3v1h-3zM290 363h1v3h-1zM299 366h3v1h-3zM300 365h1v3h-1zM309 366h3v1h-3zM310 365h1v3h-1zM319 369h3v1h-3zM320 368h1v3h-1zM329 368h3v1h-3zM330 367h1v3h-1zM339 370h3v1h-3zM340 369h1v3h-1zM349 376h3v1h-3zM350 375h1v3h-1zM359 382h3v1h-3zM360 381h1v3h-1zM369 387h3v1h-3zM370 386h1v3h-1zM379 383h3v1h-3zM380 382h1v3h-1zM389 389h3v1h-3zM390 388h1v3h-1zM399 383h3v1h-3zM400 382h1v3h-1zM409 379h3v1h-3zM410 378h1v3h-1zM419 380h3v1h-3zM420 379h1v3h-1zM429 383h3v1h-3zM430 382h1v3h-1zM439 374h3v1h-3zM440 373h1v3h-1zM449 371h3v1h-3zM450 370h1v3h-1zM459 375h3v1h-3zM460 374h1v3h-1zM469 380h3v1h-3zM470 379h1v3h-1zM479 371h3v1h-3zM480 370h1v3h-1zM489 368h3v1h-3zM490 367h1v3h-1zM499 355h3v1h-3zM500 354h1v3h-1zM509 360h3v1h-3zM510 359h1v3h-1zM519 368h3v1h-3zM520 367h1v3h-1zM529 372h3v1h-3zM530 371h1v3h-1zM539 367h3v1h-3zM540 366h1v3h-1zM549 356h3v1h-3zM550 355h1v3h-1zM559 367h3v1h-3zM560 366h1v3h-1zM569 363h3v1h-3zM570 362h1v3h-1zM579 358h3v1h-3zM580 357h1v3h-1zM589 357h3v1h-3zM590 356h1v3h-1zM599 370h3v1h-3zM600 369h1v3h-1zM609 369h3v1h-3zM610 368h1v3h-1zM619 375h3v1h-3zM620 374h1v3h-1zM629 377h3v1h-3zM630 376h1v3h-1zM639 381h3v1h-3zM640 380h1v3h-1zM649 384h3v1h-3zM650 383h1v3h-1zM659 386h3v1h-3zM660 385h1v3h-1zM669 384h3v1h-3zM670 383h1v3h-1zM679 389h3v1h-3zM680 388h1v3h-1zM689 388h3v1h-3zM690 387h1v3h-1z" fill="#880010" stroke="none"/>
<polyline class="l" points="50.5,377.5 60.5,376.5 70.5,372.5 80.5,360.5 90.5,349.5 100.5,341.5 110.5,340.5 120.5,338.5 130.5,338.5 140.5,340.5 150.5,334.5 160.5,330.5 170.5,330.5 180.5,333.5 190.5,334.5 200.5,333.5 210.5,333.5 220.5,335.5 230.5,339.5 240.5,344.5 250.5,346.5 260.5,348.5 270.5,348.5 280.5,349.5 290.5,357.5 300.5,370.5 310.5,370.5 320.5,370.5 330.5,378.5 340.5,372.5 350.5,375.5 360.5,376.5 370.5,378.5 380.5,380.5 390.5,379.5 400.5,379.5 410.5,378.5 420.5,378.5 430.5,370.5 440.5,357.5 450.5,364.5 460.5,368.5 470.5,369.5 480.5,370.5 490.5,358.5 500.5,367.5 510.5,371.5 520.5,359.5 530.5,358.5 540.5,360.5 550.5,365.5 560.5,364.5 570.5,371.5 580.5,373.5 590.5,384.5 600.5,387.5 610.5,373.5 620.5,376.5 630.5,380.5 640.5,383.5 650.5,385.5 660.5,395.5 670.5,395.5 680.5,388.5 690.5,388.5" stroke="#0030c0" stroke-width="1"/><path d="M49 377h3v1h-3zM50 376h1v3h-1zM59 376h3v1h-3zM60 375h1v3h-1zM69 372h3v1h-3zM70 371h1v3h-1zM79 360h3v1h-3zM80 359h1v3h-1zM89 349h3v1h-3zM90 348h1v3h-1zM99 341h3v1h-3zM100 340h1v3h-1zM109 340h3v1h-3zM110 339h1v3h-1zM119 338h3v1h-3zM120 337h1v3h-1zM129 338h3v1h-3zM130 337h1v3h-1zM139 340h3v1h-3zM140 339h1v3h-1zM149 334h3v1h-3zM150 333h1v3h-1zM159 330h3v1h-3zM160 329h1v3h-1zM169 330h3v1h-3zM170 329h1v3h-1zM179 333h3v1h-3zM180 332h1v3h-1zM189 334h3v1h-3zM190 333h1v3h-1zM199 333h3v1h-3zM200 332h1v3h-1zM209 333h3v1h-3zM210 332h1v3h-1zM219 335h3v1h-3zM220 334h1v3h-1zM229 339h3v1h-3zM230 338h1v3h-1zM239 344h3v1h-3zM240 343h1v3h-1zM249 346h3v1h-3zM250 345h1v3h-1zM259 348h3v1h-3zM260 347h1v3h-1zM269 348h3v1h-3zM270 347h1v3h-1zM279 349h3v1h-3zM280 348h1v3h-1zM289 357h3v1h-3zM290 356h1v3h-1zM299 370h3v1h-3zM300 369h1v3h-1zM309 370h3v1h-3zM310 369h1v3h-1zM319 370h3v1h-3zM320 369h1v3h-1zM329 378h3v1h-3zM330 377h1v3h-1zM339 372h3v1h-3zM340 371h1v3h-1zM349 375h3v1h-3zM350 374h1v3h-1zM359 376h3v1h-3zM360 375h1v3h-1zM369 378h3v1h-3zM370 377h1v3h-1zM379 380h3v1h-3zM380 379h1v3h-1zM389 379h3v1h-3zM390 378h1v3h-1zM399 379h3v1h-3zM400 378h1v3h-1zM409 378h3v1h-3zM410 377h1v3h-1zM419 378h3v1h-3zM420 377h1v3h-1zM429 370h3v1h-3zM430 369h1v3h-1zM439 357h3v1h-3zM440 356h1v3h-1zM449 364h3v1h-3zM450 363h1v3h-1zM459 368h3v1h-3zM460 367h1v3h-1zM469 369h3v1h-3zM470 368h1v3h-1zM479 370h3v1h-3zM480 369h1v3h-1zM489 358h3v1h-3zM490 357h1v3h-1zM499 367h3v1h-3zM500 366h1v3h-1zM509 371h3v1h-3zM510 370h1v3h-1zM519 359h3v1h-3zM520 358h1v3h-1zM529 358h3v1h-3zM530 357h1v3h-1zM539 360h3v1h-3zM540 359h1v3h-1zM549 365h3v1h-3zM550 364h1v3h-1zM559 364h3v1h-3zM560 363h1v3h-1zM569 371h3v1h-3zM570 370h1v3h-1zM579 373h3v1h-3zM580 372h1v3h-1zM589 384h3v1h-3zM590 383h1v3h-1zM599 387h3v1h-3zM600 386h1v3h-1zM609 373h3v1h-3zM610 372h1v3h-1zM619 376h3v1h-3zM620 375h1v3h-1zM629 380h3v1h-3zM630 379h1v3h-1zM639 383h3v1h-3zM640 382h1v3h-1zM649 385h3v1h-3zM650 384h1v3h-1zM659 395h3v1h-3zM660 394h1v3h-1zM669 395h3v1h-3zM670 394h1v3h-1zM679 388h3v1h-3zM680 387h1v3h-1zM689 388h3v1h-3zM690 387h1v3h-1z" fill="#0030c0" stroke="none"/>
</g>
<g id="prec" shape-rendering="crispEdges">
<polyline class="l" points="60.5,545.5 70.5,545.5 80.5,545.5 90.5,545.5 100.5,545.5 110.5,545.5 120.5,545.5 130.5,545.5 140.5,545.5 150.5,545.5 160.5,545.5 170.5,545.5 180.5,545.5 190.5,545.5 200.5,545.5 210.5,545.5 220.5,545.5 230.5,545.5 240.5,545.5 250.5,545.5 260.5,545.5 270.5,545.5 280.5,545.5 290.5,545.5 300.5,545.5 310.5,545.5 320.5,545.5 330.5,545.5 340.5,545.5 350.5,545.5 360.5,545.5 370.5,545.5 380.5,545.5 390.5,545.5 400.5,543.5 410.5,543.5 420.5,545.5 430.5,542.5 440.5,545.5 450.5,545.5 460.5,541.5 470.5,545.5 480.5,545.5 490.5,545.5 500.5,543.5 510.5,545.5 520.5,545.5 530.5,542.5 540.5,545.5 550.5,545.5 560.5,540.5 570.5,545.5 580.5,545.5 590.5,545.5 600.5,545.5 610.5,544.5 620.5,545.5 630.5,545.5 640.5,545.5 650.5,541.5 660.5,545.5 670.5,545.5 680.5,545.5 690.5,545.5" stroke="#e08030" stroke-width="1"/><path d="M59 545h3v1h-3zM60 544h1v3h-1zM69 545h3v1h-3zM70 544h1v3h-1zM79 545h3v1h-3zM80 544h1v3h-1zM89 545h3v1h-3zM90 544h1v3h-1zM99 545h3v1h-3zM100 544h1v3h-1zM109 545h3v1h-3zM110 544h1v3h-1zM119 545h3v1h-3zM120 544h1v3h-1zM129 545h3v1h-3zM130 544h1v3h-1zM139 545h3v1h-3zM140 544h1v3h-1zM149 545h3v1h-3zM150 544h1v3h-1zM159 545h3v1h-3zM160 544h1v3h-1zM169 545h3v1h-3zM170 544h1v3h-1zM179 545h3v1h-3zM180 544h1v3h-1zM189 545h3v1h-3zM190 544h1v3h-1zM199 545h3v1h-3zM200 544h1v3h-1zM209 545h3v1h-3zM210 544h1v3h-1zM219 545h3v1h-3zM220 544h1v3h-1zM229 545h3v1h-3zM230 544h1v3h-1zM239 545h3v1h-3zM240 544h1v3h-1zM249 545h3v1h-3zM250 544h1v3h-1zM259 545h3v1h-3zM260 544h1v3h-1zM269 545h3v1h-3zM270 544h1v3h-1zM279 545h3v1h-3zM280 544h1v3h-1zM289 545h3v1h-3zM290 544h1v3h-1zM299 545h3v1h-3zM300 544h1v3h-1zM309 545h3v1h-3zM310 544h1v3h-1zM319 545h3v1h-3zM320 544h1v3h-1zM329 545h3v1h-3zM330 544h1v3h-1zM339 545h3v1h-3zM340 544h1v3h-1zM349 545h3v1h-3zM350 544h1v3h-1zM359 545h3v1h-3zM360 544h1v3h-1zM369 545h3v1h-3zM370 544h1v3h-1zM379 545h3v1h-3zM380 544h1v3h-1zM389 545h3v1h-3zM390 544h1v3h-1zM399 543h3v1h-3zM400 542h1v3h-1zM409 543h3v1h-3zM410 542h1v3h-1zM419 545h3v1h-3zM420 544h1v3h-1zM429 542h3v1h-3zM430 541h1v3h-1zM439 545h3v1h-3zM440 544h1v3h-1zM449 545h3v1h-3zM450 544h1v3h-1zM459 541h3v1h-3zM460 540h1v3h-1zM469 545h3v1h-3zM470 544h1v3h-1zM479 545h3v1h-3zM480 544h1v3h-1zM489 545h3v1h-3zM490 544h1v3h-1zM499 543h3v1h-3zM500 542h1v3h-1zM509 545h3v1h-3zM510 544h1v3h-1zM519 545h3v1h-3zM520 544h1v3h-1zM529 542h3v1h-3zM530 541h1v3h-1zM539 545h3v1h-3zM540 544h1v3h-1zM549 545h3v1h-3zM550 544h1v3h-1zM559 540h3v1h-3zM560 539h1v3h-1zM569 545h3v1h-3zM570 544h1v3h-1zM579 545h3v1h-3zM580 544h1v3h-1zM589 545h3v1h-3zM590 544h1v3h-1zM599 545h3v1h-3zM600 544h1v3h-1zM609 544h3v1h-3zM610 543h1v3h-1zM619 545h3v1h-3zM620 544h1v3h-1zM629 545h3v1h-3zM630 544h1v3h-1zM639 545h3v1h-3zM640 544h1v3h-1zM649 541h3v1h-3zM650 540h1v3h-1zM659 545h3v1h-3zM660 544h1v3h-1zM669 545h3v1h-3zM670 544h1v3h-1zM679 545h3v1h-3zM680 544h1v3h-1zM689 545h3v1h-3zM690 544h1v3h-1z" fill="#e08030" stroke="none"/>
<polyline class="l" points="60.5,545.5 70.5,545.5 80.5,545.5 90.5,545.5 100.5,545.5 110.5,545.5 120.5,545.5 130.5,545.5 140.5,545.5 150.5,545.5 160.5,545.5 170.5,545.5 180.5,545.5 190.5,545.5 200.5,545.5 210.5,545.5 220.5,545.5 230.5,545.5 240.5,545.5 250.5,545.5 260.5,545.5 270.5,545.5 280.5,545.5 290.5,545.5 300.5,545.5 310.5,545.5 320.5,545.5 330.5,545.5 340.5,545.5 350.5,545.5 360.5,545.5 370.5,545.5 380.5,545.5 390.5,545.5 400.5,540.5 410.5,542.5 420.5,545.5 430.5,545.5 440.5,545.5 450.5,545.5 460.5,544.5 470.5,540.5 480.5,545.5 490.5,542.5 500.5,545.5 510.5,541.5 520.5,543.5 530.5,542.5 540.5,544.5 550.5,545.5 560.5,545.5 570.5,545.5 580.5,545.5 590.5,540.5 600.5,545.5 610.5,540.5 620.5,545.5 630.5,545.5 640.5,545.5 650.5,545.5 660.5,545.5 670.5,543.5 680.5,543.5 690.5,545.5" stroke="#80c070" stroke-width="1"/><path d="M59 545h3v1h-3zM60 544h1v3h-1zM69 545h3v1h-3zM70 544h1v3h-1zM79 545h3v1h-3zM80 544h1v3h-1zM89 545h3v1h-3zM90 544h1v3h-1zM99 545h3v1h-3zM100 544h1v3h-1zM109 545h3v1h-3zM110 544h1v3h-1zM119 545h3v1h-3zM120 544h1v3h-1zM129 545h3v1h-3zM130 544h1v3h-1zM139 545h3v1h-3zM140 544h1v3h-1zM149 545h3v1h-3zM150 544h1v3h-1zM159 545h3v1h-3zM160 544h1v3h-1zM169 545h3v1h-3zM170 544h1v3h-1zM179 545h3v1h-3zM180 544h1v3h-1zM189 545h3v1h-3zM190 544h1v3h-1zM199 545h3v1h-3zM200 544h1v3h-1zM209 545h3v1h-3zM210 544h1v3h-1zM219 545h3v1h-3zM220 544h1v3h-1zM229 545h3v1h-3zM230 544h1v3h-1zM239 545h3v1h-3zM240 544h1v3h-1zM249 545h3v1h-3zM250 544h1v3h-1zM259 545h3v1h-3zM260 544h1v3h-1zM269 545h3v1h-3zM270 544h1v3h-1zM279 545h3v1h-3zM280 544h1v3h-1zM289 545h3v1h-3zM290 544h1v3h-1zM299 545h3v1h-3zM300 544h1v3h-1zM309 545h3v1h-3zM310 544h1v3h-1zM319 545h3v1h-3zM320 544h1v3h-1zM329 545h3v1h-3zM330 544h1v3h-1zM339 545h3v1h-3zM340 544h1v3h-1zM349 545h3v1h-3zM350 544h1v3h-1zM359 545h3v1h-3zM360 544h1v3h-1zM369 545h3v1h-3zM370 544h1v3h-1zM379 545h3v1h-3zM380 544h1v3h-1zM389 545h3v1h-3zM390 544h1v3h-1zM399 540h3v1h-3zM400 539h1v3h-1zM409 542h3v1h-3zM410 541h1v3h-1zM419 545h3v1h-3zM420 544h1v3h-1zM429 545h3v1h-3zM430 544h1v3h-1zM439 545h3v1h-3zM440 544h1v3h-1zM449 545h3v1h-3zM450 544h1v3h-1zM459 544h3v1h-3zM460 543h1v3h-1zM469 540h3v1h-3zM470 539h1v3h-1zM479 545h3v1h-3zM480 544h1v3h-1zM489 542h3v1h-3zM490 541h1v3h-1zM499 545h3v1h-3zM500 544h1v3h-1zM509 541h3v1h-3zM510 540h1v3h-1zM519 543h3v1h-3zM520 542h1v3h-1zM529 542h3v1h-3zM530 541h1v3h-1zM539 544h3v1h-3zM540 543h1v3h-1zM549 545h3v1h-3zM550 544h1v3h-1zM559 545h3v1h-3zM560 544h1v3h-1zM569 545h3v1h-3zM570 544h1v3h-1zM579 545h3v1h-3zM580 544h1v3h-1zM589 540h3v1h-3zM590 539h1v3h-1zM599 545h3v1h-3zM600 544h1v3h-1zM609 540h3v1h-3zM610 539h1v3h-1zM619 545h3v1h-3zM620 544h1v3h-1zM629 545h3v1h-3zM630 544h1v3h-1zM639 545h3v1h-3zM640 544h1v3h-1zM649 545h3v1h-3zM650 544h1v3h-1zM659 545h3v1h-3zM660 544h1v3h-1zM669 543h3v1h-3zM670 542h1v3h-1zM679 543h3v1h-3zM680 542h1v3h-1zM689 545h3v1h-3zM690 544h1v3h-1z" fill="#80c070" stroke="none"/>
<polyline class="l" points="60.5,545.5 70.5,545.5 80.5,545.5 90.5,545.5 100.5,545.5 110.5,545.5 120.5,545.5 130.5,545.5 140.5,545.5 150.5,545.5 160.5,545.5 170.5,545.5 180.5,545.5 190.5,545.5 200.5,545.5 210.5,545.5 220.5,545.5 230.5,545.5 240.5,545.5 250.5,545.5 260.5,545.5 270.5,545.5 280.5,545.5 290.5,545.5 300.5,545.5 310.5,545.5 320.5,545.5 330.5,545.5 340.5,545.5 350.5,545.5 360.5,545.5 370.5,545.5 380.5,545.5 390.5,545.5 400.5,545.5 410.5,545.5 420.5,542.5 430.5,545.5 440.5,545.5 450.5,543.5 460.5,544.5 470.5,545.5 480.5,544.5 490.5,542.5 500.5,545.5 510.5,545.5 520.5,545.5 530.5,545.5 540.5,536.5 550.5,486.5 560.5,481.5 570.5,501.5 580.5,507.5 590.5,496.5 600.5,492.5 610.5,410.5 620.5,486.5 630.5,527.5 640.5,545.5 650.5,533.5 660.5,521.5 670.5,533.5 680.5,545.5 690.5,545.5" stroke="#f0c010" stroke-width="1"/><path d="M59 545h3v1h-3zM60 544h1v3h-1zM69 545h3v1h-3zM70 544h1v3h-1zM79 545h3v1h-3zM80 544h1v3h-1zM89 545h3v1h-3zM90 544h1v3h-1zM99 545h3v1h-3zM100 544h1v3h-1zM109 545h3v1h-3zM110 544h1v3h-1zM119 545h3v1h-3zM120 544h1v3h-1zM129 545h3v1h-3zM130 544h1v3h-1zM139 545h3v1h-3zM140 544h1v3h-1zM149 545h3v1h-3zM150 544h1v3h-1zM159 545h3v1h-3zM160 544h1v3h-1zM169 545h3v1h-3zM170 544h1v3h-1zM179 545h3v1h-3zM180 544h1v3h-1zM189 545h3v1h-3zM190 544h1v3h-1zM199 545h3v1h-3zM200 544h1v3h-1zM209 545h3v1h-3zM210 544h1v3h-1zM219 545h3v1h-3zM220 544h1v3h-1zM229 545h3v1h-3zM230 544h1v3h-1zM239 545h3v1h-3zM240 544h1v3h-1zM249 545h3v1h-3zM250 544h1v3h-1zM259 545h3v1h-3zM260 544h1v3h-1zM269 545h3v1h-3zM270 544h1v3h-1zM279 545h3v1h-3zM280 544h1v3h-1zM289 545h3v1h-3zM290 544h1v3h-1zM299 545h3v1h-3zM300 544h1v3h-1zM309 545h3v1h-3zM310 544h1v3h-1zM319 545h3v1h-3zM320 544h1v3h-1zM329 545h3v1h-3zM330 544h1v3h-1zM339 545h3v1h-3zM340 544h1v3h-1zM349 545h3v1h-3zM350 544h1v3h-1zM359 545h3v1h-3zM360 544h1v3h-1zM369 545h3v1h-3zM370 544h1v3h-1zM379 545h3v1h-3zM380 544h1v3h-1zM389 545h3v1h-3zM390 544h1v3h-1zM399 545h3v1h-3zM400 544h1v3h-1zM409 545h3v1h-3zM410 544h1v3h-1zM419 542h3v1h-3zM420 541h1v3h-1zM429 545h3v1h-3zM430 544h1v3h-1zM439 545h3v1h-3zM440 544h1v3h-1zM449 543h3v1h-3zM450 542h1v3h-1zM459 544h3v1h-3zM460 543h1v3h-1zM469 545h3v1h-3zM470 544h1v3h-1zM479 544h3v1h-3zM480 543h1v3h-1zM489 542h3v1h-3zM490 541h1v3h-1zM499 545h3v1h-3zM500 544h1v3h-1zM509 545h3v1h-3zM510 544h1v3h-1zM519 545h3v1h-3zM520 544h1v3h-1zM529 545h3v1h-3zM530 544h1v3h-1zM539 536h3v1h-3zM540 535h1v3h-1zM549 486h3v1h-3zM550 485h1v3h-1zM559 481h3v1h-3zM560 480h1v3h-1zM569 501h3v1h-3zM570 500h1v3h-1zM579 507h3v1h-3zM580 506h1v3h-1zM589 496h3v1h-3zM590 495h1v3h-1zM599 492h3v1h-3zM600 491h1v3h-1zM609 410h3v1h-3zM610 409h1v3h-1zM619 486h3v1h-3zM620 485h1v3h-1zM629 527h3v1h-3zM630 526h1v3h-1zM639 545h3v1h-3zM640 544h1v3h-1zM649 533h3v1h-3zM650 532h1v3h-1zM659 521h3v1h-3zM660 520h1v3h-1zM669 533h3v1h-3zM670 532h1v3h-1zM679 545h3v1h-3zM680 544h1v3h-1zM689 545h3v1h-3zM690 544h1v3h-1z" fill="#f0c010" stroke="none"/>
<polyline class="l" points="60.5,545.5 70.5,545.5 80.5,545.5 90.5,545.5 100.5,545.5 110.5,545.5 120.5,545.5 130.5,545.5 140.5,545.5 150.5,545.5 160.5,545.5 170.5,545.5 180.5,545.5 190.5,545.5 200.5,545.5 210.5,545.5 220.5,545.5 230.5,545.5 240.5,545.5 250.5,545.5 260.5,545.5 270.5,545.5 280.5,545.5 290.5,545.5 300.5,545.5 310.5,545.5 320.5,545.5 330.5,545.5 340.5,545.5 350.5,545.5 360.5,537.5 370.5,545.5 380.5,545.5 390.5,545.5 400.5,545.5 410.5,545.5 420.5,543.5 430.5,545.5 440.5,539.5 450.5,533.5 460.5,522.5 470.5,545.5 480.5,543.5 490.5,545.5 500.5,545.5 510.5,545.5 520.5,540.5 530.5,545.5 540.5,545.5 550.5,545.5 560.5,545.5 570.5,543.5 580.5,545.5 590.5,540.5 600.5,545.5 610.5,543.5 620.5,545.5 630.5,545.5 640.5,545.5 650.5,542.5 660.5,545.5 670.5,530.5 680.5,523.5 690.5,545.5" stroke="#9050b0" stroke-width="1"/><path d="M59 545h3v1h-3zM60 544h1v3h-1zM69 545h3v1h-3zM70 544h1v3h-1zM79 545h3v1h-3zM80 544h1v3h-1zM89 545h3v1h-3zM90 544h1v3h-1zM99 545h3v1h-3zM100 544h1v3h-1zM109 545h3v1h-3zM110 544h1v3h-1zM119 545h3v1h-3zM120 544h1v3h-1zM129 545h3v1h-3zM130 544h1v3h-1zM139 545h3v1h-3zM140 544h1v3h-1zM149 545h3v1h-3zM150 544h1v3h-1zM159 545h3v1h-3zM160 544h1v3h-1zM169 545h3v1h-3zM170 544h1v3h-1zM179 545h3v1h-3zM180 544h1v3h-1zM189 545h3v1h-3zM190 544h1v3h-1zM199 545h3v1h-3zM200 544h1v3h-1zM209 545h3v1h-3zM210 544h1v3h-1zM219 545h3v1h-3zM220 544h1v3h-1zM229 545h3v1h-3zM230 544h1v3h-1zM239 545h3v1h-3zM240 544h1v3h-1zM249 545h3v1h-3zM250 544h1v3h-1zM259 545h3v1h-3zM260 544h1v3h-1zM269 545h3v1h-3zM270 544h1v3h-1zM279 545h3v1h-3zM280 544h1v3h-1zM289 545h3v1h-3zM290 544h1v3h-1zM299 545h3v1h-3zM300 544h1v3h-1zM309 545h3v1h-3zM310 544h1v3h-1zM319 545h3v1h-3zM320 544h1v3h-1zM329 545h3v1h-3zM330 544h1v3h-1zM339 545h3v1h-3zM340 544h1v3h-1zM349 545h3v1h-3zM350 544h1v3h-1zM359 537h3v1h-3zM360 536h1v3h-1zM369 545h3v1h-3zM370 544h1v3h-1zM379 545h3v1h-3zM380 544h1v3h-1zM389 545h3v1h-3zM390 544h1v3h-1zM399 545h3v1h-3zM400 544h1v3h-1zM409 545h3v1h-3zM410 544h1v3h-1zM419 543h3v1h-3zM420 542h1v3h-1zM429 545h3v1h-3zM430 544h1v3h-1zM439 539h3v1h-3zM440 538h1v3h-1zM449 533h3v1h-3zM450 532h1v3h-1zM459 522h3v1h-3zM460 521h1v3h-1zM469 545h3v1h-3zM470 544h1v3h-1zM479 543h3v1h-3zM480 542h1v3h-1zM489 545h3v1h-3zM490 544h1v3h-1zM499 545h3v1h-3zM500 544h1v3h-1zM509 545h3v1h-3zM510 544h1v3h-1zM519 540h3v1h-3zM520 539h1v3h-1zM529 545h3v1h-3zM530 544h1v3h-1zM539 545h3v1h-3zM540 544h1v3h-1zM549 545h3v1h-3zM550 544h1v3h-1zM559 545h3v1h-3zM560 544h1v3h-1zM569 543h3v1h-3zM570 542h1v3h-1zM579 545h3v1h-3zM580 544h1v3h-1zM589 540h3v1h-3zM590 539h1v3h-1zM599 545h3v1h-3zM600 544h1v3h-1zM609 543h3v1h-3zM610 542h1v3h-1zM619 545h3v1h-3zM620 544h1v3h-1zM629 545h3v1h-3zM630 544h1v3h-1zM639 545h3v1h-3zM640 544h1v3h-1zM649 542h3v1h-3zM650 541h1v3h-1zM659 545h3v1h-3zM660 544h1v3h-1zM669 530h3v1h-3zM670 529h1v3h-1zM679 523h3v1h-3zM680 522h1v3h-1zM689 545h3v1h-3zM690 544h1v3h-1z" fill="#9050b0" stroke="none"/>
<polyline class="l" points="60.5,545.5 70.5,545.5 80.5,545.5 90.5,545.5 100.5,545.5 110.5,545.5 120.5,545.5 130.5,545.5 140.5,545.5 150.5,545.5 160.5,545.5 170.5,545.5 180.5,545.5 190.5,545.5 200.5,545.5 210.5,545.5 220.5,545.5 230.5,545.5 240.5,545.5 250.5,545.5 260.5,545.5 270.5,545.5 280.5,545.5 290.5,545.5 300.5,545.5 310.5,545.5 320.5,545.5 330.5,545.5 340.5,545.5 350.5,545.5 360.5,545.5 370.5,545.5 380.5,545.5 390.5,545.5 400.5,541.5 410.5,545.5 420.5,543.5 430.5,545.5 440.5,545.5 450.5,545.5 460.5,545.5 470.5,545.5 480.5,545.5 490.5,540.5 500.5,545.5 510.5,545.5 520.5,524.5 530.5,524.5 540.5,533.5 550.5,545.5 560.5,540.5 570.5,544.5 580.5,545.5 590.5,544.5 600.5,545.5 610.5,545.5 620.5,545.5 630.5,545.5 640.5,545.5 650.5,545.5 660.5,544.5 670.5,545.5 680.5,545.5 690.5,545.5" stroke="#b05010" stroke-width="1"/><path d="M59 545h3v1h-3zM60 544h1v3h-1zM69 545h3v1h-3zM70 544h1v3h-1zM79 545h3v1h-3zM80 544h1v3h-1zM89 545h3v1h-3zM90 544h1v3h-1zM99 545h3v1h-3zM100 544h1v3h-1zM109 545h3v1h-3zM110 544h1v3h-1zM119 545h3v1h-3zM120 544h1v3h-1zM129 545h3v1h-3zM130 544h1v3h-1zM139 545h3v1h-3zM140 544h1v3h-1zM149 545h3v1h-3zM150 544h1v3h-1zM159 545h3v1h-3zM160 544h1v3h-1zM169 545h3v1h-3zM170 544h1v3h-1zM179 545h3v1h-3zM180 544h1v3h-1zM189 545h3v1h-3zM190 544h1v3h-1zM199 545h3v1h-3zM200 544h1v3h-1zM209 545h3v1h-3zM210 544h1v3h-1zM219 545h3v1h-3zM220 544h1v3h-1zM229 545h3v1h-3zM230 544h1v3h-1zM239 545h3v1h-3zM240 544h1v3h-1zM249 545h3v1h-3zM250 544h1v3h-1zM259 545h3v1h-3zM260 544h1v3h-1zM269 545h3v1h-3zM270 544h1v3h-1zM279 545h3v1h-3zM280 544h1v3h-1zM289 545h3v1h-3zM290 544h1v3h-1zM299 545h3v1h-3zM300 544h1v3h-1zM309 545h3v1h-3zM310 544h1v3h-1zM319 545h3v1h-3zM320 544h1v3h-1zM329 545h3v1h-3zM330 544h1v3h-1zM339 545h3v1h-3zM340 544h1v3h-1zM349 545h3v1h-3zM350 544h1v3h-1zM359 545h3v1h-3zM360 544h1v3h-1zM369 545h3v1h-3zM370 544h1v3h-1zM379 545h3v1h-3zM380 544h1v3h-1zM389 545h3v1h-3zM390 544h1v3h-1zM399 541h3v1h-3zM400 540h1v3h-1zM409 545h3v1h-3zM410 544h1v3h-1zM419 543h3v1h-3zM420 542h1v3h-1zM429 545h3v1h-3zM430 544h1v3h-1zM439 545h3v1h-3zM440 544h1v3h-1zM449 545h3v1h-3zM450 544h1v3h-1zM459 545h3v1h-3zM460 544h1v3h-1zM469 545h3v1h-3zM470 544h1v3h-1zM479 545h3v1h-3zM480 544h1v3h-1zM489 540h3v1h-3zM490 539h1v3h-1zM499 545h3v1h-3zM500 544h1v3h-1zM509 545h3v1h-3zM510 544h1v3h-1zM519 524h3v1h-3zM520 523h1v3h-1zM529 524h3v1h-3zM530 523h1v3h-1zM539 533h3v1h-3zM540 532h1v3h-1zM549 545h3v1h-3zM550 544h1v3h-1zM559 540h3v1h-3zM560 539h1v3h-1zM569 544h3v1h-3zM570 543h1v3h-1zM579 545h3v1h-3zM580 544h1v3h-1zM589 544h3v1h-3zM590 543h1v3h-1zM599 545h3v1h-3zM600 544h1v3h-1zM609 545h3v1h-3zM610 544h1v3h-1zM619 545h3v1h-3zM620 544h1v3h-1zM629 545h3v1h-3zM630 544h1v3h-1zM639 545h3v1h-3zM640 544h1v3h-1zM649 545h3v1h-3zM650 544h1v3h-1zM659 544h3v1h-3zM660 543h1v3h-1zM669 545h3v1h-3zM670 544h1v3h-1zM679 545h3v1h-3zM680 544h1v3h-1zM689 545h3v1h-3zM690 544h1v3h-1z" fill="#b05010" stroke="none"/>
<polyline class="l" points="60.5,545.5 70.5,545.5 80.5,545.5 90.5,545.5 100.5,545.5 110.5,545.5 120.5,545.5 130.5,545.5 140.5,545.5 150.5,545.5 160.5,545.5 170.5,545.5 180.5,545.5 190.5,545.5 200.5,545.5 210.5,545.5 220.5,545.5 230.5,545.5 240.5,545.5 250.5,545.5 260.5,545.5 270.5,545.5 280.5,545.5 290.5,545.5 300.5,545.5 310.5,545.5 320.5,545.5 330.5,545.5 340.5,545.5 350.5,545.5 360.5,545.5 370.5,545.5 380.5,545.5 390.5,545.5 400.5,542.5 410.5,543.5 420.5,545.5 430.5,545.5 440.5,545.5 450.5,545.5 460.5,545.5 470.5,545.5 480.5,545.5 490.5,542.5 500.5,545.5 510.5,545.5 520.5,545.5 530.5,545.5 540.5,545.5 550.5,545.5 560.5,519.5 570.5,512.5 580.5,521.5 590.5,507.5 600.5,533.5 610.5,539.5 620.5,515.5 630.5,539.5 640.5,545.5 650.5,545.5 660.5,545.5 670.5,545.5 680.5,545.5 690.5,545.5" stroke="#508010" stroke-width="1"/><path d="M59 545h3v1h-3zM60 544h1v3h-1zM69 545h3v1h-3zM70 544h1v3h-1zM79 545h3v1h-3zM80 544h1v3h-1zM89 545h3v1h-3zM90 544h1v3h-1zM99 545h3v1h-3zM100 544h1v3h-1zM109 545h3v1h-3zM110 544h1v3h-1zM119 545h3v1h-3zM120 544h1v3h-1zM129 545h3v1h-3zM130 544h1v3h-1zM139 545h3v1h-3zM140 544h1v3h-1zM149 545h3v1h-3zM150 544h1v3h-1zM159 545h3v1h-3zM160 544h1v3h-1zM169 545h3v1h-3zM170 544h1v3h-1zM179 545h3v1h-3zM180 544h1v3h-1zM189 545h3v1h-3zM190 544h1v3h-1zM199 545h3v1h-3zM200 544h1v3h-1zM209 545h3v1h-3zM210 544h1v3h-1zM219 545h3v1h-3zM220 544h1v3h-1zM229 545h3v1h-3zM230 544h1v3h-1zM239 545h3v1h-3zM240 544h1v3h-1zM249 545h3v1h-3zM250 544h1v3h-1zM259 545h3v1h-3zM260 544h1v3h-1zM269 545h3v1h-3zM270 544h1v3h-1zM279 545h3v1h-3zM280 544h1v3h-1zM289 545h3v1h-3zM290 544h1v3h-1zM299 545h3v1h-3zM300 544h1v3h-1zM309 545h3v1h-3zM310 544h1v3h-1zM319 545h3v1h-3zM320 544h1v3h-1zM329 545h3v1h-3zM330 544h1v3h-1zM339 545h3v1h-3zM340 544h1v3h-1zM349 545h3v1h-3zM350 544h1v3h-1zM359 545h3v1h-3zM360 544h1v3h-1zM369 545h3v1h-3zM370 544h1v3h-1zM379 545h3v1h-3zM380 544h1v3h-1zM389 545h3v1h-3zM390 544h1v3h-1zM399 542h3v1h-3zM400 541h1v3h-1zM409 543h3v1h-3zM410 542h1v3h-1zM419 545h3v1h-3zM420 544h1v3h-1zM429 545h3v1h-3zM430 544h1v3h-1zM439 545h3v1h-3zM440 544h1v3h-1zM449 545h3v1h-3zM450 544h1v3h-1zM459 545h3v1h-3zM460 544h1v3h-1zM469 545h3v1h-3zM470 544h1v3h-1zM479 545h3v1h-3zM480 544h1v3h-1zM489 542h3v1h-3zM490 541h1v3h-1zM499 545h3v1h-3zM500 544h1v3h-1zM509 545h3v1h-3zM510 544h1v3h-1zM519 545h3v1h-3zM520 544h1v3h-1zM529 545h3v1h-3zM530 544h1v3h-1zM539 545h3v1h-3zM540 544h1v3h-1zM549 545h3v1h-3zM550 544h1v3h-1zM559 519h3v1h-3zM560 518h1v3h-1zM569 512h3v1h-3zM570 511h1v3h-1zM579 521h3v1h-3zM580 520h1v3h-1zM589 507h3v1h-3zM590 506h1v3h-1zM599 533h3v1h-3zM600 532h1v3h-1zM609 539h3v1h-3zM610 538h1v3h-1zM619 515h3v1h-3zM620 514h1v3h-1zM629 539h3v1h-3zM630 538h1v3h-1zM639 545h3v1h-3zM640 544h1v3h-1zM649 545h3v1h-3zM650 544h1v3h-1zM659 545h3v1h-3zM660 544h1v3h-1zM669 545h3v1h-3zM670 544h1v3h-1zM679 545h3v1h-3zM680 544h1v3h-1zM689 545h3v1h-3zM690 544h1v3h-1z" fill="#508010" stroke="none"/>
<polyline class="l" points="60.5,545.5 70.5,545.5 80.5,545.5 90.5,545.5 100.5,545.5 110.5,545.5 120.5,545.5 130.5,545.5 140.5,545.5 150.5,545.5 160.5,545.5 170.5,545.5 180.5,545.5 190.5,545.5 200.5,545.5 210.5,545.5 220.5,545.5 230.5,545.5 240.5,545.5 250.5,545.5 260.5,545.5 270.5,545.5 280.5,545.5 290.5,545.5 300.5,545.5 310.5,545.5 320.5,545.5 330.5,522.5 340.5,526.5 350.5,545.5 360.5,545.5 370.5,545.5 380.5,545.5 390.5,545.5 400.5,545.5 410.5,545.5 420.5,511.5 430.5,545.5 440.5,541.5 450.5,543.5 460.5,542.5 470.5,542.5 480.5,543.5 490.5,543.5 500.5,540.5 510.5,545.5 520.5,545.5 530.5,541.5 540.5,543.5 550.5,545.5 560.5,545.5 570.5,540.5 580.5,543.5 590.5,545.5 600.5,544.5 610.5,541.5 620.5,545.5 630.5,540.5 640.5,541.5 650.5,545.5 660.5,545.5 670.5,544.5 680.5,545.5 690.5,545.5" stroke="#1080f0" stroke-width="1"/><path d="M59 545h3v1h-3zM60 544h1v3h-1zM69 545h3v1h-3zM70 544h1v3h-1zM79 545h3v1h-3zM80 544h1v3h-1zM89 545h3v1h-3zM90 544h1v3h-1zM99 545h3v1h-3zM100 544h1v3h-1zM109 545h3v1h-3zM110 544h1v3h-1zM119 545h3v1h-3zM120 544h1v3h-1zM129 545h3v1h-3zM130 544h1v3h-1zM139 545h3v1h-3zM140 544h1v3h-1zM149 545h3v1h-3zM150 544h1v3h-1zM159 545h3v1h-3zM160 544h1v3h-1zM169 545h3v1h-3zM170 544h1v3h-1zM179 545h3v1h-3zM180 544h1v3h-1zM189 545h3v1h-3zM190 544h1v3h-1zM199 545h3v1h-3zM200 544h1v3h-1zM209 545h3v1h-3zM210 544h1v3h-1zM219 545h3v1h-3zM220 544h1v3h-1zM229 545h3v1h-3zM230 544h1v3h-1zM239 545h3v1h-3zM240 544h1v3h-1zM249 545h3v1h-3zM250 544h1v3h-1zM259 545h3v1h-3zM260 544h1v3h-1zM269 545h3v1h-3zM270 544h1v3h-1zM279 545h3v1h-3zM280 544h1v3h-1zM289 545h3v1h-3zM290 544h1v3h-1zM299 545h3v1h-3zM300 544h1v3h-1zM309 545h3v1h-3zM310 544h1v3h-1zM319 545h3v1h-3zM320 544h1v3h-1zM329 522h3v1h-3zM330 521h1v3h-1zM339 526h3v1h-3zM340 525h1v3h-1zM349 545h3v1h-3zM350 544h1v3h-1zM359 545h3v1h-3zM360 544h1v3h-1zM369 545h3v1h-3zM370 544h1v3h-1zM379 545h3v1h-3zM380 544h1v3h-1zM389 545h3v1h-3zM390 544h1v3h-1zM399 545h3v1h-3zM400 544h1v3h-1zM409 545h3v1h-3zM410 544h1v3h-1zM419 511h3v1h-3zM420 510h1v3h-1zM429 545h3v1h-3zM430 544h1v3h-1zM439 541h3v1h-3zM440 540h1v3h-1zM449 543h3v1h-3zM450 542h1v3h-1zM459 542h3v1h-3zM460 541h1v3h-1zM469 542h3v1h-3zM470 541h1v3h-1zM479 543h3v1h-3zM480 542h1v3h-1zM489 543h3v1h-3zM490 542h1v3h-1zM499 540h3v1h-3zM500 539h1v3h-1zM509 545h3v1h-3zM510 544h1v3h-1zM519 545h3v1h-3zM520 544h1v3h-1zM529 541h3v1h-3zM530 540h1v3h-1zM539 543h3v1h-3zM540 542h1v3h-1zM549 545h3v1h-3zM550 544h1v3h-1zM559 545h3v1h-3zM560 544h1v3h-1zM569 540h3v1h-3zM570 539h1v3h-1zM579 543h3v1h-3zM580 542h1v3h-1zM589 545h3v1h-3zM590 544h1v3h-1zM599 544h3v1h-3zM600 543h1v3h-1zM609 541h3v1h-3zM610 540h1v3h-1zM619 545h3v1h-3zM620 544h1v3h-1zM629 540h3v1h-3zM630 539h1v3h-1zM639 541h3v1h-3zM640 540h1v3h-1zM649 545h3v1h-3zM650 544h1v3h-1zM659 545h3v1h-3zM660 544h1v3h-1zM669 544h3v1h-3zM670 543h1v3h-1zM679 545h3v1h-3zM680 544h1v3h-1zM689 545h3v1h-3zM690 544h1v3h-1z" fill="#1080f0" stroke="none"/>
<polyline class="l" points="60.5,545.5 70.5,545.5 80.5,545.5 90.5,545.5 100.5,545.5 110.5,545.5 120.5,545.5 130.5,545.5 140.5,545.5 150.5,545.5 160.5,545.5 170.5,545.5 180.5,545.5 190.5,545.5 200.5,545.5 210.5,545.5 220.5,545.5 230.5,545.5 240.5,545.5 250.5,545.5 260.5,545.5 270.5,545.5 280.5,545.5 290.5,545.5 300.5,545.5 310.5,545.5 320.5,545.5 330.5,545.5 340.5,545.5 350.5,545.5 360.5,545.5 370.5,545.5 380.5,545.5 390.5,545.5 400.5,545.5 410.5,540.5 420.5,542.5 430.5,545.5 440.5,545.5 450.5,545.5 460.5,540.5 470.5,545.5 480.5,545.5 490.5,545.5 500.5,545.5 510.5,545.5 520.5,545.5 530.5,545.5 540.5,545.5 550.5,543.5 560.5,545.5 570.5,545.5 580.5,544.5 590.5,545.5 600.5,543.5 610.5,544.5 620.5,545.5 630.5,545.5 640.5,544.5 650.5,545.5 660.5,545.5 670.5,543.5 680.5,545.5 690.5,545.5" stroke="#e8d8b0" stroke-width="1"/><path d="M59 545h3v1h-3zM60 544h1v3h-1zM69 545h3v1h-3zM70 544h1v3h-1zM79 545h3v1h-3zM80 544h1v3h-1zM89 545h3v1h-3zM90 544h1v3h-1zM99 545h3v1h-3zM100 544h1v3h-1zM109 545h3v1h-3zM110 544h1v3h-1zM119 545h3v1h-3zM120 544h1v3h-1zM129 545h3v1h-3zM130 544h1v3h-1zM139 545h3v1h-3zM140 544h1v3h-1zM149 545h3v1h-3zM150 544h1v3h-1zM159 545h3v1h-3zM160 544h1v3h-1zM169 545h3v1h-3zM170 544h1v3h-1zM179 545h3v1h-3zM180 544h1v3h-1zM189 545h3v1h-3zM190 544h1v3h-1zM199 545h3v1h-3zM200 544h1v3h-1zM209 545h3v1h-3zM210 544h1v3h-1zM219 545h3v1h-3zM220 544h1v3h-1zM229 545h3v1h-3zM230 544h1v3h-1zM239 545h3v1h-3zM240 544h1v3h-1zM249 545h3v1h-3zM250 544h1v3h-1zM259 545h3v1h-3zM260 544h1v3h-1zM269 545h3v1h-3zM270 544h1v3h-1zM279 545h3v1h-3zM280 544h1v3h-1zM289 545h3v1h-3zM290 544h1v3h-1zM299 545h3v1h-3zM300 544h1v3h-1zM309 545h3v1h-3zM310 544h1v3h-1zM319 545h3v1h-3zM320 544h1v3h-1zM329 545h3v1h-3zM330 544h1v3h-1zM339 545h3v1h-3zM340 544h1v3h-1zM349 545h3v1h-3zM350 544h1v3h-1zM359 545h3v1h-3zM360 544h1v3h-1zM369 545h3v1h-3zM370 544h1v3h-1zM379 545h3v1h-3zM380 544h1v3h-1zM389 545h3v1h-3zM390 544h1v3h-1zM399 545h3v1h-3zM400 544h1v3h-1zM409 540h3v1h-3zM410 539h1v3h-1zM419 542h3v1h-3zM420 541h1v3h-1zM429 545h3v1h-3zM430 544h1v3h-1zM439 545h3v1h-3zM440 544h1v3h-1zM449 545h3v1h-3zM450 544h1v3h-1zM459 540h3v1h-3zM460 539h1v3h-1zM469 545h3v1h-3zM470 544h1v3h-1zM479 545h3v1h-3zM480 544h1v3h-1zM489 545h3v1h-3zM490 544h1v3h-1zM499 545h3v1h-3zM500 544h1v3h-1zM509 545h3v1h-3zM510 544h1v3h-1zM519 545h3v1h-3zM520 544h1v3h-1zM529 545h3v1h-3zM530 544h1v3h-1zM539 545h3v1h-3zM540 544h1v3h-1zM549 543h3v1h-3zM550 542h1v3h-1zM559 545h3v1h-3zM560 544h1v3h-1zM569 545h3v1h-3zM570 544h1v3h-1zM579 544h3v1h-3zM580 543h1v3h-1zM589 545h3v1h-3zM590 544h1v3h-1zM599 543h3v1h-3zM600 542h1v3h-1zM609 544h3v1h-3zM610 543h1v3h-1zM619 545h3v1h-3zM620 544h1v3h-1zM629 545h3v1h-3zM630 544h1v3h-1zM639 544h3v1h-3zM640 543h1v3h-1zM649 545h3v1h-3zM650 544h1v3h-1zM659 545h3v1h-3zM660 544h1v3h-1zM669 543h3v1h-3zM670 542h1v3h-1zM679 545h3v1h-3zM680 544h1v3h-1zM689 545h3v1h-3zM690 544h1v3h-1z" fill="#e8d8b0" stroke="none"/>
<polyline class="l" points="60.5,545.5 70.5,545.5 80.5,545.5 90.5,545.5 100.5,545.5 110.5,545.5 120.5,545.5 130.5,545.5 140.5,545.5 150.5,545.5 160.5,545.5 170.5,545.5 180.5,545.5 190.5,545.5 200.5,545.5 210.5,545.5 220.5,545.5 230.5,545.5 240.5,545.5 250.5,545.5 260.5,545.5 270.5,545.5 280.5,545.5 290.5,545.5 300.5,545.5 310.5,545.5 320.5,545.5 330.5,545.5 340.5,545.5 350.5,545.5 360.5,545.5 370.5,545.5 380.5,545.5 390.5,543.5 400.5,545.5 410.5,545.5 420.5,545.5 430.5,545.5 440.5,543.5 450.5,545.5 460.5,545.5 470.5,543.5 480.5,545.5 490.5,545.5 500.5,545.5 510.5,545.5 520.5,522.5 530.5,466.5 540.5,533.5 550.5,545.5 560.5,544.5 570.5,545.5 580.5,543.5 590.5,543.5 600.5,545.5 610.5,543.5 620.5,542.5 630.5,540.5 640.5,545.5 650.5,539.5 660.5,497.5 670.5,530.5 680.5,545.5 690.5,545.5" stroke="#4090c0" stroke-width="1"/><path d="M59 545h3v1h-3zM60 544h1v3h-1zM69 545h3v1h-3zM70 544h1v3h-1zM79 545h3v1h-3zM80 544h1v3h-1zM89 545h3v1h-3zM90 544h1v3h-1zM99 545h3v1h-3zM100 544h1v3h-1zM109 545h3v1h-3zM110 544h1v3h-1zM119 545h3v1h-3zM120 544h1v3h-1zM129 545h3v1h-3zM130 544h1v3h-1zM139 545h3v1h-3zM140 544h1v3h-1zM149 545h3v1h-3zM150 544h1v3h-1zM159 545h3v1h-3zM160 544h1v3h-1zM169 545h3v1h-3zM170 544h1v3h-1zM179 545h3v1h-3zM180 544h1v3h-1zM189 545h3v1h-3zM190 544h1v3h-1zM199 545h3v1h-3zM200 544h1v3h-1zM209 545h3v1h-3zM210 544h1v3h-1zM219 545h3v1h-3zM220 544h1v3h-1zM229 545h3v1h-3zM230 544h1v3h-1zM239 545h3v1h-3zM240 544h1v3h-1zM249 545h3v1h-3zM250 544h1v3h-1zM259 545h3v1h-3zM260 544h1v3h-1zM269 545h3v1h-3zM270 544h1v3h-1zM279 545h3v1h-3zM280 544h1v3h-1zM289 545h3v1h-3zM290 544h1v3h-1zM299 545h3v1h-3zM300 544h1v3h-1zM309 545h3v1h-3zM310 544h1v3h-1zM319 545h3v1h-3zM320 544h1v3h-1zM329 545h3v1h-3zM330 544h1v3h-1zM339 545h3v1h-3zM340 544h1v3h-1zM349 545h3v1h-3zM350 544h1v3h-1zM359 545h3v1h-3zM360 544h1v3h-1zM369 545h3v1h-3zM370 544h1v3h-1zM379 545h3v1h-3zM380 544h1v3h-1zM389 543h3v1h-3zM390 542h1v3h-1zM399 545h3v1h-3zM400 544h1v3h-1zM409 545h3v1h-3zM410 544h1v3h-1zM419 545h3v1h-3zM420 544h1v3h-1zM429 545h3v1h-3zM430 544h1v3h-1zM439 543h3v1h-3zM440 542h1v3h-1zM449 545h3v1h-3zM450 544h1v3h-1zM459 545h3v1h-3zM460 544h1v3h-1zM469 543h3v1h-3zM470 542h1v3h-1zM479 545h3v1h-3zM480 544h1v3h-1zM489 545h3v1h-3zM490 544h1v3h-1zM499 545h3v1h-3zM500 544h1v3h-1zM509 545h3v1h-3zM510 544h1v3h-1zM519 522h3v1h-3zM520 521h1v3h-1zM529 466h3v1h-3zM530 465h1v3h-1zM539 533h3v1h-3zM540 532h1v3h-1zM549 545h3v1h-3zM550 544h1v3h-1zM559 544h3v1h-3zM560 543h1v3h-1zM569 545h3v1h-3zM570 544h1v3h-1zM579 543h3v1h-3zM580 542h1v3h-1zM589 543h3v1h-3zM590 542h1v3h-1zM599 545h3v1h-3zM600 544h1v3h-1zM609 543h3v1h-3zM610 542h1v3h-1zM619 542h3v1h-3zM620 541h1v3h-1zM629 540h3v1h-3zM630 539h1v3h-1zM639 545h3v1h-3zM640 544h1v3h-1zM649 539h3v1h-3zM650 538h1v3h-1zM659 497h3v1h-3zM660 496h1v3h-1zM669 530h3v1h-3zM670 529h1v3h-1zM679 545h3v1h-3zM680 544h1v3h-1zM689 545h3v1h-3zM690 544h1v3h-1z" fill="#4090c0" stroke="none"/>
<polyline class="l" points="60.5,545.5 70.5,545.5 80.5,545.5 90.5,545.5 100.5,545.5 110.5,545.5 120.5,545.5 130.5,545.5 140.5,545.5 150.5,545.5 160.5,545.5 170.5,545.5 180.5,545.5 190.5,545.5 200.5,545.5 210.5,545.5 220.5,545.5 230.5,545.5 240.5,545.5 250.5,545.5 260.5,545.5 270.5,545.5 280.5,545.5 290.5,545.5 300.5,545.5 310.5,545.5 320.5,545.5 330.5,545.5 340.5,545.5 350.5,545.5 360.5,545.5 370.5,545.5 380.5,545.5 390.5,541.5 400.5,541.5 410.5,540.5 420.5,545.5 430.5,544.5 440.5,545.5 450.5,543.5 460.5,540.5 470.5,545.5 480.5,539.5 490.5,520.5 500.5,533.5 510.5,540.5 520.5,487.5 530.5,528.5 540.5,545.5 550.5,545.5 560.5,525.5 570.5,516.5 580.5,533.5 590.5,545.5 600.5,541.5 610.5,543.5 620.5,545.5 630.5,525.5 640.5,487.5 650.5,530.5 660.5,545.5 670.5,540.5 680.5,541.5 690.5,545.5" stroke="#e0a050" stroke-width="1"/><path d="M59 545h3v1h-3zM60 544h1v3h-1zM69 545h3v1h-3zM70 544h1v3h-1zM79 545h3v1h-3zM80 544h1v3h-1zM89 545h3v1h-3zM90 544h1v3h-1zM99 545h3v1h-3zM100 544h1v3h-1zM109 545h3v1h-3zM110 544h1v3h-1zM119 545h3v1h-3zM120 544h1v3h-1zM129 545h3v1h-3zM130 544h1v3h-1zM139 545h3v1h-3zM140 544h1v3h-1zM149 545h3v1h-3zM150 544h1v3h-1zM159 545h3v1h-3zM160 544h1v3h-1zM169 545h3v1h-3zM170 544h1v3h-1zM179 545h3v1h-3zM180 544h1v3h-1zM189 545h3v1h-3zM190 544h1v3h-1zM199 545h3v1h-3zM200 544h1v3h-1zM209 545h3v1h-3zM210 544h1v3h-1zM219 545h3v1h-3zM220 544h1v3h-1zM229 545h3v1h-3zM230 544h1v3h-1zM239 545h3v1h-3zM240 544h1v3h-1zM249 545h3v1h-3zM250 544h1v3h-1zM259 545h3v1h-3zM260 544h1v3h-1zM269 545h3v1h-3zM270 544h1v3h-1zM279 545h3v1h-3zM280 544h1v3h-1zM289 545h3v1h-3zM290 544h1v3h-1zM299 545h3v1h-3zM300 544h1v3h-1zM309 545h3v1h-3zM310 544h1v3h-1zM319 545h3v1h-3zM320 544h1v3h-1zM329 545h3v1h-3zM330 544h1v3h-1zM339 545h3v1h-3zM340 544h1v3h-1zM349 545h3v1h-3zM350 544h1v3h-1zM359 545h3v1h-3zM360 544h1v3h-1zM369 545h3v1h-3zM370 544h1v3h-1zM379 545h3v1h-3zM380 544h1v3h-1zM389 541h3v1h-3zM390 540h1v3h-1zM399 541h3v1h-3zM400 540h1v3h-1zM409 540h3v1h-3zM410 539h1v3h-1zM419 545h3v1h-3zM420 544h1v3h-1zM429 544h3v1h-3zM430 543h1v3h-1zM439 545h3v1h-3zM440 544h1v3h-1zM449 543h3v1h-3zM450 542h1v3h-1zM459 540h3v1h-3zM460 539h1v3h-1zM469 545h3v1h-3zM470 544h1v3h-1zM479 539h3v1h-3zM480 538h1v3h-1zM489 520h3v1h-3zM490 519h1v3h-1zM499 533h3v1h-3zM500 532h1v3h-1zM509 540h3v1h-3zM510 539h1v3h-1zM519 487h3v1h-3zM520 486h1v3h-1zM529 528h3v1h-3zM530 527h1v3h-1zM539 545h3v1h-3zM540 544h1v3h-1zM549 545h3v1h-3zM550 544h1v3h-1zM559 525h3v1h-3zM560 524h1v3h-1zM569 516h3v1h-3zM570 515h1v3h-1zM579 533h3v1h-3zM580 532h1v3h-1zM589 545h3v1h-3zM590 544h1v3h-1zM599 541h3v1h-3zM600 540h1v3h-1zM609 543h3v1h-3zM610 542h1v3h-1zM619 545h3v1h-3zM620 544h1v3h-1zM629 525h3v1h-3zM630 524h1v3h-1zM639 487h3v1h-3zM640 486h1v3h-1zM649 530h3v1h-3zM650 529h1v3h-1zM659 545h3v1h-3zM660 544h1v3h-1zM669 540h3v1h-3zM670 539h1v3h-1zM679 541h3v1h-3zM680 540h1v3h-1zM689 545h3v1h-3zM690 544h1v3h-1z" fill="#e0a050" stroke="none"/>
<polyline class="l" points="60.5,545.5 70.5,545.5 80.5,545.5 90.5,545.5 100.5,545.5 110.5,545.5 120.5,545.5 130.5,545.5 140.5,545.5 150.5,545.5 160.5,545.5 170.5,545.5 180.5,545.5 190.5,545.5 200.5,545.5 210.5,545.5 220.5,545.5 230.5,545.5 240.5,545.5 250.5,545.5 260.5,545.5 270.5,545.5 280.5,545.5 290.5,545.5 300.5,545.5 310.5,545.5 320.5,545.5 330.5,545.5 340.5,545.5 350.5,545.5 360.5,545.5 370.5,545.5 380.5,545.5 390.5,545.5 400.5,543.5 410.5,543.5 420.5,545.5 430.5,545.5 440.5,545.5 450.5,544.5 460.5,545.5 470.5,545.5 480.5,508.5 490.5,545.5 500.5,545.5 510.5,545.5 520.5,542.5 530.5,543.5 540.5,545.5 550.5,543.5 560.5,543.5 570.5,545.5 580.5,545.5 590.5,544.5 600.5,545.5 610.5,545.5 620.5,540.5 630.5,545.5 640.5,545.5 650.5,545.5 660.5,545.5 670.5,545.5 680.5,540.5 690.5,545.5" stroke="#605020" stroke-width="1"/><path d="M59 545h3v1h-3zM60 544h1v3h-1zM69 545h3v1h-3zM70 544h1v3h-1zM79 545h3v1h-3zM80 544h1v3h-1zM89 545h3v1h-3zM90 544h1v3h-1zM99 545h3v1h-3zM100 544h1v3h-1zM109 545h3v1h-3zM110 544h1v3h-1zM119 545h3v1h-3zM120 544h1v3h-1zM129 545h3v1h-3zM130 544h1v3h-1zM139 545h3v1h-3zM140 544h1v3h-1zM149 545h3v1h-3zM150 544h1v3h-1zM159 545h3v1h-3zM160 544h1v3h-1zM169 545h3v1h-3zM170 544h1v3h-1zM179 545h3v1h-3zM180 544h1v3h-1zM189 545h3v1h-3zM190 544h1v3h-1zM199 545h3v1h-3zM200 544h1v3h-1zM209 545h3v1h-3zM210 544h1v3h-1zM219 545h3v1h-3zM220 544h1v3h-1zM229 545h3v1h-3zM230 544h1v3h-1zM239 545h3v1h-3zM240 544h1v3h-1zM249 545h3v1h-3zM250 544h1v3h-1zM259 545h3v1h-3zM260 544h1v3h-1zM269 545h3v1h-3zM270 544h1v3h-1zM279 545h3v1h-3zM280 544h1v3h-1zM289 545h3v1h-3zM290 544h1v3h-1zM299 545h3v1h-3zM300 544h1v3h-1zM309 545h3v1h-3zM310 544h1v3h-1zM319 545h3v1h-3zM320 544h1v3h-1zM329 545h3v1h-3zM330 544h1v3h-1zM339 545h3v1h-3zM340 544h1v3h-1zM349 545h3v1h-3zM350 544h1v3h-1zM359 545h3v1h-3zM360 544h1v3h-1zM369 545h3v1h-3zM370 544h1v3h-1zM379 545h3v1h-3zM380 544h1v3h-1zM389 545h3v1h-3zM390 544h1v3h-1zM399 543h3v1h-3zM400 542h1v3h-1zM409 543h3v1h-3zM410 542h1v3h-1zM419 545h3v1h-3zM420 544h1v3h-1zM429 545h3v1h-3zM430 544h1v3h-1zM439 545h3v1h-3zM440 544h1v3h-1zM449 544h3v1h-3zM450 543h1v3h-1zM459 545h3v1h-3zM460 544h1v3h-1zM469 545h3v1h-3zM470 544h1v3h-1zM479 508h3v1h-3zM480 507h1v3h-1zM489 545h3v1h-3zM490 544h1v3h-1zM499 545h3v1h-3zM500 544h1v3h-1zM509 545h3v1h-3zM510 544h1v3h-1zM519 542h3v1h-3zM520 541h1v3h-1zM529 543h3v1h-3zM530 542h1v3h-1zM539 545h3v1h-3zM540 544h1v3h-1zM549 543h3v1h-3zM550 542h1v3h-1zM559 543h3v1h-3zM560 542h1v3h-1zM569 545h3v1h-3zM570 544h1v3h-1zM579 545h3v1h-3zM580 544h1v3h-1zM589 544h3v1h-3zM590 543h1v3h-1zM599 545h3v1h-3zM600 544h1v3h-1zM609 545h3v1h-3zM610 544h1v3h-1zM619 540h3v1h-3zM620 539h1v3h-1zM629 545h3v1h-3zM630 544h1v3h-1zM639 545h3v1h-3zM640 544h1v3h-1zM649 545h3v1h-3zM650 544h1v3h-1zM659 545h3v1h-3zM660 544h1v3h-1zM669 545h3v1h-3zM670 544h1v3h-1zM679 540h3v1h-3zM680 539h1v3h-1zM689 545h3v1h-3zM690 544h1v3h-1z" fill="#605020" stroke="none"/>
<polyline class="l" points="60.5,545.5 70.5,545.5 80.5,545.5 90.5,545.5 100.5,545.5 110.5,545.5 120.5,545.5 130.5,545.5 140.5,545.5 150.5,545.5 160.5,545.5 170.5,545.5 180.5,545.5 190.5,545.5 200.5,545.5 210.5,545.5 220.5,545.5 230.5,545.5 240.5,545.5 250.5,545.5 260.5,545.5 270.5,545.5 280.5,545.5 290.5,545.5 300.5,545.5 310.5,545.5 320.5,545.5 330.5,545.5 340.5,545.5 350.5,545.5 360.5,545.5 370.5,545.5 380.5,545.5 390.5,544.5 400.5,543.5 410.5,544.5 420.5,543.5 430.5,545.5 440.5,543.5 450.5,545.5 460.5,545.5 470.5,484.5 480.5,545.5 490.5,545.5 500.5,542.5 510.5,544.5 520.5,540.5 530.5,545.5 540.5,545.5 550.5,545.5 560.5,545.5 570.5,540.5 580.5,545.5 590.5,545.5 600.5,543.5 610.5,545.5 620.5,541.5 630.5,545.5 640.5,545.5 650.5,545.5 660.5,545.5 670.5,544.5 680.5,544.5 690.5,545.5" stroke="#f06020" stroke-width="1"/><path d="M59 545h3v1h-3zM60 544h1v3h-1zM69 545h3v1h-3zM70 544h1v3h-1zM79 545h3v1h-3zM80 544h1v3h-1zM89 545h3v1h-3zM90 544h1v3h-1zM99 545h3v1h-3zM100 544h1v3h-1zM109 545h3v1h-3zM110 544h1v3h-1zM119 545h3v1h-3zM120 544h1v3h-1zM129 545h3v1h-3zM130 544h1v3h-1zM139 545h3v1h-3zM140 544h1v3h-1zM149 545h3v1h-3zM150 544h1v3h-1zM159 545h3v1h-3zM160 544h1v3h-1zM169 545h3v1h-3zM170 544h1v3h-1zM179 545h3v1h-3zM180 544h1v3h-1zM189 545h3v1h-3zM190 544h1v3h-1zM199 545h3v1h-3zM200 544h1v3h-1zM209 545h3v1h-3zM210 544h1v3h-1zM219 545h3v1h-3zM220 544h1v3h-1zM229 545h3v1h-3zM230 544h1v3h-1zM239 545h3v1h-3zM240 544h1v3h-1zM249 545h3v1h-3zM250 544h1v3h-1zM259 545h3v1h-3zM260 544h1v3h-1zM269 545h3v1h-3zM270 544h1v3h-1zM279 545h3v1h-3zM280 544h1v3h-1zM289 545h3v1h-3zM290 544h1v3h-1zM299 545h3v1h-3zM300 544h1v3h-1zM309 545h3v1h-3zM310 544h1v3h-1zM319 545h3v1h-3zM320 544h1v3h-1zM329 545h3v1h-3zM330 544h1v3h-1zM339 545h3v1h-3zM340 544h1v3h-1zM349 545h3v1h-3zM350 544h1v3h-1zM359 545h3v1h-3zM360 544h1v3h-1zM369 545h3v1h-3zM370 544h1v3h-1zM379 545h3v1h-3zM380 544h1v3h-1zM389 544h3v1h-3zM390 543h1v3h-1zM399 543h3v1h-3zM400 542h1v3h-1zM409 544h3v1h-3zM410 543h1v3h-1zM419 543h3v1h-3zM420 542h1v3h-1zM429 545h3v1h-3zM430 544h1v3h-1zM439 543h3v1h-3zM440 542h1v3h-1zM449 545h3v1h-3zM450 544h1v3h-1zM459 545h3v1h-3zM460 544h1v3h-1zM469 484h3v1h-3zM470 483h1v3h-1zM479 545h3v1h-3zM480 544h1v3h-1zM489 545h3v1h-3zM490 544h1v3h-1zM499 542h3v1h-3zM500 541h1v3h-1zM509 544h3v1h-3zM510 543h1v3h-1zM519 540h3v1h-3zM520 539h1v3h-1zM529 545h3v1h-3zM530 544h1v3h-1zM539 545h3v1h-3zM540 544h1v3h-1zM549 545h3v1h-3zM550 544h1v3h-1zM559 545h3v1h-3zM560 544h1v3h-1zM569 540h3v1h-3zM570 539h1v3h-1zM579 545h3v1h-3zM580 544h1v3h-1zM589 545h3v1h-3zM590 544h1v3h-1zM599 543h3v1h-3zM600 542h1v3h-1zM609 545h3v1h-3zM610 544h1v3h-1zM619 541h3v1h-3zM620 540h1v3h-1zM629 545h3v1h-3zM630 544h1v3h-1zM639 545h3v1h-3zM640 544h1v3h-1zM649 545h3v1h-3zM650 544h1v3h-1zM659 545h3v1h-3zM660 544h1v3h-1zM669 544h3v1h-3zM670 543h1v3h-1zM679 544h3v1h-3zM680 543h1v3h-1zM689 545h3v1h-3zM690 544h1v3h-1z" fill="#f06020" stroke="none"/>
<polyline class="l" points="60.5,545.5 70.5,545.5 80.5,545.5 90.5,545.5 100.5,545.5 110.5,545.5 120.5,545.5 130.5,545.5 140.5,545.5 150.5,545.5 160.5,545.5 170.5,545.5 180.5,545.5 190.5,545.5 200.5,545.5 210.5,545.5 220.5,545.5 230.5,545.5 240.5,545.5 250.5,545.5 260.5,545.5 270.5,545.5 280.5,545.5 290.5,545.5 300.5,545.5 310.5,545.5 320.5,545.5 330.5,545.5 340.5,545.5 350.5,545.5 360.5,545.5 370.5,545.5 380.5,545.5 390.5,545.5 400.5,545.5 410.5,540.5 420.5,545.5 430.5,545.5 440.5,543.5 450.5,540.5 460.5,545.5 470.5,542.5 480.5,545.5 490.5,545.5 500.5,543.5 510.5,545.5 520.5,545.5 530.5,545.5 540.5,545.5 550.5,543.5 560.5,545.5 570.5,545.5 580.5,543.5 590.5,545.5 600.5,540.5 610.5,543.5 620.5,545.5 630.5,541.5 640.5,545.5 650.5,542.5 660.5,543.5 670.5,545.5 680.5,541.5 690.5,545.5" stroke="#d0c080" stroke-width="1"/><path d="M59 545h3v1h-3zM60 544h1v3h-1zM69 545h3v1h-3zM70 544h1v3h-1zM79 545h3v1h-3zM80 544h1v3h-1zM89 545h3v1h-3zM90 544h1v3h-1zM99 545h3v1h-3zM100 544h1v3h-1zM109 545h3v1h-3zM110 544h1v3h-1zM119 545h3v1h-3zM120 544h1v3h-1zM129 545h3v1h-3zM130 544h1v3h-1zM139 545h3v1h-3zM140 544h1v3h-1zM149 545h3v1h-3zM150 544h1v3h-1zM159 545h3v1h-3zM160 544h1v3h-1zM169 545h3v1h-3zM170 544h1v3h-1zM179 545h3v1h-3zM180 544h1v3h-1zM189 545h3v1h-3zM190 544h1v3h-1zM199 545h3v1h-3zM200 544h1v3h-1zM209 545h3v1h-3zM210 544h1v3h-1zM219 545h3v1h-3zM220 544h1v3h-1zM229 545h3v1h-3zM230 544h1v3h-1zM239 545h3v1h-3zM240 544h1v3h-1zM249 545h3v1h-3zM250 544h1v3h-1zM259 545h3v1h-3zM260 544h1v3h-1zM269 545h3v1h-3zM270 544h1v3h-1zM279 545h3v1h-3zM280 544h1v3h-1zM289 545h3v1h-3zM290 544h1v3h-1zM299 545h3v1h-3zM300 544h1v3h-1zM309 545h3v1h-3zM310 544h1v3h-1zM319 545h3v1h-3zM320 544h1v3h-1zM329 545h3v1h-3zM330 544h1v3h-1zM339 545h3v1h-3zM340 544h1v3h-1zM349 545h3v1h-3zM350 544h1v3h-1zM359 545h3v1h-3zM360 544h1v3h-1zM369 545h3v1h-3zM370 544h1v3h-1zM379 545h3v1h-3zM380 544h1v3h-1zM389 545h3v1h-3zM390 544h1v3h-1zM399 545h3v1h-3zM400 544h1v3h-1zM409 540h3v1h-3zM410 539h1v3h-1zM419 545h3v1h-3zM420 544h1v3h-1zM429 545h3v1h-3zM430 544h1v3h-1zM439 543h3v1h-3zM440 542h1v3h-1zM449 540h3v1h-3zM450 539h1v3h-1zM459 545h3v1h-3zM460 544h1v3h-1zM469 542h3v1h-3zM470 541h1v3h-1zM479 545h3v1h-3zM480 544h1v3h-1zM489 545h3v1h-3zM490 544h1v3h-1zM499 543h3v1h-3zM500 542h1v3h-1zM509 545h3v1h-3zM510 544h1v3h-1zM519 545h3v1h-3zM520 544h1v3h-1zM529 545h3v1h-3zM530 544h1v3h-1zM539 545h3v1h-3zM540 544h1v3h-1zM549 543h3v1h-3zM550 542h1v3h-1zM559 545h3v1h-3zM560 544h1v3h-1zM569 545h3v1h-3zM570 544h1v3h-1zM579 543h3v1h-3zM580 542h1v3h-1zM589 545h3v1h-3zM590 544h1v3h-1zM599 540h3v1h-3zM600 539h1v3h-1zM609 543h3v1h-3zM610 542h1v3h-1zM619 545h3v1h-3zM620 544h1v3h-1zM629 541h3v1h-3zM630 540h1v3h-1zM639 545h3v1h-3zM640 544h1v3h-1zM649 542h3v1h-3zM650 541h1v3h-1zM659 543h3v1h-3zM660 542h1v3h-1zM669 545h3v1h-3zM670 544h1v3h-1zM679 541h3v1h-3zM680 540h1v3h-1zM689 545h3v1h-3zM690 544h1v3h-1z" fill="#d0c080" stroke="none"/>
<polyline class="l" points="60.5,545.5 70.5,545.5 80.5,545.5 90.5,545.5 100.5,545.5 110.5,545.5 120.5,545.5 130.5,545.5 140.5,545.5 150.5,545.5 160.5,545.5 170.5,545.5 180.5,545.5 190.5,545.5 200.5,545.5 210.5,545.5 220.5,545.5 230.5,545.5 240.5,545.5 250.5,545.5 260.5,545.5 270.5,545.5 280.5,545.5 290.5,545.5 300.5,545.5 310.5,545.5 320.5,545.5 330.5,545.5 340.5,545.5 350.5,545.5 360.5,545.5 370.5,545.5 380.5,545.5 390.5,542.5 400.5,543.5 410.5,545.5 420.5,545.5 430.5,543.5 440.5,545.5 450.5,545.5 460.5,543.5 470.5,545.5 480.5,541.5 490.5,545.5 500.5,544.5 510.5,540.5 520.5,545.5 530.5,545.5 540.5,544.5 550.5,545.5 560.5,539.5 570.5,510.5 580.5,527.5 590.5,545.5 600.5,543.5 610.5,545.5 620.5,545.5 630.5,484.5 640.5,464.5 650.5,539.5 660.5,545.5 670.5,542.5 680.5,544.5 690.5,545.5" stroke="#10d050" stroke-width="1"/><path d="M59 545h3v1h-3zM60 544h1v3h-1zM69 545h3v1h-3zM70 544h1v3h-1zM79 545h3v1h-3zM80 544h1v3h-1zM89 545h3v1h-3zM90 544h1v3h-1zM99 545h3v1h-3zM100 544h1v3h-1zM109 545h3v1h-3zM110 544h1v3h-1zM119 545h3v1h-3zM120 544h1v3h-1zM129 545h3v1h-3zM130 544h1v3h-1zM139 545h3v1h-3zM140 544h1v3h-1zM149 545h3v1h-3zM150 544h1v3h-1zM159 545h3v1h-3zM160 544h1v3h-1zM169 545h3v1h-3zM170 544h1v3h-1zM179 545h3v1h-3zM180 544h1v3h-1zM189 545h3v1h-3zM190 544h1v3h-1zM199 545h3v1h-3zM200 544h1v3h-1zM209 545h3v1h-3zM210 544h1v3h-1zM219 545h3v1h-3zM220 544h1v3h-1zM229 545h3v1h-3zM230 544h1v3h-1zM239 545h3v1h-3zM240 544h1v3h-1zM249 545h3v1h-3zM250 544h1v3h-1zM259 545h3v1h-3zM260 544h1v3h-1zM269 545h3v1h-3zM270 544h1v3h-1zM279 545h3v1h-3zM280 544h1v3h-1zM289 545h3v1h-3zM290 544h1v3h-1zM299 545h3v1h-3zM300 544h1v3h-1zM309 545h3v1h-3zM310 544h1v3h-1zM319 545h3v1h-3zM320 544h1v3h-1zM329 545h3v1h-3zM330 544h1v3h-1zM339 545h3v1h-3zM340 544h1v3h-1zM349 545h3v1h-3zM350 544h1v3h-1zM359 545h3v1h-3zM360 544h1v3h-1zM369 545h3v1h-3zM370 544h1v3h-1zM379 545h3v1h-3zM380 544h1v3h-1zM389 542h3v1h-3zM390 541h1v3h-1zM399 543h3v1h-3zM400 542h1v3h-1zM409 545h3v1h-3zM410 544h1v3h-1zM419 545h3v1h-3zM420 544h1v3h-1zM429 543h3v1h-3zM430 542h1v3h-1zM439 545h3v1h-3zM440 544h1v3h-1zM449 545h3v1h-3zM450 544h1v3h-1zM459 543h3v1h-3zM460 542h1v3h-1zM469 545h3v1h-3zM470 544h1v3h-1zM479 541h3v1h-3zM480 540h1v3h-1zM489 545h3v1h-3zM490 544h1v3h-1zM499 544h3v1h-3zM500 543h1v3h-1zM509 540h3v1h-3zM510 539h1v3h-1zM519 545h3v1h-3zM520 544h1v3h-1zM529 545h3v1h-3zM530 544h1v3h-1zM539 544h3v1h-3zM540 543h1v3h-1zM549 545h3v1h-3zM550 544h1v3h-1zM559 539h3v1h-3zM560 538h1v3h-1zM569 510h3v1h-3zM570 509h1v3h-1zM579 527h3v1h-3zM580 526h1v3h-1zM589 545h3v1h-3zM590 544h1v3h-1zM599 543h3v1h-3zM600 542h1v3h-1zM609 545h3v1h-3zM610 544h1v3h-1zM619 545h3v1h-3zM620 544h1v3h-1zM629 484h3v1h-3zM630 483h1v3h-1zM639 464h3v1h-3zM640 463h1v3h-1zM649 539h3v1h-3zM650 538h1v3h-1zM659 545h3v1h-3zM660 544h1v3h-1zM669 542h3v1h-3zM670 541h1v3h-1zM679 544h3v1h-3zM680 543h1v3h-1zM689 545h3v1h-3zM690 544h1v3h-1z" fill="#10d050" stroke="none"/>
<polyline class="l" points="60.5,545.5 70.5,545.5 80.5,545.5 90.5,545.5 100.5,545.5 110.5,545.5 120.5,545.5 130.5,545.5 140.5,545.5 150.5,545.5 160.5,545.5 170.5,545.5 180.5,545.5 190.5,545.5 200.5,545.5 210.5,545.5 220.5,545.5 230.5,545.5 240.5,545.5 250.5,545.5 260.5,545.5 270.5,545.5 280.5,545.5 290.5,545.5 300.5,545.5 310.5,545.5 320.5,545.5 330.5,545.5 340.5,545.5 350.5,545.5 360.5,545.5 370.5,545.5 380.5,545.5 390.5,545.5 400.5,545.5 410.5,545.5 420.5,545.5 430.5,543.5 440.5,543.5 450.5,545.5 460.5,545.5 470.5,545.5 480.5,543.5 490.5,545.5 500.5,545.5 510.5,539.5 520.5,464.5 530.5,448.5 540.5,507.5 550.5,528.5 560.5,528.5 570.5,539.5 580.5,545.5 590.5,541.5 600.5,545.5 610.5,542.5 620.5,541.5 630.5,540.5 640.5,545.5 650.5,545.5 660.5,543.5 670.5,545.5 680.5,545.5 690.5,545.5" stroke="#204060" stroke-width="1"/><path d="M59 545h3v1h-3zM60 544h1v3h-1zM69 545h3v1h-3zM70 544h1v3h-1zM79 545h3v1h-3zM80 544h1v3h-1zM89 545h3v1h-3zM90 544h1v3h-1zM99 545h3v1h-3zM100 544h1v3h-1zM109 545h3v1h-3zM110 544h1v3h-1zM119 545h3v1h-3zM120 544h1v3h-1zM129 545h3v1h-3zM130 544h1v3h-1zM139 545h3v1h-3zM140 544h1v3h-1zM149 545h3v1h-3zM150 544h1v3h-1zM159 545h3v1h-3zM160 544h1v3h-1zM169 545h3v1h-3zM170 544h1v3h-1zM179 545h3v1h-3zM180 544h1v3h-1zM189 545h3v1h-3zM190 544h1v3h-1zM199 545h3v1h-3zM200 544h1v3h-1zM209 545h3v1h-3zM210 544h1v3h-1zM219 545h3v1h-3zM220 544h1v3h-1zM229 545h3v1h-3zM230 544h1v3h-1zM239 545h3v1h-3zM240 544h1v3h-1zM249 545h3v1h-3zM250 544h1v3h-1zM259 545h3v1h-3zM260 544h1v3h-1zM269 545h3v1h-3zM270 544h1v3h-1zM279 545h3v1h-3zM280 544h1v3h-1zM289 545h3v1h-3zM290 544h1v3h-1zM299 545h3v1h-3zM300 544h1v3h-1zM309 545h3v1h-3zM310 544h1v3h-1zM319 545h3v1h-3zM320 544h1v3h-1zM329 545h3v1h-3zM330 544h1v3h-1zM339 545h3v1h-3zM340 544h1v3h-1zM349 545h3v1h-3zM350 544h1v3h-1zM359 545h3v1h-3zM360 544h1v3h-1zM369 545h3v1h-3zM370 544h1v3h-1zM379 545h3v1h-3zM380 544h1v3h-1zM389 545h3v1h-3zM390 544h1v3h-1zM399 545h3v1h-3zM400 544h1v3h-1zM409 545h3v1h-3zM410 544h1v3h-1zM419 545h3v1h-3zM420 544h1v3h-1zM429 543h3v1h-3zM430 542h1v3h-1zM439 543h3v1h-3zM440 542h1v3h-1zM449 545h3v1h-3zM450 544h1v3h-1zM459 545h3v1h-3zM460 544h1v3h-1zM469 545h3v1h-3zM470 544h1v3h-1zM479 543h3v1h-3zM480 542h1v3h-1zM489 545h3v1h-3zM490 544h1v3h-1zM499 545h3v1h-3zM500 544h1v3h-1zM509 539h3v1h-3zM510 538h1v3h-1zM519 464h3v1h-3zM520 463h1v3h-1zM529 448h3v1h-3zM530 447h1v3h-1zM539 507h3v1h-3zM540 506h1v3h-1zM549 528h3v1h-3zM550 527h1v3h-1zM559 528h3v1h-3zM560 527h1v3h-1zM569 539h3v1h-3zM570 538h1v3h-1zM579 545h3v1h-3zM580 544h1v3h-1zM589 541h3v1h-3zM590 540h1v3h-1zM599 545h3v1h-3zM600 544h1v3h-1zM609 542h3v1h-3zM610 541h1v3h-1zM619 541h3v1h-3zM620 540h1v3h-1zM629 540h3v1h-3zM630 539h1v3h-1zM639 545h3v1h-3zM640 544h1v3h-1zM649 545h3v1h-3zM650 544h1v3h-1zM659 543h3v1h-3zM660 542h1v3h-1zM669 545h3v1h-3zM670 544h1v3h-1zM679 545h3v1h-3zM680 544h1v3h-1zM689 545h3v1h-3zM690 544h1v3h-1z" fill="#204060" stroke="none"/>
<polyline class="l" points="60.5,545.5 70.5,545.5 80.5,545.5 90.5,545.5 100.5,545.5 110.5,545.5 120.5,545.5 130.5,545.5 140.5,545.5 150.5,545.5 160.5,545.5 170.5,545.5 180.5,545.5 190.5,545.5 200.5,545.5 210.5,545.5 220.5,545.5 230.5,545.5 240.5,545.5 250.5,545.5 260.5,545.5 270.5,545.5 280.5,545.5 290.5,545.5 300.5,545.5 310.5,545.5 320.5,545.5 330.5,545.5 340.5,545.5 350.5,545.5 360.5,545.5 370.5,545.5 380.5,545.5 390.5,545.5 400.5,539.5 410.5,505.5 420.5,539.5 430.5,545.5 440.5,540.5 450.5,542.5 460.5,545.5 470.5,545.5 480.5,545.5 490.5,545.5 500.5,545.5 510.5,545.5 520.5,543.5 530.5,545.5 540.5,545.5 550.5,540.5 560.5,544.5 570.5,545.5 580.5,543.5 590.5,545.5 600.5,545.5 610.5,545.5 620.5,545.5 630.5,543.5 640.5,543.5 650.5,540.5 660.5,545.5 670.5,533.5 680.5,528.5 690.5,545.5" stroke="#687078" stroke-width="1"/><path d="M59 545h3v1h-3zM60 544h1v3h-1zM69 545h3v1h-3zM70 544h1v3h-1zM79 545h3v1h-3zM80 544h1v3h-1zM89 545h3v1h-3zM90 544h1v3h-1zM99 545h3v1h-3zM100 544h1v3h-1zM109 545h3v1h-3zM110 544h1v3h-1zM119 545h3v1h-3zM120 544h1v3h-1zM129 545h3v1h-3zM130 544h1v3h-1zM139 545h3v1h-3zM140 544h1v3h-1zM149 545h3v1h-3zM150 544h1v3h-1zM159 545h3v1h-3zM160 544h1v3h-1zM169 545h3v1h-3zM170 544h1v3h-1zM179 545h3v1h-3zM180 544h1v3h-1zM189 545h3v1h-3zM190 544h1v3h-1zM199 545h3v1h-3zM200 544h1v3h-1zM209 545h3v1h-3zM210 544h1v3h-1zM219 545h3v1h-3zM220 544h1v3h-1zM229 545h3v1h-3zM230 544h1v3h-1zM239 545h3v1h-3zM240 544h1v3h-1zM249 545h3v1h-3zM250 544h1v3h-1zM259 545h3v1h-3zM260 544h1v3h-1zM269 545h3v1h-3zM270 544h1v3h-1zM279 545h3v1h-3zM280 544h1v3h-1zM289 545h3v1h-3zM290 544h1v3h-1zM299 545h3v1h-3zM300 544h1v3h-1zM309 545h3v1h-3zM310 544h1v3h-1zM319 545h3v1h-3zM320 544h1v3h-1zM329 545h3v1h-3zM330 544h1v3h-1zM339 545h3v1h-3zM340 544h1v3h-1zM349 545h3v1h-3zM350 544h1v3h-1zM359 545h3v1h-3zM360 544h1v3h-1zM369 545h3v1h-3zM370 544h1v3h-1zM379 545h3v1h-3zM380 544h1v3h-1zM389 545h3v1h-3zM390 544h1v3h-1zM399 539h3v1h-3zM400 538h1v3h-1zM409 505h3v1h-3zM410 504h1v3h-1zM419 539h3v1h-3zM420 538h1v3h-1zM429 545h3v1h-3zM430 544h1v3h-1zM439 540h3v1h-3zM440 539h1v3h-1zM449 542h3v1h-3zM450 541h1v3h-1zM459 545h3v1h-3zM460 544h1v3h-1zM469 545h3v1h-3zM470 544h1v3h-1zM479 545h3v1h-3zM480 544h1v3h-1zM489 545h3v1h-3zM490 544h1v3h-1zM499 545h3v1h-3zM500 544h1v3h-1zM509 545h3v1h-3zM510 544h1v3h-1zM519 543h3v1h-3zM520 542h1v3h-1zM529 545h3v1h-3zM530 544h1v3h-1zM539 545h3v1h-3zM540 544h1v3h-1zM549 540h3v1h-3zM550 539h1v3h-1zM559 544h3v1h-3zM560 543h1v3h-1zM569 545h3v1h-3zM570 544h1v3h-1zM579 543h3v1h-3zM580 542h1v3h-1zM589 545h3v1h-3zM590 544h1v3h-1zM599 545h3v1h-3zM600 544h1v3h-1zM609 545h3v1h-3zM610 544h1v3h-1zM619 545h3v1h-3zM620 544h1v3h-1zM629 543h3v1h-3zM630 542h1v3h-1zM639 543h3v1h-3zM640 542h1v3h-1zM649 540h3v1h-3zM650 539h1v3h-1zM659 545h3v1h-3zM660 544h1v3h-1zM669 533h3v1h-3zM670 532h1v3h-1zM679 528h3v1h-3zM680 527h1v3h-1zM689 545h3v1h-3zM690 544h1v3h-1z" fill="#687078" stroke="none"/>
<polyline class="l" points="60.5,545.5 70.5,545.5 80.5,545.5 90.5,545.5 100.5,545.5 110.5,545.5 120.5,545.5 130.5,545.5 140.5,545.5 150.5,545.5 160.5,545.5 170.5,545.5 180.5,545.5 190.5,545.5 200.5,545.5 210.5,545.5 220.5,545.5 230.5,545.5 240.5,545.5 250.5,545.5 260.5,545.5 270.5,545.5 280.5,545.5 290.5,545.5 300.5,545.5 310.5,545.5 320.5,545.5 330.5,545.5 340.5,545.5 350.5,545.5 360.5,545.5 370.5,545.5 380.5,545.5 390.5,545.5 400.5,545.5 410.5,469.5 420.5,545.5 430.5,543.5 440.5,545.5 450.5,545.5 460.5,545.5 470.5,542.5 480.5,540.5 490.5,543.5 500.5,541.5 510.5,545.5 520.5,544.5 530.5,545.5 540.5,545.5 550.5,540.5 560.5,545.5 570.5,545.5 580.5,545.5 590.5,545.5 600.5,543.5 610.5,545.5 620.5,527.5 630.5,545.5 640.5,545.5 650.5,545.5 660.5,545.5 670.5,545.5 680.5,544.5 690.5,545.5" stroke="#e080f0" stroke-width="1"/><path d="M59 545h3v1h-3zM60 544h1v3h-1zM69 545h3v1h-3zM70 544h1v3h-1zM79 545h3v1h-3zM80 544h1v3h-1zM89 545h3v1h-3zM90 544h1v3h-1zM99 545h3v1h-3zM100 544h1v3h-1zM109 545h3v1h-3zM110 544h1v3h-1zM119 545h3v1h-3zM120 544h1v3h-1zM129 545h3v1h-3zM130 544h1v3h-1zM139 545h3v1h-3zM140 544h1v3h-1zM149 545h3v1h-3zM150 544h1v3h-1zM159 545h3v1h-3zM160 544h1v3h-1zM169 545h3v1h-3zM170 544h1v3h-1zM179 545h3v1h-3zM180 544h1v3h-1zM189 545h3v1h-3zM190 544h1v3h-1zM199 545h3v1h-3zM200 544h1v3h-1zM209 545h3v1h-3zM210 544h1v3h-1zM219 545h3v1h-3zM220 544h1v3h-1zM229 545h3v1h-3zM230 544h1v3h-1zM239 545h3v1h-3zM240 544h1v3h-1zM249 545h3v1h-3zM250 544h1v3h-1zM259 545h3v1h-3zM260 544h1v3h-1zM269 545h3v1h-3zM270 544h1v3h-1zM279 545h3v1h-3zM280 544h1v3h-1zM289 545h3v1h-3zM290 544h1v3h-1zM299 545h3v1h-3zM300 544h1v3h-1zM309 545h3v1h-3zM310 544h1v3h-1zM319 545h3v1h-3zM320 544h1v3h-1zM329 545h3v1h-3zM330 544h1v3h-1zM339 545h3v1h-3zM340 544h1v3h-1zM349 545h3v1h-3zM350 544h1v3h-1zM359 545h3v1h-3zM360 544h1v3h-1zM369 545h3v1h-3zM370 544h1v3h-1zM379 545h3v1h-3zM380 544h1v3h-1zM389 545h3v1h-3zM390 544h1v3h-1zM399 545h3v1h-3zM400 544h1v3h-1zM409 469h3v1h-3zM410 468h1v3h-1zM419 545h3v1h-3zM420 544h1v3h-1zM429 543h3v1h-3zM430 542h1v3h-1zM439 545h3v1h-3zM440 544h1v3h-1zM449 545h3v1h-3zM450 544h1v3h-1zM459 545h3v1h-3zM460 544h1v3h-1zM469 542h3v1h-3zM470 541h1v3h-1zM479 540h3v1h-3zM480 539h1v3h-1zM489 543h3v1h-3zM490 542h1v3h-1zM499 541h3v1h-3zM500 540h1v3h-1zM509 545h3v1h-3zM510 544h1v3h-1zM519 544h3v1h-3zM520 543h1v3h-1zM529 545h3v1h-3zM530 544h1v3h-1zM539 545h3v1h-3zM540 544h1v3h-1zM549 540h3v1h-3zM550 539h1v3h-1zM559 545h3v1h-3zM560 544h1v3h-1zM569 545h3v1h-3zM570 544h1v3h-1zM579 545h3v1h-3zM580 544h1v3h-1zM589 545h3v1h-3zM590 544h1v3h-1zM599 543h3v1h-3zM600 542h1v3h-1zM609 545h3v1h-3zM610 544h1v3h-1zM619 527h3v1h-3zM620 526h1v3h-1zM629 545h3v1h-3zM630 544h1v3h-1zM639 545h3v1h-3zM640 544h1v3h-1zM649 545h3v1h-3zM650 544h1v3h-1zM659 545h3v1h-3zM660 544h1v3h-1zM669 545h3v1h-3zM670 544h1v3h-1zM679 544h3v1h-3zM680 543h1v3h-1zM689 545h3v1h-3zM690 544h1v3h-1z" fill="#e080f0" stroke="none"/>
<polyline class="l" points="60.5,545.5 70.5,545.5 80.5,545.5 90.5,545.5 100.5,545.5 110.5,545.5 120.5,545.5 130.5,545.5 140.5,545.5 150.5,545.5 160.5,545.5 170.5,545.5 180.5,545.5 190.5,545.5 200.5,545.5 210.5,545.5 220.5,545.5 230.5,545.5 240.5,545.5 250.5,545.5 260.5,545.5 270.5,545.5 280.5,545.5 290.5,545.5 300.5,545.5 310.5,545.5 320.5,545.5 330.5,545.5 340.5,545.5 350.5,545.5 360.5,545.5 370.5,545.5 380.5,545.5 390.5,545.5 400.5,540.5 410.5,545.5 420.5,545.5 430.5,545.5 440.5,545.5 450.5,453.5 460.5,506.5 470.5,545.5 480.5,545.5 490.5,540.5 500.5,545.5 510.5,539.5 520.5,493.5 530.5,516.5 540.5,545.5 550.5,541.5 560.5,543.5 570.5,545.5 580.5,543.5 590.5,545.5 600.5,545.5 610.5,545.5 620.5,545.5 630.5,545.5 640.5,541.5 650.5,544.5 660.5,545.5 670.5,545.5 680.5,545.5 690.5,545.5" stroke="#8020f0" stroke-width="1"/><path d="M59 545h3v1h-3zM60 544h1v3h-1zM69 545h3v1h-3zM70 544h1v3h-1zM79 545h3v1h-3zM80 544h1v3h-1zM89 545h3v1h-3zM90 544h1v3h-1zM99 545h3v1h-3zM100 544h1v3h-1zM109 545h3v1h-3zM110 544h1v3h-1zM119 545h3v1h-3zM120 544h1v3h-1zM129 545h3v1h-3zM130 544h1v3h-1zM139 545h3v1h-3zM140 544h1v3h-1zM149 545h3v1h-3zM150 544h1v3h-1zM159 545h3v1h-3zM160 544h1v3h-1zM169 545h3v1h-3zM170 544h1v3h-1zM179 545h3v1h-3zM180 544h1v3h-1zM189 545h3v1h-3zM190 544h1v3h-1zM199 545h3v1h-3zM200 544h1v3h-1zM209 545h3v1h-3zM210 544h1v3h-1zM219 545h3v1h-3zM220 544h1v3h-1zM229 545h3v1h-3zM230 544h1v3h-1zM239 545h3v1h-3zM240 544h1v3h-1zM249 545h3v1h-3zM250 544h1v3h-1zM259 545h3v1h-3zM260 544h1v3h-1zM269 545h3v1h-3zM270 544h1v3h-1zM279 545h3v1h-3zM280 544h1v3h-1zM289 545h3v1h-3zM290 544h1v3h-1zM299 545h3v1h-3zM300 544h1v3h-1zM309 545h3v1h-3zM310 544h1v3h-1zM319 545h3v1h-3zM320 544h1v3h-1zM329 545h3v1h-3zM330 544h1v3h-1zM339 545h3v1h-3zM340 544h1v3h-1zM349 545h3v1h-3zM350 544h1v3h-1zM359 545h3v1h-3zM360 544h1v3h-1zM369 545h3v1h-3zM370 544h1v3h-1zM379 545h3v1h-3zM380 544h1v3h-1zM389 545h3v1h-3zM390 544h1v3h-1zM399 540h3v1h-3zM400 539h1v3h-1zM409 545h3v1h-3zM410 544h1v3h-1zM419 545h3v1h-3zM420 544h1v3h-1zM429 545h3v1h-3zM430 544h1v3h-1zM439 545h3v1h-3zM440 544h1v3h-1zM449 453h3v1h-3zM450 452h1v3h-1zM459 506h3v1h-3zM460 505h1v3h-1zM469 545h3v1h-3zM470 544h1v3h-1zM479 545h3v1h-3zM480 544h1v3h-1zM489 540h3v1h-3zM490 539h1v3h-1zM499 545h3v1h-3zM500 544h1v3h-1zM509 539h3v1h-3zM510 538h1v3h-1zM519 493h3v1h-3zM520 492h1v3h-1zM529 516h3v1h-3zM530 515h1v3h-1zM539 545h3v1h-3zM540 544h1v3h-1zM549 541h3v1h-3zM550 540h1v3h-1zM559 543h3v1h-3zM560 542h1v3h-1zM569 545h3v1h-3zM570 544h1v3h-1zM579 543h3v1h-3zM580 542h1v3h-1zM589 545h3v1h-3zM590 544h1v3h-1zM599 545h3v1h-3zM600 544h1v3h-1zM609 545h3v1h-3zM610 544h1v3h-1zM619 545h3v1h-3zM620 544h1v3h-1zM629 545h3v1h-3zM630 544h1v3h-1zM639 541h3v1h-3zM640 540h1v3h-1zM649 544h3v1h-3zM650 543h1v3h-1zM659 545h3v1h-3zM660 544h1v3h-1zM669 545h3v1h-3zM670 544h1v3h-1zM679 545h3v1h-3zM680 544h1v3h-1zM689 545h3v1h-3zM690 544h1v3h-1z" fill="#8020f0" stroke="none"/>
<polyline class="l" points="60.5,545.5 70.5,545.5 80.5,545.5 90.5,545.5 100.5,545.5 110.5,545.5 120.5,545.5 130.5,545.5 140.5,545.5 150.5,545.5 160.5,545.5 170.5,545.5 180.5,545.5 190.5,545.5 200.5,545.5 210.5,545.5 220.5,545.5 230.5,545.5 240.5,545.5 250.5,545.5 260.5,545.5 270.5,545.5 280.5,545.5 290.5,545.5 300.5,545.5 310.5,545.5 320.5,545.5 330.5,545.5 340.5,545.5 350.5,545.5 360.5,545.5 370.5,545.5 380.5,545.5 390.5,545.5 400.5,544.5 410.5,545.5 420.5,545.5 430.5,543.5 440.5,540.5 450.5,545.5 460.5,545.5 470.5,541.5 480.5,545.5 490.5,543.5 500.5,545.5 510.5,545.5 520.5,545.5 530.5,545.5 540.5,543.5 550.5,545.5 560.5,545.5 570.5,545.5 580.5,545.5 590.5,540.5 600.5,541.5 610.5,541.5 620.5,542.5 630.5,545.5 640.5,539.5 650.5,504.5 660.5,530.5 670.5,545.5 680.5,545.5 690.5,545.5" stroke="#806030" stroke-width="1"/><path d="M59 545h3v1h-3zM60 544h1v3h-1zM69 545h3v1h-3zM70 544h1v3h-1zM79 545h3v1h-3zM80 544h1v3h-1zM89 545h3v1h-3zM90 544h1v3h-1zM99 545h3v1h-3zM100 544h1v3h-1zM109 545h3v1h-3zM110 544h1v3h-1zM119 545h3v1h-3zM120 544h1v3h-1zM129 545h3v1h-3zM130 544h1v3h-1zM139 545h3v1h-3zM140 544h1v3h-1zM149 545h3v1h-3zM150 544h1v3h-1zM159 545h3v1h-3zM160 544h1v3h-1zM169 545h3v1h-3zM170 544h1v3h-1zM179 545h3v1h-3zM180 544h1v3h-1zM189 545h3v1h-3zM190 544h1v3h-1zM199 545h3v1h-3zM200 544h1v3h-1zM209 545h3v1h-3zM210 544h1v3h-1zM219 545h3v1h-3zM220 544h1v3h-1zM229 545h3v1h-3zM230 544h1v3h-1zM239 545h3v1h-3zM240 544h1v3h-1zM249 545h3v1h-3zM250 544h1v3h-1zM259 545h3v1h-3zM260 544h1v3h-1zM269 545h3v1h-3zM270 544h1v3h-1zM279 545h3v1h-3zM280 544h1v3h-1zM289 545h3v1h-3zM290 544h1v3h-1zM299 545h3v1h-3zM300 544h1v3h-1zM309 545h3v1h-3zM310 544h1v3h-1zM319 545h3v1h-3zM320 544h1v3h-1zM329 545h3v1h-3zM330 544h1v3h-1zM339 545h3v1h-3zM340 544h1v3h-1zM349 545h3v1h-3zM350 544h1v3h-1zM359 545h3v1h-3zM360 544h1v3h-1zM369 545h3v1h-3zM370 544h1v3h-1zM379 545h3v1h-3zM380 544h1v3h-1zM389 545h3v1h-3zM390 544h1v3h-1zM399 544h3v1h-3zM400 543h1v3h-1zM409 545h3v1h-3zM410 544h1v3h-1zM419 545h3v1h-3zM420 544h1v3h-1zM429 543h3v1h-3zM430 542h1v3h-1zM439 540h3v1h-3zM440 539h1v3h-1zM449 545h3v1h-3zM450 544h1v3h-1zM459 545h3v1h-3zM460 544h1v3h-1zM469 541h3v1h-3zM470 540h1v3h-1zM479 545h3v1h-3zM480 544h1v3h-1zM489 543h3v1h-3zM490 542h1v3h-1zM499 545h3v1h-3zM500 544h1v3h-1zM509 545h3v1h-3zM510 544h1v3h-1zM519 545h3v1h-3zM520 544h1v3h-1zM529 545h3v1h-3zM530 544h1v3h-1zM539 543h3v1h-3zM540 542h1v3h-1zM549 545h3v1h-3zM550 544h1v3h-1zM559 545h3v1h-3zM560 544h1v3h-1zM569 545h3v1h-3zM570 544h1v3h-1zM579 545h3v1h-3zM580 544h1v3h-1zM589 540h3v1h-3zM590 539h1v3h-1zM599 541h3v1h-3zM600 540h1v3h-1zM609 541h3v1h-3zM610 540h1v3h-1zM619 542h3v1h-3zM620 541h1v3h-1zM629 545h3v1h-3zM630 544h1v3h-1zM639 539h3v1h-3zM640 538h1v3h-1zM649 504h3v1h-3zM650 503h1v3h-1zM659 530h3v1h-3zM660 529h1v3h-1zM669 545h3v1h-3zM670 544h1v3h-1zM679 545h3v1h-3zM680 544h1v3h-1zM689 545h3v1h-3zM690 544h1v3h-1z" fill="#806030" stroke="none"/>
<polyline class="l" points="60.5,545.5 70.5,545.5 80.5,545.5 90.5,545.5 100.5,545.5 110.5,545.5 120.5,545.5 130.5,545.5 140.5,545.5 150.5,545.5 160.5,545.5 170.5,545.5 180.5,545.5 190.5,545.5 200.5,545.5 210.5,545.5 220.5,545.5 230.5,545.5 240.5,545.5 250.5,545.5 260.5,545.5 270.5,545.5 280.5,545.5 290.5,545.5 300.5,545.5 310.5,545.5 320.5,545.5 330.5,545.5 340.5,545.5 350.5,545.5 360.5,545.5 370.5,545.5 380.5,545.5 390.5,545.5 400.5,542.5 410.5,545.5 420.5,543.5 430.5,545.5 440.5,540.5 450.5,545.5 460.5,545.5 470.5,545.5 480.5,545.5 490.5,545.5 500.5,545.5 510.5,544.5 520.5,540.5 530.5,540.5 540.5,545.5 550.5,543.5 560.5,545.5 570.5,545.5 580.5,545.5 590.5,545.5 600.5,545.5 610.5,545.5 620.5,545.5 630.5,545.5 640.5,543.5 650.5,545.5 660.5,541.5 670.5,545.5 680.5,545.5 690.5,545.5" stroke="#300870" stroke-width="1"/><path d="M59 545h3v1h-3zM60 544h1v3h-1zM69 545h3v1h-3zM70 544h1v3h-1zM79 545h3v1h-3zM80 544h1v3h-1zM89 545h3v1h-3zM90 544h1v3h-1zM99 545h3v1h-3zM100 544h1v3h-1zM109 545h3v1h-3zM110 544h1v3h-1zM119 545h3v1h-3zM120 544h1v3h-1zM129 545h3v1h-3zM130 544h1v3h-1zM139 545h3v1h-3zM140 544h1v3h-1zM149 545h3v1h-3zM150 544h1v3h-1zM159 545h3v1h-3zM160 544h1v3h-1zM169 545h3v1h-3zM170 544h1v3h-1zM179 545h3v1h-3zM180 544h1v3h-1zM189 545h3v1h-3zM190 544h1v3h-1zM199 545h3v1h-3zM200 544h1v3h-1zM209 545h3v1h-3zM210 544h1v3h-1zM219 545h3v1h-3zM220 544h1v3h-1zM229 545h3v1h-3zM230 544h1v3h-1zM239 545h3v1h-3zM240 544h1v3h-1zM249 545h3v1h-3zM250 544h1v3h-1zM259 545h3v1h-3zM260 544h1v3h-1zM269 545h3v1h-3zM270 544h1v3h-1zM279 545h3v1h-3zM280 544h1v3h-1zM289 545h3v1h-3zM290 544h1v3h-1zM299 545h3v1h-3zM300 544h1v3h-1zM309 545h3v1h-3zM310 544h1v3h-1zM319 545h3v1h-3zM320 544h1v3h-1zM329 545h3v1h-3zM330 544h1v3h-1zM339 545h3v1h-3zM340 544h1v3h-1zM349 545h3v1h-3zM350 544h1v3h-1zM359 545h3v1h-3zM360 544h1v3h-1zM369 545h3v1h-3zM370 544h1v3h-1zM379 545h3v1h-3zM380 544h1v3h-1zM389 545h3v1h-3zM390 544h1v3h-1zM399 542h3v1h-3zM400 541h1v3h-1zM409 545h3v1h-3zM410 544h1v3h-1zM419 543h3v1h-3zM420 542h1v3h-1zM429 545h3v1h-3zM430 544h1v3h-1zM439 540h3v1h-3zM440 539h1v3h-1zM449 545h3v1h-3zM450 544h1v3h-1zM459 545h3v1h-3zM460 544h1v3h-1zM469 545h3v1h-3zM470 544h1v3h-1zM479 545h3v1h-3zM480 544h1v3h-1zM489 545h3v1h-3zM490 544h1v3h-1zM499 545h3v1h-3zM500 544h1v3h-1zM509 544h3v1h-3zM510 543h1v3h-1zM519 540h3v1h-3zM520 539h1v3h-1zM529 540h3v1h-3zM530 539h1v3h-1zM539 545h3v1h-3zM540 544h1v3h-1zM549 543h3v1h-3zM550 542h1v3h-1zM559 545h3v1h-3zM560 544h1v3h-1zM569 545h3v1h-3zM570 544h1v3h-1zM579 545h3v1h-3zM580 544h1v3h-1zM589 545h3v1h-3zM590 544h1v3h-1zM599 545h3v1h-3zM600 544h1v3h-1zM609 545h3v1h-3zM610 544h1v3h-1zM619 545h3v1h-3zM620 544h1v3h-1zM629 545h3v1h-3zM630 544h1v3h-1zM639 543h3v1h-3zM640 542h1v3h-1zM649 545h3v1h-3zM650 544h1v3h-1zM659 541h3v1h-3zM660 540h1v3h-1zM669 545h3v1h-3zM670 544h1v3h-1zM679 545h3v1h-3zM680 544h1v3h-1zM689 545h3v1h-3zM690 544h1v3h-1z" fill="#300870" stroke="none"/>
<polyline class="l" points="60.5,545.5 70.5,545.5 80.5,545.5 90.5,545.5 100.5,545.5 110.5,545.5 120.5,545.5 130.5,545.5 140.5,545.5 150.5,545.5 160.5,545.5 170.5,545.5 180.5,545.5 190.5,545.5 200.5,545.5 210.5,545.5 220.5,545.5 230.5,545.5 240.5,545.5 250.5,545.5 260.5,545.5 270.5,545.5 280.5,545.5 290.5,545.5 300.5,545.5 310.5,545.5 320.5,545.5 330.5,545.5 340.5,545.5 350.5,545.5 360.5,545.5 370.5,545.5 380.5,545.5 390.5,545.5 400.5,545.5 410.5,545.5 420.5,545.5 430.5,545.5 440.5,545.5 450.5,542.5 460.5,545.5 470.5,545.5 480.5,545.5 490.5,545.5 500.5,545.5 510.5,508.5 520.5,545.5 530.5,542.5 540.5,545.5 550.5,544.5 560.5,545.5 570.5,544.5 580.5,545.5 590.5,545.5 600.5,545.5 610.5,545.5 620.5,545.5 630.5,543.5 640.5,545.5 650.5,543.5 660.5,545.5 670.5,543.5 680.5,545.5 690.5,545.5" stroke="#f0d010" stroke-width="1"/><path d="M59 545h3v1h-3zM60 544h1v3h-1zM69 545h3v1h-3zM70 544h1v3h-1zM79 545h3v1h-3zM80 544h1v3h-1zM89 545h3v1h-3zM90 544h1v3h-1zM99 545h3v1h-3zM100 544h1v3h-1zM109 545h3v1h-3zM110 544h1v3h-1zM119 545h3v1h-3zM120 544h1v3h-1zM129 545h3v1h-3zM130 544h1v3h-1zM139 545h3v1h-3zM140 544h1v3h-1zM149 545h3v1h-3zM150 544h1v3h-1zM159 545h3v1h-3zM160 544h1v3h-1zM169 545h3v1h-3zM170 544h1v3h-1zM179 545h3v1h-3zM180 544h1v3h-1zM189 545h3v1h-3zM190 544h1v3h-1zM199 545h3v1h-3zM200 544h1v3h-1zM209 545h3v1h-3zM210 544h1v3h-1zM219 545h3v1h-3zM220 544h1v3h-1zM229 545h3v1h-3zM230 544h1v3h-1zM239 545h3v1h-3zM240 544h1v3h-1zM249 545h3v1h-3zM250 544h1v3h-1zM259 545h3v1h-3zM260 544h1v3h-1zM269 545h3v1h-3zM270 544h1v3h-1zM279 545h3v1h-3zM280 544h1v3h-1zM289 545h3v1h-3zM290 544h1v3h-1zM299 545h3v1h-3zM300 544h1v3h-1zM309 545h3v1h-3zM310 544h1v3h-1zM319 545h3v1h-3zM320 544h1v3h-1zM329 545h3v1h-3zM330 544h1v3h-1zM339 545h3v1h-3zM340 544h1v3h-1zM349 545h3v1h-3zM350 544h1v3h-1zM359 545h3v1h-3zM360 544h1v3h-1zM369 545h3v1h-3zM370 544h1v3h-1zM379 545h3v1h-3zM380 544h1v3h-1zM389 545h3v1h-3zM390 544h1v3h-1zM399 545h3v1h-3zM400 544h1v3h-1zM409 545h3v1h-3zM410 544h1v3h-1zM419 545h3v1h-3zM420 544h1v3h-1zM429 545h3v1h-3zM430 544h1v3h-1zM439 545h3v1h-3zM440 544h1v3h-1zM449 542h3v1h-3zM450 541h1v3h-1zM459 545h3v1h-3zM460 544h1v3h-1zM469 545h3v1h-3zM470 544h1v3h-1zM479 545h3v1h-3zM480 544h1v3h-1zM489 545h3v1h-3zM490 544h1v3h-1zM499 545h3v1h-3zM500 544h1v3h-1zM509 508h3v1h-3zM510 507h1v3h-1zM519 545h3v1h-3zM520 544h1v3h-1zM529 542h3v1h-3zM530 541h1v3h-1zM539 545h3v1h-3zM540 544h1v3h-1zM549 544h3v1h-3zM550 543h1v3h-1zM559 545h3v1h-3zM560 544h1v3h-1zM569 544h3v1h-3zM570 543h1v3h-1zM579 545h3v1h-3zM580 544h1v3h-1zM589 545h3v1h-3zM590 544h1v3h-1zM599 545h3v1h-3zM600 544h1v3h-1zM609 545h3v1h-3zM610 544h1v3h-1zM619 545h3v1h-3zM620 544h1v3h-1zM629 543h3v1h-3zM630 542h1v3h-1zM639 545h3v1h-3zM640 544h1v3h-1zM649 543h3v1h-3zM650 542h1v3h-1zM659 545h3v1h-3zM660 544h1v3h-1zM669 543h3v1h-3zM670 542h1v3h-1zM679 545h3v1h-3zM680 544h1v3h-1zM689 545h3v1h-3zM690 544h1v3h-1z" fill="#f0d010" stroke="none"/>
<polyline class="l" points="60.5,545.5 70.5,545.5 80.5,545.5 90.5,545.5 100.5,545.5 110.5,545.5 120.5,545.5 130.5,545.5 140.5,545.5 150.5,545.5 160.5,545.5 170.5,545.5 180.5,545.5 190.5,545.5 200.5,545.5 210.5,545.5 220.5,545.5 230.5,545.5 240.5,545.5 250.5,545.5 260.5,545.5 270.5,545.5 280.5,545.5 290.5,545.5 300.5,545.5 310.5,545.5 320.5,545.5 330.5,545.5 340.5,545.5 350.5,545.5 360.5,545.5 370.5,545.5 380.5,545.5 390.5,544.5 400.5,545.5 410.5,539.5 420.5,520.5 430.5,528.5 440.5,539.5 450.5,545.5 460.5,545.5 470.5,545.5 480.5,543.5 490.5,544.5 500.5,545.5 510.5,541.5 520.5,545.5 530.5,545.5 540.5,545.5 550.5,542.5 560.5,545.5 570.5,543.5 580.5,540.5 590.5,545.5 600.5,543.5 610.5,545.5 620.5,545.5 630.5,545.5 640.5,545.5 650.5,541.5 660.5,544.5 670.5,545.5 680.5,542.5 690.5,545.5" stroke="#2060a0" stroke-width="1"/><path d="M59 545h3v1h-3zM60 544h1v3h-1zM69 545h3v1h-3zM70 544h1v3h-1zM79 545h3v1h-3zM80 544h1v3h-1zM89 545h3v1h-3zM90 544h1v3h-1zM99 545h3v1h-3zM100 544h1v3h-1zM109 545h3v1h-3zM110 544h1v3h-1zM119 545h3v1h-3zM120 544h1v3h-1zM129 545h3v1h-3zM130 544h1v3h-1zM139 545h3v1h-3zM140 544h1v3h-1zM149 545h3v1h-3zM150 544h1v3h-1zM159 545h3v1h-3zM160 544h1v3h-1zM169 545h3v1h-3zM170 544h1v3h-1zM179 545h3v1h-3zM180 544h1v3h-1zM189 545h3v1h-3zM190 544h1v3h-1zM199 545h3v1h-3zM200 544h1v3h-1zM209 545h3v1h-3zM210 544h1v3h-1zM219 545h3v1h-3zM220 544h1v3h-1zM229 545h3v1h-3zM230 544h1v3h-1zM239 545h3v1h-3zM240 544h1v3h-1zM249 545h3v1h-3zM250 544h1v3h-1zM259 545h3v1h-3zM260 544h1v3h-1zM269 545h3v1h-3zM270 544h1v3h-1zM279 545h3v1h-3zM280 544h1v3h-1zM289 545h3v1h-3zM290 544h1v3h-1zM299 545h3v1h-3zM300 544h1v3h-1zM309 545h3v1h-3zM310 544h1v3h-1zM319 545h3v1h-3zM320 544h1v3h-1zM329 545h3v1h-3zM330 544h1v3h-1zM339 545h3v1h-3zM340 544h1v3h-1zM349 545h3v1h-3zM350 544h1v3h-1zM359 545h3v1h-3zM360 544h1v3h-1zM369 545h3v1h-3zM370 544h1v3h-1zM379 545h3v1h-3zM380 544h1v3h-1zM389 544h3v1h-3zM390 543h1v3h-1zM399 545h3v1h-3zM400 544h1v3h-1zM409 539h3v1h-3zM410 538h1v3h-1zM419 520h3v1h-3zM420 519h1v3h-1zM429 528h3v1h-3zM430 527h1v3h-1zM439 539h3v1h-3zM440 538h1v3h-1zM449 545h3v1h-3zM450 544h1v3h-1zM459 545h3v1h-3zM460 544h1v3h-1zM469 545h3v1h-3zM470 544h1v3h-1zM479 543h3v1h-3zM480 542h1v3h-1zM489 544h3v1h-3zM490 543h1v3h-1zM499 545h3v1h-3zM500 544h1v3h-1zM509 541h3v1h-3zM510 540h1v3h-1zM519 545h3v1h-3zM520 544h1v3h-1zM529 545h3v1h-3zM530 544h1v3h-1zM539 545h3v1h-3zM540 544h1v3h-1zM549 542h3v1h-3zM550 541h1v3h-1zM559 545h3v1h-3zM560 544h1v3h-1zM569 543h3v1h-3zM570 542h1v3h-1zM579 540h3v1h-3zM580 539h1v3h-1zM589 545h3v1h-3zM590 544h1v3h-1zM599 543h3v1h-3zM600 542h1v3h-1zM609 545h3v1h-3zM610 544h1v3h-1zM619 545h3v1h-3zM620 544h1v3h-1zM629 545h3v1h-3zM630 544h1v3h-1zM639 545h3v1h-3zM640 544h1v3h-1zM649 541h3v1h-3zM650 540h1v3h-1zM659 544h3v1h-3zM660 543h1v3h-1zM669 545h3v1h-3zM670 544h1v3h-1zM679 542h3v1h-3zM680 541h1v3h-1zM689 545h3v1h-3zM690 544h1v3h-1z" fill="#2060a0" stroke="none"/>
<polyline class="l" points="60.5,545.5 70.5,545.5 80.5,545.5 90.5,545.5 100.5,545.5 110.5,545.5 120.5,545.5 130.5,545.5 140.5,545.5 150.5,545.5 160.5,545.5 170.5,545.5 180.5,545.5 190.5,545.5 200.5,545.5 210.5,545.5 220.5,545.5 230.5,545.5 240.5,545.5 250.5,545.5 260.5,545.5 270.5,545.5 280.5,545.5 290.5,545.5 300.5,545.5 310.5,545.5 320.5,545.5 330.5,545.5 340.5,545.5 350.5,545.5 360.5,542.5 370.5,537.5 380.5,545.5 390.5,545.5 400.5,539.5 410.5,535.5 420.5,531.5 430.5,545.5 440.5,545.5 450.5,545.5 460.5,545.5 470.5,545.5 480.5,545.5 490.5,545.5 500.5,545.5 510.5,543.5 520.5,545.5 530.5,543.5 540.5,545.5 550.5,545.5 560.5,540.5 570.5,545.5 580.5,545.5 590.5,545.5 600.5,542.5 610.5,545.5 620.5,545.5 630.5,545.5 640.5,543.5 650.5,545.5 660.5,545.5 670.5,545.5 680.5,545.5 690.5,545.5" stroke="#905820" stroke-width="1"/><path d="M59 545h3v1h-3zM60 544h1v3h-1zM69 545h3v1h-3zM70 544h1v3h-1zM79 545h3v1h-3zM80 544h1v3h-1zM89 545h3v1h-3zM90 544h1v3h-1zM99 545h3v1h-3zM100 544h1v3h-1zM109 545h3v1h-3zM110 544h1v3h-1zM119 545h3v1h-3zM120 544h1v3h-1zM129 545h3v1h-3zM130 544h1v3h-1zM139 545h3v1h-3zM140 544h1v3h-1zM149 545h3v1h-3zM150 544h1v3h-1zM159 545h3v1h-3zM160 544h1v3h-1zM169 545h3v1h-3zM170 544h1v3h-1zM179 545h3v1h-3zM180 544h1v3h-1zM189 545h3v1h-3zM190 544h1v3h-1zM199 545h3v1h-3zM200 544h1v3h-1zM209 545h3v1h-3zM210 544h1v3h-1zM219 545h3v1h-3zM220 544h1v3h-1zM229 545h3v1h-3zM230 544h1v3h-1zM239 545h3v1h-3zM240 544h1v3h-1zM249 545h3v1h-3zM250 544h1v3h-1zM259 545h3v1h-3zM260 544h1v3h-1zM269 545h3v1h-3zM270 544h1v3h-1zM279 545h3v1h-3zM280 544h1v3h-1zM289 545h3v1h-3zM290 544h1v3h-1zM299 545h3v1h-3zM300 544h1v3h-1zM309 545h3v1h-3zM310 544h1v3h-1zM319 545h3v1h-3zM320 544h1v3h-1zM329 545h3v1h-3zM330 544h1v3h-1zM339 545h3v1h-3zM340 544h1v3h-1zM349 545h3v1h-3zM350 544h1v3h-1zM359 542h3v1h-3zM360 541h1v3h-1zM369 537h3v1h-3zM370 536h1v3h-1zM379 545h3v1h-3zM380 544h1v3h-1zM389 545h3v1h-3zM390 544h1v3h-1zM399 539h3v1h-3zM400 538h1v3h-1zM409 535h3v1h-3zM410 534h1v3h-1zM419 531h3v1h-3zM420 530h1v3h-1zM429 545h3v1h-3zM430 544h1v3h-1zM439 545h3v1h-3zM440 544h1v3h-1zM449 545h3v1h-3zM450 544h1v3h-1zM459 545h3v1h-3zM460 544h1v3h-1zM469 545h3v1h-3zM470 544h1v3h-1zM479 545h3v1h-3zM480 544h1v3h-1zM489 545h3v1h-3zM490 544h1v3h-1zM499 545h3v1h-3zM500 544h1v3h-1zM509 543h3v1h-3zM510 542h1v3h-1zM519 545h3v1h-3zM520 544h1v3h-1zM529 543h3v1h-3zM530 542h1v3h-1zM539 545h3v1h-3zM540 544h1v3h-1zM549 545h3v1h-3zM550 544h1v3h-1zM559 540h3v1h-3zM560 539h1v3h-1zM569 545h3v1h-3zM570 544h1v3h-1zM579 545h3v1h-3zM580 544h1v3h-1zM589 545h3v1h-3zM590 544h1v3h-1zM599 542h3v1h-3zM600 541h1v3h-1zM609 545h3v1h-3zM610 544h1v3h-1zM619 545h3v1h-3zM620 544h1v3h-1zM629 545h3v1h-3zM630 544h1v3h-1zM639 543h3v1h-3zM640 542h1v3h-1zM649 545h3v1h-3zM650 544h1v3h-1zM659 545h3v1h-3zM660 544h1v3h-1zM669 545h3v1h-3zM670 544h1v3h-1zM679 545h3v1h-3zM680 544h1v3h-1zM689 545h3v1h-3zM690 544h1v3h-1z" fill="#905820" stroke="none"/>
<polyline class="l" points="60.5,545.5 70.5,545.5 80.5,545.5 90.5,545.5 100.5,545.5 110.5,545.5 120.5,545.5 130.5,545.5 140.5,545.5 150.5,545.5 160.5,545.5 170.5,545.5 180.5,545.5 190.5,545.5 200.5,545.5 210.5,545.5 220.5,545.5 230.5,545.5 240.5,545.5 250.5,545.5 260.5,545.5 270.5,545.5 280.5,545.5 290.5,545.5 300.5,545.5 310.5,545.5 320.5,545.5 330.5,539.5 340.5,532.5 350.5,545.5 360.5,539.5 370.5,527.5 380.5,539.5 390.5,539.5 400.5,539.5 410.5,545.5 420.5,545.5 430.5,540.5 440.5,545.5 450.5,545.5 460.5,544.5 470.5,543.5 480.5,545.5 490.5,545.5 500.5,543.5 510.5,545.5 520.5,545.5 530.5,543.5 540.5,543.5 550.5,545.5 560.5,541.5 570.5,541.5 580.5,540.5 590.5,545.5 600.5,542.5 610.5,545.5 620.5,541.5 630.5,545.5 640.5,545.5 650.5,542.5 660.5,545.5 670.5,545.5 680.5,545.5 690.5,545.5" stroke="#9888e8" stroke-width="1"/><path d="M59 545h3v1h-3zM60 544h1v3h-1zM69 545h3v1h-3zM70 544h1v3h-1zM79 545h3v1h-3zM80 544h1v3h-1zM89 545h3v1h-3zM90 544h1v3h-1zM99 545h3v1h-3zM100 544h1v3h-1zM109 545h3v1h-3zM110 544h1v3h-1zM119 545h3v1h-3zM120 544h1v3h-1zM129 545h3v1h-3zM130 544h1v3h-1zM139 545h3v1h-3zM140 544h1v3h-1zM149 545h3v1h-3zM150 544h1v3h-1zM159 545h3v1h-3zM160 544h1v3h-1zM169 545h3v1h-3zM170 544h1v3h-1zM179 545h3v1h-3zM180 544h1v3h-1zM189 545h3v1h-3zM190 544h1v3h-1zM199 545h3v1h-3zM200 544h1v3h-1zM209 545h3v1h-3zM210 544h1v3h-1zM219 545h3v1h-3zM220 544h1v3h-1zM229 545h3v1h-3zM230 544h1v3h-1zM239 545h3v1h-3zM240 544h1v3h-1zM249 545h3v1h-3zM250 544h1v3h-1zM259 545h3v1h-3zM260 544h1v3h-1zM269 545h3v1h-3zM270 544h1v3h-1zM279 545h3v1h-3zM280 544h1v3h-1zM289 545h3v1h-3zM290 544h1v3h-1zM299 545h3v1h-3zM300 544h1v3h-1zM309 545h3v1h-3zM310 544h1v3h-1zM319 545h3v1h-3zM320 544h1v3h-1zM329 539h3v1h-3zM330 538h1v3h-1zM339 532h3v1h-3zM340 531h1v3h-1zM349 545h3v1h-3zM350 544h1v3h-1zM359 539h3v1h-3zM360 538h1v3h-1zM369 527h3v1h-3zM370 526h1v3h-1zM379 539h3v1h-3zM380 538h1v3h-1zM389 539h3v1h-3zM390 538h1v3h-1zM399 539h3v1h-3zM400 538h1v3h-1zM409 545h3v1h-3zM410 544h1v3h-1zM419 545h3v1h-3zM420 544h1v3h-1zM429 540h3v1h-3zM430 539h1v3h-1zM439 545h3v1h-3zM440 544h1v3h-1zM449 545h3v1h-3zM450 544h1v3h-1zM459 544h3v1h-3zM460 543h1v3h-1zM469 543h3v1h-3zM470 542h1v3h-1zM479 545h3v1h-3zM480 544h1v3h-1zM489 545h3v1h-3zM490 544h1v3h-1zM499 543h3v1h-3zM500 542h1v3h-1zM509 545h3v1h-3zM510 544h1v3h-1zM519 545h3v1h-3zM520 544h1v3h-1zM529 543h3v1h-3zM530 542h1v3h-1zM539 543h3v1h-3zM540 542h1v3h-1zM549 545h3v1h-3zM550 544h1v3h-1zM559 541h3v1h-3zM560 540h1v3h-1zM569 541h3v1h-3zM570 540h1v3h-1zM579 540h3v1h-3zM580 539h1v3h-1zM589 545h3v1h-3zM590 544h1v3h-1zM599 542h3v1h-3zM600 541h1v3h-1zM609 545h3v1h-3zM610 544h1v3h-1zM619 541h3v1h-3zM620 540h1v3h-1zM629 545h3v1h-3zM630 544h1v3h-1zM639 545h3v1h-3zM640 544h1v3h-1zM649 542h3v1h-3zM650 541h1v3h-1zM659 545h3v1h-3zM660 544h1v3h-1zM669 545h3v1h-3zM670 544h1v3h-1zM679 545h3v1h-3zM680 544h1v3h-1zM689 545h3v1h-3zM690 544h1v3h-1z" fill="#9888e8" stroke="none"/>
<polyline class="l" points="60.5,545.5 70.5,545.5 80.5,545.5 90.5,545.5 100.5,545.5 110.5,545.5 120.5,545.5 130.5,545.5 140.5,545.5 150.5,545.5 160.5,545.5 170.5,545.5 180.5,545.5 190.5,545.5 200.5,545.5 210.5,545.5 220.5,545.5 230.5,545.5 240.5,545.5 250.5,545.5 260.5,545.5 270.5,545.5 280.5,545.5 290.5,545.5 300.5,545.5 310.5,545.5 320.5,545.5 330.5,545.5 340.5,545.5 350.5,545.5 360.5,545.5 370.5,545.5 380.5,545.5 390.5,545.5 400.5,543.5 410.5,545.5 420.5,544.5 430.5,545.5 440.5,539.5 450.5,524.5 460.5,499.5 470.5,545.5 480.5,545.5 490.5,544.5 500.5,545.5 510.5,542.5 520.5,544.5 530.5,543.5 540.5,544.5 550.5,544.5 560.5,545.5 570.5,545.5 580.5,545.5 590.5,545.5 600.5,539.5 610.5,459.5 620.5,519.5 630.5,545.5 640.5,545.5 650.5,545.5 660.5,544.5 670.5,545.5 680.5,545.5 690.5,545.5" stroke="#a0f040" stroke-width="1"/><path d="M59 545h3v1h-3zM60 544h1v3h-1zM69 545h3v1h-3zM70 544h1v3h-1zM79 545h3v1h-3zM80 544h1v3h-1zM89 545h3v1h-3zM90 544h1v3h-1zM99 545h3v1h-3zM100 544h1v3h-1zM109 545h3v1h-3zM110 544h1v3h-1zM119 545h3v1h-3zM120 544h1v3h-1zM129 545h3v1h-3zM130 544h1v3h-1zM139 545h3v1h-3zM140 544h1v3h-1zM149 545h3v1h-3zM150 544h1v3h-1zM159 545h3v1h-3zM160 544h1v3h-1zM169 545h3v1h-3zM170 544h1v3h-1zM179 545h3v1h-3zM180 544h1v3h-1zM189 545h3v1h-3zM190 544h1v3h-1zM199 545h3v1h-3zM200 544h1v3h-1zM209 545h3v1h-3zM210 544h1v3h-1zM219 545h3v1h-3zM220 544h1v3h-1zM229 545h3v1h-3zM230 544h1v3h-1zM239 545h3v1h-3zM240 544h1v3h-1zM249 545h3v1h-3zM250 544h1v3h-1zM259 545h3v1h-3zM260 544h1v3h-1zM269 545h3v1h-3zM270 544h1v3h-1zM279 545h3v1h-3zM280 544h1v3h-1zM289 545h3v1h-3zM290 544h1v3h-1zM299 545h3v1h-3zM300 544h1v3h-1zM309 545h3v1h-3zM310 544h1v3h-1zM319 545h3v1h-3zM320 544h1v3h-1zM329 545h3v1h-3zM330 544h1v3h-1zM339 545h3v1h-3zM340 544h1v3h-1zM349 545h3v1h-3zM350 544h1v3h-1zM359 545h3v1h-3zM360 544h1v3h-1zM369 545h3v1h-3zM370 544h1v3h-1zM379 545h3v1h-3zM380 544h1v3h-1zM389 545h3v1h-3zM390 544h1v3h-1zM399 543h3v1h-3zM400 542h1v3h-1zM409 545h3v1h-3zM410 544h1v3h-1zM419 544h3v1h-3zM420 543h1v3h-1zM429 545h3v1h-3zM430 544h1v3h-1zM439 539h3v1h-3zM440 538h1v3h-1zM449 524h3v1h-3zM450 523h1v3h-1zM459 499h3v1h-3zM460 498h1v3h-1zM469 545h3v1h-3zM470 544h1v3h-1zM479 545h3v1h-3zM480 544h1v3h-1zM489 544h3v1h-3zM490 543h1v3h-1zM499 545h3v1h-3zM500 544h1v3h-1zM509 542h3v1h-3zM510 541h1v3h-1zM519 544h3v1h-3zM520 543h1v3h-1zM529 543h3v1h-3zM530 542h1v3h-1zM539 544h3v1h-3zM540 543h1v3h-1zM549 544h3v1h-3zM550 543h1v3h-1zM559 545h3v1h-3zM560 544h1v3h-1zM569 545h3v1h-3zM570 544h1v3h-1zM579 545h3v1h-3zM580 544h1v3h-1zM589 545h3v1h-3zM590 544h1v3h-1zM599 539h3v1h-3zM600 538h1v3h-1zM609 459h3v1h-3zM610 458h1v3h-1zM619 519h3v1h-3zM620 518h1v3h-1zM629 545h3v1h-3zM630 544h1v3h-1zM639 545h3v1h-3zM640 544h1v3h-1zM649 545h3v1h-3zM650 544h1v3h-1zM659 544h3v1h-3zM660 543h1v3h-1zM669 545h3v1h-3zM670 544h1v3h-1zM679 545h3v1h-3zM680 544h1v3h-1zM689 545h3v1h-3zM690 544h1v3h-1z" fill="#a0f040" stroke="none"/>
<polyline class="l" points="60.5,545.5 70.5,545.5 80.5,545.5 90.5,545.5 100.5,545.5 110.5,545.5 120.5,545.5 130.5,545.5 140.5,545.5 150.5,545.5 160.5,545.5 170.5,545.5 180.5,545.5 190.5,545.5 200.5,545.5 210.5,545.5 220.5,545.5 230.5,545.5 240.5,545.5 250.5,545.5 260.5,545.5 270.5,545.5 280.5,545.5 290.5,545.5 300.5,545.5 310.5,545.5 320.5,545.5 330.5,545.5 340.5,545.5 350.5,545.5 360.5,545.5 370.5,545.5 380.5,545.5 390.5,545.5 400.5,544.5 410.5,545.5 420.5,545.5 430.5,541.5 440.5,540.5 450.5,542.5 460.5,541.5 470.5,545.5 480.5,544.5 490.5,544.5 500.5,545.5 510.5,543.5 520.5,542.5 530.5,545.5 540.5,545.5 550.5,545.5 560.5,543.5 570.5,541.5 580.5,545.5 590.5,545.5 600.5,545.5 610.5,545.5 620.5,545.5 630.5,545.5 640.5,545.5 650.5,545.5 660.5,545.5 670.5,540.5 680.5,545.5 690.5,545.5" stroke="#d070d0" stroke-width="1"/><path d="M59 545h3v1h-3zM60 544h1v3h-1zM69 545h3v1h-3zM70 544h1v3h-1zM79 545h3v1h-3zM80 544h1v3h-1zM89 545h3v1h-3zM90 544h1v3h-1zM99 545h3v1h-3zM100 544h1v3h-1zM109 545h3v1h-3zM110 544h1v3h-1zM119 545h3v1h-3zM120 544h1v3h-1zM129 545h3v1h-3zM130 544h1v3h-1zM139 545h3v1h-3zM140 544h1v3h-1zM149 545h3v1h-3zM150 544h1v3h-1zM159 545h3v1h-3zM160 544h1v3h-1zM169 545h3v1h-3zM170 544h1v3h-1zM179 545h3v1h-3zM180 544h1v3h-1zM189 545h3v1h-3zM190 544h1v3h-1zM199 545h3v1h-3zM200 544h1v3h-1zM209 545h3v1h-3zM210 544h1v3h-1zM219 545h3v1h-3zM220 544h1v3h-1zM229 545h3v1h-3zM230 544h1v3h-1zM239 545h3v1h-3zM240 544h1v3h-1zM249 545h3v1h-3zM250 544h1v3h-1zM259 545h3v1h-3zM260 544h1v3h-1zM269 545h3v1h-3zM270 544h1v3h-1zM279 545h3v1h-3zM280 544h1v3h-1zM289 545h3v1h-3zM290 544h1v3h-1zM299 545h3v1h-3zM300 544h1v3h-1zM309 545h3v1h-3zM310 544h1v3h-1zM319 545h3v1h-3zM320 544h1v3h-1zM329 545h3v1h-3zM330 544h1v3h-1zM339 545h3v1h-3zM340 544h1v3h-1zM349 545h3v1h-3zM350 544h1v3h-1zM359 545h3v1h-3zM360 544h1v3h-1zM369 545h3v1h-3zM370 544h1v3h-1zM379 545h3v1h-3zM380 544h1v3h-1zM389 545h3v1h-3zM390 544h1v3h-1zM399 544h3v1h-3zM400 543h1v3h-1zM409 545h3v1h-3zM410 544h1v3h-1zM419 545h3v1h-3zM420 544h1v3h-1zM429 541h3v1h-3zM430 540h1v3h-1zM439 540h3v1h-3zM440 539h1v3h-1zM449 542h3v1h-3zM450 541h1v3h-1zM459 541h3v1h-3zM460 540h1v3h-1zM469 545h3v1h-3zM470 544h1v3h-1zM479 544h3v1h-3zM480 543h1v3h-1zM489 544h3v1h-3zM490 543h1v3h-1zM499 545h3v1h-3zM500 544h1v3h-1zM509 543h3v1h-3zM510 542h1v3h-1zM519 542h3v1h-3zM520 541h1v3h-1zM529 545h3v1h-3zM530 544h1v3h-1zM539 545h3v1h-3zM540 544h1v3h-1zM549 545h3v1h-3zM550 544h1v3h-1zM559 543h3v1h-3zM560 542h1v3h-1zM569 541h3v1h-3zM570 540h1v3h-1zM579 545h3v1h-3zM580 544h1v3h-1zM589 545h3v1h-3zM590 544h1v3h-1zM599 545h3v1h-3zM600 544h1v3h-1zM609 545h3v1h-3zM610 544h1v3h-1zM619 545h3v1h-3zM620 544h1v3h-1zM629 545h3v1h-3zM630 544h1v3h-1zM639 545h3v1h-3zM640 544h1v3h-1zM649 545h3v1h-3zM650 544h1v3h-1zM659 545h3v1h-3zM660 544h1v3h-1zM669 540h3v1h-3zM670 539h1v3h-1zM679 545h3v1h-3zM680 544h1v3h-1zM689 545h3v1h-3zM690 544h1v3h-1z" fill="#d070d0" stroke="none"/>
<polyline class="l" points="60.5,545.5 70.5,545.5 80.5,545.5 90.5,545.5 100.5,545.5 110.5,545.5 120.5,545.5 130.5,545.5 140.5,545.5 150.5,545.5 160.5,545.5 170.5,545.5 180.5,545.5 190.5,545.5 200.5,545.5 210.5,545.5 220.5,545.5 230.5,545.5 240.5,545.5 250.5,545.5 260.5,545.5 270.5,545.5 280.5,545.5 290.5,545.5 300.5,545.5 310.5,545.5 320.5,545.5 330.5,545.5 340.5,545.5 350.5,545.5 360.5,545.5 370.5,545.5 380.5,545.5 390.5,545.5 400.5,545.5 410.5,545.5 420.5,545.5 430.5,545.5 440.5,545.5 450.5,543.5 460.5,540.5 470.5,541.5 480.5,541.5 490.5,541.5 500.5,545.5 510.5,545.5 520.5,545.5 530.5,543.5 540.5,545.5 550.5,545.5 560.5,545.5 570.5,543.5 580.5,545.5 590.5,545.5 600.5,545.5 610.5,545.5 620.5,545.5 630.5,545.5 640.5,545.5 650.5,545.5 660.5,543.5 670.5,545.5 680.5,543.5 690.5,545.5" stroke="#2000a0" stroke-width="1"/><path d="M59 545h3v1h-3zM60 544h1v3h-1zM69 545h3v1h-3zM70 544h1v3h-1zM79 545h3v1h-3zM80 544h1v3h-1zM89 545h3v1h-3zM90 544h1v3h-1zM99 545h3v1h-3zM100 544h1v3h-1zM109 545h3v1h-3zM110 544h1v3h-1zM119 545h3v1h-3zM120 544h1v3h-1zM129 545h3v1h-3zM130 544h1v3h-1zM139 545h3v1h-3zM140 544h1v3h-1zM149 545h3v1h-3zM150 544h1v3h-1zM159 545h3v1h-3zM160 544h1v3h-1zM169 545h3v1h-3zM170 544h1v3h-1zM179 545h3v1h-3zM180 544h1v3h-1zM189 545h3v1h-3zM190 544h1v3h-1zM199 545h3v1h-3zM200 544h1v3h-1zM209 545h3v1h-3zM210 544h1v3h-1zM219 545h3v1h-3zM220 544h1v3h-1zM229 545h3v1h-3zM230 544h1v3h-1zM239 545h3v1h-3zM240 544h1v3h-1zM249 545h3v1h-3zM250 544h1v3h-1zM259 545h3v1h-3zM260 544h1v3h-1zM269 545h3v1h-3zM270 544h1v3h-1zM279 545h3v1h-3zM280 544h1v3h-1zM289 545h3v1h-3zM290 544h1v3h-1zM299 545h3v1h-3zM300 544h1v3h-1zM309 545h3v1h-3zM310 544h1v3h-1zM319 545h3v1h-3zM320 544h1v3h-1zM329 545h3v1h-3zM330 544h1v3h-1zM339 545h3v1h-3zM340 544h1v3h-1zM349 545h3v1h-3zM350 544h1v3h-1zM359 545h3v1h-3zM360 544h1v3h-1zM369 545h3v1h-3zM370 544h1v3h-1zM379 545h3v1h-3zM380 544h1v3h-1zM389 545h3v1h-3zM390 544h1v3h-1zM399 545h3v1h-3zM400 544h1v3h-1zM409 545h3v1h-3zM410 544h1v3h-1zM419 545h3v1h-3zM420 544h1v3h-1zM429 545h3v1h-3zM430 544h1v3h-1zM439 545h3v1h-3zM440 544h1v3h-1zM449 543h3v1h-3zM450 542h1v3h-1zM459 540h3v1h-3zM460 539h1v3h-1zM469 541h3v1h-3zM470 540h1v3h-1zM479 541h3v1h-3zM480 540h1v3h-1zM489 541h3v1h-3zM490 540h1v3h-1zM499 545h3v1h-3zM500 544h1v3h-1zM509 545h3v1h-3zM510 544h1v3h-1zM519 545h3v1h-3zM520 544h1v3h-1zM529 543h3v1h-3zM530 542h1v3h-1zM539 545h3v1h-3zM540 544h1v3h-1zM549 545h3v1h-3zM550 544h1v3h-1zM559 545h3v1h-3zM560 544h1v3h-1zM569 543h3v1h-3zM570 542h1v3h-1zM579 545h3v1h-3zM580 544h1v3h-1zM589 545h3v1h-3zM590 544h1v3h-1zM599 545h3v1h-3zM600 544h1v3h-1zM609 545h3v1h-3zM610 544h1v3h-1zM619 545h3v1h-3zM620 544h1v3h-1zM629 545h3v1h-3zM630 544h1v3h-1zM639 545h3v1h-3zM640 544h1v3h-1zM649 545h3v1h-3zM650 544h1v3h-1zM659 543h3v1h-3zM660 542h1v3h-1zM669 545h3v1h-3zM670 544h1v3h-1zM679 543h3v1h-3zM680 542h1v3h-1zM689 545h3v1h-3zM690 544h1v3h-1z" fill="#2000a0" stroke="none"/>
<polyline class="l" points="60.5,545.5 70.5,545.5 80.5,545.5 90.5,545.5 100.5,545.5 110.5,545.5 120.5,545.5 130.5,545.5 140.5,545.5 150.5,545.5 160.5,545.5 170.5,545.5 180.5,545.5 190.5,545.5 200.5,545.5 210.5,545.5 220.5,545.5 230.5,545.5 240.5,545.5 250.5,545.5 260.5,545.5 270.5,545.5 280.5,545.5 290.5,545.5 300.5,545.5 310.5,545.5 320.5,545.5 330.5,545.5 340.5,545.5 350.5,545.5 360.5,545.5 370.5,545.5 380.5,545.5 390.5,541.5 400.5,545.5 410.5,542.5 420.5,545.5 430.5,543.5 440.5,545.5 450.5,545.5 460.5,545.5 470.5,541.5 480.5,544.5 490.5,545.5 500.5,543.5 510.5,542.5 520.5,545.5 530.5,545.5 540.5,544.5 550.5,541.5 560.5,545.5 570.5,545.5 580.5,545.5 590.5,544.5 600.5,545.5 610.5,544.5 620.5,545.5 630.5,545.5 640.5,539.5 650.5,502.5 660.5,492.5 670.5,517.5 680.5,530.5 690.5,545.5" stroke="#e0c8a0" stroke-width="1"/><path d="M59 545h3v1h-3zM60 544h1v3h-1zM69 545h3v1h-3zM70 544h1v3h-1zM79 545h3v1h-3zM80 544h1v3h-1zM89 545h3v1h-3zM90 544h1v3h-1zM99 545h3v1h-3zM100 544h1v3h-1zM109 545h3v1h-3zM110 544h1v3h-1zM119 545h3v1h-3zM120 544h1v3h-1zM129 545h3v1h-3zM130 544h1v3h-1zM139 545h3v1h-3zM140 544h1v3h-1zM149 545h3v1h-3zM150 544h1v3h-1zM159 545h3v1h-3zM160 544h1v3h-1zM169 545h3v1h-3zM170 544h1v3h-1zM179 545h3v1h-3zM180 544h1v3h-1zM189 545h3v1h-3zM190 544h1v3h-1zM199 545h3v1h-3zM200 544h1v3h-1zM209 545h3v1h-3zM210 544h1v3h-1zM219 545h3v1h-3zM220 544h1v3h-1zM229 545h3v1h-3zM230 544h1v3h-1zM239 545h3v1h-3zM240 544h1v3h-1zM249 545h3v1h-3zM250 544h1v3h-1zM259 545h3v1h-3zM260 544h1v3h-1zM269 545h3v1h-3zM270 544h1v3h-1zM279 545h3v1h-3zM280 544h1v3h-1zM289 545h3v1h-3zM290 544h1v3h-1zM299 545h3v1h-3zM300 544h1v3h-1zM309 545h3v1h-3zM310 544h1v3h-1zM319 545h3v1h-3zM320 544h1v3h-1zM329 545h3v1h-3zM330 544h1v3h-1zM339 545h3v1h-3zM340 544h1v3h-1zM349 545h3v1h-3zM350 544h1v3h-1zM359 545h3v1h-3zM360 544h1v3h-1zM369 545h3v1h-3zM370 544h1v3h-1zM379 545h3v1h-3zM380 544h1v3h-1zM389 541h3v1h-3zM390 540h1v3h-1zM399 545h3v1h-3zM400 544h1v3h-1zM409 542h3v1h-3zM410 541h1v3h-1zM419 545h3v1h-3zM420 544h1v3h-1zM429 543h3v1h-3zM430 542h1v3h-1zM439 545h3v1h-3zM440 544h1v3h-1zM449 545h3v1h-3zM450 544h1v3h-1zM459 545h3v1h-3zM460 544h1v3h-1zM469 541h3v1h-3zM470 540h1v3h-1zM479 544h3v1h-3zM480 543h1v3h-1zM489 545h3v1h-3zM490 544h1v3h-1zM499 543h3v1h-3zM500 542h1v3h-1zM509 542h3v1h-3zM510 541h1v3h-1zM519 545h3v1h-3zM520 544h1v3h-1zM529 545h3v1h-3zM530 544h1v3h-1zM539 544h3v1h-3zM540 543h1v3h-1zM549 541h3v1h-3zM550 540h1v3h-1zM559 545h3v1h-3zM560 544h1v3h-1zM569 545h3v1h-3zM570 544h1v3h-1zM579 545h3v1h-3zM580 544h1v3h-1zM589 544h3v1h-3zM590 543h1v3h-1zM599 545h3v1h-3zM600 544h1v3h-1zM609 544h3v1h-3zM610 543h1v3h-1zM619 545h3v1h-3zM620 544h1v3h-1zM629 545h3v1h-3zM630 544h1v3h-1zM639 539h3v1h-3zM640 538h1v3h-1zM649 502h3v1h-3zM650 501h1v3h-1zM659 492h3v1h-3zM660 491h1v3h-1zM669 517h3v1h-3zM670 516h1v3h-1zM679 530h3v1h-3zM680 529h1v3h-1zM689 545h3v1h-3zM690 544h1v3h-1z" fill="#e0c8a0" stroke="none"/>
<polyline class="l" points="60.5,545.5 70.5,545.5 80.5,545.5 90.5,545.5 100.5,545.5 110.5,545.5 120.5,545.5 130.5,545.5 140.5,545.5 150.5,545.5 160.5,545.5 170.5,545.5 180.5,545.5 190.5,545.5 200.5,545.5 210.5,545.5 220.5,545.5 230.5,545.5 240.5,545.5 250.5,545.5 260.5,545.5 270.5,545.5 280.5,545.5 290.5,545.5 300.5,545.5 310.5,545.5 320.5,545.5 330.5,545.5 340.5,545.5 350.5,545.5 360.5,545.5 370.5,545.5 380.5,545.5 390.5,545.5 400.5,544.5 410.5,545.5 420.5,545.5 430.5,545.5 440.5,543.5 450.5,540.5 460.5,544.5 470.5,545.5 480.5,545.5 490.5,545.5 500.5,545.5 510.5,543.5 520.5,545.5 530.5,545.5 540.5,542.5 550.5,545.5 560.5,545.5 570.5,540.5 580.5,543.5 590.5,545.5 600.5,543.5 610.5,545.5 620.5,545.5 630.5,541.5 640.5,545.5 650.5,544.5 660.5,544.5 670.5,545.5 680.5,545.5 690.5,545.5" stroke="#880010" stroke-width="1"/><path d="M59 545h3v1h-3zM60 544h1v3h-1zM69 545h3v1h-3zM70 544h1v3h-1zM79 545h3v1h-3zM80 544h1v3h-1zM89 545h3v1h-3zM90 544h1v3h-1zM99 545h3v1h-3zM100 544h1v3h-1zM109 545h3v1h-3zM110 544h1v3h-1zM119 545h3v1h-3zM120 544h1v3h-1zM129 545h3v1h-3zM130 544h1v3h-1zM139 545h3v1h-3zM140 544h1v3h-1zM149 545h3v1h-3zM150 544h1v3h-1zM159 545h3v1h-3zM160 544h1v3h-1zM169 545h3v1h-3zM170 544h1v3h-1zM179 545h3v1h-3zM180 544h1v3h-1zM189 545h3v1h-3zM190 544h1v3h-1zM199 545h3v1h-3zM200 544h1v3h-1zM209 545h3v1h-3zM210 544h1v3h-1zM219 545h3v1h-3zM220 544h1v3h-1zM229 545h3v1h-3zM230 544h1v3h-1zM239 545h3v1h-3zM240 544h1v3h-1zM249 545h3v1h-3zM250 544h1v3h-1zM259 545h3v1h-3zM260 544h1v3h-1zM269 545h3v1h-3zM270 544h1v3h-1zM279 545h3v1h-3zM280 544h1v3h-1zM289 545h3v1h-3zM290 544h1v3h-1zM299 545h3v1h-3zM300 544h1v3h-1zM309 545h3v1h-3zM310 544h1v3h-1zM319 545h3v1h-3zM320 544h1v3h-1zM329 545h3v1h-3zM330 544h1v3h-1zM339 545h3v1h-3zM340 544h1v3h-1zM349 545h3v1h-3zM350 544h1v3h-1zM359 545h3v1h-3zM360 544h1v3h-1zM369 545h3v1h-3zM370 544h1v3h-1zM379 545h3v1h-3zM380 544h1v3h-1zM389 545h3v1h-3zM390 544h1v3h-1zM399 544h3v1h-3zM400 543h1v3h-1zM409 545h3v1h-3zM410 544h1v3h-1zM419 545h3v1h-3zM420 544h1v3h-1zM429 545h3v1h-3zM430 544h1v3h-1zM439 543h3v1h-3zM440 542h1v3h-1zM449 540h3v1h-3zM450 539h1v3h-1zM459 544h3v1h-3zM460 543h1v3h-1zM469 545h3v1h-3zM470 544h1v3h-1zM479 545h3v1h-3zM480 544h1v3h-1zM489 545h3v1h-3zM490 544h1v3h-1zM499 545h3v1h-3zM500 544h1v3h-1zM509 543h3v1h-3zM510 542h1v3h-1zM519 545h3v1h-3zM520 544h1v3h-1zM529 545h3v1h-3zM530 544h1v3h-1zM539 542h3v1h-3zM540 541h1v3h-1zM549 545h3v1h-3zM550 544h1v3h-1zM559 545h3v1h-3zM560 544h1v3h-1zM569 540h3v1h-3zM570 539h1v3h-1zM579 543h3v1h-3zM580 542h1v3h-1zM589 545h3v1h-3zM590 544h1v3h-1zM599 543h3v1h-3zM600 542h1v3h-1zM609 545h3v1h-3zM610 544h1v3h-1zM619 545h3v1h-3zM620 544h1v3h-1zM629 541h3v1h-3zM630 540h1v3h-1zM639 545h3v1h-3zM640 544h1v3h-1zM649 544h3v1h-3zM650 543h1v3h-1zM659 544h3v1h-3zM660 543h1v3h-1zM669 545h3v1h-3zM670 544h1v3h-1zM679 545h3v1h-3zM680 544h1v3h-1zM689 545h3v1h-3zM690 544h1v3h-1z" fill="#880010" stroke="none"/>
<polyline class="l" points="60.5,545.5 70.5,545.5 80.5,545.5 90.5,545.5 100.5,545.5 110.5,545.5 120.5,545.5 130.5,545.5 140.5,545.5 150.5,545.5 160.5,545.5 170.5,545.5 180.5,545.5 190.5,545.5 200.5,545.5 210.5,545.5 220.5,545.5 230.5,545.5 240.5,545.5 250.5,545.5 260.5,545.5 270.5,545.5 280.5,545.5 290.5,545.5 300.5,545.5 310.5,545.5 320.5,545.5 330.5,545.5 340.5,545.5 350.5,545.5 360.5,537.5 370.5,529.5 380.5,522.5 390.5,545.5 400.5,545.5 410.5,543.5 420.5,545.5 430.5,545.5 440.5,545.5 450.5,545.5 460.5,542.5 470.5,545.5 480.5,545.5 490.5,545.5 500.5,545.5 510.5,545.5 520.5,542.5 530.5,545.5 540.5,545.5 550.5,545.5 560.5,545.5 570.5,545.5 580.5,542.5 590.5,545.5 600.5,545.5 610.5,545.5 620.5,545.5 630.5,545.5 640.5,545.5 650.5,545.5 660.5,545.5 670.5,545.5 680.5,545.5 690.5,545.5" stroke="#0030c0" stroke-width="1"/><path d="M59 545h3v1h-3zM60 544h1v3h-1zM69 545h3v1h-3zM70 544h1v3h-1zM79 545h3v1h-3zM80 544h1v3h-1zM89 545h3v1h-3zM90 544h1v3h-1zM99 545h3v1h-3zM100 544h1v3h-1zM109 545h3v1h-3zM110 544h1v3h-1zM119 545h3v1h-3zM120 544h1v3h-1zM129 545h3v1h-3zM130 544h1v3h-1zM139 545h3v1h-3zM140 544h1v3h-1zM149 545h3v1h-3zM150 544h1v3h-1zM159 545h3v1h-3zM160 544h1v3h-1zM169 545h3v1h-3zM170 544h1v3h-1zM179 545h3v1h-3zM180 544h1v3h-1zM189 545h3v1h-3zM190 544h1v3h-1zM199 545h3v1h-3zM200 544h1v3h-1zM209 545h3v1h-3zM210 544h1v3h-1zM219 545h3v1h-3zM220 544h1v3h-1zM229 545h3v1h-3zM230 544h1v3h-1zM239 545h3v1h-3zM240 544h1v3h-1zM249 545h3v1h-3zM250 544h1v3h-1zM259 545h3v1h-3zM260 544h1v3h-1zM269 545h3v1h-3zM270 544h1v3h-1zM279 545h3v1h-3zM280 544h1v3h-1zM289 545h3v1h-3zM290 544h1v3h-1zM299 545h3v1h-3zM300 544h1v3h-1zM309 545h3v1h-3zM310 544h1v3h-1zM319 545h3v1h-3zM320 544h1v3h-1zM329 545h3v1h-3zM330 544h1v3h-1zM339 545h3v1h-3zM340 544h1v3h-1zM349 545h3v1h-3zM350 544h1v3h-1zM359 537h3v1h-3zM360 536h1v3h-1zM369 529h3v1h-3zM370 528h1v3h-1zM379 522h3v1h-3zM380 521h1v3h-1zM389 545h3v1h-3zM390 544h1v3h-1zM399 545h3v1h-3zM400 544h1v3h-1zM409 543h3v1h-3zM410 542h1v3h-1zM419 545h3v1h-3zM420 544h1v3h-1zM429 545h3v1h-3zM430 544h1v3h-1zM439 545h3v1h-3zM440 544h1v3h-1zM449 545h3v1h-3zM450 544h1v3h-1zM459 542h3v1h-3zM460 541h1v3h-1zM469 545h3v1h-3zM470 544h1v3h-1zM479 545h3v1h-3zM480 544h1v3h-1zM489 545h3v1h-3zM490 544h1v3h-1zM499 545h3v1h-3zM500 544h1v3h-1zM509 545h3v1h-3zM510 544h1v3h-1zM519 542h3v1h-3zM520 541h1v3h-1zM529 545h3v1h-3zM530 544h1v3h-1zM539 545h3v1h-3zM540 544h1v3h-1zM549 545h3v1h-3zM550 544h1v3h-1zM559 545h3v1h-3zM560 544h1v3h-1zM569 545h3v1h-3zM570 544h1v3h-1zM579 542h3v1h-3zM580 541h1v3h-1zM589 545h3v1h-3zM590 544h1v3h-1zM599 545h3v1h-3zM600 544h1v3h-1zM609 545h3v1h-3zM610 544h1v3h-1zM619 545h3v1h-3zM620 544h1v3h-1zM629 545h3v1h-3zM630 544h1v3h-1zM639 545h3v1h-3zM640 544h1v3h-1zM649 545h3v1h-3zM650 544h1v3h-1zM659 545h3v1h-3zM660 544h1v3h-1zM669 545h3v1h-3zM670 544h1v3h-1zM679 545h3v1h-3zM680 544h1v3h-1zM689 545h3v1h-3zM690 544h1v3h-1z" fill="#0030c0" stroke="none"/>
</g>
<polyline class="l" points="50.5,202.7 60.5,204.9 70.5,205.2 80.5,210.8 90.5,200.8 100.5,184.6 110.5,177.3 120.5,169.2 130.5,168.1 140.5,168.9 150.5,169.2 160.5,168.1 170.5,167.0 180.5,168.1 190.5,167.8 200.5,166.8 210.5,167.8 220.5,169.2 230.5,171.1 240.5,170.4 250.5,171.1 260.5,173.8 270.5,177.3 280.5,180.5 290.5,183.2 300.5,187.3 310.5,191.4 320.5,194.9 330.5,197.6 340.5,200.0 350.5,201.1 360.5,201.9 370.5,202.2 380.5,201.5 390.5,199.9 400.5,198.8 410.5,197.9 420.5,197.7 430.5,197.5 440.5,197.2 450.5,197.5 460.5,197.7 470.5,197.0 480.5,197.0 490.5,197.5 500.5,198.3 510.5,197.9 520.5,198.3 530.5,198.5 540.5,198.7 550.5,197.8 560.5,198.9 570.5,200.0 580.5,203.5 590.5,203.5 600.5,202.8 610.5,201.7 620.5,205.4 630.5,207.0 640.5,208.1 650.5,207.6 660.5,207.6 670.5,206.5 680.5,205.4 690.5,204.0" stroke="#ff0000" stroke-width="4.2"/>
<polyline class="l" points="50.5,378.4 60.5,377.8 70.5,371.6 80.5,360.0 90.5,350.0 100.5,343.2 110.5,340.0 120.5,337.8 130.5,337.8 140.5,337.3 150.5,334.6 160.5,333.0 170.5,331.9 180.5,331.1 190.5,331.9 200.5,333.4 210.5,335.5 220.5,337.3 230.5,339.2 240.5,340.5 250.5,343.2 260.5,345.9 270.5,348.1 280.5,351.4 290.5,355.4 300.5,358.9 310.5,361.6 320.5,364.9 330.5,367.6 340.5,370.3 350.5,373.0 360.5,376.5 370.5,379.7 380.5,381.1 390.5,380.5 400.5,379.6 410.5,378.2 420.5,376.6 430.5,374.3 440.5,368.6 450.5,366.7 460.5,367.9 470.5,367.4 480.5,368.6 490.5,369.7 500.5,369.7 510.5,369.3 520.5,368.6 530.5,368.3 540.5,368.3 550.5,367.8 560.5,367.8 570.5,368.9 580.5,371.9 590.5,373.0 600.5,373.5 610.5,373.5 620.5,374.7 630.5,377.0 640.5,380.4 650.5,382.7 660.5,383.9 670.5,383.9 680.5,384.3 690.5,383.4" stroke="#ff0000" stroke-width="4.2"/>
<polyline class="l" points="60.5,545.0 70.5,545.0 80.5,545.0 90.5,545.0 100.5,545.0 110.5,545.0 120.5,545.0 130.5,545.0 140.5,545.0 150.5,545.0 160.5,545.0 170.5,545.0 180.5,545.0 190.5,545.0 200.5,545.0 210.5,545.0 220.5,545.0 230.5,545.0 240.5,545.0 250.5,545.0 260.5,545.0 270.5,545.0 280.5,545.0 290.5,545.0 300.5,545.0 310.5,545.0 320.5,545.0 330.5,545.0 340.5,545.0 350.5,545.0 360.5,545.0 370.5,545.0 380.5,545.0 390.5,545.0 400.5,544.0 410.5,541.6 420.5,543.0 430.5,542.5 440.5,541.0 450.5,539.0 460.5,540.5 470.5,542.0 480.5,542.5 490.5,542.0 500.5,541.0 510.5,541.0 520.5,537.0 530.5,536.0 540.5,540.0 550.5,541.0 560.5,540.5 570.5,540.5 580.5,541.0 590.5,541.5 600.5,541.0 610.5,536.7 620.5,539.0 630.5,540.0 640.5,540.0 650.5,540.0 660.5,540.0 670.5,541.5 680.5,543.0 690.5,545.0" stroke="#ff0000" stroke-width="3.6"/>
<rect x="50" y="600" width="641" height="1" fill="#000" shape-rendering="crispEdges"/>
<text class="m" x="59.3" y="157">Temp. 850hPa</text>
<text class="m" x="59.3" y="323">Temp. 500hPa</text>
<text class="m" x="59" y="540">Précipitations</text>
<text class="m" x="19" y="610">(°c)</text>
<text class="m" x="710" y="610.5">(mm)</text>
<text class="m" x="10" y="627">Alt. 534m</text>
<text class="d" transform="translate(61.5,631.5) rotate(-90)">07/12</text>
<text class="d" transform="translate(101.5,631.5) rotate(-90)">08/12</text>
<text class="d" transform="translate(141.5,631.5) rotate(-90)">09/12</text>
<text class="d" transform="translate(181.5,631.5) rotate(-90)">10/12</text>
<text class="d" transform="translate(221.5,631.5) rotate(-90)">11/12</text>
<text class="d" transform="translate(261.5,631.5) rotate(-90)">12/12</text>
<text class="d" transform="translate(301.5,631.5) rotate(-90)">13/12</text>
<text class="d" transform="translate(341.5,631.5) rotate(-90)">14/12</text>
<text class="d" transform="translate(381.5,631.5) rotate(-90)">15/12</text>
<text class="d" transform="translate(421.5,631.5) rotate(-90)">16/12</text>
<text class="d" transform="translate(461.5,631.5) rotate(-90)">17/12</text>
<text class="d" transform="translate(501.5,631.5) rotate(-90)">18/12</text>
<text class="d" transform="translate(541.5,631.5) rotate(-90)">19/12</text>
<text class="d" transform="translate(581.5,631.5) rotate(-90)">20/12</text>
<text class="d" transform="translate(621.5,631.5) rotate(-90)">21/12</text>
<text class="d" transform="translate(661.5,631.5) rotate(-90)">22/12</text>
<text class="d" transform="translate(701.5,631.5) rotate(-90)">23/12</text>
<rect x="525" y="581" width="71" height="2" fill="#c0fcff"/>
<rect x="605" y="581" width="81" height="2" fill="#c0fcff"/>
<polygon points="530.3,582.9 534.5,584.8 535.5,588.4 534.5,592.0 530.3,593.9 526.0999999999999,592.0 525.0999999999999,588.4 526.0999999999999,584.8" fill="#c4ecfb"/><path d="M530.3 583.1V593.6999999999999" stroke="#48b4ee" stroke-width="3" fill="none"/><path d="M526.0 585.1999999999999L534.5999999999999 591.6M534.5999999999999 585.1999999999999L526.0 591.6" stroke="#48b4ee" stroke-width="2.4" fill="none"/><path d="M525.6999999999999 586.4v1.2M534.9 586.4v1.2M525.6999999999999 590.4v-1.2M534.9 590.4v-1.2" stroke="#48b4ee" stroke-width="1.2" fill="none"/><circle cx="530.3" cy="592.6" r="1.1" fill="#20c0e8"/>
<text class="p" transform="translate(531.9,581) rotate(-90)" textLength="9.6" lengthAdjust="spacingAndGlyphs">3%</text>
<polygon points="540.3,582.9 544.5,584.8 545.5,588.4 544.5,592.0 540.3,593.9 536.0999999999999,592.0 535.0999999999999,588.4 536.0999999999999,584.8" fill="#c4ecfb"/><path d="M540.3 583.1V593.6999999999999" stroke="#48b4ee" stroke-width="3" fill="none"/><path d="M536.0 585.1999999999999L544.5999999999999 591.6M544.5999999999999 585.1999999999999L536.0 591.6" stroke="#48b4ee" stroke-width="2.4" fill="none"/><path d="M535.6999999999999 586.4v1.2M544.9 586.4v1.2M535.6999999999999 590.4v-1.2M544.9 590.4v-1.2" stroke="#48b4ee" stroke-width="1.2" fill="none"/><circle cx="540.3" cy="592.6" r="1.1" fill="#20c0e8"/>
<text class="p" transform="translate(541.9,581) rotate(-90)" textLength="9.6" lengthAdjust="spacingAndGlyphs">3%</text>
<polygon points="550.3,582.9 554.5,584.8 555.5,588.4 554.5,592.0 550.3,593.9 546.0999999999999,592.0 545.0999999999999,588.4 546.0999999999999,584.8" fill="#c4ecfb"/><path d="M550.3 583.1V593.6999999999999" stroke="#48b4ee" stroke-width="3" fill="none"/><path d="M546.0 585.1999999999999L554.5999999999999 591.6M554.5999999999999 585.1999999999999L546.0 591.6" stroke="#48b4ee" stroke-width="2.4" fill="none"/><path d="M545.6999999999999 586.4v1.2M554.9 586.4v1.2M545.6999999999999 590.4v-1.2M554.9 590.4v-1.2" stroke="#48b4ee" stroke-width="1.2" fill="none"/><circle cx="550.3" cy="592.6" r="1.1" fill="#20c0e8"/>
<text class="p" transform="translate(551.9,581) rotate(-90)" textLength="9.6" lengthAdjust="spacingAndGlyphs">3%</text>
<polygon points="560.3,582.9 564.5,584.8 565.5,588.4 564.5,592.0 560.3,593.9 556.0999999999999,592.0 555.0999999999999,588.4 556.0999999999999,584.8" fill="#c4ecfb"/><path d="M560.3 583.1V593.6999999999999" stroke="#48b4ee" stroke-width="3" fill="none"/><path d="M556.0 585.1999999999999L564.5999999999999 591.6M564.5999999999999 585.1999999999999L556.0 591.6" stroke="#48b4ee" stroke-width="2.4" fill="none"/><path d="M555.6999999999999 586.4v1.2M564.9 586.4v1.2M555.6999999999999 590.4v-1.2M564.9 590.4v-1.2" stroke="#48b4ee" stroke-width="1.2" fill="none"/><circle cx="560.3" cy="592.6" r="1.1" fill="#20c0e8"/>
<text class="p" transform="translate(561.9,581) rotate(-90)" textLength="9.6" lengthAdjust="spacingAndGlyphs">6%</text>
<polygon points="570.3,582.9 574.5,584.8 575.5,588.4 574.5,592.0 570.3,593.9 566.0999999999999,592.0 565.0999999999999,588.4 566.0999999999999,584.8" fill="#c4ecfb"/><path d="M570.3 583.1V593.6999999999999" stroke="#48b4ee" stroke-width="3" fill="none"/><path d="M566.0 585.1999999999999L574.5999999999999 591.6M574.5999999999999 585.1999999999999L566.0 591.6" stroke="#48b4ee" stroke-width="2.4" fill="none"/><path d="M565.6999999999999 586.4v1.2M574.9 586.4v1.2M565.6999999999999 590.4v-1.2M574.9 590.4v-1.2" stroke="#48b4ee" stroke-width="1.2" fill="none"/><circle cx="570.3" cy="592.6" r="1.1" fill="#20c0e8"/>
<text class="p" transform="translate(571.9,581) rotate(-90)" textLength="9.6" lengthAdjust="spacingAndGlyphs">6%</text>
<polygon points="580.3,582.9 584.5,584.8 585.5,588.4 584.5,592.0 580.3,593.9 576.0999999999999,592.0 575.0999999999999,588.4 576.0999999999999,584.8" fill="#c4ecfb"/><path d="M580.3 583.1V593.6999999999999" stroke="#48b4ee" stroke-width="3" fill="none"/><path d="M576.0 585.1999999999999L584.5999999999999 591.6M584.5999999999999 585.1999999999999L576.0 591.6" stroke="#48b4ee" stroke-width="2.4" fill="none"/><path d="M575.6999999999999 586.4v1.2M584.9 586.4v1.2M575.6999999999999 590.4v-1.2M584.9 590.4v-1.2" stroke="#48b4ee" stroke-width="1.2" fill="none"/><circle cx="580.3" cy="592.6" r="1.1" fill="#20c0e8"/>
<text class="p" transform="translate(581.9,581) rotate(-90)" textLength="9.6" lengthAdjust="spacingAndGlyphs">3%</text>
<polygon points="590.3,582.9 594.5,584.8 595.5,588.4 594.5,592.0 590.3,593.9 586.0999999999999,592.0 585.0999999999999,588.4 586.0999999999999,584.8" fill="#c4ecfb"/><path d="M590.3 583.1V593.6999999999999" stroke="#48b4ee" stroke-width="3" fill="none"/><path d="M586.0 585.1999999999999L594.5999999999999 591.6M594.5999999999999 585.1999999999999L586.0 591.6" stroke="#48b4ee" stroke-width="2.4" fill="none"/><path d="M585.6999999999999 586.4v1.2M594.9 586.4v1.2M585.6999999999999 590.4v-1.2M594.9 590.4v-1.2" stroke="#48b4ee" stroke-width="1.2" fill="none"/><circle cx="590.3" cy="592.6" r="1.1" fill="#20c0e8"/>
<text class="p" transform="translate(591.9,581) rotate(-90)" textLength="9.6" lengthAdjust="spacingAndGlyphs">3%</text>
<polygon points="610.3,582.9 614.5,584.8 615.5,588.4 614.5,592.0 610.3,593.9 606.0999999999999,592.0 605.0999999999999,588.4 606.0999999999999,584.8" fill="#c4ecfb"/><path d="M610.3 583.1V593.6999999999999" stroke="#48b4ee" stroke-width="3" fill="none"/><path d="M606.0 585.1999999999999L614.5999999999999 591.6M614.5999999999999 585.1999999999999L606.0 591.6" stroke="#48b4ee" stroke-width="2.4" fill="none"/><path d="M605.6999999999999 586.4v1.2M614.9 586.4v1.2M605.6999999999999 590.4v-1.2M614.9 590.4v-1.2" stroke="#48b4ee" stroke-width="1.2" fill="none"/><circle cx="610.3" cy="592.6" r="1.1" fill="#20c0e8"/>
<text class="p" transform="translate(611.9,581) rotate(-90)" textLength="9.6" lengthAdjust="spacingAndGlyphs">3%</text>
<polygon points="620.3,582.9 624.5,584.8 625.5,588.4 624.5,592.0 620.3,593.9 616.0999999999999,592.0 615.0999999999999,588.4 616.0999999999999,584.8" fill="#c4ecfb"/><path d="M620.3 583.1V593.6999999999999" stroke="#48b4ee" stroke-width="3" fill="none"/><path d="M616.0 585.1999999999999L624.5999999999999 591.6M624.5999999999999 585.1999999999999L616.0 591.6" stroke="#48b4ee" stroke-width="2.4" fill="none"/><path d="M615.6999999999999 586.4v1.2M624.9 586.4v1.2M615.6999999999999 590.4v-1.2M624.9 590.4v-1.2" stroke="#48b4ee" stroke-width="1.2" fill="none"/><circle cx="620.3" cy="592.6" r="1.1" fill="#20c0e8"/>
<text class="p" transform="translate(621.9,581) rotate(-90)" textLength="9.6" lengthAdjust="spacingAndGlyphs">6%</text>
<polygon points="630.3,582.9 634.5,584.8 635.5,588.4 634.5,592.0 630.3,593.9 626.0999999999999,592.0 625.0999999999999,588.4 626.0999999999999,584.8" fill="#c4ecfb"/><path d="M630.3 583.1V593.6999999999999" stroke="#48b4ee" stroke-width="3" fill="none"/><path d="M626.0 585.1999999999999L634.5999999999999 591.6M634.5999999999999 585.1999999999999L626.0 591.6" stroke="#48b4ee" stroke-width="2.4" fill="none"/><path d="M625.6999999999999 586.4v1.2M634.9 586.4v1.2M625.6999999999999 590.4v-1.2M634.9 590.4v-1.2" stroke="#48b4ee" stroke-width="1.2" fill="none"/><circle cx="630.3" cy="592.6" r="1.1" fill="#20c0e8"/>
<text class="p" transform="translate(631.9,581) rotate(-90)" textLength="9.6" lengthAdjust="spacingAndGlyphs">6%</text>
<polygon points="640.3,582.9 644.5,584.8 645.5,588.4 644.5,592.0 640.3,593.9 636.0999999999999,592.0 635.0999999999999,588.4 636.0999999999999,584.8" fill="#c4ecfb"/><path d="M640.3 583.1V593.6999999999999" stroke="#48b4ee" stroke-width="3" fill="none"/><path d="M636.0 585.1999999999999L644.5999999999999 591.6M644.5999999999999 585.1999999999999L636.0 591.6" stroke="#48b4ee" stroke-width="2.4" fill="none"/><path d="M635.6999999999999 586.4v1.2M644.9 586.4v1.2M635.6999999999999 590.4v-1.2M644.9 590.4v-1.2" stroke="#48b4ee" stroke-width="1.2" fill="none"/><circle cx="640.3" cy="592.6" r="1.1" fill="#20c0e8"/>
<text class="p" transform="translate(641.9,581) rotate(-90)" textLength="9.6" lengthAdjust="spacingAndGlyphs">6%</text>
<polygon points="650.3,582.9 654.5,584.8 655.5,588.4 654.5,592.0 650.3,593.9 646.0999999999999,592.0 645.0999999999999,588.4 646.0999999999999,584.8" fill="#c4ecfb"/><path d="M650.3 583.1V593.6999999999999" stroke="#48b4ee" stroke-width="3" fill="none"/><path d="M646.0 585.1999999999999L654.5999999999999 591.6M654.5999999999999 585.1999999999999L646.0 591.6" stroke="#48b4ee" stroke-width="2.4" fill="none"/><path d="M645.6999999999999 586.4v1.2M654.9 586.4v1.2M645.6999999999999 590.4v-1.2M654.9 590.4v-1.2" stroke="#48b4ee" stroke-width="1.2" fill="none"/><circle cx="650.3" cy="592.6" r="1.1" fill="#20c0e8"/>
<text class="p" transform="translate(651.9,581) rotate(-90)" textLength="14.6" lengthAdjust="spacingAndGlyphs">10%</text>
<polygon points="660.3,582.9 664.5,584.8 665.5,588.4 664.5,592.0 660.3,593.9 656.0999999999999,592.0 655.0999999999999,588.4 656.0999999999999,584.8" fill="#c4ecfb"/><path d="M660.3 583.1V593.6999999999999" stroke="#48b4ee" stroke-width="3" fill="none"/><path d="M656.0 585.1999999999999L664.5999999999999 591.6M664.5999999999999 585.1999999999999L656.0 591.6" stroke="#48b4ee" stroke-width="2.4" fill="none"/><path d="M655.6999999999999 586.4v1.2M664.9 586.4v1.2M655.6999999999999 590.4v-1.2M664.9 590.4v-1.2" stroke="#48b4ee" stroke-width="1.2" fill="none"/><circle cx="660.3" cy="592.6" r="1.1" fill="#20c0e8"/>
<text class="p" transform="translate(661.9,581) rotate(-90)" textLength="9.6" lengthAdjust="spacingAndGlyphs">3%</text>
<polygon points="670.3,582.9 674.5,584.8 675.5,588.4 674.5,592.0 670.3,593.9 666.0999999999999,592.0 665.0999999999999,588.4 666.0999999999999,584.8" fill="#c4ecfb"/><path d="M670.3 583.1V593.6999999999999" stroke="#48b4ee" stroke-width="3" fill="none"/><path d="M666.0 585.1999999999999L674.5999999999999 591.6M674.5999999999999 585.1999999999999L666.0 591.6" stroke="#48b4ee" stroke-width="2.4" fill="none"/><path d="M665.6999999999999 586.4v1.2M674.9 586.4v1.2M665.6999999999999 590.4v-1.2M674.9 590.4v-1.2" stroke="#48b4ee" stroke-width="1.2" fill="none"/><circle cx="670.3" cy="592.6" r="1.1" fill="#20c0e8"/>
<text class="p" transform="translate(671.9,581) rotate(-90)" textLength="9.6" lengthAdjust="spacingAndGlyphs">3%</text>
<polygon points="680.3,582.9 684.5,584.8 685.5,588.4 684.5,592.0 680.3,593.9 676.0999999999999,592.0 675.0999999999999,588.4 676.0999999999999,584.8" fill="#c4ecfb"/><path d="M680.3 583.1V593.6999999999999" stroke="#48b4ee" stroke-width="3" fill="none"/><path d="M676.0 585.1999999999999L684.5999999999999 591.6M684.5999999999999 585.1999999999999L676.0 591.6" stroke="#48b4ee" stroke-width="2.4" fill="none"/><path d="M675.6999999999999 586.4v1.2M684.9 586.4v1.2M675.6999999999999 590.4v-1.2M684.9 590.4v-1.2" stroke="#48b4ee" stroke-width="1.2" fill="none"/><circle cx="680.3" cy="592.6" r="1.1" fill="#20c0e8"/>
<text class="p" transform="translate(681.9,581) rotate(-90)" textLength="9.6" lengthAdjust="spacingAndGlyphs">3%</text>
<g shape-rendering="crispEdges">
<rect x="35" y="635" width="31" height="4" fill="#ff0000"/>
<rect x="225" y="636" width="31" height="4" fill="#0000f0"/>
<rect x="225" y="645" width="31" height="4" fill="#000"/>
<rect x="400" y="650" width="10" height="6" fill="#e08030"/>
<rect x="411" y="650" width="10" height="6" fill="#80c070"/>
<rect x="422" y="650" width="10" height="6" fill="#f0c010"/>
<rect x="433" y="650" width="10" height="6" fill="#9050b0"/>
<rect x="444" y="650" width="10" height="6" fill="#b05010"/>
<rect x="455" y="650" width="10" height="6" fill="#508010"/>
<rect x="466" y="650" width="10" height="6" fill="#1080f0"/>
<rect x="477" y="650" width="10" height="6" fill="#e8d8b0"/>
<rect x="488" y="650" width="10" height="6" fill="#4090c0"/>
<rect x="499" y="650" width="10" height="6" fill="#e0a050"/>
<rect x="510" y="650" width="10" height="6" fill="#605020"/>
<rect x="521" y="650" width="10" height="6" fill="#f06020"/>
<rect x="532" y="650" width="10" height="6" fill="#d0c080"/>
<rect x="543" y="650" width="10" height="6" fill="#10d050"/>
<rect x="554" y="650" width="10" height="6" fill="#204060"/>
<rect x="565" y="650" width="10" height="6" fill="#687078"/>
<rect x="576" y="650" width="10" height="6" fill="#e080f0"/>
<rect x="587" y="650" width="10" height="6" fill="#8020f0"/>
<rect x="598" y="650" width="10" height="6" fill="#806030"/>
<rect x="609" y="650" width="10" height="6" fill="#300870"/>
<rect x="620" y="650" width="10" height="6" fill="#f0d010"/>
<rect x="631" y="650" width="10" height="6" fill="#2060a0"/>
<rect x="642" y="650" width="10" height="6" fill="#905820"/>
<rect x="653" y="650" width="10" height="6" fill="#9888e8"/>
<rect x="664" y="650" width="10" height="6" fill="#a0f040"/>
<rect x="675" y="650" width="10" height="6" fill="#d070d0"/>
<rect x="686" y="650" width="10" height="6" fill="#2000a0"/>
<rect x="697" y="650" width="10" height="6" fill="#e0c8a0"/>
<rect x="708" y="650" width="10" height="6" fill="#880010"/>
<rect x="719" y="650" width="10" height="6" fill="#0030c0"/>
</g>
<text class="t" x="400.3" y="646.3" textLength="9" lengthAdjust="spacingAndGlyphs">01</text>
<text class="t" x="411.3" y="646.3" textLength="9" lengthAdjust="spacingAndGlyphs">02</text>
<text class="t" x="422.3" y="646.3" textLength="9" lengthAdjust="spacingAndGlyphs">03</text>
<text class="t" x="433.3" y="646.3" textLength="9" lengthAdjust="spacingAndGlyphs">04</text>
<text class="t" x="444.3" y="646.3" textLength="9" lengthAdjust="spacingAndGlyphs">05</text>
<text class="t" x="455.3" y="646.3" textLength="9" lengthAdjust="spacingAndGlyphs">06</text>
<text class="t" x="466.3" y="646.3" textLength="9" lengthAdjust="spacingAndGlyphs">07</text>
<text class="t" x="477.3" y="646.3" textLength="9" lengthAdjust="spacingAndGlyphs">08</text>
<text class="t" x="488.3" y="646.3" textLength="9" lengthAdjust="spacingAndGlyphs">09</text>
<text class="t" x="499.3" y="646.3" textLength="9" lengthAdjust="spacingAndGlyphs">10</text>
<text class="t" x="510.3" y="646.3" textLength="9" lengthAdjust="spacingAndGlyphs">11</text>
<text class="t" x="521.3" y="646.3" textLength="9" lengthAdjust="spacingAndGlyphs">12</text>
<text class="t" x="532.3" y="646.3" textLength="9" lengthAdjust="spacingAndGlyphs">13</text>
<text class="t" x="543.3" y="646.3" textLength="9" lengthAdjust="spacingAndGlyphs">14</text>
<text class="t" x="554.3" y="646.3" textLength="9" lengthAdjust="spacingAndGlyphs">15</text>
<text class="t" x="565.3" y="646.3" textLength="9" lengthAdjust="spacingAndGlyphs">16</text>
<text class="t" x="576.3" y="646.3" textLength="9" lengthAdjust="spacingAndGlyphs">17</text>
<text class="t" x="587.3" y="646.3" textLength="9" lengthAdjust="spacingAndGlyphs">18</text>
<text class="t" x="598.3" y="646.3" textLength="9" lengthAdjust="spacingAndGlyphs">19</text>
<text class="t" x="609.3" y="646.3" textLength="9" lengthAdjust="spacingAndGlyphs">20</text>
<text class="t" x="620.3" y="646.3" textLength="9" lengthAdjust="spacingAndGlyphs">21</text>
<text class="t" x="631.3" y="646.3" textLength="9" lengthAdjust="spacingAndGlyphs">22</text>
<text class="t" x="642.3" y="646.3" textLength="9" lengthAdjust="spacingAndGlyphs">23</text>
<text class="t" x="653.3" y="646.3" textLength="9" lengthAdjust="spacingAndGlyphs">24</text>
<text class="t" x="664.3" y="646.3" textLength="9" lengthAdjust="spacingAndGlyphs">25</text>
<text class="t" x="675.3" y="646.3" textLength="9" lengthAdjust="spacingAndGlyphs">26</text>
<text class="t" x="686.3" y="646.3" textLength="9" lengthAdjust="spacingAndGlyphs">27</text>
<text class="t" x="697.3" y="646.3" textLength="9" lengthAdjust="spacingAndGlyphs">28</text>
<text class="t" x="708.3" y="646.3" textLength="9" lengthAdjust="spacingAndGlyphs">29</text>
<text class="t" x="719.3" y="646.3" textLength="9" lengthAdjust="spacingAndGlyphs">30</text>
<text class="m" x="74" y="641">Moyenne des scénarios</text>
<text class="m" x="263.7" y="641">Run de contrôle</text>
<text class="m" x="263.7" y="651">Run GFS</text>
<text class="m" x="339" y="655">30 Perts.</text>
<polygon points="60.5,652.5 64.7,654.4 65.7,658 64.7,661.6 60.5,663.5 56.3,661.6 55.3,658 56.3,654.4" fill="#c4ecfb"/><path d="M60.5 652.7V663.3" stroke="#48b4ee" stroke-width="3" fill="none"/><path d="M56.2 654.8L64.8 661.2M64.8 654.8L56.2 661.2" stroke="#48b4ee" stroke-width="2.4" fill="none"/><path d="M55.9 656v1.2M65.1 656v1.2M55.9 660v-1.2M65.1 660v-1.2" stroke="#48b4ee" stroke-width="1.2" fill="none"/><circle cx="60.5" cy="662.2" r="1.1" fill="#20c0e8"/>
<text class="m" x="74" y="663">Risque neige</text>
<rect x="20.5" y="667.5" width="419" height="32" fill="#fff" stroke="#000" stroke-width="1" shape-rendering="crispEdges"/>
<text class="b" x="29" y="681">Diagramme des ensembles GEFS sur 384h : 42.2N 14.1E</text>
<text class="m" x="29.3" y="695.5">Températures 850hPa et 500hPa (°C) , précipitations (mm)</text>
<text class="m" x="450" y="680">Ensemble GEFS du 07/12/2025 - 00Z</text>
<text class="b" x="450" y="695">Copyright 2025 Meteociel.fr</text>
</svg></body></html>
